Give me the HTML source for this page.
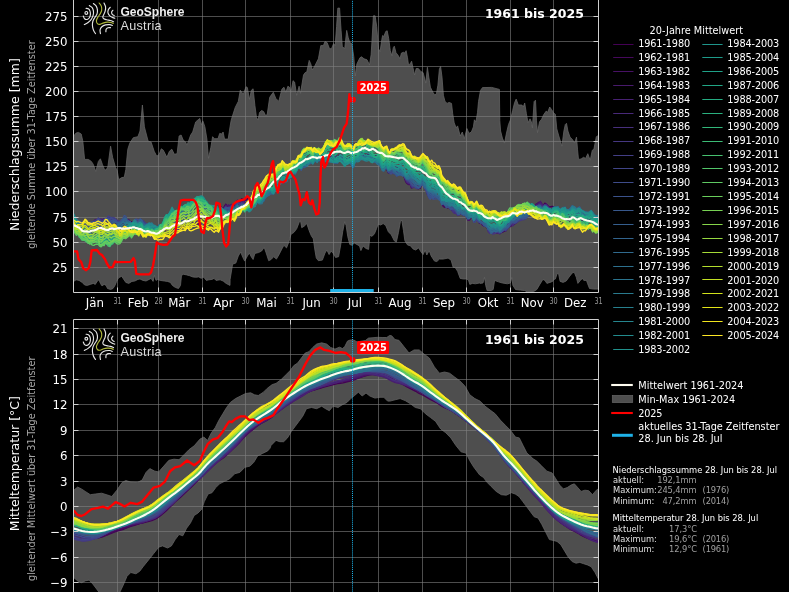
<!DOCTYPE html><html><head><meta charset="utf-8"><title>Klimamonitoring</title><style>html,body{margin:0;padding:0;background:#000;overflow:hidden}svg{display:block}</style></head><body><svg width="789" height="592" viewBox="0 0 789 592" font-family="'DejaVu Sans','Liberation Sans',sans-serif">
<rect width="789" height="592" fill="#000"/>
<defs><clipPath id="ct"><rect x="73.5" y="-5" width="525.0" height="297.5"/></clipPath><clipPath id="cb"><rect x="73.5" y="319.5" width="525.0" height="277.5"/></clipPath></defs>
<g clip-path="url(#ct)">
<path d="M73.5 136.0L73.7 136.0L76.1 133.0L78.5 132.4L81.2 134.0L82.8 141.1L84.6 159.4L88.3 159.4L91.3 161.4L93.3 164.4L95.8 171.5L98.4 161.4L100.4 158.8L102.4 164.4L104.5 169.5L106.1 170.1L107.9 166.5L110.6 146.2L112.6 157.3L115.6 167.5L117.2 170.5L118.7 179.6L121.7 177.6L124.3 177.2L125.8 169.5L127.8 149.2L129.8 143.1L133.3 137.7L137.9 136.7L140.0 131.0L142.4 105.0L144.4 126.9L148.1 141.1L151.1 142.1L154.2 151.3L156.8 156.3L159.2 154.3L161.3 148.8L163.3 150.2L166.9 157.3L169.4 151.3L171.8 149.2L174.4 154.3L177.1 153.7L179.1 136.0L181.1 135.0L183.2 140.1L185.6 142.1L187.0 145.2L190.7 135.0L192.7 132.0L195.7 121.9L199.8 118.4L201.4 124.9L202.8 120.8L204.9 126.9L206.9 139.1L208.5 158.4L210.9 147.2L212.6 136.7L214.4 138.7L218.0 138.7L219.7 133.4L221.7 134.0L223.1 132.0L224.5 139.1L228.2 139.1L230.0 126.9L231.2 120.1L235.2 107.5L238.3 101.4L240.3 90.2L243.3 94.3L246.0 86.8L247.4 87.6L249.4 99.4L251.4 90.2L253.1 88.8L254.9 105.4L256.5 117.6L258.1 120.1L259.5 112.5L261.6 110.5L263.6 111.5L265.6 115.6L267.2 114.6L269.7 97.3L273.3 92.3L275.8 98.4L278.8 101.4L281.9 89.2L283.9 87.2L285.9 92.3L287.9 86.2L289.4 87.2L291.0 92.3L293.0 80.7L294.6 82.1L296.7 95.3L299.1 86.2L300.5 93.3L303.5 75.0L305.2 72.6L306.8 72.0L309.2 60.4L310.8 63.9L312.3 70.0L314.3 66.9L318.4 58.8L320.8 45.6L323.4 45.6L325.0 41.6L327.1 42.6L329.5 48.7L331.5 48.7L333.6 43.6L335.2 45.6L336.6 26.4L337.8 8.1L339.6 8.1L341.1 30.4L342.3 46.6L344.7 48.7L346.7 30.4L348.2 37.5L349.8 42.6L351.8 43.6L353.8 56.8L355.3 76.0L356.9 63.9L359.9 57.8L361.5 56.8L364.0 58.8L367.0 59.8L369.5 64.9L371.1 54.8L372.0 40.6L373.4 15.8L375.1 15.8L376.7 26.4L378.5 48.7L380.1 51.7L381.8 39.5L382.6 35.5L383.8 36.5L385.8 31.4L387.2 30.8L388.7 38.5L390.3 50.7L391.9 55.8L393.3 47.7L394.3 46.2L396.0 52.7L398.4 55.8L400.0 58.8L401.4 53.1L403.5 52.3L404.9 53.1L406.1 50.7L407.5 57.8L408.5 64.9L410.2 63.9L411.6 61.2L413.0 67.9L414.6 75.0L416.2 68.5L418.3 68.5L420.7 71.4L423.1 72.6L424.8 79.1L425.8 83.1L427.4 67.3L428.8 77.1L430.4 87.2L432.9 92.3L434.9 95.3L436.5 93.3L437.9 85.2L439.4 68.9L440.6 66.5L442.0 77.1L443.4 95.3L445.0 101.4L447.1 103.4L449.1 102.4L451.5 103.4L452.7 113.7L454.2 122.9L456.2 127.9L457.6 125.9L460.2 136.0L462.3 132.0L464.3 138.7L466.9 128.5L469.0 133.4L471.4 132.0L473.4 126.9L474.4 119.8L475.9 121.9L477.5 112.7L478.5 101.6L480.5 90.4L482.5 87.6L491.7 87.4L499.4 89.4L499.8 120.8L500.6 131.0L502.4 138.1L504.5 143.1L506.5 133.0L508.5 124.5L510.5 119.8L512.6 110.7L514.6 102.6L516.2 99.1L518.3 105.0L521.9 105.0L523.3 107.0L524.7 103.0L526.4 113.7L528.0 122.9L530.0 118.8L531.4 121.9L532.4 127.9L534.1 101.6L535.5 100.2L536.5 120.8L537.5 132.6L539.5 121.9L541.6 119.2L543.6 114.8L546.2 111.1L547.7 112.3L549.7 107.0L551.7 109.7L553.7 113.1L555.4 114.3L556.8 128.9L558.8 136.0L560.4 141.1L561.9 146.2L563.9 131.0L565.3 124.5L566.5 123.3L567.9 131.0L570.0 137.1L572.6 139.7L574.6 143.1L576.5 137.1L577.5 149.2L578.5 159.4L581.1 159.0L583.5 157.3L585.6 158.4L587.8 153.7L590.2 160.4L592.3 150.2L593.9 149.2L596.3 136.7L598.6 135.4L598.5 135.4L598.5 289.1L598.6 289.1L593.6 289.1L589.5 288.5L587.5 283.4L586.5 280.4L583.8 280.4L582.4 278.4L580.4 280.4L577.9 283.4L576.3 277.3L574.3 272.3L572.3 272.9L569.2 276.9L566.2 281.0L563.1 282.4L560.1 281.4L558.5 273.3L557.1 273.7L555.4 279.0L554.0 279.4L552.6 281.4L550.0 282.4L546.9 283.4L544.9 280.4L542.9 279.4L539.8 284.4L536.8 289.5L533.7 291.5L527.7 292.1L524.6 290.5L520.6 290.1L515.5 289.5L512.9 285.4L511.8 277.3L510.4 283.0L507.4 283.8L502.3 283.0L498.3 281.8L494.6 280.4L493.2 289.5L491.2 290.5L487.1 290.5L485.7 285.4L484.5 277.3L483.0 283.0L480.0 283.4L479.5 283.0L475.4 283.8L472.4 283.4L469.8 284.4L468.4 279.8L466.3 279.0L463.3 279.0L460.2 278.4L457.6 271.3L455.2 267.6L453.1 267.2L451.1 260.1L448.1 258.1L443.0 259.1L439.4 259.1L436.9 261.5L434.5 261.1L431.2 256.0L429.2 250.6L426.8 255.0L425.2 250.0L423.1 254.6L421.1 252.0L418.7 247.9L415.6 250.0L413.0 248.9L410.6 245.9L407.5 244.9L404.9 240.8L403.5 230.7L401.8 220.2L400.4 221.6L398.4 232.7L396.4 241.9L394.3 240.8L391.3 234.8L388.3 231.7L385.8 225.6L383.2 223.6L380.5 225.0L378.1 224.2L376.5 228.7L374.5 233.7L372.0 236.4L370.1 235.2L370.0 234.8L368.6 249.4L366.0 248.5L363.0 245.9L360.9 250.6L359.5 245.9L356.9 244.5L354.2 242.9L352.2 245.3L349.8 244.5L347.8 236.8L346.1 225.6L344.7 221.6L342.7 231.7L340.7 244.9L338.6 256.7L335.6 257.5L333.2 253.4L331.1 251.0L329.1 254.6L326.9 250.0L325.0 253.0L322.4 260.1L318.4 260.7L316.3 258.1L314.9 250.0L313.3 238.8L311.3 235.8L309.2 230.7L306.8 223.6L304.2 226.2L301.7 227.7L300.5 220.6L299.1 222.6L296.7 228.7L294.0 232.3L291.0 234.3L288.9 241.9L286.5 247.9L283.9 245.3L281.9 248.9L278.8 255.0L276.4 259.1L273.7 256.7L271.1 259.5L268.7 260.7L266.2 253.0L264.2 247.3L261.6 251.0L258.5 252.6L254.9 253.4L253.1 259.5L251.4 257.1L249.4 253.0L247.4 256.0L244.7 261.1L242.7 257.1L240.7 252.0L238.3 256.0L235.8 263.1L232.6 264.2L230.1 279.4L230.0 285.4L226.1 283.4L223.1 281.0L220.1 279.8L216.0 280.4L214.0 278.4L212.0 279.4L208.9 279.8L206.3 280.4L204.2 277.7L202.8 276.9L201.4 278.4L198.8 276.9L195.7 277.3L192.7 276.9L189.6 275.7L186.6 274.9L183.6 274.3L181.5 275.3L180.5 285.4L178.5 288.5L175.4 287.5L172.4 285.4L170.4 282.4L167.3 281.4L164.3 281.0L160.2 280.4L157.6 279.4L156.0 280.4L154.4 275.3L153.1 281.4L151.1 278.4L149.1 279.4L146.0 281.0L143.0 280.4L140.0 279.0L137.9 279.4L134.9 281.0L131.9 281.4L128.8 283.4L125.8 282.4L123.1 278.4L121.7 276.3L118.7 277.7L116.6 281.4L115.0 285.4L113.0 288.5L110.6 289.5L107.5 288.5L106.1 285.4L104.1 284.4L102.0 285.9L100.4 283.4L99.0 279.8L97.4 281.0L95.3 284.4L93.3 283.4L90.3 284.4L87.2 285.4L84.6 285.0L82.2 282.4L79.1 280.4L76.1 279.8L73.7 281.4L73.5 281.4Z" fill="#4e4e4e" stroke="#636363" stroke-width="0.8" stroke-linejoin="round"/>
<path d="M73.5 267.5H598.5M73.5 242.5H598.5M73.5 217.5H598.5M73.5 191.5H598.5M73.5 166.5H598.5M73.5 141.5H598.5M73.5 116.5H598.5M73.5 91.5H598.5M73.5 66.5H598.5M73.5 41.5H598.5M73.5 16.5H598.5M117.5 -5V292.5M158.5 -5V292.5M202.5 -5V292.5M245.5 -5V292.5M290.5 -5V292.5M333.5 -5V292.5M378.5 -5V292.5M422.5 -5V292.5M466.5 -5V292.5M510.5 -5V292.5M553.5 -5V292.5" stroke="#808080" stroke-opacity="0.6" stroke-width="1" fill="none"/>
<path d="M73.5 222.7L75.0 222.9L76.4 224.7L77.9 225.1L79.3 225.7L80.8 224.2L82.2 225.2L83.7 222.9L85.1 223.4L86.6 224.5L88.0 226.0L89.5 225.6L90.9 223.3L92.4 223.4L93.8 224.0L95.3 223.0L96.7 222.2L98.2 220.5L99.6 221.8L101.1 221.4L102.5 220.2L104.0 219.4L105.4 219.5L106.9 219.1L108.3 217.7L109.8 218.4L111.2 219.8L112.7 220.5L114.1 220.5L115.6 222.0L117.0 224.5L118.5 223.7L119.9 225.1L121.4 223.2L122.8 222.0L124.3 221.6L125.7 220.1L127.2 220.1L128.6 220.7L130.1 221.8L131.5 222.1L133.0 223.3L134.4 222.4L135.9 222.6L137.3 223.8L138.8 224.1L140.2 223.1L141.7 223.9L143.1 226.2L144.6 225.6L146.0 225.4L147.5 224.1L148.9 226.6L150.4 228.8L151.8 228.8L153.3 229.3L154.7 229.5L156.2 230.0L157.6 229.8L159.1 230.7L160.5 231.6L162.0 232.0L163.4 231.5L164.9 230.8L166.3 229.2L167.8 231.0L169.2 230.7L170.7 229.3L172.1 229.7L173.6 229.8L175.0 227.5L176.5 229.2L177.9 229.9L179.4 227.6L180.8 227.1L182.3 227.3L183.7 226.8L185.2 228.6L186.6 226.9L188.1 225.6L189.5 226.5L191.0 225.4L192.4 224.5L193.9 224.5L195.3 224.9L196.8 224.3L198.2 224.0L199.7 222.2L201.1 220.5L202.6 220.0L204.0 218.8L205.5 216.3L206.9 215.9L208.4 215.4L209.8 213.7L211.3 211.5L212.7 211.9L214.2 210.5L215.6 208.0L217.1 207.2L218.5 210.0L220.0 209.8L221.4 207.3L222.9 209.2L224.3 206.6L225.8 204.2L227.2 206.3L228.7 205.9L230.1 207.3L231.6 204.9L233.0 205.1L234.5 205.7L235.9 203.5L237.4 200.3L238.8 203.3L240.3 201.2L241.7 198.6L243.2 199.3L244.6 199.6L246.1 198.2L247.5 198.7L249.0 200.8L250.4 202.7L251.9 202.9L253.3 199.9L254.8 200.0L256.2 198.3L257.7 195.5L259.1 196.6L260.6 195.9L262.0 196.6L263.5 192.9L264.9 191.3L266.4 189.7L267.8 190.5L269.3 187.9L270.7 188.0L272.2 188.7L273.6 188.3L275.1 183.8L276.5 182.3L278.0 182.3L279.4 180.7L280.9 179.3L282.3 177.2L283.8 176.3L285.2 175.6L286.7 174.1L288.1 173.9L289.6 174.6L291.0 174.3L292.5 171.9L293.9 171.2L295.4 170.7L296.8 169.4L298.3 167.1L299.7 166.2L301.2 167.9L302.6 161.7L304.1 161.1L305.5 161.7L307.0 159.3L308.4 159.0L309.9 158.6L311.3 160.5L312.8 162.4L314.2 157.4L315.7 157.1L317.1 159.8L318.6 159.8L320.0 157.8L321.5 160.0L322.9 159.2L324.4 158.2L325.8 157.5L327.3 155.9L328.7 154.6L330.2 156.3L331.6 157.2L333.1 157.1L334.5 155.6L336.0 156.8L337.4 158.7L338.9 158.1L340.3 158.7L341.8 159.6L343.2 159.4L344.7 159.0L346.1 158.9L347.6 158.3L349.0 157.3L350.5 156.4L351.9 158.3L353.4 158.6L354.8 155.4L356.3 153.5L357.7 153.4L359.2 151.3L360.6 150.3L362.1 151.5L363.5 153.9L365.0 155.9L366.4 157.7L367.9 156.1L369.3 157.1L370.8 156.0L372.2 158.0L373.7 155.6L375.1 155.9L376.6 157.2L378.0 159.3L379.5 161.9L380.9 165.8L382.4 167.4L383.8 166.8L385.3 165.5L386.7 167.7L388.2 172.2L389.6 173.1L391.1 170.2L392.5 168.7L394.0 168.2L395.4 167.0L396.9 167.5L398.3 169.7L399.8 169.6L401.2 169.4L402.7 171.6L404.1 175.1L405.6 178.5L407.0 181.3L408.5 182.7L409.9 181.7L411.4 184.3L412.8 185.3L414.3 184.2L415.7 184.6L417.2 186.6L418.6 186.8L420.1 188.2L421.5 185.2L423.0 183.9L424.4 186.0L425.9 187.1L427.3 189.4L428.8 193.7L430.2 194.2L431.7 195.4L433.1 195.5L434.6 196.5L436.0 195.9L437.5 195.9L438.9 196.2L440.4 198.8L441.8 203.2L443.3 205.5L444.7 205.1L446.2 207.3L447.6 208.0L449.1 207.1L450.5 209.3L452.0 208.9L453.4 209.6L454.9 210.6L456.3 211.1L457.8 212.9L459.2 214.0L460.7 213.0L462.1 213.5L463.6 213.1L465.0 212.5L466.5 215.7L467.9 218.5L469.4 219.5L470.8 217.1L472.3 217.0L473.7 218.5L475.2 218.0L476.6 215.7L478.1 219.8L479.5 222.0L481.0 222.3L482.4 224.8L483.9 225.9L485.3 226.1L486.8 227.2L488.2 230.0L489.7 230.6L491.1 230.4L492.6 230.9L494.0 230.9L495.5 231.1L496.9 231.3L498.4 232.4L499.8 232.5L501.3 232.7L502.7 232.2L504.2 230.8L505.6 231.1L507.1 229.1L508.5 226.8L510.0 224.2L511.4 222.9L512.9 222.3L514.3 221.9L515.8 221.1L517.2 220.8L518.7 218.8L520.1 217.8L521.6 217.6L523.0 215.8L524.5 215.4L525.9 213.5L527.4 212.3L528.8 211.5L530.3 209.4L531.7 207.7L533.2 209.0L534.6 207.1L536.1 204.4L537.5 204.6L539.0 202.9L540.4 203.3L541.9 205.5L543.3 205.8L544.8 203.1L546.2 204.3L547.7 205.6L549.1 207.1L550.6 206.6L552.0 206.3L553.5 206.7L554.9 209.3L556.4 211.8L557.8 211.1L559.3 215.0L560.7 216.3L562.2 216.5L563.6 214.9L565.1 216.4L566.5 218.9L568.0 220.3L569.4 219.1L570.9 217.3L572.3 216.9L573.8 217.8L575.2 219.4L576.7 220.6L578.1 219.4L579.6 218.4L581.0 220.8L582.5 219.9L583.9 218.5L585.4 220.0L586.8 220.7L588.3 220.1L589.7 218.1L591.2 220.3L592.6 223.7L594.1 225.3L595.5 223.9L597.0 223.4L598.4 224.5" stroke="#440154" stroke-width="1.35" fill="none" stroke-linejoin="round"/>
<path d="M73.5 221.7L75.0 222.7L76.4 226.1L77.9 225.2L79.3 225.9L80.8 224.1L82.2 225.2L83.7 223.0L85.1 222.2L86.6 223.8L88.0 224.7L89.5 227.3L90.9 224.3L92.4 224.3L93.8 224.8L95.3 222.8L96.7 222.6L98.2 219.9L99.6 220.3L101.1 220.9L102.5 219.7L104.0 219.1L105.4 219.7L106.9 220.7L108.3 219.8L109.8 219.0L111.2 220.9L112.7 219.5L114.1 219.4L115.6 220.2L117.0 222.0L118.5 222.0L119.9 224.7L121.4 223.4L122.8 223.8L124.3 222.5L125.7 221.4L127.2 221.4L128.6 220.6L130.1 221.3L131.5 221.6L133.0 223.2L134.4 222.7L135.9 222.1L137.3 222.9L138.8 223.3L140.2 223.7L141.7 224.0L143.1 226.3L144.6 224.8L146.0 225.5L147.5 224.4L148.9 226.1L150.4 227.5L151.8 227.9L153.3 229.7L154.7 229.7L156.2 229.1L157.6 230.2L159.1 230.9L160.5 230.7L162.0 231.2L163.4 231.3L164.9 230.7L166.3 229.4L167.8 230.5L169.2 230.6L170.7 229.2L172.1 229.0L173.6 229.9L175.0 226.9L176.5 226.0L177.9 227.7L179.4 226.7L180.8 226.9L182.3 226.2L183.7 225.0L185.2 227.5L186.6 225.9L188.1 224.2L189.5 226.1L191.0 225.9L192.4 224.3L193.9 224.3L195.3 224.6L196.8 224.4L198.2 222.8L199.7 221.5L201.1 220.3L202.6 219.6L204.0 219.0L205.5 216.3L206.9 215.8L208.4 215.5L209.8 214.2L211.3 212.9L212.7 212.6L214.2 211.9L215.6 209.8L217.1 208.9L218.5 209.7L220.0 209.4L221.4 207.1L222.9 209.3L224.3 208.0L225.8 205.0L227.2 205.8L228.7 205.7L230.1 207.2L231.6 205.8L233.0 206.2L234.5 206.9L235.9 204.3L237.4 200.7L238.8 202.7L240.3 201.5L241.7 200.0L243.2 200.3L244.6 200.7L246.1 199.3L247.5 200.7L249.0 201.9L250.4 202.4L251.9 202.6L253.3 200.1L254.8 198.8L256.2 196.7L257.7 194.8L259.1 196.3L260.6 196.1L262.0 195.6L263.5 191.3L264.9 190.3L266.4 189.1L267.8 190.3L269.3 188.8L270.7 188.2L272.2 189.8L273.6 189.2L275.1 184.3L276.5 181.1L278.0 180.6L279.4 180.1L280.9 180.0L282.3 178.5L283.8 179.0L285.2 179.1L286.7 177.1L288.1 176.1L289.6 174.8L291.0 174.0L292.5 171.6L293.9 170.0L295.4 170.7L296.8 168.8L298.3 166.6L299.7 166.2L301.2 168.5L302.6 164.3L304.1 162.7L305.5 163.6L307.0 162.0L308.4 161.4L309.9 160.4L311.3 159.6L312.8 160.6L314.2 156.4L315.7 157.8L317.1 158.9L318.6 158.6L320.0 157.4L321.5 160.6L322.9 159.6L324.4 156.6L325.8 157.3L327.3 156.4L328.7 155.9L330.2 157.4L331.6 158.2L333.1 158.8L334.5 157.0L336.0 158.4L337.4 159.4L338.9 157.3L340.3 156.9L341.8 158.1L343.2 157.9L344.7 158.2L346.1 158.3L347.6 158.0L349.0 157.4L350.5 156.9L351.9 159.7L353.4 160.2L354.8 156.6L356.3 154.2L357.7 155.2L359.2 152.5L360.6 151.8L362.1 153.2L363.5 154.4L365.0 156.1L366.4 157.1L367.9 155.0L369.3 156.5L370.8 157.5L372.2 158.8L373.7 156.1L375.1 155.4L376.6 156.1L378.0 157.4L379.5 159.6L380.9 164.9L382.4 167.9L383.8 169.2L385.3 167.3L386.7 169.1L388.2 172.7L389.6 172.4L391.1 169.8L392.5 167.4L394.0 169.1L395.4 168.1L396.9 168.0L398.3 169.3L399.8 168.0L401.2 169.7L402.7 171.9L404.1 176.6L405.6 181.6L407.0 183.5L408.5 184.3L409.9 183.7L411.4 185.5L412.8 185.2L414.3 183.1L415.7 184.6L417.2 188.2L418.6 188.5L420.1 187.9L421.5 183.2L423.0 184.7L424.4 186.1L425.9 186.6L427.3 188.7L428.8 193.1L430.2 192.7L431.7 193.8L433.1 194.7L434.6 195.9L436.0 195.4L437.5 195.7L438.9 196.9L440.4 199.1L441.8 203.8L443.3 206.5L444.7 207.3L446.2 206.8L447.6 205.5L449.1 205.7L450.5 208.6L452.0 208.8L453.4 208.6L454.9 209.5L456.3 209.5L457.8 211.7L459.2 212.7L460.7 212.4L462.1 212.8L463.6 212.9L465.0 212.4L466.5 216.7L467.9 219.8L469.4 220.1L470.8 216.6L472.3 218.0L473.7 220.7L475.2 219.8L476.6 217.6L478.1 221.1L479.5 223.3L481.0 222.3L482.4 224.4L483.9 225.6L485.3 224.9L486.8 225.0L488.2 227.9L489.7 229.9L491.1 230.9L492.6 231.3L494.0 232.0L495.5 231.4L496.9 232.3L498.4 232.6L499.8 231.7L501.3 232.0L502.7 231.1L504.2 229.0L505.6 229.7L507.1 227.7L508.5 227.0L510.0 226.4L511.4 225.9L512.9 225.1L514.3 224.2L515.8 222.9L517.2 221.6L518.7 218.4L520.1 217.9L521.6 215.7L523.0 215.4L524.5 214.9L525.9 213.4L527.4 211.4L528.8 210.2L530.3 209.3L531.7 207.3L533.2 207.3L534.6 207.0L536.1 204.6L537.5 203.8L539.0 202.3L540.4 202.4L541.9 204.7L543.3 205.9L544.8 204.6L546.2 204.4L547.7 206.5L549.1 209.1L550.6 209.8L552.0 208.4L553.5 207.1L554.9 209.5L556.4 210.7L557.8 210.6L559.3 214.4L560.7 216.0L562.2 215.3L563.6 214.5L565.1 216.3L566.5 219.3L568.0 220.5L569.4 220.4L570.9 218.3L572.3 215.9L573.8 215.9L575.2 217.6L576.7 218.5L578.1 217.2L579.6 217.8L581.0 219.7L582.5 219.7L583.9 217.8L585.4 218.9L586.8 221.0L588.3 219.6L589.7 219.1L591.2 220.0L592.6 222.7L594.1 224.0L595.5 223.6L597.0 221.1L598.4 222.7" stroke="#46085c" stroke-width="1.35" fill="none" stroke-linejoin="round"/>
<path d="M73.5 221.0L75.0 223.5L76.4 225.8L77.9 224.6L79.3 226.7L80.8 225.5L82.2 225.8L83.7 223.3L85.1 223.5L86.6 224.2L88.0 226.1L89.5 226.5L90.9 223.9L92.4 223.9L93.8 223.7L95.3 220.9L96.7 220.7L98.2 219.7L99.6 220.5L101.1 221.6L102.5 220.6L104.0 219.7L105.4 219.9L106.9 220.6L108.3 220.0L109.8 220.0L111.2 221.6L112.7 219.4L114.1 218.6L115.6 220.1L117.0 221.8L118.5 221.8L119.9 224.0L121.4 222.7L122.8 221.1L124.3 220.6L125.7 220.3L127.2 220.9L128.6 219.5L130.1 221.6L131.5 222.9L133.0 222.8L134.4 221.7L135.9 222.2L137.3 222.7L138.8 223.2L140.2 222.3L141.7 221.2L143.1 224.4L144.6 224.7L146.0 225.9L147.5 225.4L148.9 226.3L150.4 230.0L151.8 229.1L153.3 231.1L154.7 230.6L156.2 228.9L157.6 229.7L159.1 230.2L160.5 230.9L162.0 231.4L163.4 231.2L164.9 229.0L166.3 229.2L167.8 230.6L169.2 230.4L170.7 228.4L172.1 228.3L173.6 229.6L175.0 227.0L176.5 226.0L177.9 226.2L179.4 225.6L180.8 225.4L182.3 224.1L183.7 224.5L185.2 228.0L186.6 227.2L188.1 225.2L189.5 226.9L191.0 225.6L192.4 225.5L193.9 224.1L195.3 223.8L196.8 222.6L198.2 220.6L199.7 219.5L201.1 219.5L202.6 220.2L204.0 218.9L205.5 215.9L206.9 216.0L208.4 214.9L209.8 213.7L211.3 212.6L212.7 213.2L214.2 212.6L215.6 209.1L217.1 209.0L218.5 210.9L220.0 210.8L221.4 209.6L222.9 211.3L224.3 208.0L225.8 205.3L227.2 206.2L228.7 205.3L230.1 205.6L231.6 204.7L233.0 206.0L234.5 207.3L235.9 205.4L237.4 202.2L238.8 204.4L240.3 203.3L241.7 200.8L243.2 201.7L244.6 201.4L246.1 198.8L247.5 200.0L249.0 201.8L250.4 200.8L251.9 201.3L253.3 198.9L254.8 198.4L256.2 196.9L257.7 195.8L259.1 197.6L260.6 197.8L262.0 197.3L263.5 193.6L264.9 193.4L266.4 190.3L267.8 190.2L269.3 188.8L270.7 188.2L272.2 189.9L273.6 188.7L275.1 182.8L276.5 180.7L278.0 182.0L279.4 181.2L280.9 182.0L282.3 180.7L283.8 180.7L285.2 181.1L286.7 177.9L288.1 176.6L289.6 173.4L291.0 172.7L292.5 170.7L293.9 168.4L295.4 169.3L296.8 167.8L298.3 167.1L299.7 167.0L301.2 167.8L302.6 164.0L304.1 161.8L305.5 162.3L307.0 161.5L308.4 160.5L309.9 161.4L311.3 161.0L312.8 161.8L314.2 157.8L315.7 158.9L317.1 159.9L318.6 158.7L320.0 158.1L321.5 159.7L322.9 158.7L324.4 156.4L325.8 157.5L327.3 156.6L328.7 157.5L330.2 158.3L331.6 159.0L333.1 159.6L334.5 158.0L336.0 158.9L337.4 158.6L338.9 155.4L340.3 155.0L341.8 156.8L343.2 158.6L344.7 160.1L346.1 159.3L347.6 158.7L349.0 158.4L350.5 156.6L351.9 158.6L353.4 159.5L354.8 158.6L356.3 156.5L357.7 157.9L359.2 154.0L360.6 152.8L362.1 153.5L363.5 155.0L365.0 155.4L366.4 154.8L367.9 154.0L369.3 154.6L370.8 156.1L372.2 157.4L373.7 154.9L375.1 156.3L376.6 158.9L378.0 160.7L379.5 162.1L380.9 167.4L382.4 169.3L383.8 169.4L385.3 167.4L386.7 168.2L388.2 172.4L389.6 173.0L391.1 169.4L392.5 167.8L394.0 168.9L395.4 168.7L396.9 169.5L398.3 171.3L399.8 171.3L401.2 172.2L402.7 173.1L404.1 176.2L405.6 179.3L407.0 181.6L408.5 184.6L409.9 184.2L411.4 188.1L412.8 187.3L414.3 185.0L415.7 184.5L417.2 187.1L418.6 187.1L420.1 185.0L421.5 180.5L423.0 181.8L424.4 183.4L425.9 184.8L427.3 188.4L428.8 193.9L430.2 193.7L431.7 194.6L433.1 194.9L434.6 196.7L436.0 197.2L437.5 197.3L438.9 198.2L440.4 199.4L441.8 202.5L443.3 204.8L444.7 204.3L446.2 205.3L447.6 206.0L449.1 206.6L450.5 208.5L452.0 210.3L453.4 209.7L454.9 210.5L456.3 211.4L457.8 212.8L459.2 212.2L460.7 211.6L462.1 213.7L463.6 215.1L465.0 213.7L466.5 217.5L467.9 220.1L469.4 220.4L470.8 216.8L472.3 217.4L473.7 218.6L475.2 217.0L476.6 215.9L478.1 219.7L479.5 221.6L481.0 221.7L482.4 223.9L483.9 225.7L485.3 225.8L486.8 225.9L488.2 228.6L489.7 230.9L491.1 231.9L492.6 232.2L494.0 232.5L495.5 231.7L496.9 231.5L498.4 232.4L499.8 232.7L501.3 232.4L502.7 231.2L504.2 230.2L505.6 229.8L507.1 226.8L508.5 226.1L510.0 225.2L511.4 224.0L512.9 222.1L514.3 220.7L515.8 221.3L517.2 219.9L518.7 218.0L520.1 217.9L521.6 215.8L523.0 216.1L524.5 217.3L525.9 214.8L527.4 213.2L528.8 211.6L530.3 210.6L531.7 208.0L533.2 208.3L534.6 206.5L536.1 204.1L537.5 203.2L539.0 202.6L540.4 202.5L541.9 205.3L543.3 206.4L544.8 205.8L546.2 203.8L547.7 205.8L549.1 209.3L550.6 210.2L552.0 209.0L553.5 208.6L554.9 209.3L556.4 210.2L557.8 209.6L559.3 214.1L560.7 214.6L562.2 214.8L563.6 212.9L565.1 214.7L566.5 219.0L568.0 220.9L569.4 220.5L570.9 218.5L572.3 216.2L573.8 217.6L575.2 218.6L576.7 218.3L578.1 216.2L579.6 215.8L581.0 217.4L582.5 217.2L583.9 217.5L585.4 219.5L586.8 220.6L588.3 220.3L589.7 218.2L591.2 218.5L592.6 220.5L594.1 221.6L595.5 222.6L597.0 222.5L598.4 221.9" stroke="#471164" stroke-width="1.35" fill="none" stroke-linejoin="round"/>
<path d="M73.5 221.2L75.0 222.4L76.4 225.7L77.9 224.8L79.3 225.2L80.8 226.0L82.2 226.2L83.7 225.0L85.1 224.7L86.6 224.7L88.0 225.0L89.5 226.7L90.9 224.0L92.4 223.7L93.8 221.6L95.3 219.5L96.7 220.1L98.2 218.4L99.6 219.4L101.1 219.5L102.5 220.1L104.0 219.1L105.4 218.5L106.9 219.4L108.3 218.9L109.8 219.7L111.2 221.2L112.7 220.3L114.1 219.7L115.6 221.0L117.0 221.7L118.5 222.6L119.9 226.1L121.4 224.4L122.8 222.2L124.3 220.8L125.7 220.4L127.2 221.6L128.6 221.9L130.1 222.7L131.5 223.7L133.0 222.9L134.4 221.5L135.9 221.5L137.3 221.9L138.8 223.4L140.2 222.0L141.7 221.0L143.1 222.3L144.6 223.4L146.0 226.0L147.5 225.8L148.9 225.8L150.4 228.9L151.8 229.1L153.3 230.1L154.7 230.8L156.2 229.7L157.6 229.8L159.1 229.1L160.5 230.6L162.0 231.4L163.4 231.8L164.9 229.1L166.3 228.3L167.8 228.6L169.2 230.0L170.7 229.1L172.1 228.6L173.6 229.1L175.0 225.7L176.5 225.3L177.9 225.4L179.4 225.1L180.8 224.8L182.3 223.3L183.7 223.8L185.2 226.8L186.6 226.2L188.1 224.5L189.5 226.4L191.0 225.7L192.4 225.4L193.9 225.2L195.3 224.1L196.8 222.8L198.2 220.4L199.7 219.0L201.1 218.2L202.6 219.5L204.0 218.1L205.5 214.8L206.9 214.9L208.4 215.0L209.8 214.2L211.3 215.1L212.7 213.7L214.2 213.1L215.6 211.1L217.1 209.8L218.5 210.1L220.0 210.1L221.4 209.6L222.9 210.3L224.3 207.5L225.8 205.2L227.2 205.6L228.7 205.0L230.1 206.3L231.6 204.4L233.0 205.1L234.5 207.5L235.9 204.9L237.4 201.6L238.8 203.7L240.3 203.8L241.7 202.3L243.2 203.7L244.6 204.3L246.1 202.6L247.5 203.1L249.0 202.9L250.4 200.7L251.9 198.9L253.3 197.4L254.8 197.1L256.2 196.5L257.7 196.8L259.1 197.4L260.6 198.4L262.0 198.8L263.5 195.1L264.9 193.6L266.4 190.6L267.8 190.8L269.3 188.7L270.7 187.9L272.2 188.8L273.6 188.4L275.1 184.0L276.5 181.1L278.0 182.7L279.4 182.1L280.9 181.8L282.3 179.9L283.8 179.0L285.2 179.9L286.7 178.1L288.1 176.8L289.6 174.8L291.0 175.1L292.5 172.8L293.9 170.1L295.4 170.3L296.8 168.8L298.3 167.7L299.7 167.6L301.2 168.2L302.6 164.6L304.1 162.2L305.5 162.1L307.0 160.5L308.4 160.6L309.9 161.1L311.3 160.5L312.8 160.8L314.2 156.6L315.7 159.0L317.1 160.3L318.6 158.6L320.0 158.1L321.5 161.7L322.9 161.3L324.4 158.6L325.8 159.1L327.3 158.5L328.7 158.7L330.2 157.3L331.6 156.8L333.1 157.0L334.5 156.6L336.0 158.0L337.4 158.3L338.9 156.2L340.3 156.2L341.8 158.2L343.2 159.9L344.7 160.3L346.1 158.4L347.6 157.8L349.0 158.2L350.5 156.9L351.9 159.7L353.4 160.5L354.8 158.3L356.3 156.7L357.7 158.1L359.2 155.3L360.6 153.5L362.1 155.0L363.5 156.4L365.0 157.5L366.4 155.6L367.9 152.8L369.3 154.4L370.8 156.7L372.2 158.8L373.7 155.9L375.1 157.4L376.6 159.0L378.0 159.4L379.5 160.9L380.9 165.2L382.4 167.6L383.8 168.2L385.3 166.0L386.7 167.5L388.2 171.4L389.6 173.4L391.1 171.1L392.5 169.1L394.0 172.0L395.4 171.5L396.9 172.3L398.3 173.6L399.8 171.3L401.2 172.8L402.7 173.3L404.1 176.0L405.6 179.3L407.0 181.9L408.5 183.2L409.9 183.0L411.4 185.0L412.8 185.1L414.3 184.2L415.7 184.8L417.2 188.5L418.6 188.9L420.1 187.3L421.5 182.7L423.0 182.9L424.4 184.8L425.9 185.6L427.3 188.2L428.8 192.7L430.2 192.2L431.7 194.2L433.1 193.7L434.6 195.7L436.0 197.3L437.5 198.0L438.9 198.0L440.4 199.7L441.8 203.1L443.3 205.0L444.7 204.5L446.2 205.4L447.6 205.8L449.1 206.3L450.5 208.7L452.0 209.7L453.4 209.6L454.9 211.3L456.3 212.2L457.8 214.4L459.2 212.9L460.7 211.0L462.1 212.6L463.6 212.5L465.0 212.3L466.5 215.2L467.9 218.7L469.4 219.0L470.8 216.3L472.3 217.8L473.7 221.0L475.2 219.2L476.6 217.8L478.1 220.2L479.5 221.8L481.0 222.2L482.4 224.6L483.9 225.6L485.3 224.7L486.8 223.3L488.2 227.2L489.7 229.5L491.1 230.8L492.6 231.4L494.0 232.2L495.5 232.7L496.9 233.2L498.4 233.1L499.8 233.8L501.3 231.7L502.7 231.1L504.2 229.7L505.6 230.5L507.1 227.2L508.5 226.3L510.0 226.9L511.4 223.8L512.9 223.4L514.3 221.8L515.8 222.3L517.2 220.2L518.7 217.6L520.1 217.6L521.6 215.8L523.0 216.1L524.5 215.7L525.9 213.7L527.4 212.9L528.8 211.5L530.3 210.0L531.7 208.9L533.2 209.2L534.6 209.2L536.1 204.9L537.5 204.2L539.0 203.1L540.4 201.3L541.9 203.7L543.3 205.7L544.8 205.5L546.2 204.6L547.7 206.4L549.1 209.6L550.6 210.5L552.0 209.5L553.5 207.8L554.9 207.4L556.4 210.1L557.8 209.5L559.3 212.7L560.7 213.7L562.2 215.3L563.6 214.7L565.1 215.1L566.5 218.8L568.0 219.2L569.4 218.8L570.9 217.6L572.3 216.2L573.8 216.4L575.2 218.1L576.7 218.6L578.1 215.7L579.6 215.6L581.0 215.9L582.5 217.2L583.9 217.4L585.4 217.6L586.8 218.4L588.3 218.6L589.7 217.7L591.2 217.3L592.6 220.4L594.1 221.5L595.5 222.0L597.0 222.0L598.4 221.4" stroke="#481a6c" stroke-width="1.35" fill="none" stroke-linejoin="round"/>
<path d="M73.5 221.0L75.0 224.0L76.4 225.6L77.9 224.6L79.3 224.7L80.8 225.0L82.2 225.6L83.7 224.2L85.1 223.8L86.6 223.2L88.0 224.0L89.5 225.7L90.9 224.0L92.4 223.4L93.8 221.7L95.3 220.8L96.7 221.3L98.2 219.2L99.6 219.6L101.1 218.8L102.5 220.7L104.0 219.0L105.4 218.8L106.9 220.2L108.3 219.7L109.8 220.9L111.2 221.9L112.7 220.6L114.1 219.7L115.6 220.1L117.0 220.4L118.5 221.2L119.9 224.7L121.4 223.4L122.8 221.3L124.3 220.1L125.7 219.1L127.2 220.5L128.6 220.3L130.1 222.2L131.5 223.7L133.0 223.6L134.4 222.3L135.9 223.5L137.3 223.3L138.8 222.3L140.2 222.2L141.7 221.2L143.1 222.4L144.6 223.8L146.0 225.3L147.5 225.2L148.9 225.8L150.4 228.5L151.8 228.9L153.3 231.3L154.7 231.6L156.2 231.1L157.6 232.4L159.1 230.8L160.5 230.3L162.0 230.9L163.4 229.9L164.9 228.1L166.3 228.9L167.8 229.4L169.2 229.3L170.7 227.4L172.1 226.7L173.6 227.0L175.0 225.7L176.5 226.8L177.9 225.4L179.4 225.4L180.8 223.4L182.3 222.2L183.7 222.6L185.2 225.7L186.6 225.2L188.1 224.3L189.5 224.7L191.0 225.6L192.4 224.7L193.9 224.1L195.3 224.3L196.8 221.9L198.2 220.8L199.7 218.2L201.1 216.5L202.6 218.1L204.0 217.6L205.5 215.1L206.9 215.4L208.4 215.2L209.8 214.3L211.3 214.7L212.7 213.5L214.2 213.3L215.6 209.9L217.1 208.8L218.5 209.5L220.0 209.6L221.4 210.9L222.9 210.6L224.3 208.9L225.8 207.4L227.2 207.3L228.7 206.4L230.1 206.9L231.6 205.7L233.0 206.4L234.5 207.4L235.9 205.7L237.4 201.4L238.8 202.0L240.3 202.5L241.7 200.5L243.2 200.8L244.6 203.0L246.1 203.0L247.5 203.6L249.0 204.1L250.4 203.3L251.9 202.0L253.3 199.9L254.8 197.8L256.2 196.5L257.7 194.9L259.1 196.6L260.6 199.2L262.0 200.2L263.5 196.4L264.9 194.7L266.4 191.3L267.8 191.0L269.3 190.0L270.7 189.3L272.2 190.7L273.6 189.2L275.1 184.3L276.5 182.4L278.0 184.8L279.4 182.7L280.9 182.7L282.3 180.6L283.8 179.4L285.2 179.7L286.7 177.9L288.1 177.0L289.6 175.5L291.0 175.4L292.5 173.2L293.9 170.4L295.4 170.4L296.8 167.9L298.3 167.1L299.7 167.6L301.2 167.6L302.6 164.9L304.1 163.2L305.5 162.2L307.0 161.4L308.4 159.6L309.9 161.3L311.3 161.5L312.8 162.0L314.2 158.3L315.7 159.5L317.1 160.3L318.6 157.5L320.0 156.9L321.5 159.3L322.9 161.2L324.4 159.4L325.8 158.6L327.3 158.6L328.7 159.3L330.2 157.1L331.6 156.9L333.1 156.6L334.5 156.6L336.0 156.2L337.4 156.9L338.9 156.4L340.3 155.6L341.8 157.2L343.2 159.5L344.7 160.6L346.1 159.1L347.6 159.0L349.0 160.1L350.5 159.0L351.9 161.2L353.4 161.9L354.8 160.4L356.3 158.1L357.7 158.1L359.2 155.5L360.6 154.8L362.1 154.9L363.5 155.2L365.0 156.8L366.4 156.7L367.9 155.5L369.3 155.1L370.8 156.5L372.2 157.3L373.7 155.3L375.1 157.1L376.6 158.1L378.0 158.8L379.5 160.8L380.9 165.7L382.4 168.0L383.8 169.7L385.3 167.1L386.7 167.8L388.2 171.2L389.6 172.4L391.1 169.7L392.5 169.9L394.0 173.3L395.4 171.0L396.9 172.0L398.3 173.1L399.8 171.9L401.2 173.8L402.7 174.0L404.1 175.6L405.6 180.3L407.0 182.7L408.5 183.1L409.9 183.1L411.4 185.5L412.8 186.0L414.3 185.0L415.7 185.4L417.2 187.9L418.6 187.1L420.1 185.8L421.5 183.3L423.0 181.8L424.4 185.2L425.9 187.7L427.3 191.7L428.8 194.9L430.2 194.5L431.7 194.5L433.1 194.0L434.6 195.1L436.0 196.3L437.5 197.6L438.9 198.1L440.4 198.9L441.8 202.1L443.3 203.3L444.7 202.0L446.2 204.1L447.6 204.9L449.1 205.3L450.5 207.4L452.0 208.0L453.4 208.7L454.9 212.1L456.3 213.3L457.8 214.6L459.2 214.7L460.7 213.1L462.1 213.5L463.6 214.2L465.0 213.1L466.5 215.0L467.9 218.6L469.4 217.8L470.8 216.1L472.3 216.6L473.7 220.0L475.2 218.2L476.6 216.4L478.1 219.9L479.5 222.5L481.0 221.8L482.4 223.1L483.9 226.0L485.3 225.3L486.8 225.8L488.2 230.2L489.7 232.1L491.1 232.0L492.6 232.0L494.0 230.8L495.5 231.6L496.9 232.8L498.4 232.3L499.8 232.6L501.3 231.3L502.7 229.3L504.2 229.2L505.6 228.7L507.1 226.2L508.5 225.8L510.0 225.3L511.4 224.4L512.9 224.2L514.3 222.0L515.8 222.5L517.2 220.4L518.7 218.2L520.1 218.5L521.6 217.5L523.0 216.7L524.5 216.0L525.9 214.7L527.4 213.0L528.8 211.1L530.3 209.9L531.7 209.1L533.2 209.4L534.6 209.9L536.1 205.5L537.5 205.4L539.0 204.0L540.4 203.0L541.9 204.6L543.3 205.3L544.8 205.3L546.2 204.3L547.7 205.9L549.1 208.6L550.6 210.3L552.0 209.5L553.5 207.8L554.9 206.6L556.4 209.2L557.8 209.1L559.3 213.6L560.7 214.8L562.2 215.7L563.6 214.1L565.1 215.7L566.5 217.7L568.0 218.1L569.4 218.4L570.9 217.4L572.3 215.1L573.8 216.0L575.2 217.9L576.7 218.4L578.1 214.7L579.6 214.1L581.0 215.3L582.5 215.9L583.9 215.2L585.4 217.0L586.8 217.4L588.3 219.3L589.7 218.5L591.2 217.5L592.6 219.9L594.1 219.9L595.5 220.9L597.0 220.5L598.4 220.3" stroke="#482173" stroke-width="1.35" fill="none" stroke-linejoin="round"/>
<path d="M73.5 220.6L75.0 223.9L76.4 225.6L77.9 225.6L79.3 224.4L80.8 224.1L82.2 225.0L83.7 224.4L85.1 223.2L86.6 223.1L88.0 224.8L89.5 226.4L90.9 223.1L92.4 222.0L93.8 221.1L95.3 220.3L96.7 220.0L98.2 219.1L99.6 220.1L101.1 219.8L102.5 221.6L104.0 220.3L105.4 218.5L106.9 220.9L108.3 219.3L109.8 220.6L111.2 221.7L112.7 219.9L114.1 218.5L115.6 219.8L117.0 220.3L118.5 221.8L119.9 223.8L121.4 223.4L122.8 221.2L124.3 220.7L125.7 220.3L127.2 222.7L128.6 223.4L130.1 223.4L131.5 223.2L133.0 222.8L134.4 221.6L135.9 222.0L137.3 221.7L138.8 220.6L140.2 218.8L141.7 220.5L143.1 221.1L144.6 223.7L146.0 225.2L147.5 226.6L148.9 227.8L150.4 229.1L151.8 229.9L153.3 231.8L154.7 230.8L156.2 230.3L157.6 231.0L159.1 229.9L160.5 230.8L162.0 230.8L163.4 230.7L164.9 227.4L166.3 227.2L167.8 228.1L169.2 230.8L170.7 228.5L172.1 227.3L173.6 227.1L175.0 225.1L176.5 226.9L177.9 225.3L179.4 224.6L180.8 223.9L182.3 224.1L183.7 224.1L185.2 224.9L186.6 224.7L188.1 224.0L189.5 224.2L191.0 223.7L192.4 222.5L193.9 222.4L195.3 223.2L196.8 219.6L198.2 219.1L199.7 216.8L201.1 215.2L202.6 216.9L204.0 217.0L205.5 214.5L206.9 213.9L208.4 214.6L209.8 213.5L211.3 215.2L212.7 214.1L214.2 213.4L215.6 211.4L217.1 209.6L218.5 209.8L220.0 210.0L221.4 211.8L222.9 209.9L224.3 207.8L225.8 206.9L227.2 207.9L228.7 207.0L230.1 207.3L231.6 206.1L233.0 206.9L234.5 208.1L235.9 204.8L237.4 201.7L238.8 202.9L240.3 204.9L241.7 202.7L243.2 202.0L244.6 204.2L246.1 204.0L247.5 203.2L249.0 204.3L250.4 203.5L251.9 202.6L253.3 200.6L254.8 197.9L256.2 197.5L257.7 196.2L259.1 198.2L260.6 198.7L262.0 199.9L263.5 197.7L264.9 195.5L266.4 191.9L267.8 191.0L269.3 190.6L270.7 189.0L272.2 191.0L273.6 189.3L275.1 184.2L276.5 183.2L278.0 183.8L279.4 182.5L280.9 182.2L282.3 180.5L283.8 179.2L285.2 179.7L286.7 178.1L288.1 177.0L289.6 176.8L291.0 177.6L292.5 175.1L293.9 173.1L295.4 172.9L296.8 168.3L298.3 167.0L299.7 166.9L301.2 168.0L302.6 165.7L304.1 162.7L305.5 162.5L307.0 161.6L308.4 159.4L309.9 160.1L311.3 160.5L312.8 161.5L314.2 159.0L315.7 160.5L317.1 161.7L318.6 158.9L320.0 157.7L321.5 159.3L322.9 161.6L324.4 159.9L325.8 157.7L327.3 158.3L328.7 159.1L330.2 157.5L331.6 156.2L333.1 156.7L334.5 156.1L336.0 156.3L337.4 156.8L338.9 156.1L340.3 154.6L341.8 156.1L343.2 159.0L344.7 161.8L346.1 160.8L347.6 161.4L349.0 161.5L350.5 159.6L351.9 160.6L353.4 162.0L354.8 159.0L356.3 157.8L357.7 158.5L359.2 155.4L360.6 154.8L362.1 154.9L363.5 155.7L365.0 157.9L366.4 156.2L367.9 156.9L369.3 157.6L370.8 157.6L372.2 159.2L373.7 156.9L375.1 157.9L376.6 158.1L378.0 159.1L379.5 159.0L380.9 162.8L382.4 166.8L383.8 168.5L385.3 167.1L386.7 168.8L388.2 170.7L389.6 171.8L391.1 170.1L392.5 169.9L394.0 173.6L395.4 171.7L396.9 173.8L398.3 174.5L399.8 174.6L401.2 173.9L402.7 173.3L404.1 175.0L405.6 178.9L407.0 181.5L408.5 183.0L409.9 183.0L411.4 186.1L412.8 187.0L414.3 186.0L415.7 186.0L417.2 186.5L418.6 186.1L420.1 185.6L421.5 183.5L423.0 182.3L424.4 186.5L425.9 189.3L427.3 193.9L428.8 196.2L430.2 195.6L431.7 195.4L433.1 194.8L434.6 194.5L436.0 196.2L437.5 197.2L438.9 195.9L440.4 196.2L441.8 200.7L443.3 202.6L444.7 200.9L446.2 203.9L447.6 205.3L449.1 205.3L450.5 208.8L452.0 209.5L453.4 210.3L454.9 213.1L456.3 212.4L457.8 215.4L459.2 214.7L460.7 213.0L462.1 214.1L463.6 215.3L465.0 213.4L466.5 213.8L467.9 216.6L469.4 216.6L470.8 214.2L472.3 215.1L473.7 218.8L475.2 217.2L476.6 217.2L478.1 220.1L479.5 221.9L481.0 223.3L482.4 223.4L483.9 224.9L485.3 225.9L486.8 225.3L488.2 229.6L489.7 232.6L491.1 231.4L492.6 231.9L494.0 231.2L495.5 230.9L496.9 231.9L498.4 232.7L499.8 232.4L501.3 231.5L502.7 230.7L504.2 229.9L505.6 229.1L507.1 226.6L508.5 225.0L510.0 225.1L511.4 224.4L512.9 225.7L514.3 222.8L515.8 222.9L517.2 221.3L518.7 218.9L520.1 217.9L521.6 216.3L523.0 217.1L524.5 216.3L525.9 215.2L527.4 212.1L528.8 210.4L530.3 209.3L531.7 208.7L533.2 209.4L534.6 210.0L536.1 206.8L537.5 207.3L539.0 206.0L540.4 204.3L541.9 207.0L543.3 206.8L544.8 205.9L546.2 205.2L547.7 206.4L549.1 207.8L550.6 209.1L552.0 209.0L553.5 207.8L554.9 207.1L556.4 210.1L557.8 210.1L559.3 213.9L560.7 214.6L562.2 215.2L563.6 212.8L565.1 214.2L566.5 216.8L568.0 215.5L569.4 215.8L570.9 213.9L572.3 213.5L573.8 214.2L575.2 217.0L576.7 217.2L578.1 215.5L579.6 214.5L581.0 215.1L582.5 215.8L583.9 215.9L585.4 216.4L586.8 216.9L588.3 218.5L589.7 217.8L591.2 216.8L592.6 219.9L594.1 219.7L595.5 220.5L597.0 219.5L598.4 218.9" stroke="#482979" stroke-width="1.35" fill="none" stroke-linejoin="round"/>
<path d="M73.5 220.1L75.0 221.9L76.4 224.0L77.9 225.0L79.3 224.4L80.8 223.3L82.2 224.5L83.7 224.7L85.1 223.5L86.6 222.8L88.0 225.3L89.5 225.6L90.9 224.1L92.4 223.3L93.8 221.7L95.3 221.3L96.7 220.8L98.2 218.9L99.6 219.9L101.1 220.5L102.5 221.1L104.0 220.3L105.4 218.6L106.9 219.8L108.3 218.7L109.8 219.8L111.2 219.8L112.7 218.2L114.1 218.7L115.6 220.3L117.0 220.6L118.5 221.4L119.9 222.1L121.4 223.0L122.8 221.6L124.3 221.2L125.7 220.0L127.2 223.0L128.6 225.1L130.1 224.0L131.5 224.1L133.0 224.1L134.4 223.1L135.9 221.4L137.3 223.0L138.8 221.8L140.2 220.6L141.7 221.9L143.1 221.4L144.6 222.8L146.0 223.6L147.5 223.7L148.9 225.3L150.4 227.4L151.8 227.7L153.3 229.7L154.7 230.1L156.2 230.7L157.6 232.8L159.1 230.9L160.5 230.2L162.0 231.5L163.4 230.0L164.9 227.5L166.3 227.9L167.8 229.4L169.2 230.4L170.7 227.5L172.1 226.0L173.6 226.5L175.0 224.6L176.5 227.4L177.9 225.3L179.4 225.3L180.8 223.8L182.3 223.7L183.7 224.6L185.2 225.2L186.6 224.6L188.1 223.6L189.5 223.6L191.0 222.2L192.4 220.1L193.9 219.8L195.3 220.8L196.8 218.0L198.2 218.7L199.7 217.2L201.1 216.0L202.6 216.4L204.0 217.2L205.5 216.5L206.9 215.3L208.4 215.4L209.8 213.6L211.3 214.1L212.7 213.0L214.2 213.9L215.6 211.4L217.1 210.0L218.5 209.1L220.0 208.4L221.4 210.3L222.9 209.9L224.3 209.0L225.8 208.4L227.2 209.2L228.7 208.9L230.1 208.0L231.6 205.9L233.0 205.7L234.5 207.3L235.9 204.4L237.4 200.5L238.8 202.3L240.3 203.9L241.7 202.4L243.2 203.4L244.6 204.2L246.1 205.4L247.5 204.4L249.0 205.7L250.4 204.3L251.9 203.6L253.3 202.2L254.8 199.5L256.2 200.4L257.7 198.6L259.1 199.4L260.6 199.5L262.0 199.0L263.5 197.4L264.9 194.1L266.4 191.6L267.8 191.7L269.3 191.4L270.7 189.1L272.2 189.7L273.6 188.8L275.1 186.3L276.5 185.6L278.0 185.4L279.4 184.2L280.9 182.0L282.3 180.6L283.8 178.9L285.2 179.7L286.7 177.6L288.1 176.8L289.6 176.6L291.0 177.1L292.5 174.4L293.9 173.4L295.4 173.0L296.8 169.2L298.3 166.8L299.7 167.9L301.2 167.4L302.6 165.2L304.1 163.3L305.5 163.7L307.0 162.7L308.4 160.9L309.9 160.8L311.3 160.1L312.8 161.4L314.2 158.2L315.7 158.2L317.1 160.7L318.6 158.3L320.0 158.6L321.5 159.6L322.9 161.5L324.4 160.3L325.8 157.9L327.3 159.3L328.7 158.8L330.2 157.4L331.6 156.4L333.1 156.6L334.5 155.8L336.0 156.3L337.4 157.7L338.9 157.1L340.3 155.7L341.8 156.7L343.2 160.3L344.7 162.1L346.1 162.3L347.6 161.9L349.0 163.1L350.5 160.6L351.9 161.6L353.4 162.0L354.8 158.8L356.3 157.9L357.7 158.0L359.2 155.3L360.6 154.3L362.1 154.6L363.5 155.2L365.0 157.0L366.4 156.3L367.9 156.8L369.3 158.1L370.8 157.7L372.2 159.9L373.7 158.7L375.1 159.7L376.6 159.7L378.0 159.8L379.5 160.0L380.9 163.0L382.4 166.5L383.8 168.2L385.3 165.8L386.7 166.7L388.2 169.2L389.6 171.2L391.1 171.4L392.5 171.5L394.0 173.4L395.4 172.1L396.9 173.4L398.3 173.3L399.8 173.8L401.2 172.3L402.7 172.9L404.1 175.4L405.6 179.0L407.0 181.7L408.5 182.7L409.9 182.5L411.4 186.6L412.8 187.6L414.3 186.4L415.7 187.3L417.2 188.2L418.6 186.9L420.1 186.0L421.5 183.5L423.0 183.1L424.4 186.4L425.9 189.9L427.3 194.1L428.8 196.4L430.2 196.3L431.7 195.0L433.1 194.0L434.6 194.3L436.0 195.5L437.5 195.8L438.9 195.3L440.4 194.9L441.8 199.4L443.3 201.6L444.7 201.7L446.2 204.8L447.6 206.2L449.1 206.6L450.5 209.4L452.0 210.5L453.4 212.7L454.9 213.5L456.3 213.2L457.8 215.3L459.2 214.1L460.7 211.6L462.1 212.0L463.6 214.0L465.0 214.0L466.5 214.1L467.9 216.6L469.4 217.2L470.8 215.3L472.3 215.4L473.7 219.5L475.2 218.0L476.6 217.1L478.1 218.4L479.5 220.5L481.0 222.0L482.4 222.2L483.9 223.7L485.3 225.3L486.8 225.1L488.2 231.5L489.7 233.4L491.1 232.7L492.6 233.2L494.0 232.5L495.5 232.9L496.9 232.0L498.4 233.0L499.8 233.3L501.3 231.2L502.7 229.7L504.2 228.9L505.6 228.8L507.1 226.4L508.5 224.1L510.0 221.9L511.4 222.0L512.9 224.4L514.3 223.6L515.8 223.2L517.2 221.7L518.7 220.5L520.1 219.6L521.6 218.2L523.0 217.4L524.5 217.0L525.9 216.1L527.4 213.8L528.8 212.6L530.3 211.8L531.7 210.8L533.2 210.9L534.6 209.7L536.1 206.1L537.5 206.4L539.0 206.1L540.4 204.5L541.9 205.6L543.3 206.1L544.8 205.1L546.2 205.6L547.7 207.0L549.1 207.7L550.6 209.8L552.0 210.6L553.5 207.9L554.9 207.0L556.4 209.5L557.8 210.2L559.3 213.8L560.7 213.3L562.2 211.8L563.6 211.0L565.1 210.9L566.5 213.0L568.0 213.7L569.4 214.8L570.9 214.2L572.3 215.2L573.8 214.8L575.2 217.1L576.7 216.8L578.1 213.7L579.6 212.9L581.0 213.3L582.5 214.1L583.9 212.6L585.4 214.9L586.8 215.9L588.3 217.5L589.7 218.4L591.2 217.1L592.6 219.8L594.1 222.1L595.5 221.1L597.0 219.7L598.4 218.9" stroke="#472f7d" stroke-width="1.35" fill="none" stroke-linejoin="round"/>
<path d="M73.5 219.8L75.0 222.4L76.4 223.7L77.9 225.2L79.3 224.4L80.8 223.9L82.2 224.6L83.7 223.6L85.1 222.3L86.6 222.7L88.0 225.2L89.5 226.4L90.9 224.2L92.4 223.5L93.8 222.3L95.3 222.5L96.7 220.6L98.2 219.1L99.6 218.7L101.1 220.5L102.5 220.8L104.0 220.1L105.4 220.1L106.9 220.7L108.3 217.3L109.8 218.3L111.2 218.7L112.7 218.7L114.1 218.3L115.6 220.5L117.0 220.5L118.5 220.7L119.9 222.0L121.4 222.3L122.8 221.5L124.3 221.5L125.7 220.2L127.2 222.5L128.6 224.6L130.1 223.7L131.5 224.2L133.0 223.6L134.4 223.1L135.9 221.5L137.3 222.6L138.8 221.4L140.2 219.6L141.7 221.3L143.1 222.1L144.6 223.3L146.0 223.8L147.5 224.1L148.9 225.2L150.4 227.0L151.8 227.4L153.3 230.1L154.7 230.7L156.2 230.0L157.6 231.8L159.1 232.3L160.5 231.4L162.0 232.8L163.4 231.5L164.9 227.8L166.3 228.1L167.8 228.9L169.2 230.1L170.7 225.5L172.1 224.4L173.6 225.3L175.0 224.1L176.5 226.9L177.9 225.3L179.4 225.3L180.8 224.9L182.3 224.9L183.7 224.9L185.2 225.3L186.6 223.8L188.1 221.9L189.5 221.2L191.0 220.8L192.4 219.2L193.9 218.3L195.3 219.0L196.8 216.9L198.2 218.3L199.7 216.3L201.1 215.8L202.6 215.0L204.0 216.0L205.5 215.3L206.9 216.0L208.4 217.4L209.8 215.6L211.3 214.9L212.7 213.8L214.2 213.1L215.6 210.5L217.1 208.4L218.5 208.3L220.0 208.5L221.4 211.1L222.9 211.6L224.3 209.9L225.8 208.5L227.2 209.1L228.7 208.6L230.1 208.0L231.6 206.1L233.0 206.1L234.5 207.5L235.9 204.7L237.4 201.6L238.8 202.5L240.3 205.0L241.7 203.3L243.2 203.3L244.6 204.0L246.1 205.1L247.5 204.6L249.0 205.7L250.4 206.1L251.9 205.3L253.3 203.2L254.8 200.4L256.2 201.2L257.7 199.1L259.1 199.7L260.6 200.0L262.0 200.2L263.5 199.3L264.9 195.4L266.4 191.4L267.8 190.4L269.3 190.4L270.7 189.0L272.2 190.1L273.6 189.5L275.1 186.9L276.5 185.5L278.0 184.9L279.4 183.9L280.9 181.4L282.3 180.4L283.8 180.3L285.2 181.5L286.7 178.6L288.1 177.1L289.6 178.6L291.0 177.5L292.5 174.4L293.9 173.3L295.4 173.3L296.8 169.8L298.3 167.5L299.7 166.4L301.2 166.2L302.6 163.7L304.1 162.4L305.5 163.5L307.0 162.1L308.4 161.3L309.9 161.7L311.3 160.7L312.8 161.6L314.2 159.5L315.7 157.2L317.1 159.1L318.6 158.5L320.0 158.5L321.5 159.1L322.9 162.1L324.4 160.9L325.8 158.8L327.3 160.9L328.7 158.8L330.2 158.1L331.6 157.7L333.1 158.4L334.5 157.8L336.0 158.4L337.4 159.9L338.9 157.8L340.3 156.4L341.8 157.4L343.2 159.7L344.7 160.1L346.1 160.8L347.6 161.4L349.0 162.1L350.5 160.2L351.9 163.1L353.4 164.7L354.8 160.1L356.3 159.1L357.7 159.3L359.2 155.3L360.6 154.3L362.1 154.8L363.5 156.3L365.0 156.9L366.4 157.2L367.9 156.3L369.3 157.2L370.8 157.6L372.2 159.3L373.7 158.7L375.1 158.9L376.6 158.1L378.0 159.1L379.5 160.2L380.9 163.5L382.4 166.6L383.8 169.1L385.3 168.4L386.7 168.2L388.2 169.9L389.6 172.0L391.1 172.7L392.5 173.2L394.0 173.4L395.4 172.4L396.9 175.3L398.3 171.6L399.8 173.2L401.2 172.8L402.7 172.0L404.1 172.9L405.6 177.3L407.0 180.5L408.5 181.0L409.9 182.4L411.4 185.8L412.8 187.0L414.3 186.2L415.7 188.2L417.2 188.5L418.6 187.2L420.1 186.3L421.5 185.0L423.0 184.2L424.4 187.7L425.9 189.9L427.3 193.6L428.8 196.8L430.2 197.5L431.7 195.6L433.1 195.4L434.6 194.4L436.0 195.9L437.5 196.5L438.9 195.1L440.4 195.8L441.8 200.8L443.3 201.3L444.7 201.8L446.2 204.6L447.6 204.9L449.1 205.6L450.5 208.0L452.0 209.3L453.4 211.7L454.9 211.6L456.3 213.0L457.8 215.5L459.2 214.7L460.7 211.7L462.1 212.9L463.6 214.7L465.0 213.5L466.5 213.6L467.9 215.2L469.4 216.2L470.8 214.9L472.3 215.8L473.7 219.5L475.2 220.2L476.6 218.0L478.1 220.1L479.5 221.0L481.0 223.0L482.4 223.0L483.9 223.9L485.3 225.1L486.8 224.4L488.2 230.3L489.7 233.0L491.1 231.8L492.6 234.2L494.0 233.8L495.5 232.9L496.9 232.0L498.4 231.7L499.8 231.8L501.3 230.6L502.7 229.5L504.2 229.1L505.6 228.6L507.1 225.8L508.5 223.6L510.0 223.7L511.4 221.9L512.9 222.7L514.3 222.2L515.8 221.8L517.2 222.1L518.7 221.0L520.1 220.6L521.6 219.8L523.0 219.6L524.5 219.6L525.9 217.1L527.4 214.3L528.8 211.8L530.3 210.8L531.7 210.0L533.2 209.9L534.6 209.7L536.1 207.3L537.5 206.7L539.0 205.4L540.4 206.0L541.9 207.7L543.3 206.5L544.8 205.9L546.2 206.4L547.7 208.5L549.1 208.9L550.6 210.1L552.0 210.1L553.5 207.3L554.9 206.8L556.4 207.9L557.8 209.5L559.3 212.6L560.7 213.8L562.2 213.2L563.6 211.6L565.1 211.1L566.5 212.8L568.0 211.6L569.4 213.1L570.9 211.9L572.3 212.0L573.8 212.4L575.2 216.3L576.7 215.3L578.1 213.4L579.6 213.5L581.0 214.2L582.5 215.2L583.9 213.3L585.4 214.7L586.8 214.4L588.3 215.7L589.7 216.6L591.2 216.0L592.6 218.6L594.1 220.4L595.5 219.4L597.0 219.0L598.4 218.4" stroke="#453781" stroke-width="1.35" fill="none" stroke-linejoin="round"/>
<path d="M73.5 219.6L75.0 221.0L76.4 222.5L77.9 223.7L79.3 223.6L80.8 224.0L82.2 224.4L83.7 223.2L85.1 221.9L86.6 222.5L88.0 225.6L89.5 226.3L90.9 224.8L92.4 223.8L93.8 223.0L95.3 222.8L96.7 222.0L98.2 220.2L99.6 220.6L101.1 222.0L102.5 221.0L104.0 220.5L105.4 218.8L106.9 218.3L108.3 216.1L109.8 216.8L111.2 217.7L112.7 217.5L114.1 217.8L115.6 219.1L117.0 221.5L118.5 222.7L119.9 223.4L121.4 222.9L122.8 221.0L124.3 221.4L125.7 220.9L127.2 221.5L128.6 223.4L130.1 223.7L131.5 222.8L133.0 224.1L134.4 223.3L135.9 222.5L137.3 223.0L138.8 221.5L140.2 219.4L141.7 220.2L143.1 220.8L144.6 222.2L146.0 223.6L147.5 224.2L148.9 225.2L150.4 227.1L151.8 228.2L153.3 230.1L154.7 229.7L156.2 229.8L157.6 231.0L159.1 231.2L160.5 230.8L162.0 233.9L163.4 232.2L164.9 227.6L166.3 228.0L167.8 228.9L169.2 230.4L170.7 226.5L172.1 227.0L173.6 227.5L175.0 225.4L176.5 228.1L177.9 226.9L179.4 224.9L180.8 222.5L182.3 223.0L183.7 223.0L185.2 223.2L186.6 221.3L188.1 220.0L189.5 221.0L191.0 220.6L192.4 217.8L193.9 218.3L195.3 218.7L196.8 216.1L198.2 217.3L199.7 216.1L201.1 215.6L202.6 215.2L204.0 215.7L205.5 215.7L206.9 214.4L208.4 214.2L209.8 213.5L211.3 214.3L212.7 214.0L214.2 212.8L215.6 210.8L217.1 209.8L218.5 209.5L220.0 209.5L221.4 211.3L222.9 212.7L224.3 210.2L225.8 209.6L227.2 209.0L228.7 208.0L230.1 207.2L231.6 205.5L233.0 205.4L234.5 207.1L235.9 206.0L237.4 203.3L238.8 203.5L240.3 204.6L241.7 203.0L243.2 204.3L244.6 205.4L246.1 205.2L247.5 205.6L249.0 206.0L250.4 205.8L251.9 206.1L253.3 204.9L254.8 203.3L256.2 202.7L257.7 200.3L259.1 200.7L260.6 200.6L262.0 200.2L263.5 199.7L264.9 196.2L266.4 193.5L267.8 192.9L269.3 191.7L270.7 189.2L272.2 189.4L273.6 189.1L275.1 186.3L276.5 185.1L278.0 183.7L279.4 183.0L280.9 180.7L282.3 180.9L283.8 180.9L285.2 181.5L286.7 178.8L288.1 177.5L289.6 178.3L291.0 176.7L292.5 173.1L293.9 172.4L295.4 173.2L296.8 171.3L298.3 167.6L299.7 166.7L301.2 165.5L302.6 163.3L304.1 162.6L305.5 163.2L307.0 162.1L308.4 161.6L309.9 161.5L311.3 161.3L312.8 161.3L314.2 159.9L315.7 158.5L317.1 161.3L318.6 160.1L320.0 159.9L321.5 160.1L322.9 161.4L324.4 161.9L325.8 159.9L327.3 160.6L328.7 159.9L330.2 160.2L331.6 159.0L333.1 159.5L334.5 159.7L336.0 158.3L337.4 158.9L338.9 157.9L340.3 155.1L341.8 156.4L343.2 158.4L344.7 159.9L346.1 160.6L347.6 162.0L349.0 162.6L350.5 161.4L351.9 163.8L353.4 165.2L354.8 159.7L356.3 159.4L357.7 160.4L359.2 157.3L360.6 156.2L362.1 156.2L363.5 157.5L365.0 158.8L366.4 157.9L367.9 155.9L369.3 155.8L370.8 156.4L372.2 157.8L373.7 157.0L375.1 156.7L376.6 158.3L378.0 159.0L379.5 160.2L380.9 163.7L382.4 168.5L383.8 171.0L385.3 168.8L386.7 167.7L388.2 170.2L389.6 170.8L391.1 172.6L392.5 172.7L394.0 173.7L395.4 172.9L396.9 175.0L398.3 172.8L399.8 174.6L401.2 172.0L402.7 171.6L404.1 173.8L405.6 178.1L407.0 180.7L408.5 181.3L409.9 182.0L411.4 184.6L412.8 186.4L414.3 186.4L415.7 187.9L417.2 188.1L418.6 186.9L420.1 185.9L421.5 183.4L423.0 183.3L424.4 186.9L425.9 190.0L427.3 192.2L428.8 197.7L430.2 198.8L431.7 197.4L433.1 197.1L434.6 196.2L436.0 196.6L437.5 197.0L438.9 195.4L440.4 196.5L441.8 201.7L443.3 202.1L444.7 202.4L446.2 205.5L447.6 206.1L449.1 205.6L450.5 208.4L452.0 209.5L453.4 209.5L454.9 210.5L456.3 212.2L457.8 214.4L459.2 213.5L460.7 211.4L462.1 213.3L463.6 215.7L465.0 214.8L466.5 215.6L467.9 215.6L469.4 216.5L470.8 216.0L472.3 216.8L473.7 219.5L475.2 220.2L476.6 218.1L478.1 220.8L479.5 221.5L481.0 222.9L482.4 224.1L483.9 223.9L485.3 224.9L486.8 224.8L488.2 228.0L489.7 230.5L491.1 229.9L492.6 231.7L494.0 231.5L495.5 231.2L496.9 230.0L498.4 230.8L499.8 231.5L501.3 231.3L502.7 230.0L504.2 229.6L505.6 230.9L507.1 229.2L508.5 226.1L510.0 224.3L511.4 221.9L512.9 222.4L514.3 221.4L515.8 220.5L517.2 220.4L518.7 220.0L520.1 219.7L521.6 219.7L523.0 219.5L524.5 218.2L525.9 217.3L527.4 215.9L528.8 213.6L530.3 213.4L531.7 212.2L533.2 212.1L534.6 209.9L536.1 207.9L537.5 206.5L539.0 204.6L540.4 205.8L541.9 207.3L543.3 206.5L544.8 204.8L546.2 205.3L547.7 207.6L549.1 209.6L550.6 211.3L552.0 212.0L553.5 209.5L554.9 209.4L556.4 211.4L557.8 211.0L559.3 212.3L560.7 211.7L562.2 209.9L563.6 207.8L565.1 207.2L566.5 209.5L568.0 210.3L569.4 211.8L570.9 211.7L572.3 211.3L573.8 211.1L575.2 215.9L576.7 215.4L578.1 213.7L579.6 213.9L581.0 215.2L582.5 214.7L583.9 212.7L585.4 213.7L586.8 212.5L588.3 213.7L589.7 214.9L591.2 214.1L592.6 217.1L594.1 219.3L595.5 219.2L597.0 219.7L598.4 218.0" stroke="#433e85" stroke-width="1.35" fill="none" stroke-linejoin="round"/>
<path d="M73.5 219.2L75.0 220.6L76.4 222.2L77.9 222.3L79.3 222.7L80.8 224.3L82.2 224.3L83.7 223.4L85.1 222.4L86.6 222.7L88.0 225.7L89.5 225.4L90.9 223.6L92.4 223.1L93.8 221.5L95.3 221.5L96.7 220.4L98.2 218.0L99.6 219.8L101.1 221.9L102.5 221.5L104.0 221.0L105.4 220.3L106.9 218.8L108.3 218.0L109.8 218.5L111.2 218.1L112.7 219.2L114.1 219.5L115.6 219.7L117.0 222.5L118.5 222.7L119.9 223.9L121.4 221.8L122.8 220.9L124.3 220.4L125.7 219.8L127.2 222.1L128.6 221.8L130.1 223.0L131.5 222.8L133.0 222.6L134.4 221.5L135.9 219.6L137.3 221.3L138.8 221.6L140.2 219.7L141.7 220.6L143.1 223.1L144.6 224.6L146.0 225.9L147.5 226.1L148.9 225.5L150.4 227.5L151.8 227.0L153.3 229.3L154.7 228.8L156.2 227.7L157.6 228.5L159.1 228.5L160.5 229.4L162.0 232.0L163.4 232.1L164.9 228.3L166.3 227.9L167.8 228.5L169.2 230.2L170.7 228.3L172.1 228.8L173.6 228.0L175.0 226.8L176.5 227.9L177.9 226.8L179.4 224.6L180.8 222.5L182.3 223.1L183.7 222.5L185.2 222.9L186.6 220.7L188.1 219.3L189.5 220.3L191.0 220.3L192.4 218.7L193.9 218.2L195.3 218.4L196.8 215.1L198.2 214.8L199.7 215.2L201.1 214.2L202.6 216.2L204.0 217.7L205.5 218.0L206.9 216.2L208.4 215.3L209.8 213.6L211.3 213.3L212.7 212.7L214.2 211.9L215.6 208.9L217.1 210.4L218.5 210.4L220.0 209.4L221.4 211.7L222.9 214.5L224.3 210.6L225.8 207.7L227.2 208.0L228.7 208.3L230.1 208.6L231.6 206.5L233.0 205.4L234.5 207.6L235.9 205.4L237.4 202.7L238.8 203.9L240.3 205.2L241.7 203.1L243.2 205.5L244.6 206.8L246.1 207.0L247.5 207.0L249.0 206.2L250.4 206.3L251.9 207.0L253.3 204.6L254.8 202.8L256.2 200.9L257.7 199.0L259.1 199.9L260.6 200.5L262.0 199.9L263.5 199.6L264.9 196.0L266.4 193.9L267.8 194.5L269.3 192.9L270.7 189.8L272.2 191.1L273.6 190.1L275.1 187.3L276.5 183.8L278.0 183.5L279.4 183.7L280.9 182.7L282.3 181.7L283.8 181.4L285.2 181.9L286.7 179.2L288.1 178.0L289.6 178.9L291.0 175.6L292.5 171.5L293.9 171.5L295.4 172.1L296.8 170.4L298.3 165.3L299.7 165.5L301.2 164.7L302.6 162.6L304.1 162.5L305.5 163.4L307.0 162.8L308.4 161.8L309.9 163.2L311.3 162.4L312.8 163.5L314.2 161.6L315.7 158.9L317.1 161.1L318.6 160.6L320.0 160.4L321.5 161.2L322.9 162.5L324.4 161.5L325.8 159.1L327.3 160.8L328.7 160.2L330.2 160.4L331.6 160.8L333.1 161.1L334.5 161.4L336.0 160.7L337.4 160.4L338.9 157.8L340.3 154.5L341.8 155.5L343.2 156.5L344.7 159.0L346.1 160.8L347.6 161.8L349.0 161.6L350.5 161.4L351.9 163.8L353.4 166.3L354.8 161.5L356.3 161.2L357.7 161.3L359.2 158.5L360.6 156.9L362.1 156.8L363.5 158.0L365.0 158.5L366.4 158.4L367.9 155.8L369.3 155.7L370.8 155.8L372.2 157.6L373.7 158.0L375.1 157.5L376.6 160.3L378.0 161.1L379.5 161.0L380.9 165.1L382.4 169.0L383.8 170.3L385.3 167.6L386.7 166.6L388.2 169.9L389.6 170.9L391.1 172.4L392.5 172.6L394.0 173.5L395.4 173.7L396.9 176.1L398.3 173.6L399.8 174.8L401.2 174.5L402.7 172.6L404.1 173.4L405.6 178.6L407.0 179.6L408.5 180.4L409.9 180.6L411.4 183.3L412.8 185.2L414.3 185.2L415.7 186.8L417.2 187.9L418.6 188.1L420.1 186.8L421.5 184.6L423.0 183.7L424.4 187.0L425.9 189.9L427.3 192.6L428.8 197.6L430.2 198.3L431.7 197.1L433.1 197.0L434.6 197.6L436.0 197.6L437.5 197.9L438.9 197.1L440.4 197.5L441.8 202.8L443.3 203.4L444.7 202.9L446.2 205.7L447.6 206.2L449.1 204.1L450.5 207.3L452.0 208.3L453.4 209.3L454.9 210.4L456.3 212.2L457.8 214.4L459.2 213.4L460.7 210.5L462.1 212.9L463.6 214.8L465.0 213.5L466.5 215.1L467.9 217.1L469.4 217.5L470.8 216.6L472.3 217.6L473.7 222.2L475.2 222.1L476.6 219.1L478.1 221.8L479.5 222.7L481.0 223.1L482.4 222.6L483.9 222.8L485.3 222.9L486.8 222.6L488.2 226.3L489.7 230.5L491.1 230.9L492.6 231.9L494.0 230.3L495.5 229.9L496.9 230.4L498.4 231.7L499.8 231.4L501.3 230.8L502.7 230.5L504.2 229.7L505.6 229.7L507.1 228.7L508.5 226.2L510.0 224.6L511.4 222.3L512.9 222.3L514.3 222.0L515.8 220.3L517.2 220.1L518.7 219.9L520.1 219.5L521.6 218.3L523.0 219.2L524.5 218.6L525.9 217.8L527.4 216.5L528.8 214.0L530.3 213.7L531.7 212.5L533.2 211.7L534.6 210.0L536.1 206.5L537.5 206.7L539.0 206.4L540.4 206.9L541.9 207.2L543.3 207.3L544.8 205.6L546.2 206.7L547.7 208.6L549.1 209.7L550.6 211.5L552.0 212.0L553.5 209.0L554.9 209.6L556.4 210.5L557.8 209.9L559.3 210.9L560.7 210.3L562.2 210.4L563.6 208.7L565.1 209.0L566.5 210.9L568.0 209.7L569.4 210.7L570.9 210.7L572.3 208.5L573.8 209.3L575.2 214.2L576.7 213.4L578.1 211.7L579.6 212.4L581.0 214.1L582.5 214.8L583.9 212.6L585.4 213.1L586.8 212.0L588.3 213.9L589.7 213.7L591.2 213.3L592.6 215.6L594.1 217.0L595.5 218.8L597.0 218.7L598.4 217.8" stroke="#404588" stroke-width="1.35" fill="none" stroke-linejoin="round"/>
<path d="M73.5 218.5L75.0 218.4L76.4 220.8L77.9 222.2L79.3 221.0L80.8 221.6L82.2 222.0L83.7 222.8L85.1 221.6L86.6 222.9L88.0 225.0L89.5 227.5L90.9 225.2L92.4 223.5L93.8 221.4L95.3 221.9L96.7 221.3L98.2 219.3L99.6 220.2L101.1 222.7L102.5 223.2L104.0 222.4L105.4 218.7L106.9 218.8L108.3 218.3L109.8 220.3L111.2 217.5L112.7 219.0L114.1 219.4L115.6 221.2L117.0 223.3L118.5 223.1L119.9 223.3L121.4 221.8L122.8 220.2L124.3 217.9L125.7 218.9L127.2 222.0L128.6 222.3L130.1 222.7L131.5 223.9L133.0 223.4L134.4 220.9L135.9 219.0L137.3 219.5L138.8 219.8L140.2 219.2L141.7 219.8L143.1 222.1L144.6 224.1L146.0 226.5L147.5 226.1L148.9 226.9L150.4 227.6L151.8 226.9L153.3 228.5L154.7 228.3L156.2 228.0L157.6 228.6L159.1 228.6L160.5 230.1L162.0 233.7L163.4 232.5L164.9 228.7L166.3 227.0L167.8 227.6L169.2 229.6L170.7 227.0L172.1 228.2L173.6 227.9L175.0 226.9L176.5 228.9L177.9 228.0L179.4 226.1L180.8 223.4L182.3 223.8L183.7 222.3L185.2 222.4L186.6 221.3L188.1 218.9L189.5 221.1L191.0 219.4L192.4 216.5L193.9 216.2L195.3 215.6L196.8 215.2L198.2 214.8L199.7 215.2L201.1 215.0L202.6 215.9L204.0 215.9L205.5 214.1L206.9 212.6L208.4 213.2L209.8 212.3L211.3 212.8L212.7 213.2L214.2 213.5L215.6 211.2L217.1 211.4L218.5 213.1L220.0 210.8L221.4 212.0L222.9 211.8L224.3 208.7L225.8 207.3L227.2 207.6L228.7 207.9L230.1 207.9L231.6 207.2L233.0 206.0L234.5 209.0L235.9 207.5L237.4 205.4L238.8 205.8L240.3 205.3L241.7 204.7L243.2 204.8L244.6 205.4L246.1 205.0L247.5 207.3L249.0 206.7L250.4 206.1L251.9 206.7L253.3 204.7L254.8 204.4L256.2 203.2L257.7 202.0L259.1 202.6L260.6 201.9L262.0 200.9L263.5 200.8L264.9 196.8L266.4 194.8L267.8 194.6L269.3 192.6L270.7 190.1L272.2 190.6L273.6 189.9L275.1 187.9L276.5 185.5L278.0 185.4L279.4 183.6L280.9 183.1L282.3 183.0L283.8 181.2L285.2 180.7L286.7 178.9L288.1 177.0L289.6 177.4L291.0 174.9L292.5 170.6L293.9 170.9L295.4 170.7L296.8 169.6L298.3 165.9L299.7 166.7L301.2 166.5L302.6 165.8L304.1 164.6L305.5 167.1L307.0 164.8L308.4 163.1L309.9 162.6L311.3 160.8L312.8 161.1L314.2 160.3L315.7 158.4L317.1 160.2L318.6 159.7L320.0 160.9L321.5 161.7L322.9 161.9L324.4 161.7L325.8 159.8L327.3 161.7L328.7 161.4L330.2 161.9L331.6 162.1L333.1 161.6L334.5 162.8L336.0 161.1L337.4 159.6L338.9 158.0L340.3 155.1L341.8 157.0L343.2 157.8L344.7 158.5L346.1 159.4L347.6 160.2L349.0 160.4L350.5 161.3L351.9 163.4L353.4 166.5L354.8 160.8L356.3 160.1L357.7 160.6L359.2 158.9L360.6 157.9L362.1 157.8L363.5 158.9L365.0 159.4L366.4 159.2L367.9 156.2L369.3 156.3L370.8 157.4L372.2 158.2L373.7 159.3L375.1 158.0L376.6 160.5L378.0 160.8L379.5 160.7L380.9 163.9L382.4 167.4L383.8 168.2L385.3 167.5L386.7 167.9L388.2 172.3L389.6 173.0L391.1 174.1L392.5 172.0L394.0 172.6L395.4 172.8L396.9 174.9L398.3 173.5L399.8 174.3L401.2 174.6L402.7 174.1L404.1 175.1L405.6 178.8L407.0 179.8L408.5 180.3L409.9 181.5L411.4 184.1L412.8 185.5L414.3 185.4L415.7 187.3L417.2 187.8L418.6 187.6L420.1 185.7L421.5 183.3L423.0 182.4L424.4 185.5L425.9 188.5L427.3 191.4L428.8 196.4L430.2 198.7L431.7 197.3L433.1 199.3L434.6 199.2L436.0 198.8L437.5 198.8L438.9 199.0L440.4 198.8L441.8 203.0L443.3 202.0L444.7 202.5L446.2 206.0L447.6 207.1L449.1 206.7L450.5 209.5L452.0 209.1L453.4 209.1L454.9 209.2L456.3 211.6L457.8 212.5L459.2 211.7L460.7 209.7L462.1 212.4L463.6 214.5L465.0 214.0L466.5 217.0L467.9 218.7L469.4 218.3L470.8 216.7L472.3 217.3L473.7 219.4L475.2 219.2L476.6 217.0L478.1 219.2L479.5 219.8L481.0 222.4L482.4 222.6L483.9 223.3L485.3 224.9L486.8 224.9L488.2 228.4L489.7 230.6L491.1 230.8L492.6 231.9L494.0 230.2L495.5 230.3L496.9 231.0L498.4 231.4L499.8 232.4L501.3 232.5L502.7 231.0L504.2 228.9L505.6 229.8L507.1 228.3L508.5 227.7L510.0 225.6L511.4 222.7L512.9 222.1L514.3 222.0L515.8 221.1L517.2 219.7L518.7 219.2L520.1 219.1L521.6 217.8L523.0 218.5L524.5 216.9L525.9 216.5L527.4 216.1L528.8 214.1L530.3 214.7L531.7 213.3L533.2 213.4L534.6 212.0L536.1 209.9L537.5 207.2L539.0 205.6L540.4 206.9L541.9 208.1L543.3 207.2L544.8 205.9L546.2 207.7L547.7 208.7L549.1 210.5L550.6 211.3L552.0 210.9L553.5 207.8L554.9 209.7L556.4 209.5L557.8 208.6L559.3 210.4L560.7 210.3L562.2 210.4L563.6 208.8L565.1 209.3L566.5 211.4L568.0 209.7L569.4 209.4L570.9 210.2L572.3 208.7L573.8 209.1L575.2 212.8L576.7 211.9L578.1 209.6L579.6 210.2L581.0 212.1L582.5 213.7L583.9 213.1L585.4 211.8L586.8 213.0L588.3 213.1L589.7 213.0L591.2 213.6L592.6 215.8L594.1 217.9L595.5 217.4L597.0 217.5L598.4 215.9" stroke="#3e4c8a" stroke-width="1.35" fill="none" stroke-linejoin="round"/>
<path d="M73.5 218.1L75.0 217.0L76.4 220.4L77.9 221.3L79.3 221.1L80.8 223.4L82.2 224.1L83.7 222.3L85.1 221.4L86.6 222.1L88.0 224.1L89.5 224.2L90.9 222.4L92.4 221.8L93.8 222.0L95.3 221.8L96.7 221.8L98.2 220.7L99.6 221.7L101.1 222.1L102.5 222.3L104.0 220.0L105.4 218.7L106.9 219.6L108.3 219.1L109.8 222.0L111.2 220.5L112.7 220.4L114.1 220.5L115.6 219.8L117.0 221.9L118.5 222.2L119.9 222.0L121.4 219.8L122.8 218.7L124.3 215.5L125.7 216.1L127.2 219.9L128.6 220.5L130.1 222.9L131.5 224.2L133.0 224.2L134.4 221.6L135.9 220.8L137.3 222.1L138.8 222.3L140.2 220.9L141.7 221.3L143.1 223.4L144.6 224.6L146.0 225.4L147.5 224.8L148.9 225.0L150.4 225.3L151.8 225.7L153.3 227.6L154.7 228.5L156.2 228.0L157.6 228.7L159.1 228.4L160.5 229.8L162.0 233.0L163.4 231.3L164.9 228.1L166.3 226.9L167.8 228.1L169.2 231.0L170.7 228.2L172.1 228.6L173.6 227.9L175.0 229.2L176.5 229.6L177.9 229.1L179.4 227.0L180.8 223.6L182.3 223.6L183.7 220.6L185.2 220.5L186.6 218.9L188.1 217.8L189.5 219.6L191.0 218.0L192.4 216.4L193.9 215.6L195.3 216.1L196.8 215.5L198.2 216.0L199.7 215.6L201.1 213.7L202.6 214.9L204.0 214.5L205.5 214.4L206.9 213.0L208.4 213.7L209.8 211.2L211.3 212.2L212.7 213.8L214.2 213.3L215.6 210.8L217.1 211.8L218.5 213.4L220.0 210.3L221.4 211.0L222.9 211.2L224.3 209.5L225.8 207.2L227.2 208.0L228.7 207.6L230.1 208.3L231.6 207.7L233.0 206.8L234.5 208.8L235.9 206.0L237.4 205.4L238.8 205.9L240.3 206.0L241.7 205.4L243.2 206.0L244.6 207.1L246.1 207.2L247.5 208.3L249.0 209.5L250.4 207.5L251.9 208.2L253.3 205.1L254.8 204.3L256.2 201.8L257.7 201.8L259.1 202.8L260.6 202.3L262.0 201.0L263.5 201.1L264.9 198.2L266.4 195.7L267.8 195.2L269.3 193.9L270.7 191.3L272.2 193.0L273.6 190.5L275.1 188.3L276.5 185.2L278.0 184.0L279.4 183.3L280.9 182.7L282.3 181.3L283.8 181.7L285.2 181.2L286.7 180.0L288.1 177.8L289.6 177.0L291.0 173.8L292.5 170.4L293.9 168.5L295.4 169.6L296.8 169.2L298.3 165.9L299.7 167.9L301.2 168.0L302.6 166.1L304.1 166.3L305.5 166.4L307.0 164.0L308.4 164.0L309.9 163.9L311.3 163.1L312.8 162.2L314.2 161.3L315.7 160.1L317.1 161.1L318.6 160.8L320.0 160.5L321.5 160.6L322.9 160.2L324.4 159.9L325.8 157.5L327.3 159.9L328.7 160.8L330.2 161.2L331.6 161.4L333.1 161.1L334.5 162.8L336.0 162.0L337.4 161.3L338.9 159.7L340.3 156.4L341.8 157.5L343.2 158.3L344.7 159.3L346.1 160.5L347.6 161.2L349.0 161.4L350.5 162.8L351.9 164.2L353.4 166.1L354.8 161.1L356.3 159.7L357.7 159.4L359.2 158.7L360.6 157.8L362.1 158.4L363.5 159.4L365.0 160.8L366.4 159.5L367.9 157.2L369.3 156.7L370.8 158.1L372.2 159.2L373.7 159.5L375.1 158.3L376.6 161.5L378.0 161.6L379.5 161.0L380.9 164.9L382.4 168.2L383.8 168.7L385.3 168.5L386.7 167.7L388.2 171.4L389.6 171.6L391.1 171.5L392.5 172.1L394.0 172.9L395.4 174.2L396.9 176.0L398.3 173.8L399.8 173.6L401.2 174.9L402.7 175.0L404.1 175.3L405.6 178.2L407.0 178.5L408.5 180.3L409.9 181.6L411.4 183.4L412.8 185.7L414.3 185.8L415.7 186.6L417.2 186.7L418.6 188.1L420.1 186.5L421.5 184.7L423.0 184.3L424.4 188.1L425.9 189.2L427.3 192.5L428.8 196.8L430.2 199.4L431.7 196.6L433.1 198.5L434.6 197.1L436.0 197.1L437.5 197.8L438.9 198.7L440.4 199.6L441.8 203.9L443.3 202.9L444.7 203.4L446.2 207.9L447.6 207.1L449.1 207.6L450.5 208.5L452.0 208.8L453.4 207.6L454.9 209.3L456.3 211.0L457.8 213.5L459.2 214.6L460.7 213.0L462.1 214.3L463.6 214.9L465.0 213.2L466.5 214.8L467.9 215.9L469.4 215.1L470.8 214.3L472.3 215.7L473.7 218.0L475.2 217.6L476.6 216.2L478.1 219.8L479.5 222.1L481.0 222.8L482.4 223.1L483.9 225.0L485.3 225.5L486.8 225.8L488.2 228.9L489.7 230.3L491.1 230.9L492.6 231.5L494.0 230.5L495.5 231.0L496.9 232.0L498.4 231.2L499.8 232.4L501.3 231.5L502.7 230.9L504.2 229.0L505.6 229.0L507.1 227.8L508.5 226.2L510.0 224.3L511.4 222.7L512.9 222.6L514.3 223.2L515.8 222.6L517.2 221.2L518.7 219.3L520.1 218.4L521.6 218.1L523.0 218.8L524.5 218.2L525.9 218.5L527.4 216.9L528.8 213.1L530.3 213.4L531.7 212.4L533.2 210.8L534.6 210.5L536.1 208.4L537.5 206.9L539.0 207.4L540.4 208.2L541.9 208.6L543.3 209.1L544.8 207.5L546.2 208.2L547.7 209.5L549.1 210.2L550.6 211.0L552.0 210.9L553.5 208.0L554.9 209.7L556.4 210.1L557.8 208.0L559.3 209.7L560.7 208.7L562.2 210.4L563.6 209.0L565.1 209.4L566.5 210.9L568.0 210.3L569.4 209.3L570.9 207.8L572.3 205.7L573.8 208.0L575.2 210.8L576.7 210.8L578.1 209.0L579.6 209.0L581.0 210.5L582.5 212.9L583.9 212.9L585.4 213.1L586.8 212.5L588.3 213.1L589.7 212.2L591.2 212.8L592.6 213.2L594.1 215.3L595.5 215.8L597.0 216.6L598.4 216.6" stroke="#3b528b" stroke-width="1.35" fill="none" stroke-linejoin="round"/>
<path d="M73.5 216.5L75.0 216.5L76.4 219.8L77.9 222.0L79.3 222.3L80.8 224.0L82.2 225.8L83.7 224.5L85.1 222.4L86.6 224.2L88.0 225.6L89.5 226.3L90.9 223.9L92.4 223.7L93.8 223.8L95.3 223.7L96.7 223.4L98.2 222.2L99.6 223.6L101.1 224.1L102.5 224.7L104.0 221.8L105.4 221.0L106.9 220.3L108.3 219.3L109.8 222.7L111.2 220.7L112.7 221.0L114.1 221.6L115.6 221.3L117.0 223.1L118.5 222.5L119.9 222.7L121.4 220.9L122.8 219.6L124.3 218.0L125.7 218.0L127.2 220.8L128.6 221.1L130.1 223.1L131.5 225.2L133.0 225.2L134.4 222.7L135.9 222.8L137.3 224.2L138.8 222.8L140.2 220.3L141.7 220.8L143.1 223.2L144.6 225.0L146.0 226.1L147.5 225.4L148.9 225.3L150.4 228.0L151.8 226.9L153.3 228.8L154.7 229.3L156.2 228.9L157.6 227.6L159.1 225.8L160.5 226.9L162.0 228.9L163.4 228.4L164.9 226.8L166.3 225.7L167.8 226.9L169.2 230.0L170.7 227.4L172.1 229.7L173.6 228.2L175.0 227.0L176.5 227.1L177.9 228.2L179.4 226.0L180.8 222.0L182.3 220.7L183.7 218.0L185.2 218.5L186.6 216.9L188.1 215.4L189.5 218.0L191.0 216.2L192.4 216.2L193.9 215.8L195.3 215.0L196.8 214.6L198.2 214.9L199.7 213.6L201.1 211.9L202.6 212.2L204.0 211.3L205.5 210.8L206.9 210.5L208.4 212.1L209.8 212.3L211.3 213.6L212.7 214.4L214.2 213.0L215.6 210.3L217.1 211.4L218.5 210.8L220.0 208.8L221.4 210.6L222.9 211.3L224.3 209.7L225.8 208.3L227.2 208.8L228.7 208.8L230.1 208.8L231.6 207.0L233.0 205.9L234.5 208.9L235.9 207.2L237.4 206.4L238.8 208.4L240.3 207.0L241.7 206.3L243.2 206.8L244.6 208.1L246.1 206.6L247.5 207.0L249.0 209.0L250.4 207.9L251.9 208.1L253.3 205.2L254.8 203.1L256.2 200.3L257.7 199.7L259.1 201.5L260.6 201.5L262.0 201.5L263.5 201.1L264.9 198.5L266.4 195.4L267.8 195.3L269.3 195.2L270.7 191.9L272.2 192.9L273.6 191.2L275.1 188.5L276.5 185.7L278.0 185.9L279.4 184.5L280.9 183.8L282.3 182.1L283.8 181.9L285.2 181.5L286.7 180.6L288.1 178.1L289.6 177.0L291.0 174.4L292.5 170.0L293.9 168.8L295.4 169.0L296.8 167.8L298.3 165.7L299.7 168.2L301.2 170.4L302.6 167.9L304.1 166.7L305.5 166.7L307.0 164.1L308.4 164.4L309.9 163.4L311.3 162.8L312.8 161.4L314.2 160.5L315.7 159.8L317.1 159.8L318.6 159.8L320.0 159.4L321.5 160.3L322.9 160.4L324.4 160.4L325.8 157.4L327.3 158.6L328.7 159.1L330.2 160.5L331.6 161.0L333.1 160.7L334.5 163.3L336.0 162.4L337.4 161.7L338.9 159.0L340.3 156.5L341.8 158.2L343.2 160.2L344.7 159.8L346.1 159.2L347.6 160.7L349.0 161.5L350.5 163.7L351.9 164.8L353.4 166.7L354.8 161.1L356.3 160.7L357.7 160.0L359.2 158.9L360.6 158.4L362.1 158.3L363.5 159.1L365.0 159.4L366.4 158.5L367.9 155.8L369.3 155.7L370.8 157.5L372.2 159.0L373.7 161.5L375.1 160.1L376.6 161.3L378.0 162.0L379.5 161.2L380.9 164.2L382.4 168.9L383.8 169.9L385.3 167.9L386.7 167.2L388.2 170.0L389.6 170.8L391.1 169.3L392.5 170.7L394.0 172.0L395.4 173.8L396.9 175.4L398.3 175.4L399.8 173.5L401.2 174.4L402.7 175.6L404.1 176.0L405.6 177.9L407.0 178.7L408.5 179.1L409.9 179.5L411.4 181.3L412.8 182.4L414.3 184.0L415.7 185.7L417.2 186.6L418.6 188.0L420.1 186.7L421.5 184.8L423.0 184.9L424.4 186.8L425.9 187.6L427.3 190.6L428.8 194.8L430.2 196.6L431.7 195.1L433.1 197.9L434.6 196.4L436.0 196.3L437.5 198.0L438.9 199.9L440.4 200.8L441.8 204.2L443.3 202.3L444.7 203.9L446.2 205.5L447.6 205.1L449.1 205.6L450.5 206.8L452.0 207.1L453.4 205.6L454.9 207.8L456.3 210.6L457.8 214.0L459.2 213.3L460.7 212.8L462.1 214.1L463.6 212.7L465.0 212.2L466.5 215.2L467.9 217.5L469.4 215.9L470.8 214.3L472.3 216.0L473.7 216.7L475.2 215.9L476.6 216.1L478.1 219.4L479.5 221.6L481.0 222.2L482.4 222.5L483.9 225.8L485.3 225.7L486.8 226.6L488.2 228.0L489.7 229.8L491.1 233.3L492.6 232.3L494.0 229.7L495.5 230.5L496.9 231.2L498.4 230.7L499.8 232.6L501.3 231.3L502.7 230.9L504.2 228.5L505.6 227.5L507.1 227.4L508.5 226.0L510.0 223.1L511.4 221.2L512.9 221.6L514.3 220.7L515.8 220.9L517.2 219.5L518.7 219.6L520.1 218.1L521.6 217.3L523.0 218.2L524.5 216.8L525.9 217.1L527.4 215.5L528.8 211.9L530.3 213.0L531.7 212.5L533.2 212.7L534.6 211.0L536.1 209.3L537.5 209.0L539.0 208.8L540.4 207.7L541.9 209.6L543.3 209.5L544.8 206.5L546.2 206.1L547.7 208.5L549.1 210.0L550.6 210.6L552.0 211.6L553.5 209.4L554.9 210.1L556.4 209.6L557.8 207.2L559.3 210.1L560.7 209.1L562.2 208.7L563.6 207.3L565.1 207.9L566.5 211.8L568.0 210.7L569.4 211.0L570.9 209.4L572.3 207.1L573.8 207.8L575.2 210.0L576.7 209.5L578.1 207.8L579.6 206.9L581.0 210.0L582.5 211.0L583.9 211.5L585.4 213.6L586.8 213.0L588.3 214.5L589.7 213.4L591.2 213.2L592.6 214.4L594.1 215.7L595.5 216.6L597.0 218.0L598.4 216.1" stroke="#38588c" stroke-width="1.35" fill="none" stroke-linejoin="round"/>
<path d="M73.5 215.5L75.0 217.2L76.4 220.2L77.9 221.8L79.3 223.0L80.8 224.3L82.2 226.4L83.7 226.1L85.1 225.2L86.6 226.8L88.0 227.4L89.5 227.7L90.9 225.5L92.4 225.5L93.8 226.0L95.3 224.9L96.7 224.3L98.2 222.8L99.6 222.6L101.1 222.5L102.5 225.1L104.0 222.1L105.4 222.3L106.9 224.4L108.3 223.6L109.8 227.7L111.2 223.4L112.7 222.4L114.1 221.6L115.6 222.3L117.0 222.7L118.5 222.7L119.9 223.9L121.4 222.9L122.8 221.2L124.3 219.2L125.7 219.9L127.2 222.7L128.6 223.6L130.1 223.6L131.5 225.6L133.0 225.1L134.4 223.5L135.9 222.7L137.3 222.6L138.8 221.3L140.2 219.0L141.7 220.3L143.1 223.4L144.6 225.1L146.0 226.2L147.5 225.5L148.9 226.1L150.4 228.5L151.8 228.4L153.3 229.4L154.7 230.1L156.2 229.6L157.6 227.7L159.1 225.3L160.5 226.3L162.0 228.1L163.4 228.2L164.9 226.7L166.3 225.6L167.8 225.0L169.2 227.5L170.7 226.0L172.1 226.5L173.6 226.3L175.0 226.4L176.5 227.5L177.9 226.3L179.4 223.8L180.8 220.3L182.3 218.9L183.7 216.6L185.2 218.0L186.6 216.2L188.1 214.6L189.5 215.9L191.0 214.8L192.4 215.6L193.9 214.4L195.3 213.5L196.8 213.9L198.2 214.4L199.7 212.8L201.1 212.2L202.6 211.1L204.0 209.8L205.5 208.8L206.9 208.4L208.4 209.7L209.8 209.8L211.3 209.4L212.7 212.1L214.2 210.7L215.6 210.0L217.1 210.5L218.5 210.4L220.0 208.8L221.4 209.1L222.9 210.9L224.3 209.6L225.8 209.7L227.2 211.3L228.7 210.2L230.1 210.1L231.6 207.7L233.0 206.5L234.5 209.0L235.9 207.8L237.4 206.5L238.8 208.8L240.3 207.7L241.7 207.1L243.2 206.1L244.6 207.4L246.1 207.7L247.5 207.8L249.0 208.6L250.4 207.0L251.9 207.7L253.3 205.7L254.8 203.4L256.2 201.1L257.7 200.2L259.1 202.0L260.6 201.2L262.0 201.2L263.5 200.9L264.9 198.5L266.4 196.0L267.8 195.5L269.3 193.8L270.7 192.3L272.2 194.0L273.6 192.1L275.1 188.5L276.5 185.5L278.0 185.4L279.4 184.1L280.9 182.2L282.3 180.5L283.8 181.4L285.2 180.9L286.7 181.5L288.1 177.8L289.6 176.9L291.0 175.3L292.5 172.0L293.9 170.8L295.4 170.8L296.8 168.9L298.3 165.2L299.7 167.0L301.2 169.7L302.6 167.2L304.1 167.5L305.5 166.1L307.0 164.6L308.4 164.5L309.9 163.2L311.3 162.2L312.8 161.3L314.2 158.7L315.7 158.2L317.1 157.8L318.6 158.3L320.0 159.7L321.5 161.5L322.9 160.1L324.4 160.0L325.8 158.3L327.3 158.7L328.7 158.3L330.2 159.4L331.6 161.6L333.1 161.2L334.5 162.0L336.0 160.8L337.4 162.1L338.9 160.3L340.3 156.8L341.8 159.2L343.2 161.9L344.7 160.9L346.1 159.9L347.6 159.8L349.0 161.1L350.5 162.5L351.9 165.4L353.4 167.2L354.8 162.1L356.3 161.5L357.7 160.8L359.2 158.9L360.6 157.8L362.1 158.9L363.5 158.1L365.0 159.0L366.4 157.2L367.9 155.8L369.3 155.1L370.8 157.0L372.2 159.3L373.7 161.6L375.1 161.5L376.6 163.2L378.0 163.2L379.5 161.9L380.9 165.1L382.4 167.9L383.8 168.0L385.3 166.0L386.7 166.1L388.2 169.6L389.6 170.0L391.1 169.6L392.5 170.0L394.0 172.7L395.4 173.2L396.9 174.0L398.3 174.7L399.8 172.9L401.2 172.8L402.7 174.5L404.1 174.9L405.6 175.6L407.0 176.8L408.5 178.1L409.9 179.2L411.4 181.0L412.8 182.4L414.3 184.2L415.7 185.4L417.2 186.7L418.6 187.8L420.1 186.8L421.5 184.5L423.0 185.2L424.4 187.0L425.9 187.6L427.3 189.6L428.8 192.6L430.2 194.6L431.7 193.4L433.1 195.8L434.6 194.7L436.0 196.2L437.5 197.5L438.9 198.3L440.4 199.8L441.8 204.7L443.3 203.5L444.7 204.7L446.2 206.4L447.6 204.3L449.1 204.8L450.5 204.2L452.0 204.9L453.4 203.7L454.9 206.8L456.3 208.8L457.8 213.9L459.2 214.0L460.7 211.8L462.1 213.2L463.6 213.0L465.0 213.2L466.5 214.9L467.9 217.9L469.4 216.6L470.8 214.4L472.3 214.2L473.7 215.4L475.2 214.4L476.6 213.6L478.1 217.6L479.5 221.1L481.0 221.5L482.4 222.3L483.9 224.2L485.3 226.0L486.8 226.6L488.2 229.2L489.7 231.1L491.1 233.4L492.6 232.4L494.0 230.1L495.5 231.1L496.9 230.3L498.4 230.0L499.8 231.3L501.3 230.0L502.7 229.3L504.2 228.1L505.6 227.9L507.1 227.6L508.5 226.7L510.0 222.2L511.4 219.9L512.9 219.7L514.3 218.2L515.8 218.4L517.2 217.8L518.7 217.7L520.1 217.1L521.6 217.4L523.0 216.9L524.5 216.1L525.9 216.7L527.4 215.7L528.8 213.3L530.3 214.7L531.7 213.3L533.2 212.3L534.6 209.9L536.1 208.7L537.5 208.0L539.0 207.5L540.4 207.3L541.9 209.4L543.3 208.7L544.8 206.5L546.2 206.5L547.7 209.6L549.1 210.6L550.6 210.3L552.0 210.8L553.5 209.7L554.9 211.0L556.4 208.9L557.8 206.9L559.3 210.3L560.7 209.8L562.2 209.2L563.6 208.3L565.1 209.0L566.5 211.4L568.0 210.8L569.4 211.1L570.9 208.5L572.3 207.5L573.8 209.1L575.2 210.0L576.7 210.2L578.1 208.8L579.6 207.8L581.0 209.6L582.5 212.3L583.9 213.3L585.4 214.2L586.8 213.8L588.3 213.9L589.7 212.2L591.2 211.9L592.6 212.7L594.1 214.6L595.5 215.9L597.0 217.6L598.4 216.2" stroke="#355e8d" stroke-width="1.35" fill="none" stroke-linejoin="round"/>
<path d="M73.5 214.8L75.0 216.8L76.4 221.0L77.9 222.7L79.3 225.5L80.8 226.0L82.2 227.1L83.7 227.2L85.1 226.2L86.6 227.7L88.0 228.1L89.5 227.6L90.9 226.3L92.4 227.5L93.8 228.7L95.3 227.8L96.7 226.7L98.2 224.6L99.6 224.9L101.1 224.4L102.5 225.9L104.0 224.6L105.4 224.0L106.9 224.2L108.3 224.7L109.8 229.0L111.2 227.0L112.7 225.7L114.1 224.0L115.6 224.9L117.0 224.7L118.5 224.2L119.9 223.2L121.4 222.1L122.8 220.7L124.3 218.8L125.7 218.4L127.2 221.6L128.6 222.6L130.1 222.8L131.5 225.9L133.0 225.0L134.4 225.5L135.9 225.4L137.3 225.4L138.8 223.6L140.2 221.6L141.7 220.7L143.1 223.7L144.6 224.6L146.0 224.2L147.5 224.0L148.9 225.1L150.4 227.8L151.8 228.1L153.3 229.8L154.7 228.7L156.2 230.2L157.6 228.7L159.1 225.4L160.5 226.8L162.0 227.3L163.4 227.8L164.9 224.8L166.3 222.9L167.8 223.1L169.2 226.2L170.7 224.1L172.1 225.1L173.6 225.0L175.0 224.3L176.5 225.8L177.9 224.8L179.4 223.2L180.8 218.2L182.3 218.1L183.7 215.8L185.2 216.8L186.6 214.6L188.1 214.0L189.5 215.1L191.0 214.4L192.4 213.2L193.9 212.9L195.3 213.4L196.8 213.0L198.2 212.0L199.7 210.3L201.1 208.2L202.6 209.0L204.0 208.4L205.5 207.9L206.9 207.2L208.4 207.8L209.8 208.8L211.3 209.7L212.7 211.5L214.2 209.8L215.6 208.4L217.1 209.0L218.5 210.0L220.0 208.7L221.4 209.2L222.9 211.0L224.3 210.4L225.8 211.0L227.2 213.0L228.7 212.5L230.1 211.3L231.6 208.4L233.0 207.8L234.5 209.7L235.9 208.3L237.4 207.3L238.8 209.8L240.3 208.5L241.7 207.8L243.2 206.4L244.6 208.3L246.1 207.6L247.5 207.3L249.0 207.9L250.4 206.3L251.9 206.3L253.3 204.9L254.8 202.1L256.2 201.3L257.7 199.8L259.1 201.3L260.6 201.8L262.0 202.0L263.5 201.4L264.9 197.9L266.4 195.2L267.8 194.9L269.3 193.9L270.7 192.7L272.2 193.2L273.6 192.7L275.1 188.4L276.5 184.8L278.0 185.4L279.4 183.6L280.9 181.9L282.3 181.2L283.8 181.4L285.2 182.0L286.7 181.6L288.1 176.9L289.6 176.5L291.0 176.0L292.5 172.5L293.9 171.8L295.4 171.0L296.8 169.5L298.3 165.7L299.7 167.4L301.2 169.0L302.6 166.1L304.1 165.0L305.5 162.8L307.0 161.1L308.4 162.3L309.9 162.2L311.3 162.7L312.8 163.1L314.2 160.0L315.7 160.2L317.1 159.7L318.6 157.5L320.0 158.7L321.5 160.6L322.9 160.4L324.4 160.2L325.8 157.9L327.3 158.1L328.7 157.9L330.2 159.1L331.6 161.1L333.1 161.8L334.5 162.5L336.0 163.0L337.4 163.4L338.9 161.0L340.3 158.6L341.8 160.1L343.2 163.4L344.7 162.8L346.1 161.4L347.6 161.0L349.0 161.3L350.5 160.7L351.9 164.0L353.4 166.4L354.8 161.8L356.3 159.7L357.7 159.4L359.2 157.1L360.6 157.2L362.1 157.4L363.5 158.0L365.0 159.1L366.4 158.0L367.9 157.3L369.3 156.3L370.8 158.0L372.2 160.1L373.7 162.2L375.1 162.3L376.6 162.3L378.0 163.3L379.5 162.9L380.9 165.2L382.4 167.2L383.8 168.7L385.3 166.1L386.7 165.2L388.2 168.1L389.6 168.4L391.1 168.3L392.5 168.7L394.0 170.7L395.4 171.5L396.9 173.8L398.3 174.9L399.8 174.5L401.2 174.9L402.7 176.0L404.1 175.1L405.6 176.6L407.0 178.0L408.5 177.8L409.9 177.1L411.4 179.4L412.8 180.6L414.3 182.9L415.7 183.7L417.2 184.7L418.6 184.9L420.1 185.2L421.5 183.8L423.0 183.5L424.4 186.9L425.9 187.7L427.3 190.3L428.8 191.4L430.2 192.9L431.7 192.1L433.1 194.2L434.6 193.1L436.0 193.9L437.5 195.6L438.9 196.3L440.4 199.8L441.8 204.0L443.3 203.0L444.7 204.8L446.2 205.3L447.6 204.1L449.1 205.4L450.5 204.7L452.0 204.0L453.4 202.1L454.9 205.6L456.3 208.1L457.8 211.6L459.2 212.2L460.7 210.6L462.1 214.0L463.6 214.9L465.0 214.8L466.5 217.0L467.9 218.6L469.4 217.8L470.8 215.3L472.3 215.4L473.7 216.6L475.2 214.8L476.6 213.6L478.1 217.4L479.5 218.6L481.0 217.3L482.4 218.4L483.9 221.7L485.3 223.9L486.8 226.9L488.2 229.4L489.7 229.9L491.1 231.8L492.6 232.0L494.0 229.9L495.5 231.4L496.9 231.4L498.4 229.5L499.8 231.6L501.3 229.7L502.7 228.3L504.2 225.6L505.6 227.5L507.1 226.0L508.5 224.6L510.0 222.0L511.4 220.7L512.9 219.9L514.3 218.7L515.8 218.6L517.2 217.5L518.7 216.9L520.1 217.1L521.6 216.8L523.0 216.3L524.5 214.6L525.9 215.3L527.4 214.3L528.8 212.6L530.3 213.5L531.7 211.4L533.2 210.6L534.6 209.4L536.1 208.7L537.5 207.4L539.0 208.1L540.4 207.6L541.9 210.5L543.3 210.1L544.8 208.7L546.2 207.7L547.7 210.2L549.1 210.6L550.6 210.3L552.0 210.0L553.5 207.5L554.9 209.5L556.4 208.8L557.8 206.6L559.3 211.0L560.7 212.3L562.2 211.6L563.6 209.4L565.1 209.0L566.5 211.5L568.0 210.4L569.4 210.1L570.9 207.5L572.3 207.0L573.8 208.0L575.2 209.4L576.7 209.3L578.1 208.8L579.6 207.3L581.0 210.5L582.5 211.6L583.9 213.1L585.4 214.8L586.8 214.1L588.3 214.2L589.7 213.5L591.2 212.1L592.6 213.4L594.1 215.4L595.5 215.3L597.0 217.2L598.4 215.7" stroke="#32648e" stroke-width="1.35" fill="none" stroke-linejoin="round"/>
<path d="M73.5 215.1L75.0 217.7L76.4 219.3L77.9 220.6L79.3 224.4L80.8 226.8L82.2 227.9L83.7 227.8L85.1 226.9L86.6 228.2L88.0 228.9L89.5 229.9L90.9 228.8L92.4 229.0L93.8 230.1L95.3 228.8L96.7 229.5L98.2 226.9L99.6 227.8L101.1 227.2L102.5 227.4L104.0 226.1L105.4 226.3L106.9 227.6L108.3 228.1L109.8 231.1L111.2 229.4L112.7 227.1L114.1 224.4L115.6 225.9L117.0 225.6L118.5 224.5L119.9 224.4L121.4 223.0L122.8 221.9L124.3 220.8L125.7 220.8L127.2 222.1L128.6 222.4L130.1 221.7L131.5 224.1L133.0 224.5L134.4 223.2L135.9 223.9L137.3 224.0L138.8 223.5L140.2 222.0L141.7 222.2L143.1 225.0L144.6 226.3L146.0 227.8L147.5 225.5L148.9 224.6L150.4 227.1L151.8 227.9L153.3 228.7L154.7 228.2L156.2 228.6L157.6 227.5L159.1 225.0L160.5 225.4L162.0 225.5L163.4 226.3L164.9 222.9L166.3 221.8L167.8 221.8L169.2 225.0L170.7 224.2L172.1 223.9L173.6 223.2L175.0 224.1L176.5 224.9L177.9 224.1L179.4 222.1L180.8 216.8L182.3 216.6L183.7 213.8L185.2 215.9L186.6 213.8L188.1 212.6L189.5 214.5L191.0 213.0L192.4 211.7L193.9 212.3L195.3 212.0L196.8 210.6L198.2 208.8L199.7 206.7L201.1 206.3L202.6 207.3L204.0 206.6L205.5 205.0L206.9 205.5L208.4 207.8L209.8 209.8L211.3 210.1L212.7 211.3L214.2 211.2L215.6 209.4L217.1 209.4L218.5 209.4L220.0 209.7L221.4 210.1L222.9 211.6L224.3 210.9L225.8 211.3L227.2 213.1L228.7 212.6L230.1 210.9L231.6 207.6L233.0 206.6L234.5 209.4L235.9 208.2L237.4 206.2L238.8 208.5L240.3 207.8L241.7 208.0L243.2 206.4L244.6 207.5L246.1 207.8L247.5 207.4L249.0 209.5L250.4 207.5L251.9 207.0L253.3 204.7L254.8 202.7L256.2 201.3L257.7 200.8L259.1 201.0L260.6 201.1L262.0 201.5L263.5 199.6L264.9 197.9L266.4 196.5L267.8 195.9L269.3 195.0L270.7 193.8L272.2 193.7L273.6 194.2L275.1 189.6L276.5 185.4L278.0 185.5L279.4 183.6L280.9 181.5L282.3 178.8L283.8 178.4L285.2 180.6L286.7 181.1L288.1 177.2L289.6 175.7L291.0 176.6L292.5 173.7L293.9 173.2L295.4 172.2L296.8 169.8L298.3 166.3L299.7 167.8L301.2 168.0L302.6 165.5L304.1 164.4L305.5 162.4L307.0 162.5L308.4 161.7L309.9 161.5L311.3 162.4L312.8 162.3L314.2 160.3L315.7 161.2L317.1 161.3L318.6 159.0L320.0 159.4L321.5 159.7L322.9 159.9L324.4 160.2L325.8 157.3L327.3 156.6L328.7 158.0L330.2 159.8L331.6 161.9L333.1 161.6L334.5 162.3L336.0 161.0L337.4 161.1L338.9 159.6L340.3 157.4L341.8 159.2L343.2 163.9L344.7 162.8L346.1 162.6L347.6 163.1L349.0 163.1L350.5 162.6L351.9 166.2L353.4 167.3L354.8 162.4L356.3 158.7L357.7 157.7L359.2 155.1L360.6 154.7L362.1 156.5L363.5 156.7L365.0 159.1L366.4 157.6L367.9 157.1L369.3 157.2L370.8 158.5L372.2 159.8L373.7 161.7L375.1 160.6L376.6 161.7L378.0 164.2L379.5 163.7L380.9 166.9L382.4 167.9L383.8 168.6L385.3 166.2L386.7 165.0L388.2 168.8L389.6 169.9L391.1 169.2L392.5 168.5L394.0 171.2L395.4 171.5L396.9 173.7L398.3 172.8L399.8 172.7L401.2 172.8L402.7 174.6L404.1 174.3L405.6 175.2L407.0 177.4L408.5 179.0L409.9 178.0L411.4 177.8L412.8 178.8L414.3 181.1L415.7 182.6L417.2 183.8L418.6 184.6L420.1 184.7L421.5 182.7L423.0 181.8L424.4 184.9L425.9 185.1L427.3 187.9L428.8 189.9L430.2 192.1L431.7 192.3L433.1 193.9L434.6 193.6L436.0 194.5L437.5 195.9L438.9 196.0L440.4 199.1L441.8 203.2L443.3 202.2L444.7 203.8L446.2 203.3L447.6 202.6L449.1 203.9L450.5 204.1L452.0 203.1L453.4 201.8L454.9 206.1L456.3 208.3L457.8 211.1L459.2 212.3L460.7 209.6L462.1 212.8L463.6 213.7L465.0 213.4L466.5 215.3L467.9 218.8L469.4 218.6L470.8 215.9L472.3 216.4L473.7 218.1L475.2 216.2L476.6 214.5L478.1 218.1L479.5 219.6L481.0 216.8L482.4 217.5L483.9 219.8L485.3 221.9L486.8 224.7L488.2 227.1L489.7 229.1L491.1 231.6L492.6 231.4L494.0 230.5L495.5 231.9L496.9 230.9L498.4 230.2L499.8 231.5L501.3 229.5L502.7 228.2L504.2 224.3L505.6 224.9L507.1 222.3L508.5 221.6L510.0 219.2L511.4 218.6L512.9 220.3L514.3 219.9L515.8 218.5L517.2 218.2L518.7 217.8L520.1 217.7L521.6 215.6L523.0 214.7L524.5 213.8L525.9 214.8L527.4 213.8L528.8 213.1L530.3 214.4L531.7 213.7L533.2 210.7L534.6 210.1L536.1 207.1L537.5 206.1L539.0 206.1L540.4 205.9L541.9 208.5L543.3 209.4L544.8 208.0L546.2 208.2L547.7 210.9L549.1 211.4L550.6 212.0L552.0 210.6L553.5 209.6L554.9 210.4L556.4 208.4L557.8 206.6L559.3 209.7L560.7 210.1L562.2 208.7L563.6 208.9L565.1 209.8L566.5 211.5L568.0 211.1L569.4 210.1L570.9 208.3L572.3 206.9L573.8 207.0L575.2 207.5L576.7 208.5L578.1 209.4L579.6 209.9L581.0 212.1L582.5 213.3L583.9 215.2L585.4 215.5L586.8 215.0L588.3 215.3L589.7 213.7L591.2 211.6L592.6 212.4L594.1 215.3L595.5 215.7L597.0 215.9L598.4 215.1" stroke="#306a8e" stroke-width="1.35" fill="none" stroke-linejoin="round"/>
<path d="M73.5 215.4L75.0 217.3L76.4 219.8L77.9 220.8L79.3 226.4L80.8 227.9L82.2 228.1L83.7 226.6L85.1 227.1L86.6 228.0L88.0 229.1L89.5 230.4L90.9 232.0L92.4 231.5L93.8 231.7L95.3 230.4L96.7 231.2L98.2 229.7L99.6 229.1L101.1 228.3L102.5 229.3L104.0 229.0L105.4 228.5L106.9 229.7L108.3 229.9L109.8 231.8L111.2 230.2L112.7 228.3L114.1 225.9L115.6 225.7L117.0 226.7L118.5 224.3L119.9 225.3L121.4 223.8L122.8 222.2L124.3 222.4L125.7 222.2L127.2 222.2L128.6 222.5L130.1 221.9L131.5 225.4L133.0 224.3L134.4 223.2L135.9 223.5L137.3 223.9L138.8 224.0L140.2 223.8L141.7 223.4L143.1 225.3L144.6 227.3L146.0 228.7L147.5 227.3L148.9 225.3L150.4 226.5L151.8 227.2L153.3 228.4L154.7 227.1L156.2 227.8L157.6 227.7L159.1 225.2L160.5 225.8L162.0 225.9L163.4 223.9L164.9 223.1L166.3 221.1L167.8 221.1L169.2 223.5L170.7 223.3L172.1 221.6L173.6 221.9L175.0 222.0L176.5 222.2L177.9 220.7L179.4 219.2L180.8 214.7L182.3 214.6L183.7 212.2L185.2 214.3L186.6 211.9L188.1 211.1L189.5 212.6L191.0 211.9L192.4 210.8L193.9 210.6L195.3 210.4L196.8 208.3L198.2 207.0L199.7 204.0L201.1 204.0L202.6 204.7L204.0 206.1L205.5 204.6L206.9 205.7L208.4 207.0L209.8 207.9L211.3 209.1L212.7 211.2L214.2 211.1L215.6 209.6L217.1 211.3L218.5 212.2L220.0 211.1L221.4 210.6L222.9 212.3L224.3 211.3L225.8 211.4L227.2 212.4L228.7 212.1L230.1 212.5L231.6 208.9L233.0 207.7L234.5 209.7L235.9 207.4L237.4 205.2L238.8 208.0L240.3 208.3L241.7 208.0L243.2 206.3L244.6 208.4L246.1 207.1L247.5 207.1L249.0 208.4L250.4 205.8L251.9 206.3L253.3 205.4L254.8 204.7L256.2 202.3L257.7 201.1L259.1 202.1L260.6 203.1L262.0 202.5L263.5 200.0L264.9 197.7L266.4 196.6L267.8 194.5L269.3 192.8L270.7 191.6L272.2 191.3L273.6 192.7L275.1 188.7L276.5 185.8L278.0 185.6L279.4 183.3L280.9 180.5L282.3 179.2L283.8 178.9L285.2 181.1L286.7 181.1L288.1 178.2L289.6 176.9L291.0 176.9L292.5 173.3L293.9 173.8L295.4 172.7L296.8 169.7L298.3 166.3L299.7 166.8L301.2 167.8L302.6 164.7L304.1 163.3L305.5 162.4L307.0 163.4L308.4 163.8L309.9 161.4L311.3 162.5L312.8 162.6L314.2 159.5L315.7 160.1L317.1 161.5L318.6 158.3L320.0 159.8L321.5 158.8L322.9 159.6L324.4 161.0L325.8 159.3L327.3 158.1L328.7 158.4L330.2 160.8L331.6 161.6L333.1 161.2L334.5 161.1L336.0 160.3L337.4 160.7L338.9 159.9L340.3 158.4L341.8 159.5L343.2 162.3L344.7 162.2L346.1 160.6L347.6 160.7L349.0 161.6L350.5 162.0L351.9 165.4L353.4 167.6L354.8 162.8L356.3 160.2L357.7 160.8L359.2 157.6L360.6 155.9L362.1 156.1L363.5 156.4L365.0 157.7L366.4 155.8L367.9 155.5L369.3 155.6L370.8 157.0L372.2 158.3L373.7 161.2L375.1 161.0L376.6 163.5L378.0 164.7L379.5 165.1L380.9 167.7L382.4 170.6L383.8 171.0L385.3 167.5L386.7 165.5L388.2 169.1L389.6 169.5L391.1 168.7L392.5 168.0L394.0 170.7L395.4 170.2L396.9 170.8L398.3 171.2L399.8 171.6L401.2 170.9L402.7 173.7L404.1 175.3L405.6 176.8L407.0 179.2L408.5 178.7L409.9 177.5L411.4 176.5L412.8 177.9L414.3 178.7L415.7 180.3L417.2 181.9L418.6 183.7L420.1 184.1L421.5 182.2L423.0 182.1L424.4 185.0L425.9 186.1L427.3 188.9L428.8 190.6L430.2 191.2L431.7 191.0L433.1 192.1L434.6 192.2L436.0 193.5L437.5 191.8L438.9 191.7L440.4 196.0L441.8 201.2L443.3 200.8L444.7 202.2L446.2 203.2L447.6 204.4L449.1 206.1L450.5 205.0L452.0 205.1L453.4 204.6L454.9 207.7L456.3 208.9L457.8 210.2L459.2 210.9L460.7 208.0L462.1 211.1L463.6 212.1L465.0 211.7L466.5 212.8L467.9 215.7L469.4 217.3L470.8 215.9L472.3 216.8L473.7 220.0L475.2 218.0L476.6 214.9L478.1 219.0L479.5 220.1L481.0 216.4L482.4 217.6L483.9 219.6L485.3 221.1L486.8 224.1L488.2 226.6L489.7 228.1L491.1 229.7L492.6 229.7L494.0 228.2L495.5 229.2L496.9 228.9L498.4 229.1L499.8 230.8L501.3 227.8L502.7 227.3L504.2 224.7L505.6 225.5L507.1 222.9L508.5 221.5L510.0 220.1L511.4 219.5L512.9 220.3L514.3 219.3L515.8 217.5L517.2 216.8L518.7 216.2L520.1 216.0L521.6 214.3L523.0 213.9L524.5 212.5L525.9 214.3L527.4 212.3L528.8 211.0L530.3 213.2L531.7 210.5L533.2 208.7L534.6 208.6L536.1 207.6L537.5 206.3L539.0 207.0L540.4 208.6L541.9 210.5L543.3 208.6L544.8 207.2L546.2 206.6L547.7 209.8L549.1 211.3L550.6 211.3L552.0 210.2L553.5 210.4L554.9 211.5L556.4 211.6L557.8 209.7L559.3 210.8L560.7 210.9L562.2 209.1L563.6 209.0L565.1 210.8L566.5 212.0L568.0 210.2L569.4 210.3L570.9 207.8L572.3 205.9L573.8 206.6L575.2 207.9L576.7 210.0L578.1 209.7L579.6 210.1L581.0 211.3L582.5 211.6L583.9 212.9L585.4 214.8L586.8 215.0L588.3 215.2L589.7 214.3L591.2 211.6L592.6 212.6L594.1 215.2L595.5 215.6L597.0 216.1L598.4 215.7" stroke="#2d708e" stroke-width="1.35" fill="none" stroke-linejoin="round"/>
<path d="M73.5 215.4L75.0 217.1L76.4 219.4L77.9 221.1L79.3 226.2L80.8 229.3L82.2 230.4L83.7 228.9L85.1 228.7L86.6 228.3L88.0 229.8L89.5 230.7L90.9 231.4L92.4 231.4L93.8 232.9L95.3 231.9L96.7 232.8L98.2 231.4L99.6 232.2L101.1 231.9L102.5 230.5L104.0 231.0L105.4 230.7L106.9 230.8L108.3 231.2L109.8 232.2L111.2 230.7L112.7 230.5L114.1 226.7L115.6 226.6L117.0 228.1L118.5 226.0L119.9 226.8L121.4 225.9L122.8 224.5L124.3 223.7L125.7 223.0L127.2 222.7L128.6 223.5L130.1 223.0L131.5 224.8L133.0 222.2L134.4 220.4L135.9 222.5L137.3 224.0L138.8 222.8L140.2 223.9L141.7 225.2L143.1 227.4L144.6 227.3L146.0 227.8L147.5 226.6L148.9 224.9L150.4 226.0L151.8 225.5L153.3 227.4L154.7 226.6L156.2 227.3L157.6 227.3L159.1 225.5L160.5 225.6L162.0 227.4L163.4 226.3L164.9 224.4L166.3 222.3L167.8 223.0L169.2 223.8L170.7 221.5L172.1 220.3L173.6 219.7L175.0 219.1L176.5 219.0L177.9 218.5L179.4 216.1L180.8 213.3L182.3 211.8L183.7 209.5L185.2 210.9L186.6 210.4L188.1 210.6L189.5 211.0L191.0 210.8L192.4 208.7L193.9 207.3L195.3 207.1L196.8 204.7L198.2 204.8L199.7 204.3L201.1 202.3L202.6 204.5L204.0 205.7L205.5 204.9L206.9 206.6L208.4 208.5L209.8 209.3L211.3 209.7L212.7 211.2L214.2 211.4L215.6 209.1L217.1 210.3L218.5 213.0L220.0 210.3L221.4 210.1L222.9 211.0L224.3 210.4L225.8 211.0L227.2 212.6L228.7 212.1L230.1 213.7L231.6 210.6L233.0 209.3L234.5 211.1L235.9 208.2L237.4 206.5L238.8 207.4L240.3 208.1L241.7 207.2L243.2 204.6L244.6 206.4L246.1 206.1L247.5 206.1L249.0 208.5L250.4 208.0L251.9 207.7L253.3 205.9L254.8 204.2L256.2 202.2L257.7 202.1L259.1 203.9L260.6 203.9L262.0 203.7L263.5 198.8L264.9 196.8L266.4 195.6L267.8 193.4L269.3 191.2L270.7 190.2L272.2 190.8L273.6 192.7L275.1 188.5L276.5 186.2L278.0 186.3L279.4 184.0L280.9 180.8L282.3 180.2L283.8 178.7L285.2 180.7L286.7 180.4L288.1 177.2L289.6 176.1L291.0 175.6L292.5 172.4L293.9 173.5L295.4 173.9L296.8 170.8L298.3 167.1L299.7 166.4L301.2 166.5L302.6 164.8L304.1 162.2L305.5 161.3L307.0 163.1L308.4 162.1L309.9 161.6L311.3 162.8L312.8 164.1L314.2 161.7L315.7 160.2L317.1 162.6L318.6 158.6L320.0 159.8L321.5 159.2L322.9 159.9L324.4 161.2L325.8 159.8L327.3 158.9L328.7 159.8L330.2 160.9L331.6 159.9L333.1 160.7L334.5 161.1L336.0 160.0L337.4 160.5L338.9 160.8L340.3 159.9L341.8 161.0L343.2 163.2L344.7 160.5L346.1 159.8L347.6 160.0L349.0 161.2L350.5 161.5L351.9 165.7L353.4 166.7L354.8 162.3L356.3 159.6L357.7 160.9L359.2 159.1L360.6 155.8L362.1 156.2L363.5 157.0L365.0 157.4L366.4 157.0L367.9 156.9L369.3 156.7L370.8 158.0L372.2 158.0L373.7 160.4L375.1 160.4L376.6 161.5L378.0 162.2L379.5 162.9L380.9 165.4L382.4 169.7L383.8 170.5L385.3 167.9L386.7 167.4L388.2 170.6L389.6 170.1L391.1 168.9L392.5 167.3L394.0 168.7L395.4 168.4L396.9 170.2L398.3 171.3L399.8 170.9L401.2 169.5L402.7 171.9L404.1 173.4L405.6 176.8L407.0 178.6L408.5 177.9L409.9 177.7L411.4 177.3L412.8 178.7L414.3 178.6L415.7 179.1L417.2 181.4L418.6 182.1L420.1 183.4L421.5 180.6L423.0 180.1L424.4 183.8L425.9 184.3L427.3 187.7L428.8 191.0L430.2 191.4L431.7 190.8L433.1 192.2L434.6 192.3L436.0 193.1L437.5 192.1L438.9 191.2L440.4 193.4L441.8 199.5L443.3 200.5L444.7 200.5L446.2 201.7L447.6 201.4L449.1 203.8L450.5 206.1L452.0 205.3L453.4 205.7L454.9 208.1L456.3 208.8L457.8 210.3L459.2 210.4L460.7 206.7L462.1 208.6L463.6 209.9L465.0 209.9L466.5 212.3L467.9 214.2L469.4 216.9L470.8 216.6L472.3 216.6L473.7 220.9L475.2 219.1L476.6 217.0L478.1 219.5L479.5 219.2L481.0 215.9L482.4 218.6L483.9 219.2L485.3 219.9L486.8 221.7L488.2 226.4L489.7 227.8L491.1 228.6L492.6 227.9L494.0 226.8L495.5 229.6L496.9 229.3L498.4 227.7L499.8 230.9L501.3 229.3L502.7 227.6L504.2 226.3L505.6 224.7L507.1 222.8L508.5 221.3L510.0 219.0L511.4 217.5L512.9 217.5L514.3 216.6L515.8 215.3L517.2 216.0L518.7 215.6L520.1 216.8L521.6 214.9L523.0 214.0L524.5 212.0L525.9 213.2L527.4 210.6L528.8 207.8L530.3 211.1L531.7 210.0L533.2 208.5L534.6 210.0L536.1 208.9L537.5 208.2L539.0 208.1L540.4 209.7L541.9 210.7L543.3 209.0L544.8 207.4L546.2 207.3L547.7 210.5L549.1 211.5L550.6 211.3L552.0 209.6L553.5 208.6L554.9 209.3L556.4 210.9L557.8 209.9L559.3 211.7L560.7 210.8L562.2 208.8L563.6 208.4L565.1 210.9L566.5 211.9L568.0 210.1L569.4 210.5L570.9 208.9L572.3 206.4L573.8 206.5L575.2 207.5L576.7 210.0L578.1 209.7L579.6 210.2L581.0 211.6L582.5 211.8L583.9 211.6L585.4 213.3L586.8 213.0L588.3 212.9L589.7 213.1L591.2 210.7L592.6 213.4L594.1 215.6L595.5 216.6L597.0 217.6L598.4 217.6" stroke="#2b748e" stroke-width="1.35" fill="none" stroke-linejoin="round"/>
<path d="M73.5 215.4L75.0 218.4L76.4 220.8L77.9 221.4L79.3 225.7L80.8 227.6L82.2 227.5L83.7 227.2L85.1 229.2L86.6 229.5L88.0 232.7L89.5 232.8L90.9 235.0L92.4 234.3L93.8 235.2L95.3 234.5L96.7 234.4L98.2 232.9L99.6 234.6L101.1 235.1L102.5 233.8L104.0 233.3L105.4 231.7L106.9 231.3L108.3 230.4L109.8 231.2L111.2 230.0L112.7 230.5L114.1 226.5L115.6 227.7L117.0 229.2L118.5 228.8L119.9 229.1L121.4 227.9L122.8 227.1L124.3 227.4L125.7 226.5L127.2 225.2L128.6 225.1L130.1 223.8L131.5 224.9L133.0 222.5L134.4 219.9L135.9 221.1L137.3 223.5L138.8 223.8L140.2 224.5L141.7 226.1L143.1 228.9L144.6 228.9L146.0 227.4L147.5 226.2L148.9 223.0L150.4 223.6L151.8 222.9L153.3 225.0L154.7 225.4L156.2 226.3L157.6 227.7L159.1 226.7L160.5 227.1L162.0 228.7L163.4 226.2L164.9 224.7L166.3 222.9L167.8 222.5L169.2 222.5L170.7 218.4L172.1 216.9L173.6 217.3L175.0 216.4L176.5 217.3L177.9 216.8L179.4 214.4L180.8 211.7L182.3 210.5L183.7 207.8L185.2 209.6L186.6 208.8L188.1 209.2L189.5 209.9L191.0 209.1L192.4 207.8L193.9 205.8L195.3 204.1L196.8 202.0L198.2 202.2L199.7 202.4L201.1 201.1L202.6 202.7L204.0 205.3L205.5 204.3L206.9 207.7L208.4 209.7L209.8 209.4L211.3 208.7L212.7 209.5L214.2 210.0L215.6 208.2L217.1 208.4L218.5 211.8L220.0 209.9L221.4 211.0L222.9 212.1L224.3 212.1L225.8 211.5L227.2 213.8L228.7 212.4L230.1 213.9L231.6 211.6L233.0 209.8L234.5 211.6L235.9 208.5L237.4 205.1L238.8 207.6L240.3 208.5L241.7 208.4L243.2 208.2L244.6 209.2L246.1 207.8L247.5 208.1L249.0 209.9L250.4 208.3L251.9 206.7L253.3 206.4L254.8 203.9L256.2 201.0L257.7 199.9L259.1 202.0L260.6 202.7L262.0 202.2L263.5 199.0L264.9 196.9L266.4 195.3L267.8 192.2L269.3 190.9L270.7 191.0L272.2 191.2L273.6 193.6L275.1 189.4L276.5 185.5L278.0 186.0L279.4 184.0L280.9 181.6L282.3 179.5L283.8 178.8L285.2 180.0L286.7 179.5L288.1 177.5L289.6 176.3L291.0 175.9L292.5 171.6L293.9 172.1L295.4 171.3L296.8 168.3L298.3 165.2L299.7 165.8L301.2 165.3L302.6 165.2L304.1 163.4L305.5 165.5L307.0 166.4L308.4 164.4L309.9 162.5L311.3 162.3L312.8 163.6L314.2 160.2L315.7 158.5L317.1 161.2L318.6 157.8L320.0 158.4L321.5 157.8L322.9 159.9L324.4 161.3L325.8 160.0L327.3 158.7L328.7 159.8L330.2 162.0L331.6 161.0L333.1 161.7L334.5 161.7L336.0 160.8L337.4 161.2L338.9 159.8L340.3 159.7L341.8 161.1L343.2 163.2L344.7 161.9L346.1 161.0L347.6 161.0L349.0 160.0L350.5 159.7L351.9 163.8L353.4 165.1L354.8 161.5L356.3 160.5L357.7 161.0L359.2 160.1L360.6 157.0L362.1 156.2L363.5 156.5L365.0 157.3L366.4 157.2L367.9 157.4L369.3 157.2L370.8 158.3L372.2 158.8L373.7 160.6L375.1 159.2L376.6 161.6L378.0 162.6L379.5 162.0L380.9 163.4L382.4 169.0L383.8 169.4L385.3 167.3L386.7 166.6L388.2 169.5L389.6 170.0L391.1 168.7L392.5 166.6L394.0 168.3L395.4 169.0L396.9 169.8L398.3 170.4L399.8 171.5L401.2 170.5L402.7 172.5L404.1 174.5L405.6 176.3L407.0 177.3L408.5 176.5L409.9 175.8L411.4 176.3L412.8 177.6L414.3 178.1L415.7 179.7L417.2 180.0L418.6 182.2L420.1 182.8L421.5 179.6L423.0 178.8L424.4 181.2L425.9 182.8L427.3 188.8L428.8 190.6L430.2 190.8L431.7 190.7L433.1 189.6L434.6 190.9L436.0 191.5L437.5 191.2L438.9 191.9L440.4 192.9L441.8 198.1L443.3 199.2L444.7 199.6L446.2 201.3L447.6 200.5L449.1 204.4L450.5 205.6L452.0 204.6L453.4 204.7L454.9 206.7L456.3 208.2L457.8 209.9L459.2 210.1L460.7 208.8L462.1 209.2L463.6 210.3L465.0 209.5L466.5 211.7L467.9 213.4L469.4 216.8L470.8 216.6L472.3 216.8L473.7 219.9L475.2 216.8L476.6 215.5L478.1 217.4L479.5 218.3L481.0 215.8L482.4 218.8L483.9 219.1L485.3 220.7L486.8 222.5L488.2 226.6L489.7 228.0L491.1 228.5L492.6 227.8L494.0 227.3L495.5 228.7L496.9 227.9L498.4 226.6L499.8 228.9L501.3 227.6L502.7 226.5L504.2 225.6L505.6 225.0L507.1 222.6L508.5 220.4L510.0 218.4L511.4 216.9L512.9 217.5L514.3 215.9L515.8 214.7L517.2 215.3L518.7 215.4L520.1 215.2L521.6 213.5L523.0 213.1L524.5 211.0L525.9 211.5L527.4 209.9L528.8 206.9L530.3 210.6L531.7 209.7L533.2 207.4L534.6 209.5L536.1 209.1L537.5 208.3L539.0 207.8L540.4 208.4L541.9 210.3L543.3 208.3L544.8 206.0L546.2 206.9L547.7 209.3L549.1 211.4L550.6 210.6L552.0 209.4L553.5 208.8L554.9 208.7L556.4 209.5L557.8 209.6L559.3 212.1L560.7 212.4L562.2 210.9L563.6 210.6L565.1 212.2L566.5 212.7L568.0 210.4L569.4 210.9L570.9 209.1L572.3 206.5L573.8 207.5L575.2 208.2L576.7 209.6L578.1 209.7L579.6 211.5L581.0 212.9L582.5 212.7L583.9 212.1L585.4 212.3L586.8 214.1L588.3 212.8L589.7 212.3L591.2 210.4L592.6 212.6L594.1 214.5L595.5 216.5L597.0 216.3L598.4 217.6" stroke="#297a8e" stroke-width="1.35" fill="none" stroke-linejoin="round"/>
<path d="M73.5 214.7L75.0 217.6L76.4 220.8L77.9 222.6L79.3 227.1L80.8 230.2L82.2 231.3L83.7 229.2L85.1 231.4L86.6 231.1L88.0 232.5L89.5 233.6L90.9 234.1L92.4 234.6L93.8 236.3L95.3 235.8L96.7 235.3L98.2 233.5L99.6 236.1L101.1 237.5L102.5 236.5L104.0 237.1L105.4 234.2L106.9 232.8L108.3 231.0L109.8 231.7L111.2 231.4L112.7 232.5L114.1 228.4L115.6 229.3L117.0 230.7L118.5 230.4L119.9 231.9L121.4 230.5L122.8 227.9L124.3 227.3L125.7 224.0L127.2 222.7L128.6 223.8L130.1 223.5L131.5 223.8L133.0 224.1L134.4 221.7L135.9 223.4L137.3 224.9L138.8 224.8L140.2 223.7L141.7 225.8L143.1 228.6L144.6 227.8L146.0 226.3L147.5 225.9L148.9 223.5L150.4 223.5L151.8 224.1L153.3 225.9L154.7 226.6L156.2 226.5L157.6 227.2L159.1 226.6L160.5 225.7L162.0 227.7L163.4 225.0L164.9 223.5L166.3 222.5L167.8 222.5L169.2 222.5L170.7 218.7L172.1 216.4L173.6 216.2L175.0 214.7L176.5 214.9L177.9 214.5L179.4 211.5L180.8 207.9L182.3 207.8L183.7 205.6L185.2 207.7L186.6 207.1L188.1 207.4L189.5 207.4L191.0 207.0L192.4 206.6L193.9 204.7L195.3 202.2L196.8 201.5L198.2 201.9L199.7 202.8L201.1 201.7L202.6 201.9L204.0 203.9L205.5 203.9L206.9 206.9L208.4 208.5L209.8 209.3L211.3 208.3L212.7 208.2L214.2 208.9L215.6 208.5L217.1 209.5L218.5 211.8L220.0 210.9L221.4 211.1L222.9 212.5L224.3 211.8L225.8 211.3L227.2 213.7L228.7 211.4L230.1 212.6L231.6 208.9L233.0 209.2L234.5 210.7L235.9 208.5L237.4 206.4L238.8 208.7L240.3 211.4L241.7 209.5L243.2 208.9L244.6 210.6L246.1 208.8L247.5 208.5L249.0 209.9L250.4 208.6L251.9 207.2L253.3 206.6L254.8 206.2L256.2 203.3L257.7 201.7L259.1 202.7L260.6 202.3L262.0 199.1L263.5 196.0L264.9 195.0L266.4 193.1L267.8 191.5L269.3 190.5L270.7 189.4L272.2 190.3L273.6 192.7L275.1 187.8L276.5 185.4L278.0 186.2L279.4 184.8L280.9 183.0L282.3 180.8L283.8 179.8L285.2 180.9L286.7 179.0L288.1 177.4L289.6 175.3L291.0 174.9L292.5 171.3L293.9 171.3L295.4 172.4L296.8 169.4L298.3 165.8L299.7 166.4L301.2 165.8L302.6 164.4L304.1 162.7L305.5 162.9L307.0 162.4L308.4 161.6L309.9 160.4L311.3 160.8L312.8 163.7L314.2 161.4L315.7 159.6L317.1 162.3L318.6 159.8L320.0 160.4L321.5 158.6L322.9 159.8L324.4 162.2L325.8 161.2L327.3 161.9L328.7 161.4L330.2 161.5L331.6 160.7L333.1 161.6L334.5 160.6L336.0 159.3L337.4 160.0L338.9 158.4L340.3 159.2L341.8 162.3L343.2 163.4L344.7 163.0L346.1 160.5L347.6 159.5L349.0 158.7L350.5 159.4L351.9 163.9L353.4 165.9L354.8 162.2L356.3 161.4L357.7 161.8L359.2 161.4L360.6 159.4L362.1 158.4L363.5 157.5L365.0 158.6L366.4 158.0L367.9 158.3L369.3 158.1L370.8 159.4L372.2 160.4L373.7 160.6L375.1 160.0L376.6 161.7L378.0 160.9L379.5 160.2L380.9 161.6L382.4 166.5L383.8 166.8L385.3 165.0L386.7 164.6L388.2 168.3L389.6 169.6L391.1 169.0L392.5 168.4L394.0 169.1L395.4 168.8L396.9 169.6L398.3 168.9L399.8 167.8L401.2 167.4L402.7 170.5L404.1 172.2L405.6 174.7L407.0 176.4L408.5 175.2L409.9 173.9L411.4 176.1L412.8 177.7L414.3 178.6L415.7 179.9L417.2 181.3L418.6 182.7L420.1 183.0L421.5 178.9L423.0 178.6L424.4 179.9L425.9 181.8L427.3 186.5L428.8 189.8L430.2 189.4L431.7 189.1L433.1 189.5L434.6 191.4L436.0 192.1L437.5 190.9L438.9 192.1L440.4 192.5L441.8 198.3L443.3 199.4L444.7 198.3L446.2 201.0L447.6 199.0L449.1 201.3L450.5 204.2L452.0 204.2L453.4 206.1L454.9 207.4L456.3 207.2L457.8 208.6L459.2 208.4L460.7 206.4L462.1 207.2L463.6 207.7L465.0 208.2L466.5 210.2L467.9 212.9L469.4 215.0L470.8 216.5L472.3 216.7L473.7 220.1L475.2 217.2L476.6 216.0L478.1 218.1L479.5 220.2L481.0 218.5L482.4 219.8L483.9 219.7L485.3 219.8L486.8 220.2L488.2 224.4L489.7 225.1L491.1 227.3L492.6 227.3L494.0 225.5L495.5 227.5L496.9 226.2L498.4 226.7L499.8 230.1L501.3 228.5L502.7 227.7L504.2 226.9L505.6 225.7L507.1 222.6L508.5 219.5L510.0 217.9L511.4 216.6L512.9 215.9L514.3 215.3L515.8 214.3L517.2 215.6L518.7 215.4L520.1 214.3L521.6 213.7L523.0 212.2L524.5 210.9L525.9 210.4L527.4 209.4L528.8 206.4L530.3 208.6L531.7 208.3L533.2 208.7L534.6 209.1L536.1 208.1L537.5 207.8L539.0 207.9L540.4 208.4L541.9 209.6L543.3 207.2L544.8 206.4L546.2 207.3L547.7 210.1L549.1 211.5L550.6 211.1L552.0 211.1L553.5 209.0L554.9 208.8L556.4 208.8L557.8 208.8L559.3 210.4L560.7 210.6L562.2 208.5L563.6 210.0L565.1 211.4L566.5 212.7L568.0 211.4L569.4 212.3L570.9 210.8L572.3 207.7L573.8 208.1L575.2 209.3L576.7 211.3L578.1 209.1L579.6 209.6L581.0 210.2L582.5 210.5L583.9 211.3L585.4 212.5L586.8 212.1L588.3 212.6L589.7 211.4L591.2 211.3L592.6 213.7L594.1 215.7L595.5 216.8L597.0 216.7L598.4 218.7" stroke="#27808e" stroke-width="1.35" fill="none" stroke-linejoin="round"/>
<path d="M73.5 214.2L75.0 217.1L76.4 221.9L77.9 224.7L79.3 228.0L80.8 231.4L82.2 233.1L83.7 232.2L85.1 233.9L86.6 233.1L88.0 234.5L89.5 234.6L90.9 235.7L92.4 236.1L93.8 237.8L95.3 238.0L96.7 236.3L98.2 234.4L99.6 235.8L101.1 237.0L102.5 235.1L104.0 236.7L105.4 235.6L106.9 234.9L108.3 233.3L109.8 233.5L111.2 232.5L112.7 233.3L114.1 230.5L115.6 230.8L117.0 231.1L118.5 231.5L119.9 232.8L121.4 231.6L122.8 229.3L124.3 228.1L125.7 226.6L127.2 226.2L128.6 225.6L130.1 224.9L131.5 224.4L133.0 223.8L134.4 222.0L135.9 222.5L137.3 224.5L138.8 226.2L140.2 224.8L141.7 225.8L143.1 228.3L144.6 227.4L146.0 225.4L147.5 224.3L148.9 223.5L150.4 224.1L151.8 224.5L153.3 225.3L154.7 225.8L156.2 227.3L157.6 227.5L159.1 227.6L160.5 227.7L162.0 229.5L163.4 226.0L164.9 223.3L166.3 220.3L167.8 219.1L169.2 218.1L170.7 214.9L172.1 213.1L173.6 214.5L175.0 213.8L176.5 214.7L177.9 213.2L179.4 211.2L180.8 207.3L182.3 207.9L183.7 207.3L185.2 206.6L186.6 206.2L188.1 206.3L189.5 206.0L191.0 206.4L192.4 205.2L193.9 203.0L195.3 200.0L196.8 199.5L198.2 198.6L199.7 198.7L201.1 198.6L202.6 199.1L204.0 202.0L205.5 203.4L206.9 205.3L208.4 206.7L209.8 207.8L211.3 206.9L212.7 208.9L214.2 209.7L215.6 207.6L217.1 208.5L218.5 211.0L220.0 209.8L221.4 210.7L222.9 211.5L224.3 212.8L225.8 213.0L227.2 214.3L228.7 212.0L230.1 213.3L231.6 212.1L233.0 212.4L234.5 213.7L235.9 209.4L237.4 207.5L238.8 207.9L240.3 210.8L241.7 209.5L243.2 208.8L244.6 209.7L246.1 208.0L247.5 208.4L249.0 210.0L250.4 209.6L251.9 208.5L253.3 206.6L254.8 206.8L256.2 203.9L257.7 200.6L259.1 201.3L260.6 200.5L262.0 199.7L263.5 196.6L264.9 194.1L266.4 191.7L267.8 189.4L269.3 189.6L270.7 189.4L272.2 190.0L273.6 192.4L275.1 189.3L276.5 186.5L278.0 186.7L279.4 184.7L280.9 181.7L282.3 180.8L283.8 179.8L285.2 180.0L286.7 178.7L288.1 177.3L289.6 176.2L291.0 175.8L292.5 171.7L293.9 171.2L295.4 172.1L296.8 168.1L298.3 166.3L299.7 165.6L301.2 165.4L302.6 163.9L304.1 162.7L305.5 163.9L307.0 163.1L308.4 161.9L309.9 160.7L311.3 160.5L312.8 163.2L314.2 160.7L315.7 158.4L317.1 160.4L318.6 158.3L320.0 159.5L321.5 157.9L322.9 159.1L324.4 160.4L325.8 160.9L327.3 160.5L328.7 160.2L330.2 161.2L331.6 160.4L333.1 162.4L334.5 162.0L336.0 162.0L337.4 162.4L338.9 161.3L340.3 161.1L341.8 162.0L343.2 163.9L344.7 163.9L346.1 161.5L347.6 160.8L349.0 159.8L350.5 158.8L351.9 162.4L353.4 163.6L354.8 159.8L356.3 159.5L357.7 160.5L359.2 159.1L360.6 159.6L362.1 159.5L363.5 159.9L365.0 160.5L366.4 161.0L367.9 160.8L369.3 158.6L370.8 160.8L372.2 161.0L373.7 160.1L375.1 159.2L376.6 160.8L378.0 161.0L379.5 161.1L380.9 163.3L382.4 167.8L383.8 166.9L385.3 163.8L386.7 164.1L388.2 168.4L389.6 168.6L391.1 167.0L392.5 166.7L394.0 167.7L395.4 168.0L396.9 168.3L398.3 169.6L399.8 169.2L401.2 167.9L402.7 170.0L404.1 171.2L405.6 175.3L407.0 175.1L408.5 173.1L409.9 173.7L411.4 175.3L412.8 175.8L414.3 176.4L415.7 178.2L417.2 179.3L418.6 180.9L420.1 181.5L421.5 177.4L423.0 176.7L424.4 177.5L425.9 180.6L427.3 185.6L428.8 188.6L430.2 188.6L431.7 189.1L433.1 189.5L434.6 190.2L436.0 190.4L437.5 191.8L438.9 194.8L440.4 195.0L441.8 200.4L443.3 200.7L444.7 199.4L446.2 200.5L447.6 198.4L449.1 199.4L450.5 202.1L452.0 202.3L453.4 202.9L454.9 205.4L456.3 206.0L457.8 207.3L459.2 207.0L460.7 206.1L462.1 208.1L463.6 208.8L465.0 208.8L466.5 210.4L467.9 213.1L469.4 213.8L470.8 214.6L472.3 214.4L473.7 215.9L475.2 213.9L476.6 214.3L478.1 215.7L479.5 218.2L481.0 218.6L482.4 220.0L483.9 220.8L485.3 221.7L486.8 221.8L488.2 224.7L489.7 224.2L491.1 225.2L492.6 225.5L494.0 224.8L495.5 227.4L496.9 226.1L498.4 227.9L499.8 229.7L501.3 228.8L502.7 227.1L504.2 224.8L505.6 223.7L507.1 221.0L508.5 221.1L510.0 220.1L511.4 218.4L512.9 217.3L514.3 215.3L515.8 213.8L517.2 214.8L518.7 213.7L520.1 211.3L521.6 211.4L523.0 208.7L524.5 209.3L525.9 209.6L527.4 208.5L528.8 206.2L530.3 207.4L531.7 207.4L533.2 207.8L534.6 209.2L536.1 209.2L537.5 208.4L539.0 209.0L540.4 208.0L541.9 209.9L543.3 209.2L544.8 207.8L546.2 208.2L547.7 210.8L549.1 211.7L550.6 209.6L552.0 210.3L553.5 207.7L554.9 207.2L556.4 207.5L557.8 208.6L559.3 210.9L560.7 211.0L562.2 208.8L563.6 209.2L565.1 209.7L566.5 212.0L568.0 211.3L569.4 212.7L570.9 210.8L572.3 207.7L573.8 209.0L575.2 210.2L576.7 210.5L578.1 209.0L579.6 209.0L581.0 209.5L582.5 211.5L583.9 211.3L585.4 213.9L586.8 213.5L588.3 214.9L589.7 213.9L591.2 212.8L592.6 215.2L594.1 215.2L595.5 216.8L597.0 216.4L598.4 217.1" stroke="#25858e" stroke-width="1.35" fill="none" stroke-linejoin="round"/>
<path d="M73.5 213.4L75.0 217.1L76.4 222.5L77.9 226.0L79.3 228.8L80.8 233.4L82.2 234.1L83.7 232.6L85.1 234.4L86.6 234.1L88.0 234.7L89.5 235.8L90.9 235.7L92.4 237.2L93.8 239.9L95.3 239.6L96.7 237.8L98.2 236.5L99.6 237.8L101.1 239.2L102.5 236.8L104.0 239.1L105.4 237.9L106.9 236.1L108.3 234.0L109.8 235.4L111.2 234.0L112.7 234.1L114.1 231.2L115.6 232.3L117.0 232.7L118.5 232.7L119.9 233.7L121.4 231.9L122.8 230.4L124.3 228.2L125.7 227.3L127.2 227.9L128.6 226.3L130.1 226.0L131.5 224.9L133.0 224.0L134.4 223.1L135.9 223.7L137.3 225.4L138.8 226.0L140.2 225.0L141.7 225.8L143.1 228.0L144.6 226.8L146.0 225.7L147.5 224.9L148.9 224.3L150.4 224.9L151.8 225.1L153.3 226.3L154.7 226.0L156.2 226.9L157.6 228.3L159.1 227.7L160.5 227.1L162.0 227.0L163.4 224.2L164.9 222.3L166.3 219.3L167.8 216.8L169.2 215.7L170.7 212.3L172.1 210.6L173.6 212.1L175.0 211.5L176.5 212.1L177.9 212.3L179.4 210.4L180.8 206.6L182.3 207.2L183.7 206.7L185.2 206.5L186.6 206.2L188.1 205.1L189.5 205.5L191.0 204.9L192.4 202.3L193.9 201.0L195.3 199.5L196.8 197.9L198.2 197.6L199.7 197.3L201.1 197.6L202.6 199.3L204.0 201.9L205.5 202.7L206.9 203.8L208.4 205.9L209.8 206.3L211.3 205.3L212.7 205.7L214.2 206.2L215.6 207.1L217.1 208.4L218.5 210.1L220.0 210.5L221.4 210.5L222.9 211.5L224.3 211.7L225.8 211.2L227.2 214.7L228.7 212.5L230.1 213.8L231.6 212.5L233.0 213.4L234.5 214.2L235.9 210.1L237.4 208.4L238.8 209.8L240.3 211.0L241.7 209.3L243.2 208.4L244.6 210.5L246.1 209.2L247.5 210.0L249.0 211.8L250.4 211.0L251.9 209.1L253.3 205.9L254.8 206.4L256.2 203.4L257.7 200.3L259.1 202.0L260.6 199.9L262.0 199.7L263.5 195.9L264.9 192.7L266.4 190.0L267.8 189.4L269.3 190.7L270.7 189.7L272.2 191.9L273.6 193.1L275.1 188.6L276.5 185.3L278.0 187.1L279.4 184.9L280.9 181.9L282.3 179.7L283.8 180.3L285.2 179.9L286.7 178.3L288.1 177.6L289.6 175.9L291.0 175.6L292.5 171.7L293.9 171.2L295.4 171.6L296.8 168.8L298.3 166.9L299.7 167.3L301.2 166.6L302.6 164.8L304.1 163.8L305.5 163.7L307.0 163.3L308.4 162.4L309.9 160.3L311.3 159.9L312.8 161.1L314.2 159.7L315.7 159.8L317.1 159.6L318.6 157.8L320.0 158.0L321.5 157.7L322.9 158.4L324.4 159.9L325.8 159.8L327.3 160.6L328.7 160.9L330.2 161.6L331.6 161.8L333.1 162.7L334.5 161.5L336.0 162.2L337.4 161.3L338.9 160.6L340.3 160.6L341.8 162.6L343.2 163.5L344.7 165.2L346.1 162.8L347.6 163.8L349.0 162.7L350.5 161.0L351.9 162.1L353.4 163.3L354.8 159.6L356.3 158.4L357.7 159.5L359.2 158.3L360.6 158.6L362.1 159.0L363.5 158.8L365.0 160.1L366.4 159.2L367.9 158.4L369.3 157.5L370.8 160.1L372.2 161.7L373.7 160.5L375.1 159.6L376.6 160.2L378.0 162.0L379.5 161.6L380.9 164.5L382.4 167.5L383.8 166.9L385.3 164.9L386.7 165.5L388.2 169.0L389.6 168.1L391.1 166.2L392.5 164.7L394.0 167.1L395.4 168.1L396.9 168.4L398.3 168.1L399.8 167.3L401.2 167.4L402.7 170.3L404.1 170.9L405.6 174.9L407.0 174.0L408.5 173.4L409.9 172.5L411.4 173.9L412.8 174.8L414.3 175.4L415.7 177.7L417.2 177.0L418.6 178.5L420.1 180.0L421.5 175.4L423.0 176.7L424.4 179.0L425.9 181.4L427.3 185.0L428.8 186.7L430.2 187.6L431.7 186.5L433.1 187.7L434.6 188.2L436.0 188.8L437.5 191.2L438.9 192.6L440.4 194.4L441.8 200.6L443.3 200.4L444.7 199.8L446.2 201.0L447.6 200.0L449.1 200.1L450.5 201.4L452.0 202.1L453.4 201.3L454.9 203.6L456.3 204.1L457.8 205.8L459.2 206.4L460.7 204.8L462.1 207.4L463.6 208.4L465.0 207.8L466.5 209.1L467.9 212.8L469.4 212.5L470.8 213.1L472.3 214.3L473.7 216.6L475.2 215.2L476.6 212.9L478.1 214.0L479.5 217.1L481.0 218.0L482.4 219.5L483.9 221.0L485.3 222.1L486.8 221.2L488.2 223.9L489.7 225.0L491.1 226.3L492.6 226.4L494.0 226.7L495.5 227.8L496.9 226.0L498.4 226.4L499.8 227.3L501.3 227.1L502.7 226.4L504.2 224.6L505.6 223.7L507.1 220.7L508.5 222.1L510.0 219.9L511.4 217.7L512.9 217.1L514.3 215.3L515.8 213.8L517.2 213.6L518.7 213.9L520.1 211.7L521.6 211.3L523.0 208.3L524.5 208.4L525.9 209.3L527.4 208.4L528.8 204.6L530.3 206.9L531.7 206.6L533.2 207.5L534.6 209.0L536.1 210.3L537.5 209.9L539.0 209.2L540.4 207.7L541.9 209.7L543.3 209.1L544.8 208.7L546.2 207.8L547.7 208.9L549.1 210.1L550.6 208.8L552.0 210.3L553.5 207.5L554.9 207.7L556.4 207.1L557.8 207.7L559.3 208.6L560.7 209.9L562.2 208.2L563.6 208.4L565.1 207.3L566.5 210.4L568.0 209.8L569.4 211.6L570.9 211.5L572.3 208.4L573.8 209.6L575.2 211.8L576.7 212.3L578.1 210.4L579.6 209.6L581.0 211.1L582.5 211.4L583.9 211.7L585.4 212.9L586.8 212.9L588.3 213.5L589.7 212.7L591.2 211.8L592.6 214.8L594.1 216.9L595.5 218.5L597.0 217.8L598.4 217.7" stroke="#228b8d" stroke-width="1.35" fill="none" stroke-linejoin="round"/>
<path d="M73.5 214.4L75.0 218.3L76.4 223.1L77.9 225.6L79.3 228.3L80.8 233.0L82.2 234.7L83.7 236.1L85.1 236.4L86.6 236.2L88.0 237.7L89.5 236.7L90.9 236.9L92.4 237.2L93.8 238.0L95.3 238.6L96.7 237.1L98.2 236.1L99.6 240.5L101.1 241.7L102.5 240.3L104.0 240.6L105.4 238.8L106.9 237.7L108.3 235.6L109.8 236.4L111.2 236.5L112.7 235.2L114.1 233.8L115.6 234.5L117.0 235.4L118.5 235.8L119.9 236.8L121.4 233.6L122.8 231.8L124.3 229.7L125.7 226.9L127.2 226.7L128.6 225.0L130.1 223.9L131.5 223.2L133.0 223.3L134.4 223.5L135.9 223.1L137.3 225.4L138.8 224.8L140.2 224.6L141.7 225.1L143.1 227.4L144.6 226.5L146.0 226.5L147.5 225.4L148.9 225.5L150.4 226.3L151.8 226.7L153.3 227.2L154.7 226.1L156.2 227.2L157.6 228.5L159.1 226.3L160.5 227.1L162.0 227.7L163.4 224.1L164.9 220.0L166.3 216.8L167.8 215.3L169.2 213.0L170.7 210.4L172.1 207.3L173.6 210.0L175.0 210.8L176.5 211.2L177.9 210.8L179.4 208.8L180.8 206.1L182.3 207.2L183.7 206.4L185.2 206.3L186.6 204.3L188.1 204.1L189.5 204.0L191.0 203.7L192.4 201.9L193.9 201.2L195.3 200.1L196.8 198.7L198.2 197.4L199.7 196.4L201.1 195.9L202.6 196.5L204.0 198.0L205.5 200.7L206.9 201.7L208.4 204.6L209.8 206.7L211.3 205.6L212.7 205.6L214.2 206.0L215.6 205.1L217.1 206.7L218.5 209.2L220.0 208.2L221.4 209.1L222.9 211.5L224.3 212.8L225.8 212.5L227.2 214.9L228.7 213.2L230.1 213.6L231.6 212.7L233.0 213.9L234.5 215.7L235.9 212.5L237.4 209.6L238.8 210.4L240.3 211.1L241.7 210.0L243.2 208.9L244.6 210.7L246.1 210.8L247.5 209.7L249.0 210.4L250.4 209.7L251.9 207.6L253.3 203.5L254.8 204.6L256.2 202.7L257.7 201.4L259.1 202.7L260.6 200.9L262.0 198.8L263.5 195.5L264.9 191.6L266.4 189.4L267.8 187.2L269.3 189.1L270.7 189.9L272.2 192.9L273.6 193.5L275.1 189.2L276.5 185.9L278.0 186.2L279.4 184.8L280.9 181.7L282.3 179.1L283.8 178.2L285.2 179.6L286.7 178.4L288.1 178.2L289.6 178.0L291.0 177.3L292.5 174.5L293.9 172.3L295.4 171.2L296.8 168.3L298.3 166.3L299.7 167.1L301.2 168.2L302.6 165.9L304.1 165.1L305.5 163.7L307.0 162.2L308.4 162.5L309.9 161.7L311.3 160.8L312.8 162.7L314.2 159.5L315.7 158.6L317.1 159.0L318.6 156.6L320.0 157.3L321.5 158.1L322.9 158.9L324.4 159.3L325.8 158.6L327.3 160.0L328.7 159.6L330.2 160.7L331.6 160.4L333.1 161.7L334.5 161.8L336.0 161.5L337.4 161.8L338.9 161.3L340.3 161.1L341.8 162.4L343.2 163.9L344.7 166.5L346.1 164.6L347.6 164.1L349.0 163.2L350.5 160.3L351.9 162.6L353.4 164.4L354.8 159.4L356.3 158.0L357.7 159.6L359.2 157.3L360.6 157.5L362.1 158.4L363.5 158.1L365.0 158.8L366.4 159.3L367.9 159.7L369.3 160.0L370.8 162.0L372.2 162.7L373.7 161.3L375.1 159.2L376.6 159.0L378.0 160.4L379.5 160.5L380.9 164.6L382.4 167.5L383.8 166.8L385.3 164.6L386.7 163.9L388.2 168.2L389.6 166.7L391.1 165.8L392.5 166.1L394.0 166.9L395.4 168.2L396.9 168.4L398.3 168.3L399.8 166.9L401.2 166.2L402.7 168.7L404.1 168.4L405.6 173.5L407.0 173.3L408.5 172.5L409.9 170.7L411.4 173.0L412.8 173.2L414.3 173.7L415.7 175.3L417.2 176.5L418.6 178.0L420.1 179.5L421.5 177.4L423.0 177.3L424.4 180.4L425.9 181.7L427.3 182.6L428.8 185.9L430.2 187.6L431.7 186.0L433.1 186.7L434.6 187.5L436.0 187.9L437.5 190.2L438.9 189.9L440.4 192.7L441.8 199.2L443.3 199.5L444.7 199.9L446.2 201.7L447.6 201.1L449.1 200.5L450.5 201.2L452.0 200.0L453.4 199.8L454.9 201.7L456.3 202.4L457.8 204.8L459.2 204.8L460.7 206.1L462.1 209.1L463.6 208.4L465.0 207.6L466.5 208.7L467.9 211.0L469.4 212.6L470.8 212.4L472.3 212.9L473.7 214.7L475.2 213.9L476.6 212.3L478.1 215.4L479.5 218.2L481.0 218.9L482.4 219.5L483.9 221.3L485.3 221.7L486.8 221.3L488.2 223.1L489.7 224.3L491.1 225.4L492.6 225.3L494.0 224.4L495.5 226.0L496.9 224.8L498.4 225.1L499.8 226.0L501.3 226.2L502.7 226.3L504.2 224.1L505.6 223.6L507.1 221.3L508.5 222.4L510.0 219.8L511.4 216.8L512.9 216.8L514.3 214.9L515.8 214.1L517.2 214.1L518.7 212.4L520.1 211.0L521.6 209.8L523.0 207.7L524.5 207.8L525.9 207.7L527.4 207.4L528.8 204.3L530.3 205.9L531.7 205.5L533.2 206.0L534.6 207.4L536.1 208.9L537.5 210.8L539.0 209.9L540.4 209.3L541.9 210.0L543.3 209.4L544.8 207.1L546.2 206.8L547.7 207.9L549.1 208.9L550.6 209.0L552.0 210.4L553.5 208.5L554.9 209.2L556.4 207.8L557.8 209.2L559.3 210.2L560.7 210.7L562.2 208.0L563.6 208.6L565.1 209.3L566.5 211.7L568.0 211.3L569.4 212.2L570.9 211.4L572.3 209.4L573.8 210.7L575.2 211.4L576.7 211.1L578.1 208.1L579.6 208.6L581.0 210.1L582.5 211.3L583.9 212.2L585.4 213.6L586.8 213.4L588.3 213.5L589.7 213.5L591.2 211.8L592.6 214.7L594.1 217.8L595.5 218.7L597.0 217.9L598.4 216.6" stroke="#21918c" stroke-width="1.35" fill="none" stroke-linejoin="round"/>
<path d="M73.5 215.9L75.0 218.5L76.4 224.1L77.9 227.6L79.3 228.8L80.8 234.3L82.2 237.1L83.7 237.1L85.1 236.5L86.6 236.9L88.0 237.8L89.5 237.6L90.9 235.8L92.4 236.7L93.8 237.6L95.3 237.7L96.7 237.5L98.2 235.8L99.6 240.4L101.1 241.3L102.5 239.8L104.0 239.6L105.4 238.2L106.9 238.3L108.3 237.4L109.8 239.5L111.2 238.4L112.7 238.4L114.1 235.9L115.6 235.8L117.0 236.9L118.5 236.5L119.9 235.1L121.4 232.3L122.8 230.8L124.3 230.1L125.7 227.5L127.2 227.9L128.6 228.2L130.1 227.4L131.5 226.4L133.0 224.9L134.4 224.5L135.9 223.8L137.3 224.3L138.8 223.6L140.2 222.3L141.7 223.8L143.1 226.3L144.6 226.5L146.0 227.6L147.5 226.4L148.9 226.7L150.4 229.2L151.8 228.6L153.3 230.0L154.7 228.7L156.2 228.7L157.6 230.5L159.1 228.3L160.5 227.1L162.0 225.8L163.4 222.3L164.9 218.4L166.3 215.2L167.8 215.0L169.2 213.9L170.7 211.7L172.1 209.0L173.6 211.1L175.0 212.1L176.5 211.5L177.9 211.8L179.4 209.9L180.8 206.7L182.3 206.9L183.7 206.6L185.2 205.6L186.6 204.9L188.1 204.4L189.5 203.6L191.0 203.7L192.4 201.4L193.9 200.7L195.3 199.7L196.8 197.7L198.2 197.2L199.7 197.7L201.1 196.7L202.6 197.8L204.0 200.7L205.5 201.6L206.9 202.6L208.4 205.4L209.8 206.8L211.3 206.2L212.7 206.3L214.2 206.6L215.6 206.3L217.1 207.4L218.5 211.4L220.0 210.2L221.4 208.6L222.9 210.8L224.3 211.7L225.8 211.9L227.2 213.5L228.7 212.2L230.1 214.3L231.6 213.6L233.0 214.1L234.5 215.5L235.9 212.7L237.4 209.9L238.8 211.7L240.3 212.1L241.7 210.5L243.2 209.1L244.6 209.9L246.1 210.0L247.5 210.3L249.0 210.0L250.4 208.1L251.9 206.5L253.3 203.1L254.8 202.5L256.2 200.4L257.7 198.5L259.1 201.5L260.6 200.2L262.0 199.5L263.5 197.4L264.9 193.7L266.4 190.7L267.8 188.6L269.3 188.9L270.7 189.2L272.2 191.4L273.6 191.4L275.1 187.0L276.5 184.1L278.0 182.7L279.4 180.7L280.9 179.0L282.3 177.0L283.8 176.5L285.2 178.8L286.7 178.0L288.1 177.9L289.6 176.5L291.0 176.4L292.5 173.4L293.9 172.2L295.4 171.0L296.8 170.1L298.3 167.0L299.7 167.6L301.2 168.2L302.6 165.5L304.1 164.5L305.5 163.4L307.0 161.5L308.4 161.0L309.9 160.9L311.3 159.3L312.8 160.8L314.2 157.3L315.7 158.0L317.1 158.8L318.6 156.3L320.0 157.0L321.5 158.2L322.9 157.9L324.4 157.7L325.8 156.1L327.3 157.1L328.7 158.2L330.2 159.5L331.6 159.4L333.1 161.0L334.5 161.1L336.0 160.6L337.4 160.4L338.9 159.5L340.3 157.7L341.8 159.3L343.2 159.6L344.7 162.6L346.1 162.2L347.6 163.1L349.0 161.8L350.5 159.9L351.9 161.7L353.4 163.5L354.8 158.2L356.3 156.3L357.7 157.2L359.2 155.0L360.6 156.1L362.1 157.1L363.5 158.3L365.0 159.0L366.4 158.0L367.9 157.4L369.3 158.7L370.8 159.1L372.2 159.6L373.7 157.6L375.1 156.6L376.6 156.5L378.0 159.4L379.5 160.4L380.9 164.1L382.4 167.3L383.8 166.8L385.3 165.0L386.7 164.1L388.2 167.1L389.6 166.3L391.1 165.0L392.5 164.4L394.0 165.8L395.4 165.6L396.9 166.0L398.3 166.5L399.8 166.0L401.2 165.6L402.7 167.7L404.1 167.6L405.6 171.3L407.0 170.7L408.5 171.3L409.9 169.8L411.4 170.3L412.8 171.1L414.3 172.8L415.7 174.5L417.2 175.8L418.6 177.7L420.1 179.5L421.5 176.7L423.0 177.4L424.4 179.0L425.9 180.6L427.3 181.4L428.8 184.0L430.2 185.1L431.7 185.0L433.1 186.2L434.6 185.2L436.0 186.5L437.5 188.3L438.9 187.9L440.4 191.6L441.8 196.8L443.3 197.4L444.7 198.6L446.2 200.1L447.6 199.4L449.1 198.8L450.5 199.9L452.0 200.5L453.4 199.8L454.9 200.7L456.3 202.4L457.8 204.7L459.2 205.4L460.7 205.3L462.1 208.1L463.6 208.7L465.0 208.4L466.5 209.3L467.9 211.1L469.4 211.9L470.8 211.8L472.3 212.4L473.7 212.9L475.2 211.8L476.6 210.8L478.1 214.2L479.5 216.3L481.0 217.2L482.4 217.0L483.9 218.9L485.3 221.1L486.8 220.0L488.2 222.4L489.7 223.8L491.1 224.4L492.6 224.2L494.0 223.4L495.5 225.2L496.9 224.8L498.4 224.8L499.8 225.5L501.3 225.8L502.7 225.2L504.2 221.1L505.6 221.8L507.1 220.6L508.5 220.6L510.0 219.5L511.4 218.6L512.9 217.5L514.3 215.2L515.8 214.6L517.2 213.4L518.7 212.1L520.1 209.6L521.6 208.1L523.0 205.5L524.5 206.7L525.9 208.0L527.4 207.9L528.8 205.4L530.3 205.5L531.7 203.9L533.2 204.9L534.6 206.8L536.1 207.7L537.5 210.8L539.0 211.4L540.4 210.2L541.9 209.8L543.3 210.3L544.8 209.3L546.2 208.1L547.7 208.6L549.1 210.6L550.6 210.3L552.0 210.9L553.5 208.3L554.9 208.6L556.4 208.8L557.8 210.0L559.3 210.7L560.7 210.5L562.2 209.0L563.6 210.0L565.1 210.4L566.5 212.5L568.0 213.1L569.4 212.6L570.9 213.2L572.3 210.0L573.8 209.6L575.2 210.2L576.7 211.6L578.1 209.9L579.6 210.4L581.0 213.9L582.5 214.4L583.9 216.2L585.4 217.0L586.8 216.7L588.3 215.4L589.7 214.2L591.2 211.3L592.6 214.5L594.1 215.9L595.5 218.3L597.0 218.0L598.4 218.5" stroke="#1f958b" stroke-width="1.35" fill="none" stroke-linejoin="round"/>
<path d="M73.5 216.9L75.0 221.4L76.4 226.5L77.9 229.4L79.3 230.9L80.8 235.0L82.2 236.7L83.7 235.8L85.1 236.2L86.6 236.9L88.0 237.9L89.5 239.7L90.9 237.3L92.4 238.0L93.8 239.0L95.3 239.8L96.7 237.8L98.2 235.6L99.6 239.0L101.1 239.7L102.5 240.5L104.0 240.5L105.4 238.5L106.9 239.4L108.3 237.7L109.8 240.0L111.2 239.2L112.7 237.9L114.1 237.9L115.6 237.7L117.0 239.3L118.5 238.3L119.9 236.9L121.4 234.8L122.8 232.9L124.3 231.7L125.7 227.0L127.2 227.3L128.6 226.8L130.1 225.8L131.5 226.0L133.0 222.5L134.4 223.7L135.9 224.3L137.3 224.6L138.8 225.1L140.2 224.6L141.7 225.5L143.1 228.3L144.6 228.1L146.0 228.0L147.5 227.0L148.9 226.5L150.4 228.0L151.8 228.1L153.3 229.9L154.7 229.7L156.2 229.7L157.6 230.9L159.1 228.8L160.5 226.8L162.0 225.7L163.4 221.8L164.9 218.6L166.3 214.7L167.8 215.0L169.2 215.8L170.7 213.6L172.1 211.6L173.6 212.9L175.0 213.1L176.5 212.6L177.9 212.9L179.4 209.9L180.8 207.5L182.3 207.4L183.7 206.1L185.2 205.6L186.6 205.0L188.1 203.9L189.5 204.0L191.0 203.5L192.4 201.3L193.9 201.2L195.3 198.9L196.8 196.7L198.2 196.6L199.7 197.0L201.1 197.2L202.6 197.8L204.0 200.6L205.5 202.5L206.9 203.5L208.4 207.4L209.8 208.9L211.3 209.8L212.7 210.0L214.2 209.6L215.6 208.2L217.1 209.0L218.5 210.2L220.0 208.3L221.4 207.6L222.9 209.2L224.3 210.8L225.8 211.7L227.2 214.3L228.7 213.0L230.1 213.9L231.6 213.2L233.0 213.9L234.5 215.6L235.9 213.9L237.4 212.2L238.8 213.9L240.3 212.9L241.7 211.9L243.2 209.2L244.6 208.7L246.1 208.5L247.5 208.7L249.0 208.1L250.4 206.5L251.9 205.7L253.3 203.7L254.8 202.5L256.2 199.6L257.7 199.0L259.1 200.7L260.6 199.0L262.0 197.7L263.5 194.7L264.9 193.2L266.4 190.7L267.8 188.9L269.3 189.3L270.7 188.9L272.2 190.7L273.6 189.6L275.1 185.7L276.5 182.8L278.0 181.4L279.4 180.4L280.9 179.7L282.3 177.6L283.8 176.3L285.2 177.5L286.7 176.5L288.1 175.6L289.6 174.6L291.0 173.4L292.5 170.9L293.9 171.2L295.4 172.0L296.8 170.1L298.3 167.5L299.7 168.0L301.2 165.8L302.6 162.8L304.1 160.4L305.5 160.8L307.0 160.3L308.4 161.1L309.9 160.4L311.3 159.8L312.8 160.6L314.2 156.4L315.7 156.6L317.1 157.5L318.6 154.9L320.0 155.5L321.5 157.0L322.9 156.8L324.4 156.2L325.8 154.2L327.3 156.0L328.7 156.5L330.2 158.9L331.6 157.1L333.1 158.9L334.5 159.5L336.0 159.5L337.4 158.2L338.9 158.1L340.3 157.1L341.8 159.6L343.2 158.8L344.7 161.8L346.1 161.3L347.6 161.7L349.0 160.8L350.5 158.8L351.9 161.4L353.4 162.2L354.8 157.4L356.3 157.0L357.7 157.6L359.2 154.6L360.6 154.3L362.1 154.8L363.5 153.7L365.0 155.5L366.4 154.8L367.9 155.8L369.3 155.4L370.8 155.5L372.2 156.6L373.7 156.5L375.1 156.3L376.6 158.2L378.0 158.6L379.5 157.9L380.9 162.3L382.4 164.8L383.8 164.8L385.3 163.1L386.7 163.1L388.2 166.1L389.6 166.2L391.1 163.6L392.5 163.6L394.0 165.3L395.4 165.0L396.9 165.2L398.3 165.9L399.8 165.2L401.2 163.8L402.7 164.4L404.1 164.6L405.6 167.7L407.0 167.6L408.5 169.2L409.9 168.9L411.4 170.7L412.8 172.9L414.3 174.5L415.7 174.7L417.2 176.1L418.6 176.7L420.1 177.0L421.5 175.5L423.0 175.4L424.4 177.2L425.9 179.2L427.3 178.8L428.8 182.0L430.2 183.4L431.7 182.2L433.1 185.5L434.6 185.1L436.0 186.4L437.5 187.4L438.9 186.5L440.4 189.7L441.8 194.5L443.3 195.4L444.7 196.1L446.2 198.3L447.6 196.9L449.1 196.3L450.5 198.5L452.0 198.4L453.4 197.8L454.9 199.6L456.3 203.3L457.8 206.1L459.2 205.3L460.7 205.7L462.1 208.6L463.6 208.3L465.0 207.1L466.5 209.5L467.9 210.8L469.4 211.9L470.8 211.1L472.3 211.2L473.7 212.8L475.2 211.0L476.6 210.8L478.1 215.4L479.5 217.8L481.0 217.4L482.4 217.1L483.9 219.1L485.3 220.1L486.8 218.0L488.2 220.5L489.7 221.7L491.1 222.1L492.6 221.6L494.0 220.7L495.5 222.3L496.9 223.7L498.4 224.2L499.8 225.5L501.3 225.5L502.7 224.3L504.2 221.4L505.6 223.1L507.1 220.9L508.5 219.1L510.0 218.2L511.4 215.0L512.9 215.2L514.3 213.9L515.8 214.1L517.2 213.3L518.7 212.5L520.1 210.8L521.6 209.8L523.0 208.1L524.5 207.2L525.9 205.4L527.4 205.4L528.8 204.1L530.3 205.5L531.7 203.8L533.2 204.4L534.6 206.9L536.1 208.2L537.5 211.6L539.0 211.1L540.4 210.0L541.9 211.6L543.3 211.2L544.8 208.8L546.2 207.9L547.7 208.7L549.1 210.9L550.6 210.3L552.0 210.8L553.5 208.5L554.9 209.3L556.4 209.0L557.8 210.1L559.3 213.0L560.7 213.9L562.2 211.5L563.6 211.8L565.1 212.6L566.5 213.6L568.0 212.7L569.4 212.0L570.9 211.9L572.3 210.9L573.8 211.6L575.2 212.4L576.7 212.9L578.1 211.7L579.6 212.1L581.0 215.5L582.5 216.2L583.9 216.4L585.4 216.3L586.8 215.8L588.3 216.6L589.7 215.1L591.2 213.1L592.6 216.1L594.1 218.6L595.5 220.0L597.0 219.2L598.4 220.1" stroke="#1e9b8a" stroke-width="1.35" fill="none" stroke-linejoin="round"/>
<path d="M73.5 218.9L75.0 222.5L76.4 226.7L77.9 228.9L79.3 230.0L80.8 234.5L82.2 237.0L83.7 236.5L85.1 237.7L86.6 238.5L88.0 239.7L89.5 241.1L90.9 237.7L92.4 239.0L93.8 238.7L95.3 237.9L96.7 236.6L98.2 235.7L99.6 238.4L101.1 240.6L102.5 241.0L104.0 243.1L105.4 240.8L106.9 242.2L108.3 240.5L109.8 241.0L111.2 238.8L112.7 237.0L114.1 236.8L115.6 237.0L117.0 237.7L118.5 237.2L119.9 236.0L121.4 234.5L122.8 233.7L124.3 232.4L125.7 228.4L127.2 229.5L128.6 228.1L130.1 225.7L131.5 226.9L133.0 225.3L134.4 225.9L135.9 225.8L137.3 226.0L138.8 226.3L140.2 225.5L141.7 225.1L143.1 229.0L144.6 229.3L146.0 229.5L147.5 229.4L148.9 227.1L150.4 229.5L151.8 229.2L153.3 230.8L154.7 230.2L156.2 228.7L157.6 229.7L159.1 227.8L160.5 225.9L162.0 224.8L163.4 221.7L164.9 217.6L166.3 215.1L167.8 216.0L169.2 215.9L170.7 213.3L172.1 213.3L173.6 214.2L175.0 213.0L176.5 213.3L177.9 214.7L179.4 212.3L180.8 209.1L182.3 207.7L183.7 206.7L185.2 206.5L186.6 205.0L188.1 202.7L189.5 203.6L191.0 202.1L192.4 200.6L193.9 200.1L195.3 199.3L196.8 198.1L198.2 198.4L199.7 199.0L201.1 198.2L202.6 198.2L204.0 202.5L205.5 203.4L206.9 203.6L208.4 208.7L209.8 210.2L211.3 208.8L212.7 208.2L214.2 208.4L215.6 207.1L217.1 209.1L218.5 211.4L220.0 210.1L221.4 209.7L222.9 210.2L224.3 211.1L225.8 211.9L227.2 215.7L228.7 214.9L230.1 214.0L231.6 212.0L233.0 212.7L234.5 214.8L235.9 213.1L237.4 212.3L238.8 214.8L240.3 213.0L241.7 211.1L243.2 209.2L244.6 208.3L246.1 207.3L247.5 208.4L249.0 207.8L250.4 207.3L251.9 206.8L253.3 205.4L254.8 203.6L256.2 200.1L257.7 199.2L259.1 199.9L260.6 198.3L262.0 195.3L263.5 194.1L264.9 191.9L266.4 189.8L267.8 188.4L269.3 189.3L270.7 188.3L272.2 190.1L273.6 189.0L275.1 184.3L276.5 182.7L278.0 180.3L279.4 177.8L280.9 176.1L282.3 174.0L283.8 174.0L285.2 175.1L286.7 174.9L288.1 175.0L289.6 175.1L291.0 173.9L292.5 171.1L293.9 170.3L295.4 171.3L296.8 168.7L298.3 166.2L299.7 166.1L301.2 164.3L302.6 161.1L304.1 160.4L305.5 161.1L307.0 159.8L308.4 159.6L309.9 158.1L311.3 157.7L312.8 159.9L314.2 155.6L315.7 155.3L317.1 156.7L318.6 154.5L320.0 156.2L321.5 157.5L322.9 156.4L324.4 154.9L325.8 153.4L327.3 153.6L328.7 152.7L330.2 154.5L331.6 153.5L333.1 156.5L334.5 158.2L336.0 158.1L337.4 156.6L338.9 156.6L340.3 154.6L341.8 155.9L343.2 156.7L344.7 159.8L346.1 160.2L347.6 160.7L349.0 160.5L350.5 159.4L351.9 161.3L353.4 161.6L354.8 156.7L356.3 156.3L357.7 156.8L359.2 153.9L360.6 152.8L362.1 153.3L363.5 152.4L365.0 152.2L366.4 152.4L367.9 153.2L369.3 153.4L370.8 154.6L372.2 156.1L373.7 156.3L375.1 157.1L376.6 157.8L378.0 157.6L379.5 157.9L380.9 160.6L382.4 164.7L383.8 164.6L385.3 162.1L386.7 161.4L388.2 164.0L389.6 165.3L391.1 163.1L392.5 162.5L394.0 164.0L395.4 163.5L396.9 163.2L398.3 163.4L399.8 163.1L401.2 161.5L402.7 162.3L404.1 164.3L405.6 166.4L407.0 168.1L408.5 169.6L409.9 167.2L411.4 168.0L412.8 169.9L414.3 171.2L415.7 172.4L417.2 174.0L418.6 175.2L420.1 176.2L421.5 174.2L423.0 175.0L424.4 177.0L425.9 177.1L427.3 178.1L428.8 180.5L430.2 182.5L431.7 180.7L433.1 183.8L434.6 183.2L436.0 184.4L437.5 185.3L438.9 185.0L440.4 188.9L441.8 193.8L443.3 195.8L444.7 195.5L446.2 198.4L447.6 196.5L449.1 195.6L450.5 199.0L452.0 198.0L453.4 196.7L454.9 198.1L456.3 201.5L457.8 204.2L459.2 204.3L460.7 204.7L462.1 207.4L463.6 208.4L465.0 206.6L466.5 208.4L467.9 210.2L469.4 211.6L470.8 210.4L472.3 209.8L473.7 211.6L475.2 211.3L476.6 212.7L478.1 215.3L479.5 218.0L481.0 215.6L482.4 216.0L483.9 217.7L485.3 218.0L486.8 217.1L488.2 220.0L489.7 220.6L491.1 220.5L492.6 220.0L494.0 218.2L495.5 221.2L496.9 222.9L498.4 223.8L499.8 225.9L501.3 224.8L502.7 224.0L504.2 220.6L505.6 220.6L507.1 219.6L508.5 218.3L510.0 217.4L511.4 215.1L512.9 215.4L514.3 213.8L515.8 213.3L517.2 211.8L518.7 211.2L520.1 209.5L521.6 208.6L523.0 208.8L524.5 207.5L525.9 204.5L527.4 203.6L528.8 203.3L530.3 204.6L531.7 204.3L533.2 205.5L534.6 207.8L536.1 208.3L537.5 211.5L539.0 210.9L540.4 210.1L541.9 211.2L543.3 212.0L544.8 209.8L546.2 209.9L547.7 211.2L549.1 212.7L550.6 211.8L552.0 212.4L553.5 209.5L554.9 210.6L556.4 211.6L557.8 212.2L559.3 212.8L560.7 212.4L562.2 211.1L563.6 211.1L565.1 213.1L566.5 214.1L568.0 213.0L569.4 211.9L570.9 212.2L572.3 210.2L573.8 211.8L575.2 214.0L576.7 214.6L578.1 214.0L579.6 214.6L581.0 217.4L582.5 216.1L583.9 216.5L585.4 217.6L586.8 217.5L588.3 217.7L589.7 217.2L591.2 215.4L592.6 217.2L594.1 219.9L595.5 222.0L597.0 220.3L598.4 221.5" stroke="#1fa188" stroke-width="1.35" fill="none" stroke-linejoin="round"/>
<path d="M73.5 221.2L75.0 224.6L76.4 228.6L77.9 230.9L79.3 232.7L80.8 235.7L82.2 236.5L83.7 236.1L85.1 237.0L86.6 237.9L88.0 237.8L89.5 240.0L90.9 238.2L92.4 239.9L93.8 239.8L95.3 239.1L96.7 238.3L98.2 237.6L99.6 239.0L101.1 239.8L102.5 241.7L104.0 242.4L105.4 239.8L106.9 241.7L108.3 240.6L109.8 240.3L111.2 239.7L112.7 238.7L114.1 239.7L115.6 238.6L117.0 239.6L118.5 239.1L119.9 238.5L121.4 235.2L122.8 233.4L124.3 231.2L125.7 228.1L127.2 229.7L128.6 229.0L130.1 226.6L131.5 228.5L133.0 227.6L134.4 226.6L135.9 227.7L137.3 227.5L138.8 227.3L140.2 224.7L141.7 223.8L143.1 228.3L144.6 229.6L146.0 229.4L147.5 228.6L148.9 229.3L150.4 230.6L151.8 230.8L153.3 231.6L154.7 230.4L156.2 228.7L157.6 229.7L159.1 228.8L160.5 226.1L162.0 224.4L163.4 221.2L164.9 217.0L166.3 215.5L167.8 216.8L169.2 217.8L170.7 215.8L172.1 215.3L173.6 215.0L175.0 213.2L176.5 214.6L177.9 214.1L179.4 212.6L180.8 209.6L182.3 208.5L183.7 205.9L185.2 206.4L186.6 205.2L188.1 203.1L189.5 204.1L191.0 201.9L192.4 200.8L193.9 199.3L195.3 198.2L196.8 198.2L198.2 197.7L199.7 198.1L201.1 197.7L202.6 198.1L204.0 201.4L205.5 203.2L206.9 205.2L208.4 208.9L209.8 210.5L211.3 209.2L212.7 209.3L214.2 210.8L215.6 210.2L217.1 211.4L218.5 213.1L220.0 212.1L221.4 211.2L222.9 212.1L224.3 212.5L225.8 212.3L227.2 214.3L228.7 214.7L230.1 214.6L231.6 212.9L233.0 213.1L234.5 215.1L235.9 212.6L237.4 212.6L238.8 213.7L240.3 212.0L241.7 210.5L243.2 209.2L244.6 209.1L246.1 208.4L247.5 208.8L249.0 206.8L250.4 206.3L251.9 205.8L253.3 203.4L254.8 202.1L256.2 199.7L257.7 198.1L259.1 198.2L260.6 197.7L262.0 196.6L263.5 194.6L264.9 192.2L266.4 190.4L267.8 187.5L269.3 187.2L270.7 187.7L272.2 188.5L273.6 187.2L275.1 182.8L276.5 181.7L278.0 179.7L279.4 177.4L280.9 175.1L282.3 173.6L283.8 172.5L285.2 173.1L286.7 172.7L288.1 173.0L289.6 173.6L291.0 172.3L292.5 169.9L293.9 169.4L295.4 170.0L296.8 168.8L298.3 165.8L299.7 165.6L301.2 163.4L302.6 160.6L304.1 159.2L305.5 160.3L307.0 159.3L308.4 158.1L309.9 156.4L311.3 155.0L312.8 157.4L314.2 154.4L315.7 153.6L317.1 154.4L318.6 153.5L320.0 155.7L321.5 157.5L322.9 156.5L324.4 154.4L325.8 154.6L327.3 153.3L328.7 153.1L330.2 154.7L331.6 153.2L333.1 156.0L334.5 155.9L336.0 154.4L337.4 153.0L338.9 152.0L340.3 150.6L341.8 152.2L343.2 154.0L344.7 157.2L346.1 159.8L347.6 160.4L349.0 158.9L350.5 159.1L351.9 160.5L353.4 160.5L354.8 154.7L356.3 154.0L357.7 155.8L359.2 153.4L360.6 151.7L362.1 151.6L363.5 150.9L365.0 150.9L366.4 151.3L367.9 150.9L369.3 152.1L370.8 152.3L372.2 153.6L373.7 155.3L375.1 156.8L376.6 157.2L378.0 156.3L379.5 156.9L380.9 159.8L382.4 163.3L383.8 163.3L385.3 161.7L386.7 160.6L388.2 163.3L389.6 164.3L391.1 160.6L392.5 160.5L394.0 161.6L395.4 161.8L396.9 162.0L398.3 163.1L399.8 163.3L401.2 162.1L402.7 161.7L404.1 162.1L405.6 163.8L407.0 166.1L408.5 168.5L409.9 167.3L411.4 169.0L412.8 170.5L414.3 172.6L415.7 172.5L417.2 172.8L418.6 172.5L420.1 173.3L421.5 171.6L423.0 171.6L424.4 172.5L425.9 173.4L427.3 175.0L428.8 179.1L430.2 179.7L431.7 179.8L433.1 183.0L434.6 183.1L436.0 184.0L437.5 184.6L438.9 184.3L440.4 186.5L441.8 192.6L443.3 193.0L444.7 193.0L446.2 196.2L447.6 196.9L449.1 195.5L450.5 197.7L452.0 198.7L453.4 197.5L454.9 198.8L456.3 203.1L457.8 203.9L459.2 202.3L460.7 201.4L462.1 203.3L463.6 205.0L465.0 204.2L466.5 206.7L467.9 210.7L469.4 212.8L470.8 211.2L472.3 211.0L473.7 212.6L475.2 211.4L476.6 211.7L478.1 214.4L479.5 216.3L481.0 215.0L482.4 214.9L483.9 216.2L485.3 217.3L486.8 216.8L488.2 219.3L489.7 218.4L491.1 219.3L492.6 218.7L494.0 217.8L495.5 220.9L496.9 221.9L498.4 222.2L499.8 224.5L501.3 222.0L502.7 220.1L504.2 219.8L505.6 220.3L507.1 220.7L508.5 217.2L510.0 217.5L511.4 215.1L512.9 216.1L514.3 214.7L515.8 213.0L517.2 212.1L518.7 210.8L520.1 209.3L521.6 209.4L523.0 208.5L524.5 207.2L525.9 205.4L527.4 204.3L528.8 203.9L530.3 205.5L531.7 205.0L533.2 206.0L534.6 206.0L536.1 208.0L537.5 210.7L539.0 208.8L540.4 209.1L541.9 211.2L543.3 210.9L544.8 210.1L546.2 209.8L547.7 211.9L549.1 215.4L550.6 215.3L552.0 214.2L553.5 211.6L554.9 210.6L556.4 210.1L557.8 211.6L559.3 214.0L560.7 213.8L562.2 212.8L563.6 213.4L565.1 214.4L566.5 215.5L568.0 213.2L569.4 213.3L570.9 212.6L572.3 211.8L573.8 213.0L575.2 215.8L576.7 216.5L578.1 215.9L579.6 216.7L581.0 218.3L582.5 217.8L583.9 217.2L585.4 216.9L586.8 216.5L588.3 217.7L589.7 217.2L591.2 217.2L592.6 219.5L594.1 221.1L595.5 222.5L597.0 220.5L598.4 222.8" stroke="#21a685" stroke-width="1.35" fill="none" stroke-linejoin="round"/>
<path d="M73.5 222.6L75.0 225.4L76.4 228.8L77.9 231.4L79.3 234.5L80.8 235.8L82.2 237.2L83.7 237.7L85.1 238.3L86.6 239.3L88.0 238.7L89.5 241.4L90.9 239.2L92.4 238.9L93.8 238.2L95.3 237.9L96.7 238.3L98.2 237.1L99.6 237.6L101.1 238.9L102.5 241.4L104.0 244.0L105.4 243.3L106.9 244.4L108.3 242.3L109.8 242.1L111.2 240.5L112.7 239.9L114.1 239.2L115.6 238.2L117.0 238.4L118.5 238.2L119.9 238.4L121.4 235.9L122.8 235.0L124.3 233.2L125.7 229.7L127.2 230.4L128.6 229.1L130.1 227.7L131.5 229.4L133.0 229.0L134.4 228.1L135.9 229.2L137.3 228.7L138.8 227.2L140.2 226.2L141.7 225.3L143.1 229.7L144.6 230.7L146.0 229.8L147.5 228.8L148.9 229.7L150.4 230.6L151.8 231.0L153.3 231.7L154.7 231.4L156.2 229.1L157.6 229.5L159.1 226.9L160.5 225.4L162.0 224.4L163.4 222.7L164.9 219.5L166.3 217.9L167.8 217.2L169.2 217.5L170.7 215.7L172.1 215.3L173.6 214.3L175.0 212.6L176.5 213.6L177.9 214.0L179.4 211.5L180.8 208.4L182.3 207.8L183.7 205.8L185.2 206.0L186.6 206.7L188.1 205.1L189.5 206.0L191.0 204.1L192.4 203.0L193.9 201.1L195.3 199.4L196.8 198.4L198.2 198.5L199.7 198.9L201.1 198.0L202.6 199.2L204.0 200.6L205.5 202.5L206.9 205.1L208.4 207.6L209.8 207.2L211.3 208.1L212.7 210.0L214.2 212.2L215.6 211.1L217.1 213.4L218.5 215.1L220.0 213.3L221.4 210.8L222.9 211.4L224.3 213.2L225.8 213.5L227.2 215.6L228.7 216.2L230.1 216.1L231.6 214.7L233.0 214.9L234.5 216.3L235.9 214.3L237.4 212.0L238.8 213.4L240.3 211.6L241.7 208.2L243.2 207.2L244.6 207.6L246.1 206.4L247.5 207.6L249.0 205.5L250.4 204.6L251.9 204.7L253.3 203.1L254.8 203.4L256.2 200.9L257.7 198.1L259.1 198.2L260.6 198.7L262.0 196.1L263.5 193.8L264.9 191.2L266.4 189.2L267.8 188.7L269.3 187.6L270.7 187.3L272.2 188.3L273.6 186.8L275.1 181.7L276.5 180.2L278.0 179.0L279.4 175.2L280.9 174.2L282.3 171.4L283.8 171.4L285.2 173.0L286.7 172.1L288.1 172.7L289.6 172.8L291.0 171.1L292.5 170.1L293.9 169.4L295.4 168.5L296.8 167.5L298.3 163.0L299.7 164.3L301.2 161.2L302.6 159.7L304.1 156.8L305.5 158.0L307.0 158.1L308.4 158.2L309.9 155.8L311.3 155.2L312.8 155.2L314.2 153.7L315.7 153.2L317.1 153.0L318.6 152.8L320.0 154.6L321.5 156.8L322.9 156.6L324.4 153.9L325.8 153.0L327.3 150.3L328.7 149.8L330.2 150.6L331.6 149.8L333.1 152.2L334.5 153.8L336.0 153.7L337.4 151.9L338.9 151.9L340.3 149.3L341.8 150.9L343.2 153.4L344.7 155.5L346.1 157.1L347.6 158.1L349.0 156.3L350.5 157.2L351.9 158.6L353.4 158.7L354.8 154.5L356.3 154.0L357.7 154.9L359.2 151.0L360.6 148.8L362.1 150.7L363.5 151.8L365.0 150.8L366.4 149.3L367.9 149.7L369.3 151.0L370.8 152.2L372.2 154.6L373.7 156.7L375.1 157.3L376.6 157.0L378.0 155.0L379.5 156.0L380.9 158.4L382.4 162.0L383.8 160.8L385.3 159.5L386.7 159.1L388.2 161.0L389.6 162.2L391.1 158.4L392.5 159.3L394.0 160.6L395.4 161.7L396.9 161.5L398.3 162.0L399.8 161.6L401.2 161.2L402.7 160.4L404.1 161.0L405.6 163.0L407.0 165.1L408.5 166.3L409.9 167.3L411.4 169.6L412.8 169.7L414.3 170.1L415.7 170.4L417.2 169.8L418.6 170.4L420.1 170.6L421.5 168.6L423.0 169.9L424.4 171.0L425.9 172.1L427.3 175.0L428.8 177.7L430.2 178.9L431.7 178.9L433.1 181.5L434.6 182.3L436.0 183.0L437.5 182.3L438.9 181.7L440.4 185.4L441.8 190.7L443.3 192.5L444.7 192.3L446.2 193.6L447.6 195.0L449.1 195.0L450.5 196.6L452.0 197.3L453.4 196.7L454.9 197.0L456.3 200.5L457.8 201.6L459.2 201.3L460.7 202.0L462.1 203.7L463.6 204.6L465.0 203.7L466.5 207.2L467.9 210.6L469.4 212.1L470.8 211.2L472.3 210.9L473.7 211.8L475.2 209.9L476.6 210.7L478.1 213.6L479.5 215.1L481.0 212.9L482.4 214.1L483.9 215.9L485.3 215.9L486.8 215.7L488.2 219.8L489.7 218.9L491.1 219.1L492.6 218.4L494.0 218.7L495.5 220.4L496.9 220.3L498.4 221.1L499.8 222.6L501.3 220.9L502.7 220.4L504.2 220.1L505.6 220.3L507.1 219.4L508.5 215.4L510.0 215.0L511.4 213.1L512.9 214.2L514.3 212.8L515.8 211.0L517.2 210.5L518.7 210.8L520.1 209.2L521.6 208.7L523.0 208.0L524.5 208.0L525.9 206.6L527.4 204.8L528.8 204.0L530.3 206.3L531.7 207.1L533.2 208.0L534.6 208.6L536.1 208.9L537.5 209.7L539.0 209.7L540.4 210.7L541.9 211.4L543.3 211.1L544.8 211.3L546.2 210.0L547.7 211.2L549.1 214.2L550.6 214.7L552.0 214.0L553.5 212.5L554.9 210.8L556.4 210.8L557.8 211.7L559.3 213.8L560.7 214.4L562.2 213.3L563.6 213.2L565.1 216.6L566.5 217.7L568.0 216.5L569.4 215.2L570.9 214.1L572.3 213.3L573.8 215.5L575.2 217.7L576.7 216.8L578.1 216.0L579.6 216.1L581.0 216.9L582.5 215.6L583.9 216.7L585.4 218.1L586.8 219.2L588.3 219.0L589.7 218.7L591.2 219.3L592.6 221.8L594.1 223.0L595.5 224.4L597.0 222.4L598.4 224.1" stroke="#25ac82" stroke-width="1.35" fill="none" stroke-linejoin="round"/>
<path d="M73.5 224.1L75.0 225.7L76.4 228.7L77.9 231.8L79.3 234.8L80.8 235.8L82.2 236.5L83.7 237.7L85.1 239.4L86.6 241.5L88.0 240.5L89.5 243.8L90.9 241.7L92.4 240.5L93.8 238.7L95.3 238.1L96.7 237.6L98.2 237.3L99.6 237.9L101.1 239.2L102.5 241.0L104.0 241.8L105.4 242.3L106.9 243.3L108.3 243.1L109.8 244.2L111.2 242.5L112.7 242.6L114.1 240.9L115.6 238.5L117.0 238.0L118.5 239.3L119.9 240.5L121.4 237.1L122.8 236.0L124.3 234.9L125.7 232.3L127.2 232.4L128.6 229.7L130.1 227.7L131.5 228.1L133.0 230.1L134.4 229.3L135.9 231.0L137.3 230.1L138.8 229.2L140.2 228.6L141.7 227.2L143.1 230.7L144.6 230.4L146.0 229.7L147.5 228.5L148.9 229.7L150.4 230.5L151.8 231.2L153.3 231.7L154.7 231.4L156.2 229.0L157.6 228.7L159.1 227.8L160.5 225.3L162.0 225.0L163.4 222.5L164.9 218.7L166.3 217.9L167.8 218.7L169.2 218.8L170.7 217.0L172.1 216.8L173.6 215.6L175.0 215.0L176.5 214.3L177.9 213.4L179.4 210.9L180.8 207.3L182.3 207.6L183.7 206.2L185.2 204.4L186.6 206.1L188.1 205.2L189.5 206.0L191.0 203.9L192.4 204.2L193.9 201.7L195.3 201.1L196.8 200.3L198.2 198.3L199.7 200.1L201.1 200.1L202.6 200.8L204.0 203.0L205.5 204.1L206.9 205.5L208.4 206.8L209.8 206.3L211.3 206.9L212.7 208.0L214.2 210.3L215.6 209.3L217.1 212.4L218.5 214.8L220.0 213.8L221.4 212.0L222.9 213.8L224.3 214.2L225.8 213.5L227.2 214.6L228.7 216.5L230.1 217.2L231.6 214.5L233.0 213.7L234.5 215.0L235.9 213.9L237.4 212.4L238.8 213.5L240.3 211.8L241.7 208.5L243.2 208.4L244.6 209.5L246.1 206.8L247.5 207.4L249.0 204.8L250.4 204.7L251.9 204.8L253.3 202.4L254.8 201.6L256.2 200.2L257.7 198.0L259.1 198.0L260.6 198.9L262.0 196.6L263.5 195.2L264.9 192.5L266.4 190.1L267.8 188.9L269.3 186.6L270.7 185.6L272.2 184.9L273.6 184.5L275.1 180.2L276.5 179.1L278.0 177.1L279.4 174.4L280.9 172.8L282.3 170.0L283.8 169.6L285.2 172.9L286.7 172.4L288.1 171.9L289.6 172.9L291.0 171.8L292.5 170.6L293.9 169.7L295.4 167.7L296.8 165.6L298.3 163.3L299.7 163.5L301.2 161.7L302.6 158.1L304.1 156.1L305.5 156.4L307.0 154.7L308.4 153.8L309.9 151.5L311.3 152.7L312.8 154.7L314.2 151.9L315.7 153.2L317.1 153.6L318.6 153.1L320.0 153.9L321.5 154.1L322.9 154.3L324.4 152.3L325.8 150.1L327.3 148.0L328.7 148.8L330.2 149.4L331.6 149.4L333.1 151.1L334.5 151.2L336.0 151.6L337.4 150.3L338.9 149.9L340.3 147.7L341.8 150.1L343.2 152.3L344.7 153.7L346.1 155.3L347.6 155.1L349.0 153.8L350.5 154.3L351.9 157.4L353.4 158.4L354.8 153.8L356.3 153.0L357.7 153.7L359.2 149.5L360.6 147.5L362.1 148.3L363.5 150.1L365.0 149.3L366.4 148.1L367.9 147.8L369.3 150.0L370.8 150.2L372.2 153.1L373.7 154.4L375.1 154.4L376.6 154.6L378.0 154.0L379.5 155.6L380.9 157.1L382.4 160.4L383.8 159.5L385.3 157.8L386.7 157.5L388.2 161.1L389.6 162.6L391.1 159.9L392.5 160.1L394.0 160.2L395.4 160.4L396.9 160.3L398.3 160.0L399.8 159.2L401.2 157.4L402.7 157.8L404.1 160.2L405.6 162.5L407.0 164.1L408.5 166.1L409.9 166.2L411.4 168.4L412.8 169.7L414.3 169.2L415.7 169.6L417.2 169.6L418.6 169.4L420.1 169.8L421.5 167.3L423.0 167.0L424.4 170.2L425.9 170.8L427.3 174.0L428.8 177.0L430.2 176.7L431.7 177.7L433.1 180.1L434.6 181.3L436.0 182.4L437.5 182.1L438.9 181.5L440.4 183.6L441.8 190.1L443.3 191.3L444.7 191.3L446.2 192.6L447.6 192.3L449.1 193.7L450.5 195.1L452.0 195.5L453.4 195.6L454.9 196.4L456.3 200.0L457.8 202.0L459.2 202.2L460.7 201.8L462.1 202.5L463.6 203.0L465.0 203.3L466.5 205.5L467.9 209.5L469.4 210.2L470.8 209.2L472.3 208.4L473.7 210.5L475.2 208.8L476.6 208.5L478.1 212.2L479.5 215.1L481.0 213.5L482.4 213.0L483.9 215.9L485.3 215.0L486.8 215.1L488.2 218.8L489.7 217.9L491.1 219.4L492.6 217.9L494.0 219.4L495.5 220.4L496.9 220.5L498.4 221.4L499.8 221.7L501.3 220.4L502.7 218.7L504.2 220.0L505.6 220.0L507.1 218.1L508.5 215.3L510.0 213.9L511.4 212.5L512.9 212.7L514.3 211.6L515.8 210.5L517.2 209.7L518.7 209.8L520.1 208.0L521.6 207.9L523.0 207.6L524.5 205.0L525.9 204.8L527.4 204.7L528.8 203.7L530.3 205.5L531.7 206.5L533.2 208.7L534.6 209.5L536.1 208.7L537.5 210.3L539.0 210.3L540.4 211.8L541.9 212.9L543.3 212.3L544.8 211.6L546.2 210.4L547.7 210.9L549.1 213.6L550.6 214.7L552.0 214.4L553.5 212.2L554.9 211.8L556.4 212.0L557.8 211.3L559.3 214.9L560.7 214.9L562.2 214.7L563.6 213.5L565.1 216.1L566.5 216.8L568.0 215.6L569.4 215.2L570.9 216.4L572.3 215.4L573.8 218.5L575.2 219.5L576.7 218.7L578.1 218.4L579.6 216.6L581.0 218.1L582.5 216.7L583.9 218.1L585.4 220.9L586.8 222.4L588.3 221.3L589.7 220.7L591.2 221.2L592.6 223.1L594.1 224.3L595.5 225.3L597.0 222.7L598.4 224.9" stroke="#2ab07f" stroke-width="1.35" fill="none" stroke-linejoin="round"/>
<path d="M73.5 225.4L75.0 228.6L76.4 230.0L77.9 232.7L79.3 237.0L80.8 237.9L82.2 238.5L83.7 238.5L85.1 239.5L86.6 241.0L88.0 241.1L89.5 242.8L90.9 241.9L92.4 240.1L93.8 239.5L95.3 239.0L96.7 239.1L98.2 239.0L99.6 240.8L101.1 240.3L102.5 241.4L104.0 242.7L105.4 241.1L106.9 242.5L108.3 243.6L109.8 246.6L111.2 244.6L112.7 243.9L114.1 241.9L115.6 240.0L117.0 238.4L118.5 238.5L119.9 239.2L121.4 236.1L122.8 235.0L124.3 234.9L125.7 233.3L127.2 233.0L128.6 232.3L130.1 231.1L131.5 230.9L133.0 232.0L134.4 230.7L135.9 231.7L137.3 230.7L138.8 231.2L140.2 229.7L141.7 228.3L143.1 230.6L144.6 229.6L146.0 228.6L147.5 228.1L148.9 229.5L150.4 230.7L151.8 231.3L153.3 231.8L154.7 231.9L156.2 229.4L157.6 228.7L159.1 228.1L160.5 224.9L162.0 225.9L163.4 223.4L164.9 219.2L166.3 218.3L167.8 219.5L169.2 219.2L170.7 217.1L172.1 215.3L173.6 213.9L175.0 212.7L176.5 211.6L177.9 212.1L179.4 210.9L180.8 207.2L182.3 207.8L183.7 207.5L185.2 208.0L186.6 208.6L188.1 207.1L189.5 207.7L191.0 205.9L192.4 205.4L193.9 203.7L195.3 203.1L196.8 201.7L198.2 198.9L199.7 199.8L201.1 199.4L202.6 199.9L204.0 200.9L205.5 201.0L206.9 203.9L208.4 206.0L209.8 205.0L211.3 207.3L212.7 210.4L214.2 211.9L215.6 210.8L217.1 212.5L218.5 215.5L220.0 214.0L221.4 213.1L222.9 215.4L224.3 215.4L225.8 215.0L227.2 216.2L228.7 216.7L230.1 217.6L231.6 214.7L233.0 214.3L234.5 215.3L235.9 213.0L237.4 209.7L238.8 210.4L240.3 210.3L241.7 207.6L243.2 208.2L244.6 210.6L246.1 207.2L247.5 207.1L249.0 205.6L250.4 205.7L251.9 205.9L253.3 203.5L254.8 202.5L256.2 200.6L257.7 197.2L259.1 197.0L260.6 198.4L262.0 196.4L263.5 194.7L264.9 190.6L266.4 188.3L267.8 186.9L269.3 186.1L270.7 184.9L272.2 183.9L273.6 184.4L275.1 180.3L276.5 178.2L278.0 176.2L279.4 173.4L280.9 171.8L282.3 170.2L283.8 170.4L285.2 173.3L286.7 171.7L288.1 170.4L289.6 171.0L291.0 168.6L292.5 167.4L293.9 167.7L295.4 166.4L296.8 165.8L298.3 162.3L299.7 162.2L301.2 160.4L302.6 157.5L304.1 154.6L305.5 154.2L307.0 153.4L308.4 154.0L309.9 152.3L311.3 152.3L312.8 153.9L314.2 151.5L315.7 153.7L317.1 153.8L318.6 152.3L320.0 152.8L321.5 153.0L322.9 151.4L324.4 150.2L325.8 149.3L327.3 146.3L328.7 148.1L330.2 146.7L331.6 147.4L333.1 147.5L334.5 147.3L336.0 148.8L337.4 149.6L338.9 147.8L340.3 147.3L341.8 149.5L343.2 152.7L344.7 153.4L346.1 154.3L347.6 152.8L349.0 150.7L350.5 151.2L351.9 154.5L353.4 156.3L354.8 151.5L356.3 151.2L357.7 151.6L359.2 149.0L360.6 147.5L362.1 147.9L363.5 151.1L365.0 148.5L366.4 148.5L367.9 147.3L369.3 148.5L370.8 149.2L372.2 151.8L373.7 152.1L375.1 151.6L376.6 151.5L378.0 151.5L379.5 153.0L380.9 156.3L382.4 159.8L383.8 161.1L385.3 158.8L386.7 156.9L388.2 159.5L389.6 159.5L391.1 157.3L392.5 158.5L394.0 159.2L395.4 159.3L396.9 158.7L398.3 157.5L399.8 157.7L401.2 157.0L402.7 156.9L404.1 158.7L405.6 161.4L407.0 163.6L408.5 164.3L409.9 164.2L411.4 166.1L412.8 167.5L414.3 167.6L415.7 168.0L417.2 167.1L418.6 167.7L420.1 168.2L421.5 166.0L423.0 166.8L424.4 169.0L425.9 170.9L427.3 174.4L428.8 177.5L430.2 177.0L431.7 177.3L433.1 179.4L434.6 179.9L436.0 180.1L437.5 179.8L438.9 180.1L440.4 183.9L441.8 188.9L443.3 189.3L444.7 189.4L446.2 190.8L447.6 191.6L449.1 192.7L450.5 192.6L452.0 193.2L453.4 192.8L454.9 194.4L456.3 197.6L457.8 198.5L459.2 198.9L460.7 199.9L462.1 202.5L463.6 202.6L465.0 203.2L466.5 206.7L467.9 210.2L469.4 211.6L470.8 210.1L472.3 208.8L473.7 211.3L475.2 209.1L476.6 208.3L478.1 210.9L479.5 212.8L481.0 212.3L482.4 211.7L483.9 214.6L485.3 214.8L486.8 214.2L488.2 217.4L489.7 216.5L491.1 217.4L492.6 216.9L494.0 218.4L495.5 219.4L496.9 219.5L498.4 222.5L499.8 223.0L501.3 221.3L502.7 218.8L504.2 220.5L505.6 220.0L507.1 217.4L508.5 212.9L510.0 213.7L511.4 211.2L512.9 211.2L514.3 208.7L515.8 208.0L517.2 208.4L518.7 208.4L520.1 207.1L521.6 208.8L523.0 208.1L524.5 206.2L525.9 205.9L527.4 205.4L528.8 205.1L530.3 207.1L531.7 206.9L533.2 208.8L534.6 208.0L536.1 207.4L537.5 208.9L539.0 208.3L540.4 211.3L541.9 210.6L543.3 211.6L544.8 211.2L546.2 212.1L547.7 214.3L549.1 215.9L550.6 216.6L552.0 215.3L553.5 212.7L554.9 212.2L556.4 211.7L557.8 211.5L559.3 215.8L560.7 216.4L562.2 214.5L563.6 214.5L565.1 217.8L566.5 219.0L568.0 218.4L569.4 218.2L570.9 219.1L572.3 215.7L573.8 217.8L575.2 218.9L576.7 218.3L578.1 217.9L579.6 217.2L581.0 219.4L582.5 219.4L583.9 220.9L585.4 222.8L586.8 223.0L588.3 221.2L589.7 220.8L591.2 222.3L592.6 224.4L594.1 225.7L595.5 227.3L597.0 226.7L598.4 226.2" stroke="#32b67a" stroke-width="1.35" fill="none" stroke-linejoin="round"/>
<path d="M73.5 226.2L75.0 229.0L76.4 232.3L77.9 233.8L79.3 237.0L80.8 238.3L82.2 240.0L83.7 239.7L85.1 240.6L86.6 241.8L88.0 242.1L89.5 243.1L90.9 242.3L92.4 239.8L93.8 240.0L95.3 238.7L96.7 239.6L98.2 239.9L99.6 243.1L101.1 242.7L102.5 244.0L104.0 244.8L105.4 242.3L106.9 243.8L108.3 243.4L109.8 245.0L111.2 242.5L112.7 241.6L114.1 239.9L115.6 239.8L117.0 238.4L118.5 239.7L119.9 241.6L121.4 237.5L122.8 235.2L124.3 235.2L125.7 234.2L127.2 235.2L128.6 234.0L130.1 232.3L131.5 233.4L133.0 233.3L134.4 231.7L135.9 232.1L137.3 229.7L138.8 230.6L140.2 229.2L141.7 228.7L143.1 231.9L144.6 231.4L146.0 230.7L147.5 229.7L148.9 230.4L150.4 231.2L151.8 230.0L153.3 231.6L154.7 232.8L156.2 230.9L157.6 230.4L159.1 228.2L160.5 224.7L162.0 225.9L163.4 224.6L164.9 220.7L166.3 219.1L167.8 220.3L169.2 218.9L170.7 216.9L172.1 214.4L173.6 213.4L175.0 211.8L176.5 211.5L177.9 211.3L179.4 209.7L180.8 206.9L182.3 208.4L183.7 208.6L185.2 209.4L186.6 209.8L188.1 208.4L189.5 208.3L191.0 207.9L192.4 206.2L193.9 203.7L195.3 202.6L196.8 201.7L198.2 199.4L199.7 201.1L201.1 201.5L202.6 202.6L204.0 203.3L205.5 202.7L206.9 204.3L208.4 206.5L209.8 206.2L211.3 206.5L212.7 209.7L214.2 211.5L215.6 209.9L217.1 212.5L218.5 216.0L220.0 215.9L221.4 214.2L222.9 216.2L224.3 216.4L225.8 215.6L227.2 216.9L228.7 216.5L230.1 217.6L231.6 214.9L233.0 213.4L234.5 214.5L235.9 211.9L237.4 208.5L238.8 209.5L240.3 209.6L241.7 207.6L243.2 209.4L244.6 211.9L246.1 209.3L247.5 208.3L249.0 206.5L250.4 206.3L251.9 206.1L253.3 202.7L254.8 200.5L256.2 198.9L257.7 195.1L259.1 195.1L260.6 197.1L262.0 196.1L263.5 194.1L264.9 190.0L266.4 187.9L267.8 185.8L269.3 184.5L270.7 183.4L272.2 182.7L273.6 182.9L275.1 179.8L276.5 177.0L278.0 175.6L279.4 172.2L280.9 171.8L282.3 168.9L283.8 168.9L285.2 171.3L286.7 170.9L288.1 168.6L289.6 169.4L291.0 168.5L292.5 166.7L293.9 165.9L295.4 165.6L296.8 165.2L298.3 162.6L299.7 162.4L301.2 159.2L302.6 155.0L304.1 151.7L305.5 152.3L307.0 150.8L308.4 153.1L309.9 152.2L311.3 152.8L312.8 154.2L314.2 151.4L315.7 152.4L317.1 153.7L318.6 151.7L320.0 152.2L321.5 152.5L322.9 150.5L324.4 147.6L325.8 145.8L327.3 145.4L328.7 147.4L330.2 145.7L331.6 147.0L333.1 146.7L334.5 146.6L336.0 147.5L337.4 147.6L338.9 145.4L340.3 144.4L341.8 146.8L343.2 151.0L344.7 151.5L346.1 152.0L347.6 149.2L349.0 148.9L350.5 149.5L351.9 152.8L353.4 154.6L354.8 150.5L356.3 149.3L357.7 150.1L359.2 147.4L360.6 147.2L362.1 147.8L363.5 151.1L365.0 147.7L366.4 146.5L367.9 145.3L369.3 146.9L370.8 147.0L372.2 149.8L373.7 149.7L375.1 149.0L376.6 150.2L378.0 150.3L379.5 151.1L380.9 155.9L382.4 159.4L383.8 160.8L385.3 157.6L386.7 155.5L388.2 158.3L389.6 158.2L391.1 157.7L392.5 157.3L394.0 157.1L395.4 157.2L396.9 155.7L398.3 156.3L399.8 155.6L401.2 156.2L402.7 156.2L404.1 156.9L405.6 159.8L407.0 162.1L408.5 163.7L409.9 163.1L411.4 165.0L412.8 167.3L414.3 167.1L415.7 168.4L417.2 167.7L418.6 168.0L420.1 166.9L421.5 163.3L423.0 163.3L424.4 166.1L425.9 168.7L427.3 172.1L428.8 175.7L430.2 175.8L431.7 177.1L433.1 179.1L434.6 179.0L436.0 177.7L437.5 177.9L438.9 178.3L440.4 182.5L441.8 187.0L443.3 187.7L444.7 189.1L446.2 190.9L447.6 191.1L449.1 193.4L450.5 193.0L452.0 192.6L453.4 192.0L454.9 194.0L456.3 196.3L457.8 198.0L459.2 198.7L460.7 198.9L462.1 200.9L463.6 201.3L465.0 202.1L466.5 205.6L467.9 207.9L469.4 209.9L470.8 208.9L472.3 208.7L473.7 210.4L475.2 208.8L476.6 207.5L478.1 209.1L479.5 212.7L481.0 213.0L482.4 212.4L483.9 215.1L485.3 213.8L486.8 213.1L488.2 215.6L489.7 216.6L491.1 217.6L492.6 216.0L494.0 217.1L495.5 217.0L496.9 218.0L498.4 220.2L499.8 221.5L501.3 220.7L502.7 219.7L504.2 220.4L505.6 220.2L507.1 215.5L508.5 211.3L510.0 211.5L511.4 211.1L512.9 210.0L514.3 209.2L515.8 208.1L517.2 208.3L518.7 207.2L520.1 207.3L521.6 209.1L523.0 208.6L524.5 207.0L525.9 207.6L527.4 206.5L528.8 204.4L530.3 206.1L531.7 206.3L533.2 208.1L534.6 207.7L536.1 206.5L537.5 208.7L539.0 209.1L540.4 211.0L541.9 210.4L543.3 210.3L544.8 211.1L546.2 212.9L547.7 213.8L549.1 215.2L550.6 215.2L552.0 216.2L553.5 215.0L554.9 214.3L556.4 214.0L557.8 212.8L559.3 216.5L560.7 216.1L562.2 213.8L563.6 214.6L565.1 217.0L566.5 218.9L568.0 217.8L569.4 219.0L570.9 220.4L572.3 217.6L573.8 219.0L575.2 221.1L576.7 220.3L578.1 220.5L579.6 219.3L581.0 221.2L582.5 221.8L583.9 223.1L585.4 224.9L586.8 223.8L588.3 222.8L589.7 221.8L591.2 222.2L592.6 225.4L594.1 226.9L595.5 228.9L597.0 229.6L598.4 227.1" stroke="#3bbb75" stroke-width="1.35" fill="none" stroke-linejoin="round"/>
<path d="M73.5 228.0L75.0 231.2L76.4 233.1L77.9 232.9L79.3 235.4L80.8 237.7L82.2 239.9L83.7 239.5L85.1 239.9L86.6 240.7L88.0 241.9L89.5 243.2L90.9 241.7L92.4 241.3L93.8 240.8L95.3 241.0L96.7 241.7L98.2 242.3L99.6 244.7L101.1 245.0L102.5 245.0L104.0 244.6L105.4 242.6L106.9 244.0L108.3 246.0L109.8 246.3L111.2 243.4L112.7 242.6L114.1 241.7L115.6 241.0L117.0 240.0L118.5 239.9L119.9 240.8L121.4 239.1L122.8 236.5L124.3 237.3L125.7 234.9L127.2 234.6L128.6 234.4L130.1 233.2L131.5 234.0L133.0 233.8L134.4 232.0L135.9 233.2L137.3 231.1L138.8 231.6L140.2 231.1L141.7 229.5L143.1 232.1L144.6 231.2L146.0 231.9L147.5 230.9L148.9 230.7L150.4 230.7L151.8 229.5L153.3 230.5L154.7 231.9L156.2 230.8L157.6 231.3L159.1 229.8L160.5 227.1L162.0 227.7L163.4 226.4L164.9 222.7L166.3 219.7L167.8 220.9L169.2 218.4L170.7 216.4L172.1 213.6L173.6 212.3L175.0 211.3L176.5 210.6L177.9 210.3L179.4 209.1L180.8 206.8L182.3 209.3L183.7 209.3L185.2 210.0L186.6 208.7L188.1 207.4L189.5 208.4L191.0 208.5L192.4 207.3L193.9 205.3L195.3 204.0L196.8 202.6L198.2 200.3L199.7 201.6L201.1 202.5L202.6 202.9L204.0 204.2L205.5 202.6L206.9 203.5L208.4 204.9L209.8 206.4L211.3 206.8L212.7 211.6L214.2 212.8L215.6 211.3L217.1 213.7L218.5 216.3L220.0 217.2L221.4 216.1L222.9 216.7L224.3 216.9L225.8 216.6L227.2 217.2L228.7 215.7L230.1 216.3L231.6 213.5L233.0 211.8L234.5 214.5L235.9 212.5L237.4 210.0L238.8 210.1L240.3 211.1L241.7 209.0L243.2 208.6L244.6 211.0L246.1 208.5L247.5 207.6L249.0 205.8L250.4 205.4L251.9 204.7L253.3 202.7L254.8 200.3L256.2 199.3L257.7 195.6L259.1 196.9L260.6 198.1L262.0 196.5L263.5 193.2L264.9 188.3L266.4 185.9L267.8 184.5L269.3 182.4L270.7 182.1L272.2 181.8L273.6 181.5L275.1 178.6L276.5 176.8L278.0 175.0L279.4 172.1L280.9 169.2L282.3 167.6L283.8 167.6L285.2 170.6L286.7 169.2L288.1 168.0L289.6 168.6L291.0 167.6L292.5 166.0L293.9 164.8L295.4 164.7L296.8 163.4L298.3 160.0L299.7 159.8L301.2 157.2L302.6 152.6L304.1 150.1L305.5 150.8L307.0 151.2L308.4 153.0L309.9 153.3L311.3 154.5L312.8 155.9L314.2 151.4L315.7 150.5L317.1 152.1L318.6 150.3L320.0 150.5L321.5 150.2L322.9 148.8L324.4 146.4L325.8 144.1L327.3 144.3L328.7 145.4L330.2 145.0L331.6 145.5L333.1 143.6L334.5 143.6L336.0 144.4L337.4 145.7L338.9 144.0L340.3 144.2L341.8 145.3L343.2 150.4L344.7 150.5L346.1 150.4L347.6 148.7L349.0 147.6L350.5 147.6L351.9 151.0L353.4 152.7L354.8 149.6L356.3 148.7L357.7 149.5L359.2 146.6L360.6 146.2L362.1 147.0L363.5 149.9L365.0 147.2L366.4 146.2L367.9 144.0L369.3 144.8L370.8 146.5L372.2 149.3L373.7 146.9L375.1 146.2L376.6 147.5L378.0 148.3L379.5 150.0L380.9 154.9L382.4 158.7L383.8 160.4L385.3 157.9L386.7 155.4L388.2 158.0L389.6 156.5L391.1 155.5L392.5 154.4L394.0 154.4L395.4 153.6L396.9 153.3L398.3 154.6L399.8 154.4L401.2 154.8L402.7 155.3L404.1 156.9L405.6 158.5L407.0 160.7L408.5 162.1L409.9 161.3L411.4 163.7L412.8 165.1L414.3 165.7L415.7 166.4L417.2 166.1L418.6 166.5L420.1 164.5L421.5 161.4L423.0 162.3L424.4 165.5L425.9 168.0L427.3 171.6L428.8 177.1L430.2 177.2L431.7 176.5L433.1 178.1L434.6 177.2L436.0 175.9L437.5 177.2L438.9 177.7L440.4 180.7L441.8 185.9L443.3 187.0L444.7 188.5L446.2 189.7L447.6 189.5L449.1 190.9L450.5 192.1L452.0 192.1L453.4 191.5L454.9 193.0L456.3 194.4L457.8 195.3L459.2 196.0L460.7 195.7L462.1 198.1L463.6 200.3L465.0 201.5L466.5 205.6L467.9 208.3L469.4 209.1L470.8 208.2L472.3 208.5L473.7 210.3L475.2 209.1L476.6 207.0L478.1 207.5L479.5 211.6L481.0 213.0L482.4 212.2L483.9 214.9L485.3 213.8L486.8 214.3L488.2 216.9L489.7 217.4L491.1 218.4L492.6 215.7L494.0 215.5L495.5 215.9L496.9 217.3L498.4 218.3L499.8 220.0L501.3 218.8L502.7 218.5L504.2 217.9L505.6 218.1L507.1 215.1L508.5 211.3L510.0 210.8L511.4 209.9L512.9 210.0L514.3 208.5L515.8 209.2L517.2 207.7L518.7 205.0L520.1 204.6L521.6 205.0L523.0 204.2L524.5 203.6L525.9 204.3L527.4 204.5L528.8 205.8L530.3 208.6L531.7 207.9L533.2 209.4L534.6 208.3L536.1 207.5L537.5 208.7L539.0 209.0L540.4 210.7L541.9 210.7L543.3 211.1L544.8 212.0L546.2 215.0L547.7 216.3L549.1 217.5L550.6 217.7L552.0 217.8L553.5 216.4L554.9 215.7L556.4 214.5L557.8 213.6L559.3 216.1L560.7 216.4L562.2 213.6L563.6 215.3L565.1 217.7L566.5 219.1L568.0 218.9L569.4 219.8L570.9 220.6L572.3 218.4L573.8 220.7L575.2 223.5L576.7 220.9L578.1 221.5L579.6 220.3L581.0 222.5L582.5 223.3L583.9 223.7L585.4 224.6L586.8 224.4L588.3 224.6L589.7 224.7L591.2 224.6L592.6 227.4L594.1 227.9L595.5 229.6L597.0 230.9L598.4 229.0" stroke="#46c06f" stroke-width="1.35" fill="none" stroke-linejoin="round"/>
<path d="M73.5 229.8L75.0 230.8L76.4 232.5L77.9 232.7L79.3 235.5L80.8 238.6L82.2 239.9L83.7 240.0L85.1 240.5L86.6 241.5L88.0 243.2L89.5 243.5L90.9 243.6L92.4 242.8L93.8 242.5L95.3 241.5L96.7 242.5L98.2 242.7L99.6 245.0L101.1 246.1L102.5 245.3L104.0 245.1L105.4 241.7L106.9 243.2L108.3 243.7L109.8 245.2L111.2 243.8L112.7 242.5L114.1 241.2L115.6 241.1L117.0 242.1L118.5 241.5L119.9 242.0L121.4 240.0L122.8 237.0L124.3 238.0L125.7 237.5L127.2 237.0L128.6 236.1L130.1 234.9L131.5 236.5L133.0 234.6L134.4 232.6L135.9 232.8L137.3 230.9L138.8 232.6L140.2 230.9L141.7 231.3L143.1 233.0L144.6 232.0L146.0 231.6L147.5 230.8L148.9 231.8L150.4 230.9L151.8 230.4L153.3 232.1L154.7 231.9L156.2 232.3L157.6 232.0L159.1 230.1L160.5 227.1L162.0 228.9L163.4 227.3L164.9 223.2L166.3 221.2L167.8 220.8L169.2 218.2L170.7 215.9L172.1 213.8L173.6 213.2L175.0 211.4L176.5 210.4L177.9 211.1L179.4 209.7L180.8 207.5L182.3 208.2L183.7 208.4L185.2 209.5L186.6 208.2L188.1 207.1L189.5 207.1L191.0 208.4L192.4 206.6L193.9 203.9L195.3 202.9L196.8 202.6L198.2 201.2L199.7 203.2L201.1 204.0L202.6 205.6L204.0 207.4L205.5 206.7L206.9 205.1L208.4 207.5L209.8 207.7L211.3 207.9L212.7 213.4L214.2 214.2L215.6 212.1L217.1 215.0L218.5 217.0L220.0 216.5L221.4 216.7L222.9 217.4L224.3 216.3L225.8 217.1L227.2 218.4L228.7 216.6L230.1 216.3L231.6 212.3L233.0 210.5L234.5 213.5L235.9 211.8L237.4 210.2L238.8 210.0L240.3 210.6L241.7 207.8L243.2 208.0L244.6 209.9L246.1 207.8L247.5 206.5L249.0 207.2L250.4 207.5L251.9 206.8L253.3 204.0L254.8 202.3L256.2 199.7L257.7 194.3L259.1 194.6L260.6 194.6L262.0 193.2L263.5 190.0L264.9 186.4L266.4 184.6L267.8 183.4L269.3 181.1L270.7 179.7L272.2 180.8L273.6 181.1L275.1 176.2L276.5 175.3L278.0 172.9L279.4 169.8L280.9 168.3L282.3 166.5L283.8 166.2L285.2 168.3L286.7 169.5L288.1 168.0L289.6 168.6L291.0 168.6L292.5 165.4L293.9 163.3L295.4 163.9L296.8 162.1L298.3 158.7L299.7 159.6L301.2 157.4L302.6 152.9L304.1 151.0L305.5 150.8L307.0 151.2L308.4 150.4L309.9 150.1L311.3 153.1L312.8 155.1L314.2 150.5L315.7 149.9L317.1 152.5L318.6 150.7L320.0 151.2L321.5 150.4L322.9 148.0L324.4 145.4L325.8 142.1L327.3 142.3L328.7 143.3L330.2 142.4L331.6 142.5L333.1 142.5L334.5 142.0L336.0 143.2L337.4 143.0L338.9 140.8L340.3 141.6L341.8 144.1L343.2 149.0L344.7 149.3L346.1 148.7L347.6 147.9L349.0 147.9L350.5 147.2L351.9 150.0L353.4 152.2L354.8 150.2L356.3 148.6L357.7 148.2L359.2 144.5L360.6 143.5L362.1 143.6L363.5 145.9L365.0 144.3L366.4 144.1L367.9 143.0L369.3 144.4L370.8 144.4L372.2 146.5L373.7 144.7L375.1 144.6L376.6 146.8L378.0 147.8L379.5 149.9L380.9 153.6L382.4 156.6L383.8 157.9L385.3 154.5L386.7 153.7L388.2 156.6L389.6 155.6L391.1 154.2L392.5 155.0L394.0 155.2L395.4 154.6L396.9 152.9L398.3 153.6L399.8 153.1L401.2 153.6L402.7 153.8L404.1 155.6L405.6 158.3L407.0 159.5L408.5 161.6L409.9 159.8L411.4 162.5L412.8 163.1L414.3 163.9L415.7 164.6L417.2 164.1L418.6 165.1L420.1 164.2L421.5 162.0L423.0 160.9L424.4 164.4L425.9 166.0L427.3 168.9L428.8 173.1L430.2 174.6L431.7 174.1L433.1 177.0L434.6 176.8L436.0 175.8L437.5 176.6L438.9 177.4L440.4 179.3L441.8 183.0L443.3 184.1L444.7 186.3L446.2 188.3L447.6 188.1L449.1 189.6L450.5 190.2L452.0 192.0L453.4 191.3L454.9 192.8L456.3 194.7L457.8 195.4L459.2 193.7L460.7 193.2L462.1 196.1L463.6 199.5L465.0 199.9L466.5 204.2L467.9 207.9L469.4 208.4L470.8 207.3L472.3 208.5L473.7 210.4L475.2 208.2L476.6 206.3L478.1 206.9L479.5 211.5L481.0 212.6L482.4 211.5L483.9 213.8L485.3 213.9L486.8 214.1L488.2 217.0L489.7 218.0L491.1 217.7L492.6 215.7L494.0 215.9L495.5 216.0L496.9 217.9L498.4 218.1L499.8 218.3L501.3 218.0L502.7 216.9L504.2 215.3L505.6 215.4L507.1 214.1L508.5 211.6L510.0 210.4L511.4 209.8L512.9 209.3L514.3 208.1L515.8 207.7L517.2 205.8L518.7 204.5L520.1 204.6L521.6 205.2L523.0 204.6L524.5 203.6L525.9 204.5L527.4 202.9L528.8 204.3L530.3 206.5L531.7 208.3L533.2 209.0L534.6 208.6L536.1 208.2L537.5 210.5L539.0 209.4L540.4 210.2L541.9 209.8L543.3 211.6L544.8 211.4L546.2 213.5L547.7 215.4L549.1 218.5L550.6 217.9L552.0 218.5L553.5 216.1L554.9 216.2L556.4 215.7L557.8 214.8L559.3 218.4L560.7 219.3L562.2 216.5L563.6 216.2L565.1 218.5L566.5 218.6L568.0 217.9L569.4 219.8L570.9 220.3L572.3 219.5L573.8 221.2L575.2 223.9L576.7 222.7L578.1 221.2L579.6 220.1L581.0 223.5L582.5 225.0L583.9 225.5L585.4 227.4L586.8 227.0L588.3 228.5L589.7 227.6L591.2 227.2L592.6 229.7L594.1 229.6L595.5 232.1L597.0 232.0L598.4 229.6" stroke="#52c569" stroke-width="1.35" fill="none" stroke-linejoin="round"/>
<path d="M73.5 231.7L75.0 233.1L76.4 235.3L77.9 234.1L79.3 235.8L80.8 237.0L82.2 239.1L83.7 239.7L85.1 238.8L86.6 239.7L88.0 242.6L89.5 243.8L90.9 243.7L92.4 245.2L93.8 245.4L95.3 244.4L96.7 244.1L98.2 244.4L99.6 246.1L101.1 246.9L102.5 245.0L104.0 245.7L105.4 242.3L106.9 243.7L108.3 243.7L109.8 243.6L111.2 242.0L112.7 242.1L114.1 240.8L115.6 242.4L117.0 243.8L118.5 244.0L119.9 243.7L121.4 241.7L122.8 238.4L124.3 237.9L125.7 236.7L127.2 236.3L128.6 235.3L130.1 234.8L131.5 237.9L133.0 235.7L134.4 233.7L135.9 234.5L137.3 233.3L138.8 234.3L140.2 231.8L141.7 231.9L143.1 234.1L144.6 234.2L146.0 233.8L147.5 232.4L148.9 231.6L150.4 230.6L151.8 230.6L153.3 230.8L154.7 231.9L156.2 230.7L157.6 230.8L159.1 229.7L160.5 228.4L162.0 229.5L163.4 229.4L164.9 224.5L166.3 222.6L167.8 221.5L169.2 219.9L170.7 216.4L172.1 213.8L173.6 214.7L175.0 212.2L176.5 211.1L177.9 212.5L179.4 210.7L180.8 208.1L182.3 208.7L183.7 208.8L185.2 208.9L186.6 206.4L188.1 206.4L189.5 207.6L191.0 207.5L192.4 205.1L193.9 203.7L195.3 202.6L196.8 202.4L198.2 201.4L199.7 202.4L201.1 203.1L202.6 205.2L204.0 207.1L205.5 207.7L206.9 207.1L208.4 209.0L209.8 209.1L211.3 209.2L212.7 215.5L214.2 215.7L215.6 212.8L217.1 216.1L218.5 218.2L220.0 218.8L221.4 216.7L222.9 216.9L224.3 216.1L225.8 216.8L227.2 218.1L228.7 216.5L230.1 217.9L231.6 214.3L233.0 211.0L234.5 214.3L235.9 212.7L237.4 210.6L238.8 211.3L240.3 210.6L241.7 207.6L243.2 206.6L244.6 207.5L246.1 206.7L247.5 204.8L249.0 205.8L250.4 206.6L251.9 204.8L253.3 203.0L254.8 201.3L256.2 199.2L257.7 194.4L259.1 194.7L260.6 194.3L262.0 192.7L263.5 188.9L264.9 184.7L266.4 183.0L267.8 181.8L269.3 181.0L270.7 180.5L272.2 180.7L273.6 179.5L275.1 175.5L276.5 173.9L278.0 172.1L279.4 170.4L280.9 168.9L282.3 167.6L283.8 166.2L285.2 167.9L286.7 168.4L288.1 167.2L289.6 167.5L291.0 166.6L292.5 163.5L293.9 163.3L295.4 162.7L296.8 161.2L298.3 157.3L299.7 156.8L301.2 153.8L302.6 149.9L304.1 149.0L305.5 149.7L307.0 149.9L308.4 149.3L309.9 150.0L311.3 153.2L312.8 154.7L314.2 150.2L315.7 149.5L317.1 151.2L318.6 148.9L320.0 150.3L321.5 149.8L322.9 149.6L324.4 145.2L325.8 142.5L327.3 142.0L328.7 142.5L330.2 141.4L331.6 140.6L333.1 141.4L334.5 139.5L336.0 140.5L337.4 141.7L338.9 138.2L340.3 137.7L341.8 140.4L343.2 146.3L344.7 147.9L346.1 148.5L347.6 149.0L349.0 148.4L350.5 147.5L351.9 149.1L353.4 149.3L354.8 146.9L356.3 145.5L357.7 144.8L359.2 142.5L360.6 140.7L362.1 141.5L363.5 144.1L365.0 142.8L366.4 142.5L367.9 142.7L369.3 142.9L370.8 143.8L372.2 145.4L373.7 143.2L375.1 143.1L376.6 144.8L378.0 146.3L379.5 148.5L380.9 151.9L382.4 155.1L383.8 157.9L385.3 153.9L386.7 153.8L388.2 156.9L389.6 155.1L391.1 154.1L392.5 153.7L394.0 154.4L395.4 152.9L396.9 151.3L398.3 152.3L399.8 151.2L401.2 151.6L402.7 151.4L404.1 153.1L405.6 155.4L407.0 157.1L408.5 159.4L409.9 157.5L411.4 160.5L412.8 162.2L414.3 162.8L415.7 164.5L417.2 163.5L418.6 165.5L420.1 164.5L421.5 162.4L423.0 161.0L424.4 163.2L425.9 164.6L427.3 168.0L428.8 171.7L430.2 174.1L431.7 173.4L433.1 175.7L434.6 175.9L436.0 174.6L437.5 176.0L438.9 175.2L440.4 177.0L441.8 181.3L443.3 181.1L444.7 183.7L446.2 186.2L447.6 187.4L449.1 188.5L450.5 190.2L452.0 192.0L453.4 191.7L454.9 192.2L456.3 193.3L457.8 194.5L459.2 193.9L460.7 193.9L462.1 196.0L463.6 199.5L465.0 199.3L466.5 202.0L467.9 204.8L469.4 204.9L470.8 204.6L472.3 207.2L473.7 209.4L475.2 207.6L476.6 205.7L478.1 208.1L479.5 211.1L481.0 211.8L482.4 210.3L483.9 213.0L485.3 213.6L486.8 213.7L488.2 215.3L489.7 217.1L491.1 217.5L492.6 216.4L494.0 216.4L495.5 215.2L496.9 216.0L498.4 216.4L499.8 217.7L501.3 217.0L502.7 214.8L504.2 214.3L505.6 215.4L507.1 213.4L508.5 209.9L510.0 207.8L511.4 208.2L512.9 208.0L514.3 208.0L515.8 207.5L517.2 206.4L518.7 205.8L520.1 205.9L521.6 205.0L523.0 204.1L524.5 203.1L525.9 203.3L527.4 202.1L528.8 204.3L530.3 205.8L531.7 205.9L533.2 207.6L534.6 208.5L536.1 206.9L537.5 208.4L539.0 209.3L540.4 210.2L541.9 210.3L543.3 212.1L544.8 212.7L546.2 216.1L547.7 219.2L549.1 221.4L550.6 220.4L552.0 219.0L553.5 215.8L554.9 216.1L556.4 216.7L557.8 216.0L559.3 217.7L560.7 218.0L562.2 216.2L563.6 216.7L565.1 219.1L566.5 221.4L568.0 221.2L569.4 223.5L570.9 222.8L572.3 221.7L573.8 222.9L575.2 225.3L576.7 224.2L578.1 223.5L579.6 223.0L581.0 224.8L582.5 225.9L583.9 226.3L585.4 227.3L586.8 226.9L588.3 227.8L589.7 226.9L591.2 227.8L592.6 230.5L594.1 230.1L595.5 233.0L597.0 232.9L598.4 231.4" stroke="#5ec962" stroke-width="1.35" fill="none" stroke-linejoin="round"/>
<path d="M73.5 230.0L75.0 231.3L76.4 233.3L77.9 233.4L79.3 235.4L80.8 235.0L82.2 237.7L83.7 238.5L85.1 239.2L86.6 239.6L88.0 241.4L89.5 242.5L90.9 241.7L92.4 241.8L93.8 242.4L95.3 241.7L96.7 240.9L98.2 240.9L99.6 244.0L101.1 245.1L102.5 244.1L104.0 242.6L105.4 241.4L106.9 240.8L108.3 242.3L109.8 242.8L111.2 242.0L112.7 241.2L114.1 239.8L115.6 240.3L117.0 241.4L118.5 242.4L119.9 242.7L121.4 239.9L122.8 238.0L124.3 238.4L125.7 238.7L127.2 237.5L128.6 236.3L130.1 234.7L131.5 235.9L133.0 232.8L134.4 230.2L135.9 231.0L137.3 231.4L138.8 233.6L140.2 231.4L141.7 232.9L143.1 235.2L144.6 234.9L146.0 235.0L147.5 233.0L148.9 233.3L150.4 232.5L151.8 232.0L153.3 231.4L154.7 231.8L156.2 230.6L157.6 231.1L159.1 230.7L160.5 229.8L162.0 229.6L163.4 229.7L164.9 225.6L166.3 224.0L167.8 221.5L169.2 220.5L170.7 218.3L172.1 217.4L173.6 216.9L175.0 214.7L176.5 213.5L177.9 214.8L179.4 212.6L180.8 209.9L182.3 209.8L183.7 209.6L185.2 210.8L186.6 209.6L188.1 208.2L189.5 210.8L191.0 208.7L192.4 207.2L193.9 204.9L195.3 203.7L196.8 202.4L198.2 203.8L199.7 205.0L201.1 205.6L202.6 207.6L204.0 209.9L205.5 210.3L206.9 209.7L208.4 211.1L209.8 211.9L211.3 212.8L212.7 217.6L214.2 216.9L215.6 214.0L217.1 217.6L218.5 219.4L220.0 220.0L221.4 218.4L222.9 219.4L224.3 217.6L225.8 217.8L227.2 217.7L228.7 216.2L230.1 215.9L231.6 213.5L233.0 210.0L234.5 214.3L235.9 212.8L237.4 211.2L238.8 210.7L240.3 210.7L241.7 208.4L243.2 208.2L244.6 209.7L246.1 207.8L247.5 205.7L249.0 204.8L250.4 204.5L251.9 203.8L253.3 201.5L254.8 199.8L256.2 196.2L257.7 192.1L259.1 193.3L260.6 193.0L262.0 191.1L263.5 187.7L264.9 185.4L266.4 183.6L267.8 183.1L269.3 181.9L270.7 180.3L272.2 180.4L273.6 178.8L275.1 174.0L276.5 172.2L278.0 169.3L279.4 168.1L280.9 166.4L282.3 166.6L283.8 165.8L285.2 168.0L286.7 170.2L288.1 169.1L289.6 169.4L291.0 168.3L292.5 164.7L293.9 162.5L295.4 162.9L296.8 160.7L298.3 156.1L299.7 156.4L301.2 154.2L302.6 150.2L304.1 148.3L305.5 149.4L307.0 150.7L308.4 150.2L309.9 150.5L311.3 153.0L312.8 154.1L314.2 150.8L315.7 149.5L317.1 150.2L318.6 148.0L320.0 149.5L321.5 149.2L322.9 148.9L324.4 145.7L325.8 143.5L327.3 142.1L328.7 141.7L330.2 141.4L331.6 141.3L333.1 141.8L334.5 140.4L336.0 140.3L337.4 141.5L338.9 140.7L340.3 139.7L341.8 143.1L343.2 147.0L344.7 149.3L346.1 148.8L347.6 148.0L349.0 147.6L350.5 146.8L351.9 148.3L353.4 149.0L354.8 146.5L356.3 145.7L357.7 145.9L359.2 141.7L360.6 139.7L362.1 141.0L363.5 142.8L365.0 142.8L366.4 143.2L367.9 143.6L369.3 143.0L370.8 143.3L372.2 143.8L373.7 142.5L375.1 142.7L376.6 145.7L378.0 147.8L379.5 148.2L380.9 151.6L382.4 155.1L383.8 155.7L385.3 152.0L386.7 152.2L388.2 156.0L389.6 155.1L391.1 153.0L392.5 152.9L394.0 154.2L395.4 152.2L396.9 151.1L398.3 151.4L399.8 151.5L401.2 151.3L402.7 150.7L404.1 152.1L405.6 154.7L407.0 155.9L408.5 159.8L409.9 158.7L411.4 160.5L412.8 161.2L414.3 161.6L415.7 162.4L417.2 162.5L418.6 164.9L420.1 164.9L421.5 162.5L423.0 161.0L424.4 163.7L425.9 164.8L427.3 166.8L428.8 170.6L430.2 173.3L431.7 170.6L433.1 171.4L434.6 172.4L436.0 173.2L437.5 174.7L438.9 175.2L440.4 176.5L441.8 181.6L443.3 182.8L444.7 183.9L446.2 185.9L447.6 185.3L449.1 186.7L450.5 189.4L452.0 191.2L453.4 191.4L454.9 191.7L456.3 192.5L457.8 193.4L459.2 193.3L460.7 193.1L462.1 195.7L463.6 199.3L465.0 198.6L466.5 201.2L467.9 204.9L469.4 205.3L470.8 204.3L472.3 206.5L473.7 208.8L475.2 206.7L476.6 205.9L478.1 208.4L479.5 210.0L481.0 211.0L482.4 211.0L483.9 213.5L485.3 215.1L486.8 214.0L488.2 214.9L489.7 217.9L491.1 217.3L492.6 216.4L494.0 215.6L495.5 215.6L496.9 214.9L498.4 214.5L499.8 214.3L501.3 214.4L502.7 214.9L504.2 215.9L505.6 216.3L507.1 214.0L508.5 211.6L510.0 210.4L511.4 208.9L512.9 208.8L514.3 207.5L515.8 208.1L517.2 206.3L518.7 206.3L520.1 205.6L521.6 205.2L523.0 204.0L524.5 203.4L525.9 204.2L527.4 203.7L528.8 204.7L530.3 206.4L531.7 206.2L533.2 207.7L534.6 209.6L536.1 208.3L537.5 209.3L539.0 209.9L540.4 211.8L541.9 212.8L543.3 213.7L544.8 213.9L546.2 215.4L547.7 218.5L549.1 220.1L550.6 219.6L552.0 218.9L553.5 217.1L554.9 216.8L556.4 218.1L557.8 216.9L559.3 218.1L560.7 218.9L562.2 218.0L563.6 219.0L565.1 221.1L566.5 222.2L568.0 222.3L569.4 223.8L570.9 222.2L572.3 220.7L573.8 222.5L575.2 224.7L576.7 224.3L578.1 223.5L579.6 222.7L581.0 226.0L582.5 225.8L583.9 225.0L585.4 227.5L586.8 227.8L588.3 229.0L589.7 227.3L591.2 228.1L592.6 232.1L594.1 230.3L595.5 231.7L597.0 232.2L598.4 230.8" stroke="#69cd5b" stroke-width="1.35" fill="none" stroke-linejoin="round"/>
<path d="M73.5 229.2L75.0 229.5L76.4 232.6L77.9 233.3L79.3 233.9L80.8 234.6L82.2 235.8L83.7 235.7L85.1 237.2L86.6 237.8L88.0 239.9L89.5 241.6L90.9 239.7L92.4 240.9L93.8 240.5L95.3 239.4L96.7 238.5L98.2 239.2L99.6 241.9L101.1 241.9L102.5 240.5L104.0 239.4L105.4 238.2L106.9 237.4L108.3 238.6L109.8 240.5L111.2 241.1L112.7 241.0L114.1 239.0L115.6 239.0L117.0 239.6L118.5 240.5L119.9 240.9L121.4 237.8L122.8 236.7L124.3 236.9L125.7 236.9L127.2 235.3L128.6 234.6L130.1 233.8L131.5 234.9L133.0 234.6L134.4 232.7L135.9 232.4L137.3 232.5L138.8 233.6L140.2 231.9L141.7 234.0L143.1 235.2L144.6 234.8L146.0 234.1L147.5 233.5L148.9 233.0L150.4 233.8L151.8 233.5L153.3 232.3L154.7 232.3L156.2 232.3L157.6 232.3L159.1 231.9L160.5 230.7L162.0 230.5L163.4 229.7L164.9 224.7L166.3 224.7L167.8 224.0L169.2 222.7L170.7 219.2L172.1 218.3L173.6 218.5L175.0 216.5L176.5 215.6L177.9 217.1L179.4 216.5L180.8 213.7L182.3 213.0L183.7 212.4L185.2 212.4L186.6 210.9L188.1 210.4L189.5 212.6L191.0 212.1L192.4 210.9L193.9 208.1L195.3 206.6L196.8 204.9L198.2 205.1L199.7 205.9L201.1 206.9L202.6 208.8L204.0 210.9L205.5 211.8L206.9 211.9L208.4 213.3L209.8 213.2L211.3 213.8L212.7 218.0L214.2 217.2L215.6 214.4L217.1 219.0L218.5 220.9L220.0 220.8L221.4 218.6L222.9 219.0L224.3 217.7L225.8 218.4L227.2 219.2L228.7 219.2L230.1 218.6L231.6 215.8L233.0 212.1L234.5 214.9L235.9 213.2L237.4 211.0L238.8 211.4L240.3 210.3L241.7 208.4L243.2 208.2L244.6 208.6L246.1 206.4L247.5 205.9L249.0 205.2L250.4 204.0L251.9 201.6L253.3 199.0L254.8 197.4L256.2 193.9L257.7 190.7L259.1 190.9L260.6 190.8L262.0 190.5L263.5 189.5L264.9 185.8L266.4 183.0L267.8 182.3L269.3 182.2L270.7 180.8L272.2 179.3L273.6 178.2L275.1 172.7L276.5 171.8L278.0 170.5L279.4 168.8L280.9 166.5L282.3 166.8L283.8 166.5L285.2 168.6L286.7 169.0L288.1 167.7L289.6 167.7L291.0 167.6L292.5 164.2L293.9 162.6L295.4 163.3L296.8 161.4L298.3 156.4L299.7 155.9L301.2 154.8L302.6 151.0L304.1 149.7L305.5 150.4L307.0 150.3L308.4 149.4L309.9 149.6L311.3 151.0L312.8 151.0L314.2 147.7L315.7 148.4L317.1 149.1L318.6 149.0L320.0 150.5L321.5 150.7L322.9 150.5L324.4 147.3L325.8 143.8L327.3 142.2L328.7 141.3L330.2 141.0L331.6 140.9L333.1 142.3L334.5 142.2L336.0 140.6L337.4 141.7L338.9 141.1L340.3 141.0L341.8 144.1L343.2 147.3L344.7 149.1L346.1 147.7L347.6 148.2L349.0 147.5L350.5 147.2L351.9 148.2L353.4 150.7L354.8 146.9L356.3 145.1L357.7 145.0L359.2 141.4L360.6 139.8L362.1 141.4L363.5 142.5L365.0 143.5L366.4 143.2L367.9 142.6L369.3 142.5L370.8 142.7L372.2 143.2L373.7 143.4L375.1 144.2L376.6 144.7L378.0 146.5L379.5 146.6L380.9 150.2L382.4 153.2L383.8 154.1L385.3 151.1L386.7 151.1L388.2 155.0L389.6 153.5L391.1 152.0L392.5 151.9L394.0 153.5L395.4 152.0L396.9 151.6L398.3 150.9L399.8 151.1L401.2 150.7L402.7 150.9L404.1 153.1L405.6 156.0L407.0 156.5L408.5 158.0L409.9 157.0L411.4 158.9L412.8 158.9L414.3 160.4L415.7 161.6L417.2 162.6L418.6 164.3L420.1 164.3L421.5 161.7L423.0 159.9L424.4 162.5L425.9 165.4L427.3 166.6L428.8 169.6L430.2 173.5L431.7 171.9L433.1 172.5L434.6 173.5L436.0 173.0L437.5 175.2L438.9 174.1L440.4 175.2L441.8 179.1L443.3 180.1L444.7 181.2L446.2 185.2L447.6 185.3L449.1 186.8L450.5 189.1L452.0 190.4L453.4 190.1L454.9 190.7L456.3 191.6L457.8 193.0L459.2 193.4L460.7 192.4L462.1 194.7L463.6 198.0L465.0 198.0L466.5 201.2L467.9 204.1L469.4 204.7L470.8 204.8L472.3 206.1L473.7 208.0L475.2 206.4L476.6 204.9L478.1 207.7L479.5 209.7L481.0 210.7L482.4 211.5L483.9 213.5L485.3 215.0L486.8 213.6L488.2 214.2L489.7 216.1L491.1 216.2L492.6 215.3L494.0 215.7L495.5 215.1L496.9 214.8L498.4 214.9L499.8 215.5L501.3 214.3L502.7 214.5L504.2 215.0L505.6 215.9L507.1 215.4L508.5 212.7L510.0 210.8L511.4 209.9L512.9 209.9L514.3 207.8L515.8 206.8L517.2 205.4L518.7 206.3L520.1 205.8L521.6 204.7L523.0 203.8L524.5 203.8L525.9 205.9L527.4 205.7L528.8 207.1L530.3 208.4L531.7 207.8L533.2 207.2L534.6 208.4L536.1 208.5L537.5 210.3L539.0 210.7L540.4 213.5L541.9 214.4L543.3 215.5L544.8 215.0L546.2 215.3L547.7 217.9L549.1 218.9L550.6 220.3L552.0 219.5L553.5 217.7L554.9 218.4L556.4 218.9L557.8 218.8L559.3 218.9L560.7 220.3L562.2 219.9L563.6 220.6L565.1 222.2L566.5 223.9L568.0 224.0L569.4 224.4L570.9 222.3L572.3 221.8L573.8 223.4L575.2 225.0L576.7 224.6L578.1 223.0L579.6 221.7L581.0 225.2L582.5 225.9L583.9 224.6L585.4 226.4L586.8 227.4L588.3 228.5L589.7 228.1L591.2 228.1L592.6 230.8L594.1 230.0L595.5 232.2L597.0 232.4L598.4 230.5" stroke="#77d153" stroke-width="1.35" fill="none" stroke-linejoin="round"/>
<path d="M73.5 228.2L75.0 229.7L76.4 233.0L77.9 233.5L79.3 234.8L80.8 234.3L82.2 234.8L83.7 234.4L85.1 235.8L86.6 234.9L88.0 237.0L89.5 238.6L90.9 238.0L92.4 238.9L93.8 238.4L95.3 237.5L96.7 236.4L98.2 235.5L99.6 239.1L101.1 239.8L102.5 239.2L104.0 236.1L105.4 236.2L106.9 236.7L108.3 237.3L109.8 236.9L111.2 238.0L112.7 236.8L114.1 236.1L115.6 236.6L117.0 237.7L118.5 238.1L119.9 238.9L121.4 237.4L122.8 236.4L124.3 236.0L125.7 237.5L127.2 236.4L128.6 234.5L130.1 234.5L131.5 234.1L133.0 234.8L134.4 233.5L135.9 232.1L137.3 232.7L138.8 233.8L140.2 232.0L141.7 232.5L143.1 234.0L144.6 234.3L146.0 233.5L147.5 232.4L148.9 233.0L150.4 233.4L151.8 233.7L153.3 232.8L154.7 233.5L156.2 233.5L157.6 233.9L159.1 233.5L160.5 232.3L162.0 230.8L163.4 229.3L164.9 225.6L166.3 226.1L167.8 226.2L169.2 226.1L170.7 222.1L172.1 220.5L173.6 220.9L175.0 218.2L176.5 217.2L177.9 217.9L179.4 217.2L180.8 215.2L182.3 213.6L183.7 212.7L185.2 213.7L186.6 213.2L188.1 212.3L189.5 215.5L191.0 215.0L192.4 213.6L193.9 211.0L195.3 210.8L196.8 208.5L198.2 207.8L199.7 208.5L201.1 208.3L202.6 208.9L204.0 212.4L205.5 212.8L206.9 214.0L208.4 215.4L209.8 214.9L211.3 214.5L212.7 219.3L214.2 219.6L215.6 217.7L217.1 221.9L218.5 223.1L220.0 221.4L221.4 219.1L222.9 219.4L224.3 217.8L225.8 218.7L227.2 218.8L228.7 217.4L230.1 218.0L231.6 216.4L233.0 212.8L234.5 216.7L235.9 214.7L237.4 211.9L238.8 211.2L240.3 210.0L241.7 208.1L243.2 207.9L244.6 209.1L246.1 206.9L247.5 205.5L249.0 204.4L250.4 203.2L251.9 201.4L253.3 198.7L254.8 196.4L256.2 194.0L257.7 192.0L259.1 191.2L260.6 191.7L262.0 189.0L263.5 186.7L264.9 183.8L266.4 181.9L267.8 181.2L269.3 181.0L270.7 179.8L272.2 179.5L273.6 178.2L275.1 172.6L276.5 171.1L278.0 169.3L279.4 168.7L280.9 166.6L282.3 167.1L283.8 166.0L285.2 168.9L286.7 169.7L288.1 169.2L289.6 167.4L291.0 166.3L292.5 162.3L293.9 160.6L295.4 162.9L296.8 160.7L298.3 157.2L299.7 155.9L301.2 155.5L302.6 151.7L304.1 149.4L305.5 149.8L307.0 148.6L308.4 148.7L309.9 149.3L311.3 149.4L312.8 151.2L314.2 148.5L315.7 148.8L317.1 149.5L318.6 149.4L320.0 150.4L321.5 151.2L322.9 151.3L324.4 147.9L325.8 143.6L327.3 142.6L328.7 142.0L330.2 141.8L331.6 141.5L333.1 143.6L334.5 142.0L336.0 140.8L337.4 141.6L338.9 140.3L340.3 140.8L341.8 144.1L343.2 147.2L344.7 149.2L346.1 148.2L347.6 148.0L349.0 148.0L350.5 147.6L351.9 149.6L353.4 150.1L354.8 146.0L356.3 144.5L357.7 143.1L359.2 140.8L360.6 139.0L362.1 140.0L363.5 143.4L365.0 143.0L366.4 143.1L367.9 144.2L369.3 143.9L370.8 143.6L372.2 145.4L373.7 143.6L375.1 144.8L376.6 145.5L378.0 146.6L379.5 144.8L380.9 147.7L382.4 151.2L383.8 152.2L385.3 150.1L386.7 150.1L388.2 154.7L389.6 153.9L391.1 152.5L392.5 152.6L394.0 152.9L395.4 151.4L396.9 150.6L398.3 150.2L399.8 150.5L401.2 150.2L402.7 149.1L404.1 152.4L405.6 155.1L407.0 155.8L408.5 157.9L409.9 155.8L411.4 158.9L412.8 159.5L414.3 160.1L415.7 161.9L417.2 161.9L418.6 162.5L420.1 162.5L421.5 160.8L423.0 158.7L424.4 161.9L425.9 163.9L427.3 165.7L428.8 168.7L430.2 171.3L431.7 172.2L433.1 171.1L434.6 171.9L436.0 171.8L437.5 174.1L438.9 173.3L440.4 176.5L441.8 180.1L443.3 181.7L444.7 182.8L446.2 184.7L447.6 184.3L449.1 184.9L450.5 187.3L452.0 188.8L453.4 187.8L454.9 188.8L456.3 191.2L457.8 191.8L459.2 192.8L460.7 192.3L462.1 194.6L463.6 197.5L465.0 199.3L466.5 201.8L467.9 204.4L469.4 204.9L470.8 204.6L472.3 205.3L473.7 207.8L475.2 206.8L476.6 205.1L478.1 206.5L479.5 208.9L481.0 209.2L482.4 209.6L483.9 212.7L485.3 215.0L486.8 214.3L488.2 213.8L489.7 216.1L491.1 217.0L492.6 216.1L494.0 215.6L495.5 214.3L496.9 214.7L498.4 213.6L499.8 214.5L501.3 213.5L502.7 214.0L504.2 213.7L505.6 215.2L507.1 214.7L508.5 212.9L510.0 212.7L511.4 210.9L512.9 209.7L514.3 207.7L515.8 207.3L517.2 205.1L518.7 205.3L520.1 205.4L521.6 206.0L523.0 205.3L524.5 205.4L525.9 206.0L527.4 206.6L528.8 206.8L530.3 208.3L531.7 208.7L533.2 208.4L534.6 211.5L536.1 210.7L537.5 211.8L539.0 213.5L540.4 214.7L541.9 215.7L543.3 217.3L544.8 217.3L546.2 217.1L547.7 218.6L549.1 221.4L550.6 221.1L552.0 219.9L553.5 217.6L554.9 217.6L556.4 219.4L557.8 218.6L559.3 219.2L560.7 219.7L562.2 218.9L563.6 220.0L565.1 221.4L566.5 223.6L568.0 223.5L569.4 224.5L570.9 223.5L572.3 223.2L573.8 224.4L575.2 225.8L576.7 224.2L578.1 223.3L579.6 222.3L581.0 224.1L582.5 225.9L583.9 224.8L585.4 226.6L586.8 226.7L588.3 228.5L589.7 228.0L591.2 228.6L592.6 231.5L594.1 230.5L595.5 232.5L597.0 232.5L598.4 230.4" stroke="#86d549" stroke-width="1.35" fill="none" stroke-linejoin="round"/>
<path d="M73.5 228.1L75.0 229.6L76.4 232.2L77.9 231.0L79.3 232.7L80.8 233.6L82.2 234.6L83.7 233.2L85.1 232.8L86.6 233.4L88.0 235.7L89.5 238.1L90.9 236.9L92.4 237.3L93.8 235.9L95.3 235.0L96.7 234.3L98.2 231.9L99.6 236.6L101.1 237.6L102.5 236.9L104.0 235.1L105.4 234.7L106.9 234.9L108.3 235.8L109.8 234.2L111.2 234.8L112.7 233.6L114.1 232.9L115.6 235.3L117.0 236.5L118.5 237.5L119.9 238.7L121.4 237.8L122.8 235.0L124.3 234.2L125.7 233.8L127.2 233.2L128.6 231.6L130.1 232.3L131.5 232.6L133.0 233.7L134.4 232.7L135.9 232.5L137.3 233.9L138.8 235.5L140.2 232.2L141.7 231.4L143.1 233.3L144.6 235.3L146.0 233.8L147.5 232.8L148.9 234.0L150.4 233.7L151.8 234.5L153.3 234.7L154.7 234.2L156.2 235.1L157.6 235.9L159.1 233.9L160.5 233.9L162.0 231.7L163.4 229.2L164.9 225.9L166.3 226.0L167.8 226.7L169.2 227.5L170.7 224.2L172.1 222.0L173.6 221.7L175.0 220.4L176.5 220.7L177.9 220.7L179.4 219.8L180.8 217.2L182.3 216.4L183.7 215.1L185.2 216.6L186.6 216.1L188.1 215.4L189.5 217.5L191.0 217.5L192.4 216.3L193.9 214.5L195.3 213.1L196.8 210.3L198.2 209.2L199.7 209.1L201.1 209.5L202.6 210.5L204.0 213.9L205.5 214.0L206.9 216.2L208.4 216.6L209.8 216.8L211.3 217.8L212.7 221.2L214.2 221.0L215.6 219.4L217.1 224.1L218.5 224.8L220.0 223.0L221.4 220.6L222.9 222.0L224.3 220.7L225.8 220.5L227.2 220.6L228.7 218.5L230.1 218.5L231.6 217.1L233.0 213.2L234.5 216.1L235.9 213.9L237.4 211.0L238.8 211.4L240.3 210.4L241.7 209.5L243.2 209.5L244.6 209.2L246.1 207.6L247.5 206.4L249.0 203.6L250.4 202.3L251.9 199.7L253.3 195.9L254.8 192.7L256.2 190.9L257.7 189.4L259.1 190.3L260.6 191.0L262.0 189.0L263.5 187.8L264.9 183.9L266.4 181.4L267.8 180.5L269.3 180.1L270.7 177.9L272.2 176.9L273.6 175.6L275.1 172.2L276.5 170.7L278.0 169.4L279.4 168.3L280.9 166.8L282.3 165.8L283.8 166.9L285.2 170.0L286.7 169.8L288.1 168.5L289.6 167.6L291.0 167.3L292.5 163.7L293.9 160.7L295.4 162.9L296.8 159.6L298.3 157.3L299.7 156.2L301.2 155.4L302.6 151.8L304.1 150.8L305.5 151.0L307.0 149.1L308.4 149.4L309.9 149.6L311.3 149.0L312.8 150.8L314.2 148.0L315.7 149.2L317.1 148.9L318.6 148.5L320.0 150.5L321.5 151.2L322.9 150.3L324.4 147.0L325.8 143.4L327.3 141.3L328.7 141.4L330.2 142.2L331.6 142.5L333.1 143.4L334.5 142.8L336.0 141.0L337.4 142.2L338.9 141.5L340.3 142.1L341.8 145.3L343.2 147.6L344.7 149.3L346.1 148.5L347.6 145.7L349.0 146.7L350.5 145.9L351.9 148.5L353.4 150.7L354.8 146.9L356.3 145.8L357.7 144.4L359.2 140.8L360.6 139.3L362.1 138.4L363.5 140.5L365.0 140.7L366.4 141.9L367.9 142.1L369.3 144.1L370.8 144.6L372.2 146.3L373.7 145.3L375.1 145.5L376.6 146.4L378.0 147.4L379.5 145.5L380.9 147.6L382.4 149.9L383.8 150.2L385.3 149.1L386.7 149.6L388.2 154.0L389.6 152.1L391.1 151.0L392.5 149.9L394.0 150.2L395.4 149.2L396.9 149.8L398.3 150.7L399.8 151.2L401.2 150.1L402.7 151.0L404.1 153.7L405.6 155.9L407.0 155.7L408.5 157.5L409.9 155.6L411.4 158.8L412.8 159.1L414.3 159.6L415.7 160.8L417.2 161.7L418.6 162.1L420.1 161.6L421.5 159.8L423.0 159.0L424.4 160.1L425.9 162.2L427.3 163.4L428.8 168.0L430.2 170.3L431.7 170.9L433.1 170.6L434.6 171.5L436.0 170.9L437.5 173.1L438.9 172.1L440.4 175.2L441.8 178.8L443.3 179.6L444.7 180.3L446.2 183.3L447.6 183.7L449.1 185.2L450.5 186.3L452.0 187.4L453.4 186.8L454.9 188.8L456.3 191.0L457.8 193.1L459.2 192.9L460.7 192.5L462.1 194.9L463.6 197.4L465.0 198.2L466.5 201.6L467.9 203.3L469.4 202.7L470.8 203.5L472.3 203.7L473.7 207.1L475.2 205.9L476.6 205.2L478.1 206.8L479.5 208.3L481.0 209.3L482.4 210.2L483.9 213.0L485.3 214.5L486.8 213.2L488.2 214.9L489.7 214.6L491.1 215.8L492.6 212.7L494.0 214.1L495.5 213.9L496.9 215.3L498.4 215.2L499.8 215.0L501.3 212.9L502.7 213.9L504.2 213.4L505.6 214.2L507.1 214.0L508.5 212.4L510.0 212.8L511.4 211.5L512.9 211.0L514.3 207.8L515.8 207.3L517.2 207.2L518.7 207.8L520.1 207.4L521.6 208.0L523.0 205.7L524.5 206.4L525.9 207.4L527.4 206.7L528.8 207.1L530.3 210.3L531.7 209.0L533.2 208.6L534.6 210.6L536.1 211.4L537.5 213.2L539.0 213.3L540.4 215.5L541.9 217.8L543.3 218.3L544.8 217.9L546.2 217.6L547.7 219.9L549.1 220.8L550.6 220.7L552.0 221.7L553.5 219.2L554.9 219.8L556.4 220.6L557.8 219.5L559.3 220.3L560.7 220.4L562.2 219.7L563.6 220.0L565.1 222.2L566.5 224.5L568.0 224.3L569.4 224.8L570.9 224.3L572.3 225.1L573.8 224.2L575.2 226.2L576.7 224.6L578.1 224.0L579.6 224.4L581.0 226.0L582.5 226.6L583.9 226.5L585.4 227.5L586.8 227.4L588.3 227.4L589.7 227.7L591.2 227.3L592.6 229.7L594.1 228.8L595.5 230.4L597.0 231.1L598.4 229.6" stroke="#95d840" stroke-width="1.35" fill="none" stroke-linejoin="round"/>
<path d="M73.5 228.3L75.0 228.2L76.4 229.3L77.9 229.0L79.3 230.9L80.8 231.8L82.2 231.9L83.7 230.8L85.1 231.3L86.6 232.3L88.0 233.7L89.5 235.1L90.9 234.3L92.4 235.0L93.8 233.6L95.3 232.3L96.7 232.4L98.2 230.8L99.6 234.5L101.1 234.4L102.5 234.3L104.0 232.8L105.4 233.1L106.9 234.8L108.3 235.0L109.8 233.2L111.2 234.4L112.7 231.8L114.1 231.3L115.6 234.1L117.0 234.9L118.5 235.8L119.9 236.7L121.4 236.9L122.8 234.3L124.3 233.7L125.7 235.2L127.2 235.3L128.6 232.7L130.1 233.3L131.5 231.6L133.0 233.4L134.4 230.6L135.9 230.2L137.3 231.9L138.8 234.1L140.2 230.8L141.7 231.6L143.1 234.5L144.6 236.4L146.0 234.4L147.5 233.8L148.9 234.2L150.4 234.5L151.8 234.1L153.3 234.1L154.7 234.2L156.2 234.1L157.6 233.7L159.1 233.2L160.5 233.8L162.0 233.0L163.4 231.1L164.9 228.8L166.3 228.7L167.8 229.0L169.2 229.0L170.7 225.5L172.1 224.1L173.6 223.6L175.0 223.9L176.5 223.5L177.9 222.5L179.4 222.2L180.8 219.2L182.3 219.0L183.7 217.4L185.2 219.3L186.6 220.2L188.1 217.5L189.5 219.0L191.0 218.6L192.4 218.4L193.9 216.8L195.3 214.8L196.8 213.0L198.2 212.2L199.7 213.0L201.1 210.7L202.6 211.6L204.0 214.3L205.5 214.4L206.9 217.7L208.4 218.5L209.8 218.0L211.3 219.6L212.7 222.4L214.2 223.0L215.6 219.8L217.1 224.0L218.5 225.9L220.0 223.4L221.4 221.5L222.9 223.4L224.3 223.0L225.8 222.4L227.2 220.7L228.7 217.7L230.1 217.2L231.6 216.6L233.0 214.0L234.5 217.2L235.9 215.1L237.4 210.1L238.8 211.0L240.3 210.1L241.7 209.0L243.2 208.4L244.6 208.4L246.1 206.5L247.5 204.8L249.0 201.7L250.4 200.2L251.9 198.8L253.3 195.8L254.8 194.1L256.2 191.3L257.7 190.3L259.1 191.2L260.6 191.4L262.0 187.5L263.5 186.7L264.9 184.0L266.4 181.2L267.8 181.1L269.3 180.3L270.7 178.1L272.2 177.4L273.6 176.3L275.1 171.3L276.5 168.6L278.0 168.5L279.4 167.9L280.9 167.5L282.3 166.3L283.8 166.0L285.2 170.3L286.7 170.0L288.1 169.5L289.6 166.9L291.0 166.5L292.5 164.3L293.9 161.1L295.4 162.1L296.8 159.2L298.3 157.2L299.7 155.5L301.2 154.3L302.6 151.1L304.1 150.3L305.5 150.1L307.0 148.6L308.4 150.2L309.9 149.8L311.3 148.5L312.8 151.0L314.2 148.7L315.7 149.9L317.1 149.6L318.6 149.1L320.0 149.7L321.5 149.5L322.9 147.9L324.4 145.6L325.8 141.8L327.3 140.4L328.7 142.2L330.2 143.9L331.6 145.5L333.1 146.0L334.5 145.9L336.0 144.0L337.4 142.9L338.9 142.2L340.3 142.1L341.8 144.2L343.2 147.5L344.7 149.3L346.1 147.8L347.6 144.8L349.0 145.3L350.5 145.0L351.9 148.1L353.4 148.4L354.8 145.0L356.3 144.2L357.7 143.2L359.2 140.7L360.6 140.7L362.1 140.8L363.5 143.0L365.0 142.4L366.4 141.8L367.9 141.2L369.3 142.7L370.8 143.5L372.2 145.0L373.7 145.3L375.1 146.3L376.6 146.8L378.0 147.0L379.5 145.3L380.9 146.9L382.4 148.7L383.8 150.3L385.3 148.1L386.7 148.1L388.2 152.3L389.6 152.9L391.1 151.1L392.5 148.7L394.0 149.3L395.4 149.9L396.9 149.9L398.3 150.5L399.8 150.3L401.2 150.3L402.7 149.5L404.1 151.8L405.6 154.0L407.0 155.4L408.5 157.1L409.9 156.0L411.4 159.2L412.8 159.1L414.3 157.9L415.7 158.0L417.2 159.2L418.6 161.7L420.1 161.1L421.5 159.6L423.0 158.7L424.4 158.8L425.9 160.8L427.3 162.4L428.8 165.5L430.2 167.9L431.7 170.1L433.1 170.3L434.6 171.2L436.0 170.7L437.5 173.2L438.9 172.8L440.4 176.2L441.8 178.9L443.3 180.5L444.7 180.6L446.2 181.4L447.6 183.1L449.1 183.8L450.5 185.8L452.0 187.4L453.4 186.2L454.9 187.5L456.3 190.8L457.8 191.7L459.2 192.6L460.7 191.5L462.1 194.9L463.6 196.7L465.0 196.7L466.5 199.4L467.9 202.2L469.4 202.9L470.8 203.9L472.3 202.7L473.7 207.2L475.2 206.5L476.6 205.5L478.1 207.5L479.5 208.2L481.0 208.2L482.4 208.9L483.9 212.0L485.3 213.8L486.8 212.7L488.2 214.5L489.7 215.9L491.1 216.6L492.6 214.7L494.0 213.3L495.5 213.3L496.9 214.1L498.4 212.6L499.8 213.7L501.3 212.0L502.7 212.5L504.2 212.3L505.6 213.7L507.1 213.0L508.5 211.9L510.0 212.5L511.4 211.4L512.9 211.6L514.3 209.0L515.8 210.3L517.2 209.5L518.7 208.9L520.1 208.7L521.6 209.9L523.0 207.6L524.5 207.4L525.9 208.4L527.4 208.7L528.8 209.5L530.3 213.0L531.7 211.3L533.2 210.3L534.6 212.5L536.1 212.3L537.5 213.0L539.0 212.3L540.4 215.6L541.9 217.4L543.3 217.2L544.8 216.0L546.2 216.9L547.7 219.6L549.1 222.1L550.6 221.1L552.0 220.9L553.5 220.2L554.9 218.8L556.4 219.9L557.8 220.3L559.3 221.9L560.7 223.1L562.2 221.1L563.6 221.2L565.1 224.2L566.5 226.0L568.0 225.0L569.4 225.7L570.9 225.1L572.3 225.7L573.8 224.8L575.2 225.5L576.7 224.5L578.1 224.5L579.6 225.1L581.0 228.1L582.5 226.8L583.9 226.4L585.4 226.8L586.8 225.5L588.3 226.1L589.7 227.5L591.2 227.2L592.6 230.4L594.1 230.6L595.5 231.9L597.0 230.6L598.4 228.5" stroke="#a5db36" stroke-width="1.35" fill="none" stroke-linejoin="round"/>
<path d="M73.5 225.5L75.0 226.5L76.4 229.8L77.9 228.6L79.3 231.0L80.8 232.5L82.2 231.7L83.7 230.7L85.1 229.6L86.6 230.3L88.0 231.5L89.5 231.4L90.9 231.2L92.4 232.0L93.8 231.4L95.3 230.8L96.7 231.4L98.2 230.6L99.6 233.4L101.1 232.3L102.5 232.7L104.0 232.7L105.4 230.9L106.9 232.0L108.3 232.5L109.8 231.6L111.2 231.4L112.7 230.9L114.1 229.4L115.6 230.9L117.0 233.6L118.5 233.9L119.9 235.8L121.4 235.4L122.8 232.7L124.3 233.1L125.7 233.8L127.2 234.2L128.6 231.1L130.1 231.8L131.5 230.3L133.0 232.5L134.4 230.5L135.9 231.4L137.3 234.1L138.8 235.9L140.2 231.1L141.7 231.4L143.1 234.2L144.6 235.0L146.0 234.4L147.5 233.6L148.9 235.0L150.4 234.8L151.8 235.4L153.3 235.8L154.7 235.6L156.2 236.0L157.6 235.0L159.1 234.4L160.5 234.6L162.0 233.5L163.4 230.6L164.9 229.4L166.3 229.9L167.8 229.6L169.2 229.8L170.7 226.1L172.1 224.2L173.6 223.6L175.0 223.9L176.5 224.5L177.9 224.9L179.4 224.4L180.8 222.2L182.3 222.8L183.7 221.2L185.2 221.9L186.6 222.1L188.1 221.1L189.5 220.6L191.0 219.8L192.4 219.0L193.9 219.3L195.3 217.7L196.8 216.6L198.2 215.0L199.7 215.7L201.1 213.5L202.6 215.4L204.0 217.8L205.5 216.5L206.9 220.4L208.4 220.4L209.8 220.0L211.3 222.3L212.7 222.4L214.2 222.4L215.6 220.3L217.1 223.5L218.5 225.8L220.0 223.9L221.4 222.6L222.9 225.0L224.3 223.4L225.8 222.0L227.2 221.1L228.7 218.7L230.1 218.4L231.6 217.3L233.0 215.9L234.5 218.4L235.9 216.2L237.4 209.9L238.8 211.1L240.3 210.4L241.7 208.2L243.2 208.0L244.6 208.8L246.1 206.5L247.5 205.4L249.0 201.1L250.4 199.6L251.9 198.4L253.3 194.3L254.8 192.1L256.2 189.9L257.7 188.6L259.1 188.1L260.6 190.2L262.0 187.1L263.5 186.2L264.9 183.3L266.4 179.9L267.8 179.1L269.3 177.0L270.7 176.1L272.2 176.5L273.6 178.2L275.1 174.4L276.5 171.4L278.0 170.5L279.4 169.8L280.9 169.2L282.3 166.0L283.8 164.9L285.2 168.1L286.7 167.1L288.1 167.7L289.6 167.3L291.0 166.0L292.5 164.1L293.9 161.5L295.4 162.6L296.8 158.7L298.3 157.0L299.7 155.9L301.2 155.5L302.6 151.4L304.1 151.1L305.5 150.6L307.0 147.9L308.4 148.4L309.9 148.6L311.3 147.6L312.8 151.2L314.2 148.5L315.7 150.8L317.1 149.8L318.6 150.0L320.0 150.2L321.5 151.4L322.9 149.2L324.4 145.3L325.8 142.4L327.3 140.2L328.7 141.3L330.2 142.4L331.6 142.6L333.1 143.7L334.5 145.3L336.0 143.9L337.4 144.2L338.9 144.1L340.3 143.5L341.8 143.8L343.2 146.1L344.7 147.5L346.1 146.5L347.6 143.5L349.0 145.2L350.5 144.7L351.9 147.8L353.4 149.9L354.8 146.6L356.3 145.2L357.7 145.4L359.2 141.6L360.6 140.9L362.1 141.1L363.5 141.7L365.0 142.0L366.4 142.1L367.9 141.5L369.3 142.6L370.8 143.4L372.2 144.2L373.7 145.5L375.1 146.4L376.6 146.1L378.0 145.4L379.5 145.0L380.9 147.7L382.4 149.3L383.8 151.3L385.3 147.5L386.7 148.6L388.2 152.0L389.6 152.4L391.1 150.2L392.5 148.6L394.0 148.9L395.4 149.2L396.9 149.9L398.3 150.0L399.8 148.7L401.2 147.7L402.7 148.2L404.1 150.2L405.6 152.0L407.0 153.8L408.5 154.5L409.9 154.3L411.4 157.6L412.8 158.0L414.3 157.9L415.7 158.4L417.2 161.0L418.6 162.2L420.1 160.3L421.5 158.2L423.0 157.9L424.4 160.1L425.9 161.1L427.3 161.0L428.8 164.3L430.2 167.9L431.7 167.6L433.1 169.3L434.6 170.2L436.0 170.7L437.5 172.9L438.9 171.9L440.4 175.7L441.8 178.4L443.3 178.4L444.7 179.1L446.2 181.6L447.6 182.7L449.1 183.6L450.5 184.4L452.0 185.5L453.4 185.9L454.9 188.4L456.3 189.8L457.8 191.4L459.2 192.0L460.7 191.2L462.1 194.8L463.6 196.6L465.0 196.7L466.5 198.8L467.9 201.7L469.4 202.6L470.8 203.2L472.3 203.7L473.7 207.4L475.2 205.7L476.6 204.8L478.1 207.4L479.5 208.3L481.0 207.0L482.4 209.2L483.9 212.3L485.3 213.8L486.8 212.2L488.2 213.8L489.7 215.7L491.1 215.6L492.6 213.7L494.0 212.8L495.5 212.8L496.9 214.2L498.4 213.5L499.8 213.8L501.3 212.2L502.7 212.6L504.2 212.0L505.6 212.5L507.1 213.0L508.5 211.5L510.0 211.9L511.4 211.8L512.9 211.9L514.3 208.6L515.8 209.0L517.2 210.0L518.7 209.8L520.1 210.8L521.6 211.0L523.0 209.1L524.5 209.7L525.9 211.4L527.4 209.7L528.8 209.1L530.3 212.2L531.7 210.2L533.2 210.5L534.6 212.4L536.1 213.4L537.5 214.4L539.0 214.8L540.4 217.5L541.9 218.9L543.3 218.0L544.8 216.0L546.2 218.6L547.7 220.9L549.1 222.2L550.6 220.5L552.0 220.9L553.5 219.7L554.9 218.7L556.4 220.5L557.8 220.2L559.3 223.8L560.7 225.4L562.2 224.8L563.6 223.8L565.1 225.5L566.5 228.1L568.0 225.8L569.4 224.2L570.9 224.4L572.3 224.0L573.8 223.8L575.2 224.8L576.7 223.9L578.1 223.3L579.6 225.4L581.0 227.8L582.5 228.9L583.9 228.9L585.4 228.7L586.8 226.3L588.3 226.4L589.7 227.7L591.2 227.4L592.6 229.1L594.1 228.9L595.5 229.5L597.0 229.4L598.4 228.4" stroke="#b2dd2d" stroke-width="1.35" fill="none" stroke-linejoin="round"/>
<path d="M73.5 225.3L75.0 227.1L76.4 228.9L77.9 226.9L79.3 228.8L80.8 230.3L82.2 229.3L83.7 226.7L85.1 227.1L86.6 228.6L88.0 229.6L89.5 229.5L90.9 228.6L92.4 228.6L93.8 228.9L95.3 228.9L96.7 230.5L98.2 230.1L99.6 232.3L101.1 232.7L102.5 233.2L104.0 231.5L105.4 228.7L106.9 229.4L108.3 228.7L109.8 229.5L111.2 229.9L112.7 228.7L114.1 227.2L115.6 229.3L117.0 232.1L118.5 232.5L119.9 234.8L121.4 233.5L122.8 231.2L124.3 231.2L125.7 231.7L127.2 232.8L128.6 230.0L130.1 232.5L131.5 231.1L133.0 232.8L134.4 231.0L135.9 230.7L137.3 233.4L138.8 234.0L140.2 231.4L141.7 232.5L143.1 234.6L144.6 235.6L146.0 236.2L147.5 234.1L148.9 235.3L150.4 234.5L151.8 234.9L153.3 234.3L154.7 235.6L156.2 235.1L157.6 234.7L159.1 234.4L160.5 235.5L162.0 235.5L163.4 233.3L164.9 232.9L166.3 232.2L167.8 231.6L169.2 231.5L170.7 228.7L172.1 227.3L173.6 225.9L175.0 226.0L176.5 227.0L177.9 225.6L179.4 225.0L180.8 222.3L182.3 222.6L183.7 222.5L185.2 224.2L186.6 224.3L188.1 222.7L189.5 223.5L191.0 222.0L192.4 220.6L193.9 221.2L195.3 219.4L196.8 218.6L198.2 217.6L199.7 217.2L201.1 216.4L202.6 218.2L204.0 219.7L205.5 220.0L206.9 222.1L208.4 222.0L209.8 221.7L211.3 222.9L212.7 222.9L214.2 224.4L215.6 223.8L217.1 226.6L218.5 228.5L220.0 224.6L221.4 222.9L222.9 224.4L224.3 222.4L225.8 221.0L227.2 220.2L228.7 219.4L230.1 220.2L231.6 218.3L233.0 217.9L234.5 220.3L235.9 218.5L237.4 213.0L238.8 213.8L240.3 211.3L241.7 208.4L243.2 207.6L244.6 208.3L246.1 205.9L247.5 204.4L249.0 200.9L250.4 198.0L251.9 196.6L253.3 194.2L254.8 191.9L256.2 189.8L257.7 188.2L259.1 188.1L260.6 189.6L262.0 185.7L263.5 185.6L264.9 183.2L266.4 180.3L267.8 178.4L269.3 176.8L270.7 175.4L272.2 175.6L273.6 176.0L275.1 171.5L276.5 168.0L278.0 168.2L279.4 168.0L280.9 167.9L282.3 165.5L283.8 165.5L285.2 168.8L286.7 168.0L288.1 167.5L289.6 166.4L291.0 165.4L292.5 162.4L293.9 160.7L295.4 161.6L296.8 158.9L298.3 156.3L299.7 155.1L301.2 154.4L302.6 152.3L304.1 152.1L305.5 151.4L307.0 149.0L308.4 149.3L309.9 148.8L311.3 148.8L312.8 152.2L314.2 149.9L315.7 151.3L317.1 150.8L318.6 148.9L320.0 149.5L321.5 150.0L322.9 148.3L324.4 146.1L325.8 142.6L327.3 140.9L328.7 141.4L330.2 142.8L331.6 143.9L333.1 146.2L334.5 147.1L336.0 145.5L337.4 142.9L338.9 143.9L340.3 141.8L341.8 143.8L343.2 146.4L344.7 146.9L346.1 145.2L347.6 144.4L349.0 143.6L350.5 144.6L351.9 148.4L353.4 148.3L354.8 145.6L356.3 144.5L357.7 144.9L359.2 141.2L360.6 140.2L362.1 141.4L363.5 142.6L365.0 142.4L366.4 142.2L367.9 141.3L369.3 144.0L370.8 144.8L372.2 144.9L373.7 145.8L375.1 144.8L376.6 145.0L378.0 144.3L379.5 142.7L380.9 146.0L382.4 148.0L383.8 149.9L385.3 147.1L386.7 148.7L388.2 151.6L389.6 152.7L391.1 150.5L392.5 148.6L394.0 148.7L395.4 148.4L396.9 149.0L398.3 149.8L399.8 148.3L401.2 148.6L402.7 148.5L404.1 150.4L405.6 152.2L407.0 154.8L408.5 155.2L409.9 154.3L411.4 157.2L412.8 156.9L414.3 156.2L415.7 156.9L417.2 158.9L418.6 161.4L420.1 159.3L421.5 158.6L423.0 157.5L424.4 158.4L425.9 158.5L427.3 157.5L428.8 161.0L430.2 165.1L431.7 165.8L433.1 168.6L434.6 169.6L436.0 170.4L437.5 172.3L438.9 172.0L440.4 176.0L441.8 180.7L443.3 181.1L444.7 180.9L446.2 181.6L447.6 181.8L449.1 183.2L450.5 184.0L452.0 184.9L453.4 185.5L454.9 186.9L456.3 188.0L457.8 189.2L459.2 189.7L460.7 190.9L462.1 194.6L463.6 196.1L465.0 195.7L466.5 198.4L467.9 201.1L469.4 202.9L470.8 202.0L472.3 202.8L473.7 206.8L475.2 205.5L476.6 203.6L478.1 206.4L479.5 208.0L481.0 207.8L482.4 210.1L483.9 212.5L485.3 213.4L486.8 212.0L488.2 213.3L489.7 215.2L491.1 214.9L492.6 212.5L494.0 211.9L495.5 211.7L496.9 213.7L498.4 213.3L499.8 213.9L501.3 212.7L502.7 213.3L504.2 212.1L505.6 212.4L507.1 212.9L508.5 211.6L510.0 211.6L511.4 210.4L512.9 211.1L514.3 209.6L515.8 210.5L517.2 210.9L518.7 210.4L520.1 211.8L521.6 212.2L523.0 209.9L524.5 211.1L525.9 212.0L527.4 211.5L528.8 211.9L530.3 213.6L531.7 212.2L533.2 211.9L534.6 214.2L536.1 214.6L537.5 215.9L539.0 214.2L540.4 216.3L541.9 218.8L543.3 217.8L544.8 215.5L546.2 217.3L547.7 219.9L549.1 222.2L550.6 221.4L552.0 221.5L553.5 219.5L554.9 218.5L556.4 220.1L557.8 220.4L559.3 225.4L560.7 227.6L562.2 226.6L563.6 225.5L565.1 225.1L566.5 226.9L568.0 225.7L569.4 225.6L570.9 226.0L572.3 225.9L573.8 226.7L575.2 228.1L576.7 226.8L578.1 225.1L579.6 224.0L581.0 226.6L582.5 226.6L583.9 227.2L585.4 228.4L586.8 228.0L588.3 226.9L589.7 227.4L591.2 226.7L592.6 228.5L594.1 228.8L595.5 228.9L597.0 227.8L598.4 228.1" stroke="#c2df23" stroke-width="1.35" fill="none" stroke-linejoin="round"/>
<path d="M73.5 223.5L75.0 225.2L76.4 227.3L77.9 225.3L79.3 227.7L80.8 228.8L82.2 228.3L83.7 225.6L85.1 225.3L86.6 226.5L88.0 228.7L89.5 228.0L90.9 225.9L92.4 226.9L93.8 227.7L95.3 227.7L96.7 228.8L98.2 229.0L99.6 231.2L101.1 229.7L102.5 231.5L104.0 230.5L105.4 227.2L106.9 226.9L108.3 227.0L109.8 227.3L111.2 226.4L112.7 225.5L114.1 225.2L115.6 226.4L117.0 230.8L118.5 232.0L119.9 235.7L121.4 234.7L122.8 232.0L124.3 230.3L125.7 230.3L127.2 232.3L128.6 229.8L130.1 231.2L131.5 229.9L133.0 231.7L134.4 230.9L135.9 232.1L137.3 234.4L138.8 234.5L140.2 231.6L141.7 233.0L143.1 236.0L144.6 235.6L146.0 237.0L147.5 234.9L148.9 234.6L150.4 233.9L151.8 233.1L153.3 232.8L154.7 236.1L156.2 236.5L157.6 236.6L159.1 237.1L160.5 236.4L162.0 236.4L163.4 233.7L164.9 232.5L166.3 233.2L167.8 233.4L169.2 233.4L170.7 231.1L172.1 230.0L173.6 227.4L175.0 226.9L176.5 226.9L177.9 226.0L179.4 225.6L180.8 224.7L182.3 225.5L183.7 224.7L185.2 226.7L186.6 225.7L188.1 224.3L189.5 225.4L191.0 224.4L192.4 223.6L193.9 223.4L195.3 220.5L196.8 219.7L198.2 219.3L199.7 220.3L201.1 219.6L202.6 221.8L204.0 223.3L205.5 222.5L206.9 224.3L208.4 224.5L209.8 223.0L211.3 223.8L212.7 224.3L214.2 226.6L215.6 224.6L217.1 226.0L218.5 228.6L220.0 226.9L221.4 224.3L222.9 225.5L224.3 221.9L225.8 221.7L227.2 221.3L228.7 220.0L230.1 221.5L231.6 219.2L233.0 219.3L234.5 221.3L235.9 217.7L237.4 213.2L238.8 215.5L240.3 211.4L241.7 207.1L243.2 206.8L244.6 206.4L246.1 203.6L247.5 202.6L249.0 200.4L250.4 199.3L251.9 196.9L253.3 194.5L254.8 192.3L256.2 189.9L257.7 188.0L259.1 186.6L260.6 188.2L262.0 185.5L263.5 183.9L264.9 180.8L266.4 178.2L267.8 178.5L269.3 177.8L270.7 176.9L272.2 176.3L273.6 176.3L275.1 172.1L276.5 167.5L278.0 166.8L279.4 166.2L280.9 166.4L282.3 163.3L283.8 164.4L285.2 167.2L286.7 166.4L288.1 166.6L289.6 165.9L291.0 164.7L292.5 162.6L293.9 162.0L295.4 162.2L296.8 160.5L298.3 157.3L299.7 157.1L301.2 157.0L302.6 153.0L304.1 151.1L305.5 149.9L307.0 148.0L308.4 148.2L309.9 148.1L311.3 147.4L312.8 150.2L314.2 148.6L315.7 149.9L317.1 151.5L318.6 150.5L320.0 151.8L321.5 152.2L322.9 150.4L324.4 146.4L325.8 142.7L327.3 140.3L328.7 141.5L330.2 141.5L331.6 142.1L333.1 144.0L334.5 145.0L336.0 144.3L337.4 144.5L338.9 144.3L340.3 143.0L341.8 144.1L343.2 146.1L344.7 146.3L346.1 145.7L347.6 145.6L349.0 144.3L350.5 144.8L351.9 146.9L353.4 148.5L354.8 145.0L356.3 144.8L357.7 145.1L359.2 141.8L360.6 141.5L362.1 143.3L363.5 142.8L365.0 142.2L366.4 141.6L367.9 141.5L369.3 143.7L370.8 144.6L372.2 144.6L373.7 145.0L375.1 144.7L376.6 144.6L378.0 142.6L379.5 142.0L380.9 144.8L382.4 147.5L383.8 149.2L385.3 146.6L386.7 147.9L388.2 150.5L389.6 153.0L391.1 150.5L392.5 150.3L394.0 149.2L395.4 148.6L396.9 148.0L398.3 147.8L399.8 146.2L401.2 146.8L402.7 147.2L404.1 147.9L405.6 152.1L407.0 153.7L408.5 153.3L409.9 153.6L411.4 157.2L412.8 156.8L414.3 157.3L415.7 156.9L417.2 159.1L418.6 160.1L420.1 158.8L421.5 158.1L423.0 156.6L424.4 157.4L425.9 157.4L427.3 157.0L428.8 159.9L430.2 164.1L431.7 165.7L433.1 167.6L434.6 168.7L436.0 169.4L437.5 170.4L438.9 171.2L440.4 174.3L441.8 179.2L443.3 180.6L444.7 180.9L446.2 182.9L447.6 182.3L449.1 184.0L450.5 184.9L452.0 186.0L453.4 186.1L454.9 187.7L456.3 188.0L457.8 188.5L459.2 188.3L460.7 189.5L462.1 191.8L463.6 194.4L465.0 193.4L466.5 197.9L467.9 201.6L469.4 204.1L470.8 202.6L472.3 203.3L473.7 205.1L475.2 204.6L476.6 203.5L478.1 205.6L479.5 207.2L481.0 206.4L482.4 209.0L483.9 210.9L485.3 212.2L486.8 211.8L488.2 212.2L489.7 212.9L491.1 213.8L492.6 213.2L494.0 211.8L495.5 211.4L496.9 212.7L498.4 213.0L499.8 214.1L501.3 215.0L502.7 215.3L504.2 215.1L505.6 214.4L507.1 215.5L508.5 215.0L510.0 212.9L511.4 212.0L512.9 210.7L514.3 208.1L515.8 208.7L517.2 210.8L518.7 210.1L520.1 211.9L521.6 211.6L523.0 210.5L524.5 211.7L525.9 212.2L527.4 212.5L528.8 213.3L530.3 213.9L531.7 213.4L533.2 213.3L534.6 214.6L536.1 215.6L537.5 216.0L539.0 214.2L540.4 216.2L541.9 219.0L543.3 217.7L544.8 215.7L546.2 216.7L547.7 219.7L549.1 223.0L550.6 222.0L552.0 222.9L553.5 220.4L554.9 221.0L556.4 222.0L557.8 221.3L559.3 225.4L560.7 226.9L562.2 226.2L563.6 224.5L565.1 225.5L566.5 227.4L568.0 227.3L569.4 227.0L570.9 226.7L572.3 226.3L573.8 227.0L575.2 227.6L576.7 226.0L578.1 224.4L579.6 224.2L581.0 227.3L582.5 228.5L583.9 228.1L585.4 228.0L586.8 227.6L588.3 226.6L589.7 226.1L591.2 225.6L592.6 227.0L594.1 228.7L595.5 229.4L597.0 228.8L598.4 228.8" stroke="#d2e21b" stroke-width="1.35" fill="none" stroke-linejoin="round"/>
<path d="M73.5 223.1L75.0 225.2L76.4 226.9L77.9 225.0L79.3 226.3L80.8 226.2L82.2 226.0L83.7 223.4L85.1 221.9L86.6 223.6L88.0 224.9L89.5 225.0L90.9 223.9L92.4 225.3L93.8 225.6L95.3 225.7L96.7 226.5L98.2 226.7L99.6 228.3L101.1 228.8L102.5 229.5L104.0 227.6L105.4 224.3L106.9 224.0L108.3 224.5L109.8 226.7L111.2 225.8L112.7 225.7L114.1 226.3L115.6 226.3L117.0 230.5L118.5 231.6L119.9 233.7L121.4 232.7L122.8 230.6L124.3 229.6L125.7 229.4L127.2 229.5L128.6 228.9L130.1 231.7L131.5 230.2L133.0 230.5L134.4 230.2L135.9 232.4L137.3 234.1L138.8 233.7L140.2 232.6L141.7 234.6L143.1 236.7L144.6 236.4L146.0 236.9L147.5 233.3L148.9 233.2L150.4 233.0L151.8 233.6L153.3 234.4L154.7 237.9L156.2 236.5L157.6 237.1L159.1 236.0L160.5 235.9L162.0 236.4L163.4 235.0L164.9 234.1L166.3 236.3L167.8 236.1L169.2 235.3L170.7 233.4L172.1 232.6L173.6 230.9L175.0 229.8L176.5 228.1L177.9 228.3L179.4 228.6L180.8 226.9L182.3 226.8L183.7 227.4L185.2 229.3L186.6 226.3L188.1 226.3L189.5 226.8L191.0 226.4L192.4 224.3L193.9 224.7L195.3 224.4L196.8 222.9L198.2 222.2L199.7 222.1L201.1 221.1L202.6 222.2L204.0 222.8L205.5 223.8L206.9 225.9L208.4 226.8L209.8 227.1L211.3 227.4L212.7 228.1L214.2 229.1L215.6 228.0L217.1 227.5L218.5 229.1L220.0 226.3L221.4 224.6L222.9 226.1L224.3 221.7L225.8 222.2L227.2 222.5L228.7 221.6L230.1 221.9L231.6 218.7L233.0 218.6L234.5 219.8L235.9 216.6L237.4 213.4L238.8 214.5L240.3 212.9L241.7 208.7L243.2 207.8L244.6 205.9L246.1 204.2L247.5 202.4L249.0 200.5L250.4 199.7L251.9 197.7L253.3 192.7L254.8 190.0L256.2 188.0L257.7 186.6L259.1 186.1L260.6 187.1L262.0 184.9L263.5 183.6L264.9 182.3L266.4 179.9L267.8 177.7L269.3 176.0L270.7 174.8L272.2 174.7L273.6 175.8L275.1 172.1L276.5 166.8L278.0 166.2L279.4 165.5L280.9 165.6L282.3 163.7L283.8 164.9L285.2 165.6L286.7 164.9L288.1 164.9L289.6 163.9L291.0 163.7L292.5 160.9L293.9 161.8L295.4 163.0L296.8 162.2L298.3 157.4L299.7 157.1L301.2 156.3L302.6 152.2L304.1 150.3L305.5 148.7L307.0 147.3L308.4 147.7L309.9 148.4L311.3 148.1L312.8 151.3L314.2 149.3L315.7 150.5L317.1 152.0L318.6 152.1L320.0 153.8L321.5 152.9L322.9 151.0L324.4 146.9L325.8 142.8L327.3 139.7L328.7 140.7L330.2 141.4L331.6 143.6L333.1 145.5L334.5 145.7L336.0 144.7L337.4 145.0L338.9 144.3L340.3 141.5L341.8 142.7L343.2 144.9L344.7 146.6L346.1 145.4L347.6 144.6L349.0 144.2L350.5 144.6L351.9 146.9L353.4 148.9L354.8 145.2L356.3 144.0L357.7 144.9L359.2 141.3L360.6 140.9L362.1 142.3L363.5 143.6L365.0 143.8L366.4 143.4L367.9 142.6L369.3 144.6L370.8 144.6L372.2 143.7L373.7 144.2L375.1 143.5L376.6 143.2L378.0 142.6L379.5 141.8L380.9 145.5L382.4 146.9L383.8 148.0L385.3 147.2L386.7 147.0L388.2 150.6L389.6 153.3L391.1 149.7L392.5 149.7L394.0 149.1L395.4 148.0L396.9 148.6L398.3 147.6L399.8 145.6L401.2 145.6L402.7 145.3L404.1 146.5L405.6 150.7L407.0 152.9L408.5 153.2L409.9 153.5L411.4 156.1L412.8 157.0L414.3 157.5L415.7 157.6L417.2 159.2L418.6 159.3L420.1 157.7L421.5 156.4L423.0 154.2L424.4 156.0L425.9 156.5L427.3 156.9L428.8 160.2L430.2 164.8L431.7 165.2L433.1 167.4L434.6 166.5L436.0 167.1L437.5 168.4L438.9 168.4L440.4 170.3L441.8 177.5L443.3 179.3L444.7 179.9L446.2 182.6L447.6 182.4L449.1 184.3L450.5 185.5L452.0 186.4L453.4 186.9L454.9 187.3L456.3 187.1L457.8 188.7L459.2 187.5L460.7 189.0L462.1 192.7L463.6 194.8L465.0 194.0L466.5 197.5L467.9 199.8L469.4 203.4L470.8 201.4L472.3 202.1L473.7 203.9L475.2 203.3L476.6 201.9L478.1 205.6L479.5 206.9L481.0 207.9L482.4 209.9L483.9 210.7L485.3 211.6L486.8 211.1L488.2 212.0L489.7 211.8L491.1 212.2L492.6 211.5L494.0 211.4L495.5 211.5L496.9 212.8L498.4 215.1L499.8 216.1L501.3 216.6L502.7 215.5L504.2 214.2L505.6 213.9L507.1 214.5L508.5 214.7L510.0 213.1L511.4 211.6L512.9 211.2L514.3 209.0L515.8 210.1L517.2 212.3L518.7 212.1L520.1 213.2L521.6 213.2L523.0 211.0L524.5 211.6L525.9 211.9L527.4 212.2L528.8 214.3L530.3 214.0L531.7 214.6L533.2 215.6L534.6 216.9L536.1 216.5L537.5 216.6L539.0 215.3L540.4 216.1L541.9 218.2L543.3 217.6L544.8 215.7L546.2 216.4L547.7 219.0L549.1 222.3L550.6 221.8L552.0 222.8L553.5 222.3L554.9 222.7L556.4 223.5L557.8 222.8L559.3 226.4L560.7 226.5L562.2 225.9L563.6 224.8L565.1 225.1L566.5 226.8L568.0 228.8L569.4 228.4L570.9 227.8L572.3 225.7L573.8 227.9L575.2 227.1L576.7 226.1L578.1 225.6L579.6 224.3L581.0 226.7L582.5 226.4L583.9 227.4L585.4 228.8L586.8 228.9L588.3 226.2L589.7 225.5L591.2 224.8L592.6 226.2L594.1 228.9L595.5 230.0L597.0 229.8L598.4 229.5" stroke="#e2e418" stroke-width="1.35" fill="none" stroke-linejoin="round"/>
<path d="M73.5 221.3L75.0 224.1L76.4 225.9L77.9 224.6L79.3 224.6L80.8 224.6L82.2 224.4L83.7 221.9L85.1 220.3L86.6 221.6L88.0 223.6L89.5 224.1L90.9 223.4L92.4 224.4L93.8 223.9L95.3 224.3L96.7 223.9L98.2 223.5L99.6 224.5L101.1 224.3L102.5 226.2L104.0 224.7L105.4 222.2L106.9 223.5L108.3 223.6L109.8 226.5L111.2 226.4L112.7 226.0L114.1 224.3L115.6 225.1L117.0 228.3L118.5 229.0L119.9 231.3L121.4 231.6L122.8 228.9L124.3 228.5L125.7 227.6L127.2 228.6L128.6 230.0L130.1 231.7L131.5 231.0L133.0 232.0L134.4 230.0L135.9 231.6L137.3 232.8L138.8 231.1L140.2 230.9L141.7 233.2L143.1 236.9L144.6 236.0L146.0 236.5L147.5 234.2L148.9 233.6L150.4 235.4L151.8 235.0L153.3 236.6L154.7 239.4L156.2 238.1L157.6 237.8L159.1 237.2L160.5 236.3L162.0 236.8L163.4 236.5L164.9 234.4L166.3 234.9L167.8 235.3L169.2 236.6L170.7 236.3L172.1 235.8L173.6 233.7L175.0 232.3L176.5 230.6L177.9 231.0L179.4 230.4L180.8 229.6L182.3 227.6L183.7 227.5L185.2 229.5L186.6 227.4L188.1 226.9L189.5 228.3L191.0 228.0L192.4 226.3L193.9 226.4L195.3 226.2L196.8 225.4L198.2 226.4L199.7 226.4L201.1 225.4L202.6 226.4L204.0 226.4L205.5 227.2L206.9 228.2L208.4 228.9L209.8 227.6L211.3 227.5L212.7 227.9L214.2 228.2L215.6 226.9L217.1 228.5L218.5 232.2L220.0 228.9L221.4 227.7L222.9 227.3L224.3 223.3L225.8 221.7L227.2 221.9L228.7 221.4L230.1 221.8L231.6 219.0L233.0 218.6L234.5 219.0L235.9 216.5L237.4 213.2L238.8 214.7L240.3 213.9L241.7 209.9L243.2 208.9L244.6 207.8L246.1 205.2L247.5 202.4L249.0 200.8L250.4 199.1L251.9 196.7L253.3 191.1L254.8 189.6L256.2 187.9L257.7 187.7L259.1 186.2L260.6 185.8L262.0 185.4L263.5 182.9L264.9 180.2L266.4 176.8L267.8 175.2L269.3 173.9L270.7 174.7L272.2 174.1L273.6 175.5L275.1 172.4L276.5 168.0L278.0 164.8L279.4 164.0L280.9 164.3L282.3 161.7L283.8 162.4L285.2 164.3L286.7 164.9L288.1 165.5L289.6 164.0L291.0 164.4L292.5 162.2L293.9 162.8L295.4 162.7L296.8 161.8L298.3 156.4L299.7 156.3L301.2 154.8L302.6 151.9L304.1 150.0L305.5 149.3L307.0 147.5L308.4 147.8L309.9 148.4L311.3 149.8L312.8 151.7L314.2 150.9L315.7 152.3L317.1 152.3L318.6 151.3L320.0 152.7L321.5 152.4L322.9 149.8L324.4 146.0L325.8 143.2L327.3 142.8L328.7 143.6L330.2 144.2L331.6 144.1L333.1 146.2L334.5 144.6L336.0 142.8L337.4 142.9L338.9 140.6L340.3 138.3L341.8 141.8L343.2 144.4L344.7 146.0L346.1 146.1L347.6 146.0L349.0 146.3L350.5 146.5L351.9 147.7L353.4 149.6L354.8 144.8L356.3 143.7L357.7 144.6L359.2 143.9L360.6 143.2L362.1 143.8L363.5 144.0L365.0 143.1L366.4 141.9L367.9 140.1L369.3 141.5L370.8 142.4L372.2 143.8L373.7 144.0L375.1 143.4L376.6 142.3L378.0 141.4L379.5 140.6L380.9 145.3L382.4 147.3L383.8 149.0L385.3 147.7L386.7 146.9L388.2 151.4L389.6 153.3L391.1 149.4L392.5 149.9L394.0 149.6L395.4 147.7L396.9 147.1L398.3 145.3L399.8 144.7L401.2 145.8L402.7 145.0L404.1 144.8L405.6 148.1L407.0 149.9L408.5 150.4L409.9 151.7L411.4 156.0L412.8 157.8L414.3 158.5L415.7 158.9L417.2 158.6L418.6 158.2L420.1 157.2L421.5 156.0L423.0 154.3L424.4 155.2L425.9 156.3L427.3 158.9L428.8 161.2L430.2 162.9L431.7 163.1L433.1 165.2L434.6 165.6L436.0 166.2L437.5 167.5L438.9 166.8L440.4 169.9L441.8 176.5L443.3 178.2L444.7 179.7L446.2 181.9L447.6 180.4L449.1 183.5L450.5 184.4L452.0 185.8L453.4 185.5L454.9 186.2L456.3 187.8L457.8 189.1L459.2 187.6L460.7 188.6L462.1 191.1L463.6 192.8L465.0 193.3L466.5 196.4L467.9 200.1L469.4 203.4L470.8 202.3L472.3 202.2L473.7 204.9L475.2 203.7L476.6 201.7L478.1 204.8L479.5 206.1L481.0 205.9L482.4 208.2L483.9 209.7L485.3 210.4L486.8 211.8L488.2 212.9L489.7 211.7L491.1 211.4L492.6 210.8L494.0 210.6L495.5 210.8L496.9 212.1L498.4 215.3L499.8 216.2L501.3 215.3L502.7 215.7L504.2 214.7L505.6 214.1L507.1 215.5L508.5 215.2L510.0 213.4L511.4 212.6L512.9 212.4L514.3 212.1L515.8 212.8L517.2 215.1L518.7 213.0L520.1 212.6L521.6 212.8L523.0 211.1L524.5 212.2L525.9 211.2L527.4 211.4L528.8 213.9L530.3 214.5L531.7 214.9L533.2 216.6L534.6 217.5L536.1 217.4L537.5 218.0L539.0 216.4L540.4 216.9L541.9 218.9L543.3 218.8L544.8 218.4L546.2 218.3L547.7 221.4L549.1 224.1L550.6 222.9L552.0 223.5L553.5 221.9L554.9 223.3L556.4 224.3L557.8 223.4L559.3 226.0L560.7 225.8L562.2 225.2L563.6 223.7L565.1 226.2L566.5 226.8L568.0 227.8L569.4 228.0L570.9 226.5L572.3 224.7L573.8 228.1L575.2 228.9L576.7 227.6L578.1 227.0L579.6 226.3L581.0 228.4L582.5 228.4L583.9 228.0L585.4 228.3L586.8 228.2L588.3 226.6L589.7 224.5L591.2 224.4L592.6 226.2L594.1 227.6L595.5 228.6L597.0 229.2L598.4 229.2" stroke="#f1e51d" stroke-width="1.35" fill="none" stroke-linejoin="round"/>
<path d="M73.5 219.9L75.0 221.0L76.4 222.1L77.9 221.4L79.3 221.8L80.8 222.7L82.2 223.0L83.7 221.6L85.1 219.2L86.6 220.4L88.0 222.5L89.5 222.9L90.9 223.6L92.4 223.5L93.8 222.6L95.3 222.8L96.7 221.8L98.2 221.0L99.6 221.8L101.1 222.5L102.5 223.4L104.0 222.0L105.4 219.4L106.9 219.6L108.3 221.6L109.8 223.3L111.2 225.0L112.7 225.5L114.1 225.0L115.6 225.8L117.0 227.3L118.5 228.9L119.9 230.4L121.4 230.5L122.8 228.2L124.3 226.5L125.7 226.7L127.2 228.1L128.6 229.0L130.1 231.3L131.5 232.5L133.0 232.1L134.4 232.1L135.9 232.0L137.3 231.8L138.8 230.4L140.2 230.7L141.7 231.3L143.1 235.1L144.6 235.3L146.0 235.0L147.5 234.2L148.9 233.4L150.4 235.8L151.8 235.0L153.3 236.9L154.7 239.4L156.2 238.9L157.6 240.0L159.1 239.8L160.5 239.3L162.0 239.6L163.4 238.8L164.9 235.9L166.3 236.0L167.8 236.7L169.2 237.8L170.7 237.4L172.1 236.5L173.6 235.4L175.0 234.1L176.5 232.7L177.9 232.8L179.4 231.5L180.8 231.0L182.3 230.5L183.7 230.1L185.2 230.6L186.6 228.3L188.1 228.1L189.5 230.3L191.0 230.8L192.4 230.4L193.9 229.6L195.3 229.0L196.8 228.3L198.2 228.0L199.7 227.7L201.1 227.3L202.6 228.5L204.0 228.9L205.5 228.0L206.9 229.4L208.4 230.2L209.8 228.6L211.3 229.5L212.7 231.0L214.2 232.3L215.6 230.5L217.1 231.1L218.5 231.7L220.0 228.4L221.4 226.8L222.9 226.3L224.3 222.6L225.8 220.7L227.2 221.8L228.7 221.6L230.1 221.4L231.6 219.0L233.0 219.3L234.5 220.2L235.9 217.4L237.4 215.0L238.8 215.1L240.3 213.6L241.7 209.9L243.2 206.5L244.6 206.2L246.1 204.1L247.5 201.6L249.0 200.4L250.4 200.1L251.9 198.2L253.3 192.5L254.8 189.9L256.2 187.7L257.7 186.8L259.1 186.4L260.6 184.5L262.0 183.2L263.5 180.7L264.9 178.7L266.4 176.0L267.8 175.1L269.3 174.1L270.7 174.9L272.2 174.3L273.6 175.1L275.1 171.5L276.5 167.8L278.0 165.0L279.4 164.9L280.9 163.8L282.3 160.6L283.8 163.0L285.2 164.2L286.7 164.4L288.1 165.3L289.6 163.8L291.0 163.3L292.5 161.1L293.9 161.6L295.4 161.7L296.8 161.4L298.3 155.5L299.7 156.8L301.2 156.0L302.6 152.9L304.1 151.5L305.5 150.2L307.0 147.9L308.4 147.9L309.9 147.9L311.3 148.9L312.8 150.2L314.2 147.7L315.7 149.3L317.1 150.4L318.6 152.0L320.0 154.6L321.5 153.1L322.9 151.5L324.4 148.2L325.8 145.6L327.3 143.7L328.7 144.5L330.2 145.8L331.6 145.7L333.1 146.5L334.5 144.1L336.0 142.0L337.4 142.4L338.9 141.0L340.3 138.3L341.8 140.8L343.2 144.1L344.7 145.7L346.1 146.0L347.6 146.7L349.0 145.0L350.5 145.6L351.9 146.9L353.4 149.3L354.8 145.0L356.3 143.6L357.7 145.0L359.2 144.8L360.6 144.6L362.1 145.3L363.5 144.6L365.0 144.3L366.4 141.4L367.9 139.1L369.3 140.0L370.8 141.1L372.2 141.6L373.7 142.5L375.1 142.4L376.6 141.6L378.0 141.5L379.5 140.8L380.9 145.6L382.4 147.4L383.8 148.5L385.3 146.6L386.7 146.0L388.2 150.8L389.6 153.0L391.1 149.2L392.5 150.4L394.0 149.5L395.4 148.6L396.9 147.4L398.3 146.4L399.8 145.6L401.2 144.7L402.7 143.7L404.1 144.2L405.6 147.8L407.0 149.0L408.5 149.8L409.9 151.5L411.4 155.2L412.8 156.8L414.3 156.8L415.7 158.4L417.2 157.6L418.6 158.0L420.1 157.1L421.5 155.2L423.0 153.5L424.4 155.1L425.9 157.2L427.3 159.3L428.8 161.1L430.2 161.8L431.7 160.2L433.1 162.7L434.6 162.8L436.0 164.9L437.5 166.5L438.9 165.7L440.4 168.8L441.8 175.4L443.3 177.3L444.7 179.4L446.2 181.3L447.6 180.9L449.1 182.3L450.5 184.3L452.0 185.5L453.4 183.9L454.9 184.8L456.3 186.8L457.8 188.0L459.2 186.9L460.7 187.2L462.1 190.0L463.6 192.1L465.0 192.4L466.5 196.4L467.9 200.7L469.4 203.4L470.8 202.3L472.3 202.1L473.7 205.0L475.2 203.2L476.6 201.1L478.1 204.6L479.5 206.2L481.0 205.1L482.4 205.6L483.9 208.2L485.3 209.7L486.8 209.8L488.2 212.0L489.7 211.2L491.1 212.5L492.6 212.2L494.0 211.7L495.5 212.6L496.9 213.5L498.4 214.9L499.8 215.2L501.3 215.7L502.7 216.7L504.2 214.4L505.6 214.6L507.1 215.4L508.5 214.2L510.0 212.1L511.4 212.4L512.9 212.5L514.3 212.9L515.8 214.5L517.2 216.4L518.7 214.5L520.1 214.0L521.6 213.8L523.0 211.3L524.5 213.2L525.9 211.5L527.4 210.6L528.8 212.9L530.3 214.1L531.7 215.8L533.2 216.9L534.6 217.9L536.1 218.4L537.5 219.2L539.0 218.8L540.4 218.6L541.9 219.3L543.3 218.6L544.8 218.1L546.2 219.2L547.7 221.9L549.1 225.1L550.6 224.4L552.0 224.8L553.5 221.3L554.9 222.6L556.4 223.7L557.8 223.4L559.3 226.2L560.7 225.7L562.2 226.6L563.6 224.1L565.1 225.4L566.5 226.4L568.0 229.5L569.4 228.9L570.9 226.8L572.3 224.2L573.8 227.7L575.2 228.2L576.7 228.2L578.1 227.9L579.6 227.2L581.0 229.7L582.5 232.2L583.9 230.6L585.4 230.9L586.8 228.9L588.3 226.3L589.7 225.5L591.2 224.5L592.6 225.5L594.1 226.8L595.5 228.9L597.0 228.4L598.4 227.9" stroke="#fde725" stroke-width="1.35" fill="none" stroke-linejoin="round"/>
<path d="M73.5 225.1L75.0 225.7L76.4 226.3L77.9 227.1L79.3 227.8L80.8 229.2L82.2 230.7L83.7 231.4L85.1 231.5L86.6 231.3L88.0 231.6L89.5 231.8L90.9 230.9L92.4 230.5L93.8 230.5L95.3 230.0L96.7 229.6L98.2 228.2L99.6 228.2L101.1 227.7L102.5 228.7L104.0 228.9L105.4 229.8L106.9 229.9L108.3 230.2L109.8 228.9L111.2 228.4L112.7 228.3L114.1 229.3L115.6 228.8L117.0 228.5L118.5 228.0L119.9 228.1L121.4 228.6L122.8 228.5L124.3 228.7L125.7 228.5L127.2 228.4L128.6 228.2L130.1 227.7L131.5 227.9L133.0 227.3L134.4 227.4L135.9 228.1L137.3 228.3L138.8 229.0L140.2 228.8L141.7 229.7L143.1 230.6L144.6 231.3L146.0 231.5L147.5 231.1L148.9 231.4L150.4 232.2L151.8 232.7L153.3 232.7L154.7 233.3L156.2 233.8L157.6 233.4L159.1 232.7L160.5 231.2L162.0 230.8L163.4 229.5L164.9 228.7L166.3 227.8L167.8 228.1L169.2 228.3L170.7 227.4L172.1 226.2L173.6 225.5L175.0 224.7L176.5 224.1L177.9 223.1L179.4 223.6L180.8 223.5L182.3 222.9L183.7 221.8L185.2 221.0L186.6 221.5L188.1 221.1L189.5 220.7L191.0 219.8L192.4 219.5L193.9 219.0L195.3 217.6L196.8 216.9L198.2 216.1L199.7 216.4L201.1 216.4L202.6 216.6L204.0 216.8L205.5 216.8L206.9 217.7L208.4 217.7L209.8 218.2L211.3 217.2L212.7 217.4L214.2 216.4L215.6 216.0L217.1 215.7L218.5 215.9L220.0 216.7L221.4 217.6L222.9 217.4L224.3 216.6L225.8 215.1L227.2 214.9L228.7 214.2L230.1 213.3L231.6 212.7L233.0 212.2L234.5 211.2L235.9 210.1L237.4 209.2L238.8 208.4L240.3 207.8L241.7 206.7L243.2 206.6L244.6 205.6L246.1 205.0L247.5 203.3L249.0 202.2L250.4 200.3L251.9 199.0L253.3 198.2L254.8 197.2L256.2 197.0L257.7 194.9L259.1 195.0L260.6 193.1L262.0 193.0L263.5 191.5L264.9 189.9L266.4 188.8L267.8 188.1L269.3 187.4L270.7 185.4L272.2 183.4L273.6 181.7L275.1 181.0L276.5 179.6L278.0 178.7L279.4 176.5L280.9 175.2L282.3 173.4L283.8 173.1L285.2 172.3L286.7 172.4L288.1 171.1L289.6 170.1L291.0 168.8L292.5 167.8L293.9 167.4L295.4 166.6L296.8 165.9L298.3 164.3L299.7 162.9L301.2 162.5L302.6 161.7L304.1 160.6L305.5 159.1L307.0 159.3L308.4 158.7L309.9 158.3L311.3 157.3L312.8 157.0L314.2 157.3L315.7 157.5L317.1 158.2L318.6 157.4L320.0 157.4L321.5 157.0L322.9 157.0L324.4 156.0L325.8 155.3L327.3 155.3L328.7 154.8L330.2 154.6L331.6 153.4L333.1 152.8L334.5 152.0L336.0 151.8L337.4 151.5L338.9 151.6L340.3 151.4L341.8 152.2L343.2 152.7L344.7 153.0L346.1 152.4L347.6 151.6L349.0 151.9L350.5 152.7L351.9 153.3L353.4 152.9L354.8 152.3L356.3 152.0L357.7 151.5L359.2 150.3L360.6 150.0L362.1 148.4L363.5 148.5L365.0 147.8L366.4 148.8L367.9 149.5L369.3 150.2L370.8 149.8L372.2 148.8L373.7 149.3L375.1 150.1L376.6 151.5L378.0 152.3L379.5 152.9L380.9 152.8L382.4 153.3L383.8 154.6L385.3 155.9L386.7 156.3L388.2 156.4L389.6 156.3L391.1 156.6L392.5 156.9L394.0 157.2L395.4 157.5L396.9 157.8L398.3 158.4L399.8 157.7L401.2 157.7L402.7 157.7L404.1 158.7L405.6 160.1L407.0 161.2L408.5 162.8L409.9 164.0L411.4 166.3L412.8 166.6L414.3 167.7L415.7 167.6L417.2 169.1L418.6 168.9L420.1 169.5L421.5 170.5L423.0 171.8L424.4 172.9L425.9 173.5L427.3 175.4L428.8 176.8L430.2 177.4L431.7 177.7L433.1 177.8L434.6 178.0L436.0 178.9L437.5 181.4L438.9 184.4L440.4 186.1L441.8 187.0L443.3 189.3L444.7 191.5L446.2 193.4L447.6 194.3L449.1 195.6L450.5 196.9L452.0 198.0L453.4 198.8L454.9 198.8L456.3 199.6L457.8 200.1L459.2 202.0L460.7 202.3L462.1 203.6L463.6 204.2L465.0 205.4L466.5 207.4L467.9 209.1L469.4 210.3L470.8 210.6L472.3 210.9L473.7 210.6L475.2 211.0L476.6 211.3L478.1 212.9L479.5 212.9L481.0 213.5L482.4 214.2L483.9 216.1L485.3 217.0L486.8 217.7L488.2 218.3L489.7 218.3L491.1 218.4L492.6 217.1L494.0 218.1L495.5 218.8L496.9 219.9L498.4 219.4L499.8 218.8L501.3 218.2L502.7 217.3L504.2 216.7L505.6 216.2L507.1 216.4L508.5 216.1L510.0 215.4L511.4 213.9L512.9 212.9L514.3 213.3L515.8 213.5L517.2 213.6L518.7 212.6L520.1 211.7L521.6 211.6L523.0 212.0L524.5 212.2L525.9 212.0L527.4 211.4L528.8 211.5L530.3 210.8L531.7 210.7L533.2 210.3L534.6 211.4L536.1 211.2L537.5 212.1L539.0 212.6L540.4 213.1L541.9 212.9L543.3 212.5L544.8 212.9L546.2 213.0L547.7 213.5L549.1 214.8L550.6 215.6L552.0 215.8L553.5 214.9L554.9 215.6L556.4 215.5L557.8 215.9L559.3 216.6L560.7 217.1L562.2 218.3L563.6 218.6L565.1 219.3L566.5 219.1L568.0 219.3L569.4 219.1L570.9 218.7L572.3 217.3L573.8 217.5L575.2 218.5L576.7 219.6L578.1 219.3L579.6 218.5L581.0 218.1L582.5 218.9L583.9 219.5L585.4 220.1L586.8 220.5L588.3 220.8L589.7 221.0L591.2 221.4L592.6 222.0L594.1 222.7L595.5 223.8L597.0 224.5L598.4 224.7" stroke="#fffdf0" stroke-width="2.1" fill="none" stroke-linejoin="round"/>
<path d="M73.7 251.4L77.1 251.4L78.5 259.1L81.2 262.1L83.2 268.2L86.2 270.2L88.7 268.2L90.3 262.1L91.7 250.4L97.0 250.0L99.4 253.4L102.0 255.0L104.9 259.1L106.9 263.5L109.5 267.6L112.6 267.2L115.0 261.5L117.0 262.1L130.8 261.9L133.5 258.1L134.9 261.1L136.3 273.9L140.0 274.3L149.1 274.3L151.1 272.3L153.1 265.2L155.2 253.0L156.8 242.5L159.2 243.9L163.3 244.9L167.3 244.5L170.4 239.8L172.4 236.8L175.0 234.8L176.5 224.6L178.5 210.4L180.5 200.7L183.6 199.9L193.7 199.9L195.7 202.3L197.4 206.4L199.2 220.6L201.4 231.7L203.8 233.1L205.5 222.6L206.9 218.1L209.9 218.1L213.0 216.1L215.0 210.4L216.4 202.7L219.7 203.9L221.1 214.5L222.5 230.7L224.1 242.9L226.1 246.5L228.2 243.9L229.4 230.7L231.2 210.4L233.2 204.3L236.2 201.9L240.3 200.3L244.3 199.3L247.4 196.2L249.4 198.3L251.4 207.4L253.5 196.2L255.5 186.1L257.5 183.0L259.5 188.1L261.6 196.2L263.6 192.2L265.6 187.1L267.7 183.0L269.7 175.3L271.7 164.2L273.1 161.1L274.3 171.3L275.8 185.4L277.8 192.5L279.8 181.4L282.9 182.4L285.9 180.4L288.5 173.3L290.6 171.7L292.6 175.3L295.4 179.4L298.1 189.5L299.5 194.2L300.7 205.3L302.7 199.3L304.8 200.3L306.8 192.2L308.8 202.3L310.8 204.3L312.3 200.3L314.3 208.4L316.3 214.5L318.4 213.5L319.8 202.3L320.4 177.3L321.4 161.1L323.0 157.1L324.4 167.6L326.5 164.2L329.5 155.0L332.5 150.0L336.6 146.9L339.6 140.8L341.7 134.8L344.1 127.7L346.7 123.6L348.2 110.4L349.4 94.2L350.2 101.3L352.8 99.3" stroke="#ff0000" stroke-width="2.35" fill="none" stroke-linejoin="round"/>
<circle cx="353.0" cy="99.7" r="2.9" fill="#ff0000"/>
<path d="M352.5 -5V292.5" stroke="#1fb2e8" stroke-width="1" stroke-dasharray="1 0.95" fill="none"/>
</g>
<g clip-path="url(#cb)">
<path d="M73.5 490.2L73.8 490.2L77.6 487.1L81.4 488.9L85.2 491.4L90.3 494.7L95.3 494.0L101.7 493.2L108.0 495.2L111.8 496.5L116.9 490.2L122.0 482.6L125.8 480.5L130.8 482.1L137.2 482.6L142.2 480.0L146.0 472.4L149.8 468.6L154.9 471.2L158.7 471.9L163.8 466.1L168.9 460.3L173.9 459.2L179.0 459.7L184.1 454.7L189.1 449.6L194.2 445.8L200.0 439.1L203.8 437.1L207.6 440.4L211.4 432.8L215.2 427.7L219.0 420.1L222.8 413.8L226.6 407.5L230.4 402.4L235.5 398.6L240.6 396.0L245.6 393.5L250.7 392.8L254.5 394.8L258.3 395.5L263.4 392.2L267.2 388.4L272.2 384.6L276.0 383.4L281.1 379.6L286.2 374.5L290.0 370.7L293.8 365.6L297.6 363.1L301.4 358.0L305.2 353.0L309.0 351.7L312.8 347.4L316.6 344.1L321.7 342.8L326.7 344.1L330.5 347.4L335.0 349.1L337.3 348.0L339.6 347.2L342.6 348.6L344.9 346.3L347.5 341.1L350.2 340.0L354.0 340.2L357.0 341.9L365.4 340.5L368.5 338.1L373.0 337.7L377.6 337.3L382.1 337.5L386.7 337.5L389.8 335.4L391.7 335.8L395.0 339.6L398.9 340.3L403.9 346.6L409.0 353.0L414.1 349.9L419.2 349.9L424.2 354.2L429.3 358.0L434.4 366.9L439.4 373.2L444.5 372.0L449.6 373.2L454.6 377.0L459.7 380.8L464.8 385.9L469.8 394.8L474.9 398.6L480.0 401.1L485.1 406.2L490.1 410.0L495.2 413.8L500.3 420.1L505.3 425.2L510.4 430.3L515.5 437.1L519.3 437.9L523.1 445.5L526.9 453.1L531.7 457.2L532.0 458.1L536.7 461.0L541.8 466.1L546.9 471.2L552.0 472.9L555.8 478.8L559.6 485.1L563.4 488.9L567.2 487.6L571.0 485.1L574.3 483.8L577.3 487.1L581.1 491.4L584.9 490.2L588.7 490.7L592.5 494.7L596.3 490.2L598.3 488.9L598.5 488.9L598.5 578.9L598.3 578.9L595.0 572.5L591.2 566.7L587.4 564.9L583.6 563.7L579.8 562.4L576.0 563.2L572.2 561.6L568.4 557.3L564.6 551.0L560.8 544.7L557.0 541.4L553.2 540.4L549.4 539.6L545.6 532.0L541.8 524.4L538.0 518.0L534.2 516.8L530.4 511.7L526.6 506.6L522.8 501.6L519.0 496.5L515.2 494.0L511.4 492.7L506.3 495.2L501.3 494.7L496.2 491.4L491.1 486.4L487.3 482.6L483.5 477.5L479.7 475.0L473.7 467.0L469.8 460.7L466.0 453.1L461.0 451.8L455.9 445.5L450.8 437.9L445.8 432.8L440.7 429.0L435.6 421.4L430.6 417.6L425.5 413.8L420.4 408.7L415.3 407.5L410.3 403.7L405.2 400.6L400.1 398.6L395.1 399.8L390.0 401.1L387.6 401.1L383.8 397.3L380.0 397.3L374.9 398.1L369.8 396.0L366.0 393.0L362.2 396.0L358.4 392.2L354.6 395.5L350.8 398.6L347.0 402.4L342.0 404.9L338.1 407.5L333.1 406.2L329.3 410.7L325.5 408.7L321.7 406.2L316.6 408.7L311.5 407.5L306.5 408.7L302.7 416.3L298.9 421.4L295.1 426.5L291.3 431.5L287.5 437.9L283.7 441.7L279.8 441.7L276.0 440.4L271.0 445.5L270.0 448.3L267.7 450.9L262.6 453.4L257.6 455.9L253.8 462.3L250.0 466.1L244.9 467.3L239.8 472.4L234.8 473.7L229.7 478.8L224.6 481.3L219.6 483.8L215.8 487.6L212.0 492.7L208.1 494.0L204.3 501.6L201.8 509.2L198.0 513.0L194.2 515.5L190.4 523.1L186.6 528.2L182.8 535.8L179.0 534.5L175.2 539.6L171.4 545.9L167.6 548.0L162.5 545.9L158.7 547.2L153.7 553.5L148.6 559.9L143.5 566.2L139.7 571.3L135.9 573.8L130.8 572.5L127.0 576.3L123.2 585.2L119.4 593.1L110.6 599.2L100.4 594.1L96.6 589.0L92.8 584.0L89.0 580.1L85.2 580.9L81.4 582.7L77.6 580.9L73.8 577.6L73.5 577.6Z" fill="#4e4e4e" stroke="#636363" stroke-width="0.8" stroke-linejoin="round"/>
<path d="M73.5 582.5H598.5M73.5 557.5H598.5M73.5 531.5H598.5M73.5 506.5H598.5M73.5 481.5H598.5M73.5 455.5H598.5M73.5 430.5H598.5M73.5 404.5H598.5M73.5 379.5H598.5M73.5 354.5H598.5M73.5 328.5H598.5M117.5 319.5V597M158.5 319.5V597M202.5 319.5V597M245.5 319.5V597M290.5 319.5V597M333.5 319.5V597M378.5 319.5V597M422.5 319.5V597M466.5 319.5V597M510.5 319.5V597M553.5 319.5V597" stroke="#808080" stroke-opacity="0.6" stroke-width="1" fill="none"/>
<path d="M73.5 534.2L76.4 534.9L79.3 535.9L82.2 537.1L85.1 537.9L88.0 538.4L90.9 538.6L93.8 538.5L96.7 538.2L99.6 537.7L102.5 536.8L105.4 535.6L108.3 534.5L111.2 533.3L114.1 532.2L117.0 531.1L119.9 530.3L122.8 529.5L125.7 528.4L128.6 527.1L131.5 526.1L134.4 525.3L137.3 524.4L140.2 523.4L143.1 522.8L146.0 522.2L148.9 521.4L151.8 520.6L154.7 519.4L157.6 517.8L160.5 515.6L163.4 513.3L166.3 510.7L169.2 507.8L172.1 504.9L175.0 502.0L177.9 499.4L180.8 496.9L183.7 494.2L186.6 491.5L189.5 488.8L192.4 486.1L195.3 483.1L198.2 480.1L201.1 477.4L204.0 474.4L206.9 471.6L209.8 468.8L212.7 466.0L215.6 463.2L218.5 461.0L221.4 459.1L224.3 457.1L227.2 454.6L230.1 451.6L233.0 448.4L235.9 445.4L238.8 442.4L241.7 439.3L244.6 436.3L247.5 433.6L250.4 431.3L253.3 429.1L256.2 426.8L259.1 424.8L262.0 422.8L264.9 421.3L267.8 419.8L270.7 417.9L273.6 415.5L276.5 412.7L279.4 410.1L282.3 407.7L285.2 405.5L288.1 403.7L291.0 401.9L293.9 399.9L296.8 397.9L299.7 396.1L302.6 394.7L305.5 393.2L308.4 391.8L311.3 390.9L314.2 390.0L317.1 389.1L320.0 388.3L322.9 387.3L325.8 386.6L328.7 385.8L331.6 385.0L334.5 384.3L337.4 383.7L340.3 383.4L343.2 382.9L346.1 382.0L349.0 381.3L351.9 380.5L354.8 379.5L357.7 378.4L360.6 377.4L363.5 376.4L366.4 375.5L369.3 374.8L372.2 374.4L375.1 374.1L378.0 373.9L380.9 374.0L383.8 374.4L386.7 375.4L389.6 376.9L392.5 378.9L395.4 380.8L398.3 382.2L401.2 383.5L404.1 385.1L407.0 386.8L409.9 388.4L412.8 389.9L415.7 391.3L418.6 393.1L421.5 394.5L424.4 396.0L427.3 397.7L430.2 399.5L433.1 400.9L436.0 402.3L438.9 404.1L441.8 406.1L444.7 407.6L447.6 408.8L450.5 410.1L453.4 411.7L456.3 413.7L459.2 416.0L462.1 418.1L465.0 420.1L467.9 422.3L470.8 424.4L473.7 426.5L476.6 428.9L479.5 431.4L482.4 433.9L485.3 436.5L488.2 439.4L491.1 442.5L494.0 445.3L496.9 449.0L499.8 453.0L502.7 457.6L505.6 461.3L508.5 464.4L511.4 467.6L514.3 471.0L517.2 474.5L520.1 478.0L523.0 481.5L525.9 484.8L528.8 488.0L531.7 491.3L534.6 494.4L537.5 497.5L540.4 500.4L543.3 503.7L546.2 507.2L549.1 510.8L552.0 514.2L554.9 517.5L557.8 520.4L560.7 522.7L563.6 524.8L566.5 526.7L569.4 528.6L572.3 530.4L575.2 531.7L578.1 533.3L581.0 535.1L583.9 536.7L586.8 537.8L589.7 538.9L592.6 539.9L595.5 540.9L598.4 541.4" stroke="#440154" stroke-width="1.35" fill="none" stroke-linejoin="round"/>
<path d="M73.5 533.6L76.4 534.6L79.3 535.9L82.2 537.1L85.1 538.0L88.0 538.3L90.9 538.1L93.8 537.8L96.7 537.4L99.6 537.1L102.5 536.3L105.4 535.3L108.3 534.0L111.2 532.6L114.1 531.5L117.0 530.5L119.9 529.5L122.8 528.5L125.7 527.5L128.6 526.6L131.5 525.6L134.4 524.9L137.3 524.1L140.2 523.4L143.1 522.5L146.0 521.4L148.9 520.6L151.8 519.6L154.7 518.1L157.6 516.4L160.5 514.0L163.4 511.3L166.3 508.8L169.2 506.2L172.1 503.5L175.0 500.9L177.9 498.4L180.8 495.7L183.7 492.9L186.6 490.4L189.5 487.9L192.4 485.4L195.3 482.8L198.2 480.2L201.1 477.3L204.0 474.1L206.9 471.1L209.8 468.0L212.7 465.0L215.6 462.3L218.5 459.8L221.4 457.5L224.3 455.5L227.2 453.5L230.1 451.3L233.0 448.7L235.9 446.0L238.8 443.1L241.7 439.9L244.6 436.8L247.5 434.0L250.4 431.5L253.3 429.0L256.2 426.5L259.1 424.5L262.0 422.5L264.9 420.7L267.8 419.1L270.7 417.1L273.6 414.8L276.5 412.6L279.4 410.4L282.3 408.1L285.2 405.9L288.1 403.8L291.0 401.9L293.9 400.1L296.8 398.1L299.7 396.1L302.6 394.6L305.5 393.1L308.4 391.8L311.3 390.6L314.2 389.5L317.1 388.7L320.0 387.8L322.9 386.8L325.8 385.9L328.7 384.9L331.6 384.0L334.5 383.1L337.4 382.3L340.3 382.1L343.2 381.7L346.1 381.1L349.0 380.7L351.9 380.1L354.8 379.0L357.7 377.8L360.6 376.6L363.5 375.9L366.4 375.0L369.3 374.3L372.2 374.3L375.1 374.3L378.0 374.3L380.9 374.8L383.8 375.4L386.7 376.4L389.6 377.8L392.5 379.3L395.4 380.6L398.3 381.7L401.2 382.8L404.1 383.9L407.0 385.3L409.9 386.8L412.8 388.2L415.7 389.6L418.6 391.1L421.5 392.8L424.4 394.4L427.3 396.1L430.2 398.0L433.1 399.7L436.0 401.4L438.9 403.3L441.8 405.2L444.7 407.1L447.6 408.5L450.5 409.7L453.4 411.8L456.3 413.7L459.2 415.3L462.1 417.1L465.0 419.2L467.9 421.4L470.8 423.8L473.7 426.3L476.6 428.6L479.5 431.1L482.4 433.7L485.3 436.1L488.2 438.9L491.1 442.0L494.0 445.0L496.9 448.8L499.8 452.7L502.7 456.7L505.6 460.4L508.5 464.3L511.4 467.9L514.3 471.1L517.2 474.2L520.1 477.6L523.0 481.0L525.9 484.3L528.8 487.8L531.7 491.3L534.6 494.6L537.5 497.7L540.4 500.7L543.3 503.7L546.2 507.1L549.1 510.7L552.0 513.8L554.9 516.7L557.8 519.5L560.7 522.0L563.6 524.1L566.5 526.2L569.4 528.0L572.3 529.3L575.2 530.8L578.1 532.5L581.0 534.1L583.9 535.8L586.8 537.1L589.7 538.1L592.6 539.1L595.5 539.9L598.4 540.1" stroke="#46085c" stroke-width="1.35" fill="none" stroke-linejoin="round"/>
<path d="M73.5 533.5L76.4 534.2L79.3 535.2L82.2 536.4L85.1 537.4L88.0 538.1L90.9 538.5L93.8 538.5L96.7 538.0L99.6 537.2L102.5 535.7L105.4 534.3L108.3 533.0L111.2 531.6L114.1 530.3L117.0 529.4L119.9 528.6L122.8 527.7L125.7 526.7L128.6 525.9L131.5 525.2L134.4 524.4L137.3 523.5L140.2 522.9L143.1 522.3L146.0 521.1L148.9 519.7L151.8 518.7L154.7 517.6L157.6 515.8L160.5 513.3L163.4 510.6L166.3 507.9L169.2 505.3L172.1 502.7L175.0 499.9L177.9 497.4L180.8 494.8L183.7 492.4L186.6 490.2L189.5 487.7L192.4 485.1L195.3 482.4L198.2 479.5L201.1 476.8L204.0 473.7L206.9 470.6L209.8 467.8L212.7 465.1L215.6 462.6L218.5 460.1L221.4 458.0L224.3 456.0L227.2 453.7L230.1 451.4L233.0 448.6L235.9 446.0L238.8 443.2L241.7 439.7L244.6 436.3L247.5 433.5L250.4 430.8L253.3 428.4L256.2 426.2L259.1 424.3L262.0 422.6L264.9 421.1L267.8 419.5L270.7 417.7L273.6 415.5L276.5 413.1L279.4 410.8L282.3 408.4L285.2 406.4L288.1 404.7L291.0 402.9L293.9 400.7L296.8 398.6L299.7 396.8L302.6 395.1L305.5 393.4L308.4 391.8L311.3 390.6L314.2 389.3L317.1 388.0L320.0 386.8L322.9 385.8L325.8 385.2L328.7 384.5L331.6 383.5L334.5 382.6L337.4 381.9L340.3 381.3L343.2 380.8L346.1 380.3L349.0 379.9L351.9 379.4L354.8 378.6L357.7 377.8L360.6 377.1L363.5 376.1L366.4 375.2L369.3 374.7L372.2 374.4L375.1 374.5L378.0 374.6L380.9 375.3L383.8 376.1L386.7 377.4L389.6 378.9L392.5 380.4L395.4 381.5L398.3 382.4L401.2 383.5L404.1 384.7L407.0 385.9L409.9 387.2L412.8 388.4L415.7 389.6L418.6 390.6L421.5 391.9L424.4 393.5L427.3 395.2L430.2 397.4L433.1 399.3L436.0 401.3L438.9 403.3L441.8 405.3L444.7 407.0L447.6 408.5L450.5 410.1L453.4 411.9L456.3 413.9L459.2 415.7L462.1 417.4L465.0 419.4L467.9 421.7L470.8 424.0L473.7 426.3L476.6 428.8L479.5 431.4L482.4 433.9L485.3 436.5L488.2 439.5L491.1 442.7L494.0 445.5L496.9 449.2L499.8 453.0L502.7 457.0L505.6 460.6L508.5 463.9L511.4 467.0L514.3 470.2L517.2 474.0L520.1 477.9L523.0 481.5L525.9 485.0L528.8 488.1L531.7 491.4L534.6 494.9L537.5 497.9L540.4 500.8L543.3 504.1L546.2 507.7L549.1 511.0L552.0 514.1L554.9 517.3L557.8 520.1L560.7 522.6L563.6 524.6L566.5 526.4L569.4 528.0L572.3 529.6L575.2 530.9L578.1 532.1L581.0 533.6L583.9 535.2L586.8 536.4L589.7 537.7L592.6 538.7L595.5 539.7L598.4 540.6" stroke="#471164" stroke-width="1.35" fill="none" stroke-linejoin="round"/>
<path d="M73.5 533.7L76.4 534.7L79.3 535.9L82.2 537.0L85.1 537.5L88.0 537.6L90.9 537.5L93.8 537.2L96.7 536.7L99.6 535.9L102.5 534.6L105.4 533.3L108.3 532.1L111.2 531.0L114.1 530.1L117.0 529.1L119.9 528.0L122.8 526.9L125.7 526.0L128.6 525.0L131.5 524.2L134.4 523.9L137.3 523.5L140.2 523.1L143.1 522.4L146.0 521.2L148.9 520.2L151.8 519.2L154.7 517.8L157.6 515.9L160.5 513.1L163.4 510.3L166.3 508.0L169.2 505.4L172.1 502.5L175.0 499.9L177.9 497.4L180.8 494.8L183.7 492.3L186.6 490.0L189.5 487.6L192.4 485.1L195.3 482.7L198.2 480.0L201.1 477.3L204.0 474.4L206.9 471.8L209.8 468.9L212.7 466.2L215.6 463.8L218.5 461.2L221.4 458.8L224.3 456.5L227.2 454.1L230.1 451.5L233.0 448.8L235.9 445.9L238.8 442.6L241.7 439.0L244.6 435.5L247.5 432.3L250.4 429.8L253.3 427.6L256.2 425.5L259.1 423.8L262.0 422.3L264.9 420.9L267.8 419.3L270.7 417.3L273.6 415.1L276.5 413.0L279.4 410.9L282.3 408.7L285.2 406.4L288.1 404.5L291.0 402.7L293.9 400.9L296.8 399.3L299.7 397.6L302.6 395.9L305.5 393.9L308.4 392.1L311.3 390.7L314.2 389.2L317.1 388.0L320.0 387.0L322.9 386.2L325.8 385.4L328.7 384.5L331.6 383.6L334.5 383.0L337.4 382.5L340.3 381.8L343.2 381.2L346.1 380.5L349.0 379.8L351.9 378.9L354.8 378.0L357.7 377.0L360.6 376.0L363.5 375.2L366.4 374.6L369.3 374.3L372.2 374.5L375.1 375.1L378.0 375.5L380.9 376.1L383.8 376.9L386.7 378.2L389.6 379.8L392.5 381.4L395.4 382.5L398.3 383.2L401.2 383.9L404.1 384.8L407.0 385.8L409.9 387.1L412.8 388.3L415.7 389.5L418.6 390.9L421.5 392.2L424.4 393.7L427.3 395.8L430.2 397.9L433.1 399.5L436.0 401.2L438.9 403.3L441.8 405.0L444.7 406.7L447.6 408.4L450.5 409.8L453.4 411.6L456.3 413.9L459.2 415.9L462.1 418.0L465.0 420.2L467.9 422.2L470.8 424.4L473.7 426.8L476.6 429.2L479.5 431.5L482.4 433.9L485.3 436.6L488.2 439.6L491.1 442.8L494.0 445.8L496.9 449.3L499.8 453.0L502.7 457.1L505.6 460.7L508.5 464.3L511.4 467.6L514.3 471.0L517.2 474.5L520.1 478.2L523.0 482.0L525.9 485.6L528.8 489.1L531.7 492.5L534.6 495.7L537.5 498.8L540.4 501.9L543.3 505.3L546.2 509.0L549.1 512.2L552.0 515.4L554.9 518.2L557.8 520.5L560.7 522.3L563.6 524.1L566.5 526.1L569.4 527.7L572.3 529.1L575.2 530.5L578.1 532.0L581.0 533.7L583.9 535.8L586.8 537.7L589.7 539.4L592.6 540.6L595.5 541.5L598.4 542.3" stroke="#481a6c" stroke-width="1.35" fill="none" stroke-linejoin="round"/>
<path d="M73.5 534.8L76.4 535.7L79.3 536.6L82.2 537.5L85.1 538.0L88.0 537.9L90.9 537.7L93.8 537.6L96.7 536.8L99.6 535.7L102.5 534.2L105.4 532.7L108.3 531.2L111.2 529.8L114.1 528.4L117.0 527.3L119.9 526.7L122.8 526.2L125.7 525.5L128.6 524.9L131.5 524.3L134.4 523.7L137.3 523.1L140.2 522.3L143.1 521.5L146.0 520.8L148.9 520.3L151.8 519.4L154.7 518.3L157.6 516.7L160.5 514.5L163.4 511.7L166.3 508.8L169.2 506.2L172.1 503.8L175.0 500.9L177.9 498.0L180.8 495.1L183.7 492.4L186.6 489.8L189.5 487.1L192.4 484.4L195.3 482.0L198.2 479.7L201.1 477.6L204.0 474.9L206.9 471.9L209.8 469.1L212.7 466.1L215.6 463.4L218.5 460.9L221.4 458.3L224.3 456.0L227.2 453.7L230.1 451.1L233.0 448.1L235.9 445.0L238.8 441.8L241.7 438.5L244.6 434.9L247.5 431.7L250.4 429.3L253.3 427.2L256.2 425.0L259.1 423.0L262.0 421.0L264.9 419.4L267.8 418.2L270.7 416.8L273.6 415.1L276.5 413.0L279.4 410.7L282.3 408.2L285.2 406.0L288.1 404.2L291.0 402.5L293.9 400.6L296.8 398.7L299.7 397.0L302.6 395.5L305.5 393.8L308.4 392.0L311.3 390.7L314.2 389.6L317.1 388.4L320.0 387.4L322.9 386.4L325.8 385.7L328.7 384.9L331.6 384.0L334.5 383.1L337.4 382.3L340.3 381.3L343.2 380.6L346.1 379.7L349.0 379.1L351.9 378.1L354.8 377.1L357.7 376.2L360.6 375.3L363.5 374.4L366.4 373.9L369.3 373.9L372.2 374.1L375.1 374.7L378.0 375.5L380.9 376.2L383.8 376.8L386.7 377.8L389.6 379.2L392.5 380.8L395.4 382.0L398.3 382.8L401.2 383.5L404.1 384.4L407.0 385.4L409.9 386.7L412.8 388.1L415.7 389.3L418.6 390.7L421.5 392.1L424.4 393.7L427.3 395.7L430.2 397.5L433.1 399.2L436.0 401.1L438.9 402.7L441.8 404.4L444.7 406.2L447.6 407.8L450.5 409.4L453.4 411.1L456.3 413.2L459.2 415.5L462.1 417.7L465.0 420.0L467.9 422.4L470.8 424.7L473.7 427.0L476.6 429.4L479.5 431.8L482.4 434.4L485.3 436.7L488.2 439.6L491.1 443.0L494.0 446.1L496.9 449.5L499.8 453.1L502.7 457.4L505.6 461.2L508.5 464.8L511.4 468.2L514.3 471.4L517.2 474.8L520.1 478.2L523.0 481.5L525.9 485.0L528.8 488.6L531.7 492.1L534.6 495.6L537.5 498.8L540.4 502.0L543.3 505.3L546.2 508.6L549.1 511.8L552.0 514.9L554.9 517.7L557.8 520.2L560.7 522.6L563.6 524.7L566.5 526.6L569.4 528.4L572.3 529.8L575.2 531.2L578.1 532.8L581.0 534.3L583.9 535.9L586.8 537.5L589.7 539.1L592.6 540.4L595.5 541.6L598.4 542.4" stroke="#482173" stroke-width="1.35" fill="none" stroke-linejoin="round"/>
<path d="M73.5 536.5L76.4 537.3L79.3 538.3L82.2 539.0L85.1 539.2L88.0 539.0L90.9 538.5L93.8 537.7L96.7 536.6L99.6 535.6L102.5 534.3L105.4 533.0L108.3 531.6L111.2 530.2L114.1 528.9L117.0 527.9L119.9 526.8L122.8 525.8L125.7 524.9L128.6 524.1L131.5 523.2L134.4 522.7L137.3 522.4L140.2 521.9L143.1 521.5L146.0 521.0L148.9 520.1L151.8 518.9L154.7 517.8L157.6 516.1L160.5 514.1L163.4 511.9L166.3 509.3L169.2 506.7L172.1 504.3L175.0 501.6L177.9 498.6L180.8 495.6L183.7 492.7L186.6 489.8L189.5 486.8L192.4 484.0L195.3 481.3L198.2 478.7L201.1 476.1L204.0 473.0L206.9 470.1L209.8 467.5L212.7 464.8L215.6 462.2L218.5 459.9L221.4 457.6L224.3 455.0L227.2 452.5L230.1 449.9L233.0 447.1L235.9 444.3L238.8 441.0L241.7 437.6L244.6 434.3L247.5 431.3L250.4 428.8L253.3 426.9L256.2 424.8L259.1 422.8L262.0 420.9L264.9 419.5L267.8 418.1L270.7 416.2L273.6 414.4L276.5 412.6L279.4 410.3L282.3 407.7L285.2 405.4L288.1 403.4L291.0 401.4L293.9 399.3L296.8 397.4L299.7 395.5L302.6 393.8L305.5 392.1L308.4 390.6L311.3 389.5L314.2 388.4L317.1 387.3L320.0 386.5L322.9 385.5L325.8 384.6L328.7 383.5L331.6 382.6L334.5 381.7L337.4 380.9L340.3 380.3L343.2 379.5L346.1 378.6L349.0 377.9L351.9 376.8L354.8 375.8L357.7 374.8L360.6 374.1L363.5 373.6L366.4 373.4L369.3 373.5L372.2 373.9L375.1 374.3L378.0 374.8L380.9 375.2L383.8 375.7L386.7 376.9L389.6 378.4L392.5 380.0L395.4 381.1L398.3 381.9L401.2 382.9L404.1 384.1L407.0 385.2L409.9 386.3L412.8 387.4L415.7 388.8L418.6 390.3L421.5 392.0L424.4 393.9L427.3 395.9L430.2 397.3L433.1 398.5L436.0 400.1L438.9 402.0L441.8 403.8L444.7 405.6L447.6 407.1L450.5 408.6L453.4 410.4L456.3 412.6L459.2 414.9L462.1 417.2L465.0 419.4L467.9 421.7L470.8 424.1L473.7 426.6L476.6 429.2L479.5 431.9L482.4 434.4L485.3 436.7L488.2 439.4L491.1 442.6L494.0 445.9L496.9 449.7L499.8 453.8L502.7 458.3L505.6 462.3L508.5 465.8L511.4 468.9L514.3 471.9L517.2 475.0L520.1 478.1L523.0 481.4L525.9 484.7L528.8 488.1L531.7 491.5L534.6 494.7L537.5 497.7L540.4 500.5L543.3 504.0L546.2 507.8L549.1 511.1L552.0 514.1L554.9 516.9L557.8 519.3L560.7 521.8L563.6 523.8L566.5 525.5L569.4 527.2L572.3 528.7L575.2 530.2L578.1 531.8L581.0 533.2L583.9 534.6L586.8 536.2L589.7 537.8L592.6 538.6L595.5 539.4L598.4 540.4" stroke="#482979" stroke-width="1.35" fill="none" stroke-linejoin="round"/>
<path d="M73.5 538.1L76.4 538.7L79.3 539.8L82.2 540.3L85.1 540.2L88.0 539.8L90.9 539.3L93.8 538.7L96.7 537.6L99.6 536.3L102.5 534.8L105.4 533.5L108.3 531.7L111.2 530.0L114.1 528.5L117.0 527.4L119.9 526.4L122.8 525.4L125.7 524.5L128.6 523.9L131.5 523.1L134.4 522.4L137.3 522.1L140.2 521.7L143.1 521.0L146.0 520.2L148.9 519.5L151.8 518.6L154.7 517.5L157.6 515.9L160.5 513.7L163.4 511.5L166.3 508.8L169.2 506.2L172.1 503.5L175.0 500.8L177.9 498.1L180.8 495.0L183.7 492.2L186.6 490.1L189.5 487.4L192.4 484.4L195.3 481.3L198.2 478.3L201.1 475.4L204.0 472.3L206.9 469.4L209.8 466.6L212.7 463.6L215.6 460.9L218.5 458.7L221.4 456.5L224.3 454.1L227.2 451.7L230.1 448.9L233.0 446.2L235.9 443.2L238.8 439.9L241.7 436.6L244.6 433.2L247.5 430.6L250.4 428.4L253.3 426.4L256.2 424.2L259.1 422.3L262.0 420.6L264.9 419.0L267.8 417.4L270.7 415.8L273.6 414.1L276.5 412.0L279.4 409.6L282.3 407.2L285.2 404.9L288.1 403.1L291.0 401.1L293.9 399.0L296.8 397.0L299.7 394.8L302.6 392.9L305.5 391.0L308.4 389.3L311.3 387.9L314.2 386.8L317.1 385.8L320.0 385.0L322.9 384.2L325.8 383.2L328.7 381.8L331.6 380.6L334.5 379.5L337.4 378.4L340.3 377.7L343.2 377.3L346.1 376.8L349.0 376.3L351.9 375.7L354.8 374.9L357.7 373.8L360.6 373.0L363.5 372.4L366.4 372.4L369.3 372.4L372.2 372.6L375.1 373.0L378.0 373.5L380.9 374.3L383.8 374.9L386.7 376.1L389.6 377.8L392.5 379.5L395.4 380.6L398.3 381.4L401.2 382.0L404.1 382.9L407.0 383.9L409.9 385.6L412.8 387.1L415.7 388.2L418.6 389.5L421.5 391.2L424.4 393.2L427.3 395.4L430.2 397.0L433.1 398.5L436.0 400.3L438.9 402.0L441.8 403.9L444.7 405.6L447.6 407.0L450.5 408.5L453.4 410.3L456.3 412.6L459.2 414.8L462.1 417.0L465.0 419.4L467.9 421.7L470.8 424.0L473.7 426.3L476.6 428.7L479.5 431.5L482.4 434.4L485.3 437.2L488.2 440.0L491.1 443.3L494.0 446.6L496.9 450.3L499.8 454.1L502.7 458.5L505.6 462.0L508.5 465.1L511.4 468.3L514.3 471.5L517.2 474.6L520.1 477.7L523.0 481.1L525.9 484.5L528.8 487.6L531.7 490.8L534.6 493.8L537.5 496.5L540.4 499.6L543.3 503.1L546.2 506.4L549.1 509.4L552.0 512.5L554.9 515.8L557.8 518.4L560.7 520.3L563.6 522.2L566.5 524.2L569.4 526.1L572.3 527.7L575.2 529.1L578.1 531.0L581.0 532.6L583.9 533.8L586.8 535.0L589.7 536.0L592.6 536.8L595.5 537.3L598.4 537.8" stroke="#472f7d" stroke-width="1.35" fill="none" stroke-linejoin="round"/>
<path d="M73.5 539.1L76.4 539.6L79.3 540.4L82.2 541.0L85.1 541.0L88.0 540.6L90.9 539.8L93.8 538.7L96.7 537.5L99.6 536.3L102.5 534.9L105.4 533.3L108.3 531.7L111.2 530.1L114.1 528.9L117.0 528.0L119.9 527.0L122.8 526.0L125.7 525.0L128.6 524.0L131.5 523.3L134.4 522.6L137.3 521.7L140.2 521.2L143.1 520.4L146.0 519.6L148.9 519.0L151.8 517.9L154.7 516.6L157.6 515.1L160.5 512.8L163.4 510.3L166.3 507.7L169.2 505.5L172.1 502.9L175.0 500.3L177.9 498.0L180.8 495.7L183.7 492.9L186.6 490.1L189.5 487.4L192.4 484.4L195.3 481.5L198.2 478.6L201.1 475.5L204.0 472.5L206.9 469.1L209.8 466.1L212.7 463.2L215.6 460.6L218.5 458.4L221.4 456.3L224.3 453.8L227.2 451.1L230.1 448.1L233.0 445.2L235.9 442.2L238.8 439.0L241.7 435.6L244.6 432.4L247.5 429.6L250.4 427.4L253.3 425.5L256.2 423.6L259.1 421.9L262.0 420.3L264.9 419.0L267.8 417.6L270.7 415.7L273.6 413.8L276.5 411.7L279.4 409.0L282.3 406.5L285.2 404.1L288.1 401.9L291.0 399.8L293.9 397.9L296.8 396.2L299.7 394.5L302.6 392.9L305.5 391.2L308.4 389.4L311.3 387.8L314.2 386.6L317.1 385.0L320.0 383.7L322.9 382.3L325.8 380.9L328.7 379.7L331.6 378.6L334.5 377.8L337.4 376.8L340.3 375.8L343.2 375.3L346.1 374.6L349.0 373.8L351.9 373.2L354.8 372.5L357.7 371.6L360.6 370.9L363.5 370.4L366.4 370.7L369.3 371.3L372.2 371.8L375.1 372.0L378.0 372.4L380.9 373.0L383.8 373.7L386.7 374.8L389.6 376.2L392.5 377.6L395.4 378.8L398.3 380.1L401.2 381.2L404.1 382.5L407.0 383.8L409.9 385.2L412.8 386.6L415.7 387.9L418.6 389.2L421.5 390.8L424.4 392.7L427.3 394.7L430.2 396.4L433.1 398.3L436.0 400.3L438.9 402.4L441.8 404.4L444.7 406.3L447.6 407.7L450.5 409.2L453.4 410.9L456.3 412.6L459.2 414.4L462.1 416.6L465.0 419.2L467.9 421.6L470.8 424.0L473.7 426.7L476.6 429.3L479.5 431.7L482.4 434.3L485.3 437.0L488.2 440.1L491.1 443.5L494.0 446.7L496.9 450.4L499.8 454.3L502.7 458.6L505.6 461.9L508.5 464.9L511.4 467.7L514.3 470.7L517.2 474.0L520.1 477.3L523.0 480.8L525.9 484.3L528.8 487.4L531.7 490.6L534.6 493.5L537.5 496.4L540.4 499.5L543.3 502.6L546.2 505.6L549.1 508.4L552.0 511.2L554.9 514.2L557.8 516.7L560.7 519.0L563.6 520.9L566.5 522.6L569.4 524.7L572.3 526.6L575.2 528.5L578.1 530.5L581.0 532.4L583.9 533.7L586.8 534.9L589.7 535.9L592.6 536.5L595.5 537.1L598.4 537.4" stroke="#453781" stroke-width="1.35" fill="none" stroke-linejoin="round"/>
<path d="M73.5 539.1L76.4 539.6L79.3 540.2L82.2 540.5L85.1 540.3L88.0 540.0L90.9 539.7L93.8 539.1L96.7 538.3L99.6 536.9L102.5 535.3L105.4 533.8L108.3 532.1L111.2 530.4L114.1 528.9L117.0 527.6L119.9 526.8L122.8 526.2L125.7 525.3L128.6 524.1L131.5 523.0L134.4 522.5L137.3 521.9L140.2 521.0L143.1 520.5L146.0 520.1L148.9 519.0L151.8 517.8L154.7 516.3L157.6 514.5L160.5 512.4L163.4 510.1L166.3 507.5L169.2 505.0L172.1 502.4L175.0 499.9L177.9 497.2L180.8 494.6L183.7 492.2L186.6 489.5L189.5 486.3L192.4 483.5L195.3 480.9L198.2 478.5L201.1 475.8L204.0 472.8L206.9 469.6L209.8 466.7L212.7 463.9L215.6 461.0L218.5 458.3L221.4 455.6L224.3 453.0L227.2 450.6L230.1 447.6L233.0 444.8L235.9 442.0L238.8 438.6L241.7 435.0L244.6 431.8L247.5 429.1L250.4 426.5L253.3 424.5L256.2 422.8L259.1 421.4L262.0 419.9L264.9 418.7L267.8 417.3L270.7 415.4L273.6 413.7L276.5 411.5L279.4 409.0L282.3 406.5L285.2 404.3L288.1 402.3L291.0 400.4L293.9 398.5L296.8 396.5L299.7 394.4L302.6 392.6L305.5 390.9L308.4 389.2L311.3 387.7L314.2 386.1L317.1 384.4L320.0 382.9L322.9 381.6L325.8 380.2L328.7 378.9L331.6 377.6L334.5 376.4L337.4 375.3L340.3 374.6L343.2 374.0L346.1 373.4L349.0 372.9L351.9 372.0L354.8 371.2L357.7 370.3L360.6 369.6L363.5 369.5L366.4 369.9L369.3 370.2L372.2 370.2L375.1 370.5L378.0 370.9L380.9 371.4L383.8 372.2L386.7 373.2L389.6 374.5L392.5 376.1L395.4 377.7L398.3 378.9L401.2 380.0L404.1 381.2L407.0 382.4L409.9 384.0L412.8 385.8L415.7 387.6L418.6 389.4L421.5 391.5L424.4 393.6L427.3 395.5L430.2 397.0L433.1 398.7L436.0 400.7L438.9 402.6L441.8 404.6L444.7 406.5L447.6 407.8L450.5 409.2L453.4 411.1L456.3 413.1L459.2 415.0L462.1 417.3L465.0 419.6L467.9 421.8L470.8 424.0L473.7 426.3L476.6 429.0L479.5 431.8L482.4 434.8L485.3 437.7L488.2 440.5L491.1 443.4L494.0 446.1L496.9 449.6L499.8 453.4L502.7 457.6L505.6 461.0L508.5 464.3L511.4 467.5L514.3 470.5L517.2 473.7L520.1 476.9L523.0 480.2L525.9 483.5L528.8 486.8L531.7 490.0L534.6 493.1L537.5 496.0L540.4 498.8L543.3 501.7L546.2 504.8L549.1 508.0L552.0 511.0L554.9 513.8L557.8 516.5L560.7 518.6L563.6 520.5L566.5 522.3L569.4 524.1L572.3 525.7L575.2 527.9L578.1 530.2L581.0 532.0L583.9 533.5L586.8 534.5L589.7 535.5L592.6 536.3L595.5 537.1L598.4 537.4" stroke="#433e85" stroke-width="1.35" fill="none" stroke-linejoin="round"/>
<path d="M73.5 537.0L76.4 537.8L79.3 538.9L82.2 539.2L85.1 539.2L88.0 539.2L90.9 538.7L93.8 538.1L96.7 537.5L99.6 536.5L102.5 535.2L105.4 533.7L108.3 532.1L111.2 530.6L114.1 529.1L117.0 527.8L119.9 527.1L122.8 526.4L125.7 525.5L128.6 524.5L131.5 523.6L134.4 522.8L137.3 521.9L140.2 521.0L143.1 520.1L146.0 519.2L148.9 518.1L151.8 517.0L154.7 515.6L157.6 513.5L160.5 511.2L163.4 509.0L166.3 506.5L169.2 504.2L172.1 501.7L175.0 499.0L177.9 496.6L180.8 494.2L183.7 491.8L186.6 489.4L189.5 486.4L192.4 483.7L195.3 481.2L198.2 478.3L201.1 475.1L204.0 471.8L206.9 468.7L209.8 465.9L212.7 463.2L215.6 460.7L218.5 458.3L221.4 455.6L224.3 452.9L227.2 450.3L230.1 447.7L233.0 445.0L235.9 442.1L238.8 439.1L241.7 435.9L244.6 432.6L247.5 430.1L250.4 427.7L253.3 425.4L256.2 423.6L259.1 421.8L262.0 420.3L264.9 418.8L267.8 417.1L270.7 415.3L273.6 413.4L276.5 411.1L279.4 408.7L282.3 406.3L285.2 403.9L288.1 401.8L291.0 400.1L293.9 398.3L296.8 396.3L299.7 394.7L302.6 393.0L305.5 391.3L308.4 389.8L311.3 388.1L314.2 386.3L317.1 384.4L320.0 382.7L322.9 381.4L325.8 380.3L328.7 379.2L331.6 378.0L334.5 376.8L337.4 375.5L340.3 374.3L343.2 373.6L346.1 373.2L349.0 372.7L351.9 371.9L354.8 371.3L357.7 370.9L360.6 370.4L363.5 369.9L366.4 369.5L369.3 369.4L372.2 369.4L375.1 369.8L378.0 370.5L380.9 371.0L383.8 371.3L386.7 372.3L389.6 373.9L392.5 375.4L395.4 376.8L398.3 378.4L401.2 379.7L404.1 381.1L407.0 382.5L409.9 384.5L412.8 386.5L415.7 388.2L418.6 389.9L421.5 391.7L424.4 393.9L427.3 395.9L430.2 397.5L433.1 399.2L436.0 400.9L438.9 402.6L441.8 404.8L444.7 407.0L447.6 408.6L450.5 410.0L453.4 411.7L456.3 413.2L459.2 414.9L462.1 416.9L465.0 419.2L467.9 421.6L470.8 423.9L473.7 426.5L476.6 429.2L479.5 431.4L482.4 434.0L485.3 436.9L488.2 439.7L491.1 442.9L494.0 446.2L496.9 450.0L499.8 453.8L502.7 457.7L505.6 461.0L508.5 464.3L511.4 467.2L514.3 470.3L517.2 473.5L520.1 477.0L523.0 480.2L525.9 483.3L528.8 486.4L531.7 489.4L534.6 492.2L537.5 495.2L540.4 498.4L543.3 501.7L546.2 505.0L549.1 507.9L552.0 510.9L554.9 513.5L557.8 515.8L560.7 517.8L563.6 519.8L566.5 521.8L569.4 523.6L572.3 525.2L575.2 527.1L578.1 528.9L581.0 530.5L583.9 532.2L586.8 533.5L589.7 534.5L592.6 535.1L595.5 535.7L598.4 535.9" stroke="#404588" stroke-width="1.35" fill="none" stroke-linejoin="round"/>
<path d="M73.5 534.5L76.4 535.3L79.3 536.2L82.2 537.0L85.1 537.6L88.0 537.8L90.9 537.7L93.8 537.3L96.7 536.5L99.6 535.5L102.5 534.5L105.4 533.3L108.3 531.8L111.2 530.6L114.1 529.4L117.0 528.3L119.9 527.4L122.8 526.4L125.7 525.3L128.6 524.1L131.5 523.1L134.4 522.2L137.3 521.2L140.2 520.3L143.1 519.2L146.0 518.1L148.9 516.8L151.8 515.2L154.7 513.6L157.6 512.1L160.5 509.9L163.4 507.6L166.3 505.4L169.2 503.4L172.1 501.3L175.0 498.9L177.9 496.7L180.8 494.2L183.7 491.4L186.6 488.7L189.5 485.8L192.4 482.9L195.3 480.5L198.2 478.0L201.1 475.1L204.0 472.0L206.9 468.6L209.8 465.7L212.7 463.1L215.6 460.2L218.5 457.5L221.4 454.7L224.3 452.1L227.2 449.8L230.1 447.2L233.0 444.7L235.9 442.1L238.8 439.1L241.7 436.0L244.6 433.1L247.5 430.5L250.4 428.3L253.3 426.4L256.2 424.6L259.1 422.8L262.0 421.2L264.9 419.3L267.8 417.4L270.7 415.7L273.6 413.7L276.5 411.0L279.4 408.3L282.3 405.9L285.2 403.8L288.1 401.4L291.0 399.2L293.9 397.3L296.8 395.3L299.7 393.6L302.6 392.2L305.5 390.6L308.4 389.2L311.3 387.9L314.2 386.8L317.1 385.7L320.0 384.3L322.9 382.8L325.8 381.3L328.7 379.8L331.6 378.5L334.5 377.1L337.4 375.9L340.3 375.0L343.2 374.3L346.1 374.0L349.0 373.6L351.9 372.8L354.8 372.1L357.7 371.4L360.6 370.8L363.5 370.4L366.4 370.1L369.3 370.2L372.2 370.2L375.1 370.6L378.0 371.1L380.9 371.4L383.8 371.6L386.7 372.4L389.6 373.7L392.5 375.5L395.4 377.4L398.3 378.9L401.2 380.3L404.1 381.9L407.0 383.4L409.9 385.2L412.8 387.0L415.7 388.6L418.6 390.0L421.5 391.7L424.4 393.3L427.3 395.1L430.2 396.8L433.1 398.7L436.0 400.5L438.9 402.2L441.8 404.1L444.7 405.9L447.6 407.7L450.5 409.8L453.4 411.8L456.3 413.6L459.2 415.6L462.1 417.8L465.0 419.9L467.9 421.7L470.8 423.6L473.7 425.6L476.6 428.0L479.5 430.6L482.4 433.4L485.3 436.0L488.2 439.0L491.1 442.5L494.0 445.8L496.9 449.7L499.8 453.5L502.7 457.4L505.6 460.9L508.5 464.2L511.4 467.1L514.3 470.6L517.2 473.8L520.1 476.9L523.0 480.0L525.9 483.0L528.8 486.1L531.7 489.3L534.6 492.3L537.5 495.4L540.4 498.2L543.3 501.1L546.2 504.2L549.1 507.3L552.0 510.2L554.9 512.8L557.8 515.6L560.7 518.1L563.6 519.9L566.5 521.3L569.4 522.9L572.3 524.8L575.2 526.5L578.1 528.1L581.0 529.6L583.9 531.0L586.8 532.0L589.7 532.5L592.6 533.0L595.5 533.6L598.4 533.7" stroke="#3e4c8a" stroke-width="1.35" fill="none" stroke-linejoin="round"/>
<path d="M73.5 532.5L76.4 533.5L79.3 534.6L82.2 535.4L85.1 536.1L88.0 536.6L90.9 536.7L93.8 536.4L96.7 535.7L99.6 534.9L102.5 534.1L105.4 532.9L108.3 531.5L111.2 530.3L114.1 529.1L117.0 527.8L119.9 526.6L122.8 525.8L125.7 524.8L128.6 523.8L131.5 522.8L134.4 521.9L137.3 520.9L140.2 519.8L143.1 518.6L146.0 517.3L148.9 515.8L151.8 514.4L154.7 513.0L157.6 511.2L160.5 508.9L163.4 506.9L166.3 505.0L169.2 502.8L172.1 500.6L175.0 498.0L177.9 495.3L180.8 493.1L183.7 490.9L186.6 488.5L189.5 486.1L192.4 483.5L195.3 480.8L198.2 478.1L201.1 475.3L204.0 472.0L206.9 468.5L209.8 465.5L212.7 463.0L215.6 460.4L218.5 457.9L221.4 455.3L224.3 452.6L227.2 450.0L230.1 447.0L233.0 444.5L235.9 441.5L238.8 438.1L241.7 435.0L244.6 432.2L247.5 429.8L250.4 427.7L253.3 425.7L256.2 423.7L259.1 421.9L262.0 420.3L264.9 418.7L267.8 416.9L270.7 414.9L273.6 412.7L276.5 410.4L279.4 407.8L282.3 405.1L285.2 402.8L288.1 400.9L291.0 399.3L293.9 397.3L296.8 395.4L299.7 393.6L302.6 392.0L305.5 390.3L308.4 388.9L311.3 387.7L314.2 387.0L317.1 386.2L320.0 385.1L322.9 383.6L325.8 382.2L328.7 380.8L331.6 379.3L334.5 377.9L337.4 376.8L340.3 376.1L343.2 375.5L346.1 374.9L349.0 374.3L351.9 373.7L354.8 373.2L357.7 372.4L360.6 371.7L363.5 371.1L366.4 370.9L369.3 371.0L372.2 371.2L375.1 371.3L378.0 371.5L380.9 371.9L383.8 372.0L386.7 372.8L389.6 374.1L392.5 375.7L395.4 377.3L398.3 378.6L401.2 380.0L404.1 381.8L407.0 383.5L409.9 385.2L412.8 386.5L415.7 388.2L418.6 390.1L421.5 391.8L424.4 393.6L427.3 395.3L430.2 396.7L433.1 398.2L436.0 400.0L438.9 401.8L441.8 403.5L444.7 405.0L447.6 406.9L450.5 409.0L453.4 410.6L456.3 412.2L459.2 414.0L462.1 416.1L465.0 418.4L467.9 421.1L470.8 423.5L473.7 425.9L476.6 428.6L479.5 431.1L482.4 433.6L485.3 436.0L488.2 438.6L491.1 441.9L494.0 445.4L496.9 448.9L499.8 452.8L502.7 457.3L505.6 461.2L508.5 464.5L511.4 467.2L514.3 470.1L517.2 473.1L520.1 476.0L523.0 478.8L525.9 482.0L528.8 485.3L531.7 488.5L534.6 491.7L537.5 494.9L540.4 497.9L543.3 501.2L546.2 504.1L549.1 507.1L552.0 510.1L554.9 512.7L557.8 515.3L560.7 517.6L563.6 519.4L566.5 521.3L569.4 522.9L572.3 524.4L575.2 525.8L578.1 527.4L581.0 528.8L583.9 530.0L586.8 530.8L589.7 531.4L592.6 531.9L595.5 532.4L598.4 532.3" stroke="#3b528b" stroke-width="1.35" fill="none" stroke-linejoin="round"/>
<path d="M73.5 531.5L76.4 532.4L79.3 533.5L82.2 534.0L85.1 534.4L88.0 534.9L90.9 535.1L93.8 535.0L96.7 534.5L99.6 533.8L102.5 533.3L105.4 532.3L108.3 531.1L111.2 530.4L114.1 529.4L117.0 528.0L119.9 526.8L122.8 525.8L125.7 524.4L128.6 523.1L131.5 521.7L134.4 520.7L137.3 519.9L140.2 519.1L143.1 518.4L146.0 517.3L148.9 515.8L151.8 514.5L154.7 513.1L157.6 511.4L160.5 509.1L163.4 506.5L166.3 504.5L169.2 502.1L172.1 499.8L175.0 497.4L177.9 495.0L180.8 492.7L183.7 490.1L186.6 487.5L189.5 485.0L192.4 482.5L195.3 480.2L198.2 478.0L201.1 475.5L204.0 472.5L206.9 469.0L209.8 465.9L212.7 463.1L215.6 460.6L218.5 457.8L221.4 454.8L224.3 452.1L227.2 449.8L230.1 447.1L233.0 444.3L235.9 441.0L238.8 437.8L241.7 434.6L244.6 431.6L247.5 428.8L250.4 426.2L253.3 423.6L256.2 421.4L259.1 420.0L262.0 418.9L264.9 417.5L267.8 416.0L270.7 414.2L273.6 412.3L276.5 410.0L279.4 407.2L282.3 404.6L285.2 402.3L288.1 400.0L291.0 398.1L293.9 396.3L296.8 394.7L299.7 393.2L302.6 391.8L305.5 390.5L308.4 389.3L311.3 388.3L314.2 387.3L317.1 385.9L320.0 384.8L322.9 383.6L325.8 382.3L328.7 380.9L331.6 379.6L334.5 378.5L337.4 377.6L340.3 376.4L343.2 375.3L346.1 374.4L349.0 374.0L351.9 373.5L354.8 372.9L357.7 372.2L360.6 371.8L363.5 371.4L366.4 371.2L369.3 371.3L372.2 371.5L375.1 371.5L378.0 371.3L380.9 371.9L383.8 372.1L386.7 372.7L389.6 373.9L392.5 375.0L395.4 375.9L398.3 377.0L401.2 378.8L404.1 380.8L407.0 383.0L409.9 385.2L412.8 386.8L415.7 388.4L418.6 389.6L421.5 391.0L424.4 392.5L427.3 394.0L430.2 395.8L433.1 397.6L436.0 399.4L438.9 400.9L441.8 402.5L444.7 404.1L447.6 405.8L450.5 407.3L453.4 409.1L456.3 411.1L459.2 413.3L462.1 415.6L465.0 418.1L467.9 420.4L470.8 423.0L473.7 425.6L476.6 428.0L479.5 430.3L482.4 432.9L485.3 435.7L488.2 438.8L491.1 442.1L494.0 445.6L496.9 449.5L499.8 453.4L502.7 457.4L505.6 460.6L508.5 463.5L511.4 466.2L514.3 469.0L517.2 471.8L520.1 475.2L523.0 478.8L525.9 482.1L528.8 485.5L531.7 488.7L534.6 491.8L537.5 494.9L540.4 497.8L543.3 500.8L546.2 503.8L549.1 507.0L552.0 510.0L554.9 512.7L557.8 514.8L560.7 516.8L563.6 518.6L566.5 520.3L569.4 522.1L572.3 523.9L575.2 525.3L578.1 526.7L581.0 528.0L583.9 529.4L586.8 530.4L589.7 531.5L592.6 532.4L595.5 533.4L598.4 533.8" stroke="#38588c" stroke-width="1.35" fill="none" stroke-linejoin="round"/>
<path d="M73.5 530.0L76.4 530.8L79.3 531.8L82.2 532.6L85.1 533.1L88.0 533.6L90.9 534.0L93.8 534.1L96.7 533.6L99.6 533.0L102.5 532.3L105.4 531.5L108.3 530.6L111.2 529.7L114.1 528.8L117.0 527.9L119.9 527.0L122.8 526.1L125.7 524.7L128.6 523.3L131.5 522.2L134.4 521.1L137.3 519.9L140.2 519.0L143.1 518.3L146.0 517.2L148.9 515.8L151.8 514.3L154.7 512.5L157.6 510.4L160.5 507.9L163.4 505.6L166.3 503.7L169.2 501.3L172.1 499.0L175.0 496.9L177.9 494.5L180.8 492.1L183.7 489.4L186.6 486.5L189.5 483.9L192.4 481.4L195.3 479.2L198.2 476.5L201.1 473.5L204.0 470.4L206.9 467.6L209.8 465.4L212.7 463.2L215.6 460.8L218.5 458.6L221.4 456.1L224.3 452.9L227.2 450.0L230.1 447.0L233.0 443.9L235.9 440.6L238.8 437.1L241.7 433.7L244.6 430.7L247.5 427.6L250.4 425.0L253.3 422.7L256.2 420.9L259.1 419.2L262.0 417.4L264.9 416.1L267.8 414.8L270.7 412.9L273.6 411.0L276.5 409.1L279.4 407.0L282.3 404.4L285.2 401.8L288.1 399.5L291.0 397.7L293.9 396.0L296.8 394.2L299.7 392.5L302.6 391.0L305.5 389.6L308.4 388.3L311.3 387.3L314.2 386.4L317.1 385.1L320.0 383.7L322.9 382.5L325.8 381.2L328.7 379.9L331.6 378.7L334.5 377.6L337.4 376.9L340.3 376.1L343.2 375.3L346.1 374.8L349.0 374.3L351.9 373.8L354.8 373.2L357.7 372.4L360.6 371.6L363.5 370.6L366.4 370.1L369.3 370.1L372.2 370.3L375.1 370.5L378.0 370.3L380.9 370.4L383.8 370.6L386.7 371.2L389.6 372.4L392.5 373.7L395.4 375.0L398.3 376.5L401.2 378.1L404.1 379.8L407.0 381.7L409.9 383.7L412.8 385.8L415.7 387.5L418.6 388.8L421.5 390.3L424.4 391.8L427.3 393.2L430.2 394.8L433.1 396.7L436.0 398.7L438.9 400.4L441.8 402.3L444.7 403.7L447.6 405.0L450.5 406.8L453.4 408.9L456.3 411.0L459.2 413.0L462.1 415.3L465.0 418.0L467.9 420.3L470.8 422.6L473.7 425.0L476.6 427.6L479.5 430.2L482.4 433.0L485.3 436.0L488.2 438.8L491.1 441.8L494.0 444.8L496.9 448.2L499.8 452.2L502.7 456.2L505.6 459.8L508.5 463.2L511.4 466.3L514.3 469.4L517.2 472.5L520.1 475.7L523.0 478.6L525.9 481.6L528.8 485.0L531.7 488.3L534.6 491.7L537.5 495.0L540.4 498.0L543.3 501.4L546.2 504.5L549.1 507.6L552.0 510.4L554.9 513.1L557.8 515.4L560.7 517.1L563.6 518.6L566.5 520.1L569.4 521.7L572.3 523.6L575.2 525.2L578.1 526.7L581.0 528.1L583.9 529.5L586.8 531.0L589.7 532.3L592.6 533.3L595.5 534.5L598.4 535.5" stroke="#355e8d" stroke-width="1.35" fill="none" stroke-linejoin="round"/>
<path d="M73.5 529.1L76.4 529.8L79.3 530.9L82.2 532.0L85.1 532.9L88.0 533.4L90.9 533.8L93.8 534.0L96.7 533.8L99.6 533.2L102.5 532.3L105.4 531.4L108.3 530.4L111.2 529.5L114.1 528.7L117.0 527.6L119.9 526.7L122.8 525.6L125.7 524.2L128.6 523.0L131.5 522.1L134.4 521.0L137.3 519.9L140.2 518.6L143.1 517.4L146.0 516.1L148.9 514.7L151.8 513.1L154.7 511.2L157.6 509.2L160.5 507.3L163.4 505.1L166.3 502.8L169.2 500.5L172.1 498.1L175.0 495.9L177.9 493.7L180.8 491.0L183.7 488.0L186.6 485.4L189.5 483.0L192.4 480.6L195.3 478.0L198.2 475.7L201.1 473.1L204.0 469.8L206.9 466.6L209.8 464.0L212.7 461.7L215.6 459.2L218.5 457.0L221.4 454.9L224.3 452.4L227.2 449.8L230.1 446.9L233.0 443.5L235.9 440.0L238.8 436.7L241.7 433.4L244.6 430.3L247.5 427.6L250.4 425.1L253.3 422.7L256.2 420.8L259.1 419.6L262.0 418.1L264.9 416.6L267.8 415.0L270.7 413.0L273.6 411.0L276.5 408.8L279.4 406.3L282.3 403.6L285.2 401.1L288.1 398.8L291.0 396.7L293.9 395.0L296.8 393.5L299.7 391.8L302.6 389.8L305.5 388.2L308.4 386.9L311.3 385.9L314.2 384.8L317.1 383.6L320.0 382.3L322.9 381.2L325.8 380.4L328.7 379.4L331.6 378.3L334.5 377.3L337.4 376.5L340.3 375.8L343.2 375.1L346.1 374.4L349.0 374.1L351.9 373.9L354.8 373.4L357.7 372.4L360.6 371.3L363.5 370.6L366.4 370.5L369.3 370.2L372.2 369.7L375.1 369.5L378.0 369.3L380.9 369.1L383.8 368.9L386.7 369.4L389.6 370.8L392.5 372.3L395.4 373.4L398.3 374.7L401.2 376.7L404.1 378.7L407.0 380.5L409.9 382.4L412.8 384.2L415.7 386.0L418.6 387.9L421.5 389.8L424.4 391.8L427.3 393.7L430.2 395.4L433.1 397.0L436.0 398.9L438.9 400.8L441.8 402.4L444.7 403.7L447.6 405.1L450.5 406.9L453.4 408.9L456.3 410.9L459.2 412.9L462.1 415.4L465.0 418.0L467.9 420.2L470.8 422.7L473.7 425.1L476.6 427.6L479.5 430.0L482.4 432.5L485.3 435.2L488.2 438.3L491.1 441.4L494.0 444.4L496.9 447.9L499.8 451.7L502.7 455.9L505.6 459.4L508.5 462.9L511.4 465.8L514.3 468.9L517.2 472.2L520.1 475.5L523.0 478.7L525.9 481.9L528.8 485.2L531.7 488.7L534.6 492.1L537.5 495.2L540.4 498.4L543.3 501.6L546.2 504.6L549.1 507.7L552.0 510.4L554.9 512.7L557.8 514.8L560.7 516.6L563.6 518.6L566.5 520.5L569.4 522.3L572.3 524.2L575.2 525.5L578.1 527.0L581.0 528.6L583.9 530.3L586.8 532.1L589.7 533.4L592.6 534.5L595.5 535.8L598.4 536.8" stroke="#32648e" stroke-width="1.35" fill="none" stroke-linejoin="round"/>
<path d="M73.5 530.1L76.4 530.8L79.3 531.6L82.2 532.5L85.1 533.0L88.0 533.3L90.9 533.7L93.8 534.0L96.7 533.9L99.6 533.1L102.5 532.4L105.4 531.7L108.3 530.6L111.2 529.4L114.1 528.3L117.0 527.2L119.9 526.1L122.8 525.2L125.7 524.1L128.6 522.8L131.5 521.5L134.4 520.3L137.3 519.3L140.2 518.2L143.1 516.8L146.0 515.4L148.9 513.7L151.8 511.9L154.7 509.9L157.6 507.9L160.5 505.9L163.4 503.7L166.3 501.5L169.2 499.6L172.1 497.9L175.0 495.9L177.9 493.6L180.8 491.3L183.7 489.0L186.6 486.7L189.5 483.9L192.4 481.1L195.3 478.4L198.2 475.5L201.1 472.3L204.0 468.7L206.9 465.2L209.8 462.3L212.7 460.1L215.6 457.9L218.5 455.7L221.4 453.4L224.3 451.2L227.2 449.0L230.1 446.3L233.0 443.1L235.9 439.9L238.8 436.9L241.7 433.9L244.6 431.0L247.5 428.2L250.4 426.1L253.3 424.1L256.2 422.0L259.1 420.0L262.0 418.3L264.9 416.8L267.8 414.6L270.7 412.4L273.6 410.2L276.5 408.0L279.4 405.9L282.3 403.6L285.2 401.4L288.1 399.2L291.0 397.0L293.9 394.7L296.8 392.7L299.7 390.9L302.6 389.0L305.5 387.5L308.4 385.8L311.3 384.2L314.2 383.1L317.1 382.2L320.0 381.3L322.9 380.7L325.8 380.0L328.7 379.0L331.6 378.0L334.5 377.1L337.4 376.3L340.3 375.6L343.2 374.9L346.1 374.5L349.0 374.1L351.9 373.7L354.8 373.3L357.7 372.7L360.6 372.0L363.5 371.4L366.4 370.7L369.3 369.9L372.2 369.4L375.1 369.0L378.0 368.8L380.9 368.6L383.8 368.5L386.7 368.9L389.6 369.9L392.5 370.9L395.4 372.0L398.3 373.4L401.2 374.9L404.1 377.1L407.0 379.3L409.9 381.6L412.8 383.8L415.7 385.7L418.6 387.5L421.5 389.4L424.4 391.2L427.3 393.1L430.2 394.9L433.1 396.7L436.0 398.5L438.9 400.6L441.8 402.8L444.7 404.9L447.6 406.6L450.5 408.4L453.4 410.1L456.3 412.0L459.2 413.9L462.1 415.7L465.0 417.9L467.9 420.2L470.8 422.7L473.7 425.2L476.6 427.7L479.5 430.0L482.4 432.4L485.3 435.0L488.2 437.9L491.1 440.9L494.0 443.8L496.9 447.2L499.8 451.2L502.7 455.7L505.6 459.5L508.5 462.9L511.4 466.1L514.3 469.2L517.2 472.2L520.1 475.5L523.0 478.7L525.9 481.9L528.8 485.2L531.7 488.2L534.6 491.2L537.5 494.1L540.4 497.3L543.3 500.9L546.2 504.1L549.1 507.0L552.0 510.1L554.9 513.0L557.8 515.1L560.7 516.8L563.6 518.6L566.5 520.5L569.4 522.4L572.3 523.8L575.2 525.2L578.1 526.8L581.0 528.5L583.9 530.3L586.8 531.9L589.7 532.9L592.6 533.8L595.5 534.8L598.4 535.8" stroke="#306a8e" stroke-width="1.35" fill="none" stroke-linejoin="round"/>
<path d="M73.5 531.2L76.4 531.7L79.3 532.4L82.2 532.8L85.1 533.2L88.0 533.5L90.9 533.6L93.8 533.6L96.7 533.5L99.6 533.0L102.5 532.3L105.4 531.7L108.3 531.1L111.2 530.2L114.1 529.1L117.0 528.2L119.9 527.2L122.8 526.2L125.7 524.9L128.6 523.6L131.5 522.4L134.4 520.9L137.3 519.5L140.2 517.9L143.1 516.2L146.0 514.8L148.9 513.2L151.8 511.5L154.7 509.6L157.6 507.6L160.5 505.5L163.4 503.4L166.3 501.5L169.2 499.5L172.1 497.6L175.0 495.6L177.9 493.2L180.8 491.0L183.7 488.3L186.6 485.7L189.5 483.2L192.4 480.7L195.3 478.5L198.2 475.7L201.1 472.2L204.0 468.7L206.9 465.6L209.8 462.5L212.7 459.6L215.6 457.1L218.5 454.7L221.4 452.1L224.3 449.5L227.2 447.2L230.1 445.0L233.0 442.7L235.9 440.1L238.8 437.4L241.7 434.8L244.6 432.1L247.5 429.3L250.4 426.6L253.3 424.4L256.2 422.4L259.1 420.5L262.0 418.6L264.9 416.7L267.8 414.7L270.7 412.6L273.6 410.1L276.5 407.9L279.4 405.7L282.3 403.4L285.2 401.3L288.1 399.2L291.0 397.3L293.9 395.1L296.8 393.0L299.7 391.3L302.6 389.6L305.5 388.0L308.4 386.4L311.3 385.1L314.2 383.8L317.1 382.5L320.0 381.3L322.9 379.9L325.8 378.8L328.7 377.7L331.6 376.7L334.5 376.0L337.4 375.3L340.3 374.8L343.2 374.3L346.1 373.8L349.0 373.4L351.9 373.0L354.8 372.8L357.7 372.7L360.6 372.1L363.5 371.6L366.4 371.1L369.3 370.7L372.2 369.7L375.1 368.8L378.0 368.3L380.9 368.0L383.8 367.7L386.7 367.9L389.6 368.6L392.5 370.0L395.4 371.4L398.3 372.8L401.2 374.5L404.1 376.4L407.0 378.5L409.9 381.0L412.8 383.1L415.7 385.0L418.6 386.8L421.5 388.8L424.4 391.1L427.3 393.4L430.2 395.5L433.1 397.4L436.0 399.3L438.9 401.4L441.8 403.4L444.7 405.1L447.6 406.3L450.5 407.6L453.4 409.5L456.3 411.3L459.2 413.2L462.1 415.6L465.0 418.3L467.9 420.9L470.8 423.4L473.7 425.7L476.6 428.1L479.5 430.3L482.4 432.8L485.3 435.5L488.2 438.1L491.1 440.6L494.0 443.6L496.9 447.3L499.8 451.2L502.7 455.4L505.6 458.9L508.5 462.3L511.4 465.2L514.3 468.2L517.2 471.5L520.1 474.8L523.0 478.0L525.9 481.3L528.8 484.2L531.7 487.2L534.6 490.4L537.5 493.6L540.4 497.0L543.3 500.2L546.2 503.1L549.1 506.1L552.0 508.9L554.9 511.7L557.8 514.4L560.7 516.4L563.6 518.1L566.5 520.1L569.4 522.1L572.3 523.9L575.2 525.2L578.1 526.3L581.0 527.6L583.9 528.7L586.8 529.8L589.7 530.9L592.6 531.6L595.5 532.2L598.4 532.6" stroke="#2d708e" stroke-width="1.35" fill="none" stroke-linejoin="round"/>
<path d="M73.5 530.6L76.4 531.0L79.3 531.7L82.2 532.3L85.1 532.9L88.0 533.3L90.9 533.7L93.8 533.7L96.7 533.2L99.6 532.8L102.5 532.4L105.4 531.6L108.3 530.8L111.2 530.2L114.1 529.3L117.0 528.1L119.9 527.0L122.8 526.1L125.7 525.3L128.6 524.1L131.5 522.8L134.4 521.3L137.3 519.9L140.2 518.5L143.1 516.8L146.0 515.5L148.9 514.1L151.8 512.4L154.7 510.4L157.6 508.4L160.5 506.3L163.4 504.2L166.3 502.2L169.2 499.9L172.1 497.5L175.0 494.9L177.9 492.2L180.8 489.5L183.7 487.1L186.6 484.9L189.5 482.7L192.4 480.2L195.3 477.7L198.2 474.9L201.1 472.0L204.0 468.5L206.9 465.1L209.8 462.1L212.7 459.3L215.6 456.7L218.5 454.1L221.4 451.5L224.3 449.1L227.2 446.6L230.1 444.1L233.0 441.4L235.9 438.8L238.8 436.5L241.7 434.0L244.6 431.3L247.5 428.7L250.4 426.4L253.3 424.5L256.2 422.7L259.1 420.7L262.0 419.0L264.9 417.3L267.8 415.5L270.7 413.3L273.6 410.8L276.5 408.2L279.4 405.6L282.3 402.9L285.2 400.5L288.1 398.2L291.0 396.3L293.9 394.6L296.8 392.9L299.7 391.3L302.6 389.7L305.5 388.3L308.4 386.9L311.3 385.6L314.2 384.2L317.1 382.7L320.0 381.4L322.9 379.9L325.8 378.3L328.7 376.9L331.6 375.7L334.5 374.7L337.4 373.9L340.3 373.6L343.2 373.4L346.1 373.0L349.0 372.9L351.9 372.3L354.8 371.6L357.7 371.1L360.6 370.5L363.5 370.1L366.4 369.5L369.3 368.8L372.2 368.2L375.1 368.0L378.0 367.4L380.9 367.1L383.8 366.9L386.7 367.3L389.6 368.3L392.5 369.6L395.4 370.8L398.3 372.4L401.2 374.0L404.1 375.9L407.0 378.1L409.9 380.4L412.8 382.4L415.7 384.5L418.6 386.3L421.5 388.3L424.4 390.6L427.3 392.8L430.2 394.8L433.1 397.0L436.0 398.9L438.9 400.7L441.8 402.7L444.7 404.6L447.6 406.2L450.5 407.7L453.4 409.1L456.3 410.8L459.2 413.1L462.1 415.6L465.0 418.0L467.9 420.6L470.8 423.2L473.7 425.6L476.6 428.2L479.5 430.5L482.4 433.0L485.3 435.6L488.2 438.1L491.1 440.8L494.0 443.8L496.9 447.5L499.8 451.4L502.7 455.3L505.6 458.7L508.5 462.0L511.4 464.7L514.3 467.5L517.2 470.7L520.1 474.1L523.0 477.4L525.9 480.7L528.8 483.7L531.7 486.9L534.6 490.5L537.5 493.8L540.4 496.8L543.3 499.9L546.2 502.9L549.1 505.8L552.0 508.5L554.9 511.1L557.8 513.4L560.7 515.5L563.6 517.7L566.5 519.8L569.4 521.5L572.3 523.2L575.2 524.5L578.1 525.5L581.0 526.5L583.9 527.4L586.8 528.4L589.7 528.9L592.6 529.1L595.5 529.5L598.4 529.8" stroke="#2b748e" stroke-width="1.35" fill="none" stroke-linejoin="round"/>
<path d="M73.5 529.5L76.4 530.1L79.3 531.0L82.2 531.6L85.1 532.1L88.0 532.7L90.9 533.1L93.8 533.1L96.7 532.9L99.6 532.3L102.5 531.5L105.4 530.9L108.3 530.4L111.2 529.7L114.1 528.8L117.0 527.9L119.9 527.0L122.8 526.2L125.7 525.3L128.6 524.2L131.5 522.7L134.4 521.1L137.3 519.5L140.2 518.2L143.1 517.2L146.0 516.0L148.9 514.7L151.8 513.3L154.7 511.4L157.6 509.4L160.5 507.1L163.4 504.5L166.3 502.1L169.2 499.6L172.1 496.8L175.0 493.9L177.9 491.6L180.8 489.5L183.7 487.0L186.6 484.5L189.5 482.1L192.4 479.7L195.3 477.4L198.2 474.9L201.1 471.9L204.0 468.3L206.9 464.7L209.8 461.4L212.7 458.5L215.6 455.9L218.5 453.3L221.4 450.4L224.3 448.0L227.2 445.7L230.1 443.2L233.0 440.4L235.9 437.8L238.8 435.3L241.7 432.6L244.6 430.0L247.5 427.7L250.4 425.6L253.3 423.5L256.2 421.5L259.1 419.4L262.0 417.3L264.9 415.6L267.8 413.7L270.7 411.6L273.6 409.6L276.5 407.2L279.4 404.8L282.3 402.5L285.2 400.5L288.1 398.5L291.0 396.4L293.9 394.2L296.8 392.2L299.7 390.5L302.6 389.1L305.5 387.9L308.4 386.4L311.3 385.0L314.2 383.6L317.1 382.1L320.0 380.8L322.9 379.4L325.8 378.2L328.7 377.3L331.6 376.3L334.5 375.3L337.4 374.3L340.3 373.5L343.2 372.9L346.1 372.2L349.0 371.7L351.9 371.2L354.8 370.5L357.7 370.0L360.6 369.3L363.5 368.7L366.4 368.3L369.3 367.8L372.2 367.2L375.1 366.7L378.0 366.5L380.9 366.3L383.8 366.2L386.7 366.8L389.6 367.9L392.5 368.8L395.4 369.8L398.3 371.4L401.2 373.2L404.1 375.5L407.0 377.9L409.9 379.9L412.8 381.7L415.7 383.5L418.6 385.2L421.5 387.1L424.4 389.4L427.3 392.0L430.2 394.3L433.1 396.3L436.0 398.2L438.9 400.2L441.8 402.3L444.7 404.0L447.6 405.2L450.5 406.7L453.4 408.5L456.3 410.6L459.2 413.0L462.1 415.6L465.0 418.3L467.9 421.0L470.8 423.3L473.7 425.7L476.6 428.2L479.5 430.6L482.4 432.9L485.3 435.5L488.2 438.3L491.1 441.0L494.0 444.1L496.9 447.7L499.8 451.4L502.7 455.0L505.6 458.0L508.5 461.0L511.4 464.1L514.3 467.3L517.2 470.7L520.1 474.3L523.0 477.6L525.9 480.6L528.8 483.9L531.7 487.1L534.6 490.3L537.5 493.6L540.4 496.9L543.3 500.0L546.2 502.9L549.1 506.0L552.0 508.8L554.9 511.4L557.8 513.8L560.7 515.5L563.6 517.1L566.5 518.9L569.4 520.5L572.3 521.9L575.2 523.3L578.1 524.6L581.0 526.1L583.9 527.1L586.8 527.8L589.7 528.4L592.6 529.0L595.5 529.4L598.4 529.6" stroke="#297a8e" stroke-width="1.35" fill="none" stroke-linejoin="round"/>
<path d="M73.5 528.4L76.4 529.2L79.3 530.1L82.2 531.0L85.1 532.0L88.0 532.8L90.9 533.0L93.8 532.9L96.7 532.5L99.6 532.2L102.5 531.3L105.4 530.6L108.3 530.1L111.2 529.4L114.1 528.5L117.0 527.7L119.9 526.8L122.8 525.7L125.7 524.5L128.6 523.4L131.5 521.9L134.4 520.7L137.3 519.5L140.2 518.3L143.1 517.2L146.0 515.8L148.9 514.7L151.8 513.5L154.7 511.8L157.6 509.9L160.5 507.8L163.4 505.4L166.3 502.7L169.2 499.9L172.1 497.2L175.0 494.6L177.9 492.1L180.8 489.5L183.7 486.9L186.6 484.4L189.5 481.9L192.4 479.5L195.3 476.9L198.2 474.4L201.1 471.7L204.0 468.1L206.9 464.6L209.8 461.6L212.7 458.8L215.6 456.2L218.5 453.7L221.4 450.9L224.3 448.2L227.2 445.5L230.1 442.8L233.0 439.9L235.9 437.2L238.8 434.5L241.7 431.5L244.6 428.7L247.5 426.3L250.4 424.1L253.3 421.9L256.2 419.8L259.1 417.9L262.0 416.2L264.9 414.5L267.8 412.7L270.7 410.8L273.6 409.1L276.5 406.9L279.4 404.5L282.3 401.9L285.2 399.6L288.1 397.5L291.0 395.4L293.9 393.5L296.8 391.5L299.7 389.6L302.6 388.2L305.5 386.9L308.4 385.5L311.3 384.2L314.2 382.9L317.1 381.6L320.0 380.3L322.9 379.0L325.8 377.8L328.7 376.8L331.6 375.6L334.5 374.6L337.4 373.7L340.3 373.1L343.2 372.6L346.1 371.8L349.0 371.2L351.9 370.4L354.8 369.5L357.7 368.8L360.6 368.2L363.5 367.7L366.4 367.4L369.3 367.4L372.2 367.1L375.1 366.9L378.0 366.8L380.9 366.9L383.8 367.0L386.7 367.1L389.6 367.4L392.5 368.4L395.4 369.7L398.3 371.1L401.2 372.5L404.1 374.5L407.0 376.5L409.9 378.6L412.8 380.4L415.7 382.3L418.6 384.3L421.5 386.3L424.4 388.5L427.3 390.9L430.2 392.9L433.1 394.8L436.0 396.9L438.9 399.5L441.8 401.9L444.7 404.0L447.6 405.6L450.5 407.0L453.4 408.4L456.3 410.1L459.2 412.2L462.1 414.7L465.0 417.5L467.9 420.0L470.8 422.6L473.7 425.2L476.6 427.9L479.5 430.4L482.4 433.1L485.3 435.7L488.2 438.4L491.1 441.0L494.0 443.8L496.9 447.3L499.8 451.0L502.7 454.8L505.6 458.3L508.5 461.3L511.4 464.3L514.3 467.4L517.2 470.7L520.1 474.2L523.0 477.8L525.9 481.3L528.8 484.6L531.7 487.7L534.6 491.2L537.5 494.2L540.4 497.2L543.3 500.0L546.2 502.8L549.1 505.6L552.0 508.5L554.9 511.2L557.8 513.2L560.7 515.0L563.6 516.9L566.5 518.7L569.4 520.3L572.3 521.7L575.2 523.2L578.1 524.8L581.0 526.2L583.9 527.4L586.8 528.1L589.7 528.3L592.6 528.8L595.5 529.2L598.4 529.5" stroke="#27808e" stroke-width="1.35" fill="none" stroke-linejoin="round"/>
<path d="M73.5 528.1L76.4 529.0L79.3 530.0L82.2 530.8L85.1 531.2L88.0 531.4L90.9 531.7L93.8 531.7L96.7 531.8L99.6 531.7L102.5 531.2L105.4 530.7L108.3 530.0L111.2 529.3L114.1 528.5L117.0 527.5L119.9 526.5L122.8 525.4L125.7 524.2L128.6 523.1L131.5 521.8L134.4 520.7L137.3 519.6L140.2 518.3L143.1 517.1L146.0 516.0L148.9 514.8L151.8 513.1L154.7 511.2L157.6 509.1L160.5 506.6L163.4 504.5L166.3 502.2L169.2 499.8L172.1 497.4L175.0 495.0L177.9 492.4L180.8 489.8L183.7 487.0L186.6 484.2L189.5 481.4L192.4 478.9L195.3 476.9L198.2 474.8L201.1 472.2L204.0 468.8L206.9 465.6L209.8 462.6L212.7 460.1L215.6 457.4L218.5 454.5L221.4 451.6L224.3 448.7L227.2 445.9L230.1 443.4L233.0 440.5L235.9 437.3L238.8 434.2L241.7 431.3L244.6 428.6L247.5 425.8L250.4 423.5L253.3 421.2L256.2 419.0L259.1 417.1L262.0 415.3L264.9 413.7L267.8 411.9L270.7 409.8L273.6 407.6L276.5 405.4L279.4 403.0L282.3 400.5L285.2 398.5L288.1 396.7L291.0 395.0L293.9 393.0L296.8 391.1L299.7 389.5L302.6 387.9L305.5 386.4L308.4 385.0L311.3 383.7L314.2 382.7L317.1 381.6L320.0 380.3L322.9 379.1L325.8 377.7L328.7 376.4L331.6 375.4L334.5 374.3L337.4 373.4L340.3 372.7L343.2 372.0L346.1 371.2L349.0 370.4L351.9 369.6L354.8 368.9L357.7 368.1L360.6 367.5L363.5 367.1L366.4 367.0L369.3 366.6L372.2 366.1L375.1 365.8L378.0 365.9L380.9 366.3L383.8 366.6L386.7 367.1L389.6 367.9L392.5 368.6L395.4 369.5L398.3 370.6L401.2 371.7L404.1 373.5L407.0 375.4L409.9 377.5L412.8 379.5L415.7 381.2L418.6 382.6L421.5 384.7L424.4 386.9L427.3 389.4L430.2 391.9L433.1 394.1L436.0 396.6L438.9 398.9L441.8 400.8L444.7 402.8L447.6 404.4L450.5 406.3L453.4 408.1L456.3 409.9L459.2 412.3L462.1 414.7L465.0 417.3L467.9 420.1L470.8 422.8L473.7 425.4L476.6 428.2L479.5 431.1L482.4 433.8L485.3 435.9L488.2 438.0L491.1 440.4L494.0 443.1L496.9 446.4L499.8 450.2L502.7 454.0L505.6 457.3L508.5 460.5L511.4 464.0L514.3 467.6L517.2 470.8L520.1 474.4L523.0 478.1L525.9 481.4L528.8 484.7L531.7 487.9L534.6 491.3L537.5 494.4L540.4 497.2L543.3 499.8L546.2 502.6L549.1 505.6L552.0 508.6L554.9 511.3L557.8 513.3L560.7 515.1L563.6 516.7L566.5 518.3L569.4 520.2L572.3 521.5L575.2 522.7L578.1 524.1L581.0 525.2L583.9 526.2L586.8 527.0L589.7 527.9L592.6 528.5L595.5 528.7L598.4 528.7" stroke="#25858e" stroke-width="1.35" fill="none" stroke-linejoin="round"/>
<path d="M73.5 527.9L76.4 528.9L79.3 530.3L82.2 531.4L85.1 532.0L88.0 532.4L90.9 533.0L93.8 533.3L96.7 532.9L99.6 532.5L102.5 531.7L105.4 530.5L108.3 529.5L111.2 528.5L114.1 527.4L117.0 526.4L119.9 525.7L122.8 525.0L125.7 524.0L128.6 522.8L131.5 521.5L134.4 520.2L137.3 518.9L140.2 517.5L143.1 516.4L146.0 515.0L148.9 513.6L151.8 511.9L154.7 510.0L157.6 507.8L160.5 505.4L163.4 503.1L166.3 500.8L169.2 498.1L172.1 495.4L175.0 492.9L177.9 490.7L180.8 488.3L183.7 485.8L186.6 483.3L189.5 481.2L192.4 479.2L195.3 476.9L198.2 474.2L201.1 471.2L204.0 467.6L206.9 464.3L209.8 461.6L212.7 459.3L215.6 457.1L218.5 454.6L221.4 451.9L224.3 449.0L227.2 446.2L230.1 443.5L233.0 440.7L235.9 437.7L238.8 434.4L241.7 431.4L244.6 428.9L247.5 426.2L250.4 423.5L253.3 420.9L256.2 418.5L259.1 416.7L262.0 414.9L264.9 413.2L267.8 411.6L270.7 409.4L273.6 407.4L276.5 405.3L279.4 403.0L282.3 400.9L285.2 399.1L288.1 397.3L291.0 395.3L293.9 393.2L296.8 391.0L299.7 388.8L302.6 386.8L305.5 385.3L308.4 384.1L311.3 382.9L314.2 381.8L317.1 380.9L320.0 379.9L322.9 379.1L325.8 378.4L328.7 377.6L331.6 376.8L334.5 375.6L337.4 374.3L340.3 373.0L343.2 371.7L346.1 370.8L349.0 369.9L351.9 368.8L354.8 368.0L357.7 367.2L360.6 366.5L363.5 366.0L366.4 365.8L369.3 365.5L372.2 365.4L375.1 365.5L378.0 365.4L380.9 365.5L383.8 365.7L386.7 366.1L389.6 366.7L392.5 367.5L395.4 368.6L398.3 369.9L401.2 371.5L404.1 373.3L407.0 375.2L409.9 377.3L412.8 379.1L415.7 380.6L418.6 382.0L421.5 384.0L424.4 386.3L427.3 388.6L430.2 390.9L433.1 393.1L436.0 395.4L438.9 397.6L441.8 399.7L444.7 402.0L447.6 403.9L450.5 405.7L453.4 407.7L456.3 409.9L459.2 412.1L462.1 414.4L465.0 417.1L467.9 419.6L470.8 422.2L473.7 424.9L476.6 427.6L479.5 430.2L482.4 432.7L485.3 435.1L488.2 438.0L491.1 441.0L494.0 443.9L496.9 447.3L499.8 450.9L502.7 454.5L505.6 457.8L508.5 460.9L511.4 463.8L514.3 466.9L517.2 470.2L520.1 473.8L523.0 477.4L525.9 481.0L528.8 484.3L531.7 487.5L534.6 490.9L537.5 494.0L540.4 496.9L543.3 499.7L546.2 502.4L549.1 505.5L552.0 508.6L554.9 511.1L557.8 513.1L560.7 515.1L563.6 516.8L566.5 518.3L569.4 519.8L572.3 521.4L575.2 522.8L578.1 523.7L581.0 524.1L583.9 524.7L586.8 525.2L589.7 525.7L592.6 526.3L595.5 527.1L598.4 527.5" stroke="#228b8d" stroke-width="1.35" fill="none" stroke-linejoin="round"/>
<path d="M73.5 529.1L76.4 529.8L79.3 530.8L82.2 531.6L85.1 532.4L88.0 532.9L90.9 533.2L93.8 533.3L96.7 533.3L99.6 532.8L102.5 531.8L105.4 530.7L108.3 530.0L111.2 529.2L114.1 528.5L117.0 527.5L119.9 526.3L122.8 525.0L125.7 523.6L128.6 522.1L131.5 520.3L134.4 518.8L137.3 517.7L140.2 516.6L143.1 515.3L146.0 513.6L148.9 511.9L151.8 510.0L154.7 507.9L157.6 505.6L160.5 502.9L163.4 500.3L166.3 498.3L169.2 495.8L172.1 493.3L175.0 491.1L177.9 489.1L180.8 486.9L183.7 484.3L186.6 481.7L189.5 479.4L192.4 477.2L195.3 475.0L198.2 472.8L201.1 470.0L204.0 466.9L206.9 464.1L209.8 461.1L212.7 458.5L215.6 456.3L218.5 453.8L221.4 451.3L224.3 448.7L227.2 446.1L230.1 443.5L233.0 440.7L235.9 437.8L238.8 434.8L241.7 431.6L244.6 428.8L247.5 426.2L250.4 423.7L253.3 421.5L256.2 419.3L259.1 417.5L262.0 415.8L264.9 414.0L267.8 412.1L270.7 410.0L273.6 407.8L276.5 405.5L279.4 402.9L282.3 400.2L285.2 398.0L288.1 396.0L291.0 393.9L293.9 392.0L296.8 390.4L299.7 388.7L302.6 386.9L305.5 385.4L308.4 383.9L311.3 382.4L314.2 381.2L317.1 380.2L320.0 379.0L322.9 378.1L325.8 377.5L328.7 376.8L331.6 375.8L334.5 374.6L337.4 373.2L340.3 372.4L343.2 371.7L346.1 370.7L349.0 369.9L351.9 369.3L354.8 368.8L357.7 368.0L360.6 367.2L363.5 366.9L366.4 367.0L369.3 366.8L372.2 366.4L375.1 366.1L378.0 365.8L380.9 365.7L383.8 366.2L386.7 366.8L389.6 367.3L392.5 367.9L395.4 368.7L398.3 369.7L401.2 371.3L404.1 373.2L407.0 374.7L409.9 376.6L412.8 378.7L415.7 380.5L418.6 382.2L421.5 384.1L424.4 386.6L427.3 389.2L430.2 391.3L433.1 393.1L436.0 395.3L438.9 397.7L441.8 399.8L444.7 401.8L447.6 403.7L450.5 405.6L453.4 407.5L456.3 409.5L459.2 411.7L462.1 414.2L465.0 417.1L467.9 420.0L470.8 422.7L473.7 425.1L476.6 427.5L479.5 429.9L482.4 432.3L485.3 434.7L488.2 437.1L491.1 439.6L494.0 442.6L496.9 446.2L499.8 450.0L502.7 454.1L505.6 457.7L508.5 460.9L511.4 464.1L514.3 467.4L517.2 470.8L520.1 474.3L523.0 477.6L525.9 480.9L528.8 484.3L531.7 487.8L534.6 491.1L537.5 494.3L540.4 497.5L543.3 500.2L546.2 503.0L549.1 505.5L552.0 508.0L554.9 510.8L557.8 513.2L560.7 515.5L563.6 517.3L566.5 518.8L569.4 520.2L572.3 521.6L575.2 522.6L578.1 523.4L581.0 524.0L583.9 524.7L586.8 525.2L589.7 525.5L592.6 525.7L595.5 525.7L598.4 525.5" stroke="#21918c" stroke-width="1.35" fill="none" stroke-linejoin="round"/>
<path d="M73.5 529.2L76.4 530.0L79.3 531.2L82.2 532.0L85.1 532.4L88.0 532.5L90.9 532.6L93.8 532.5L96.7 532.3L99.6 531.9L102.5 531.5L105.4 530.9L108.3 530.3L111.2 529.5L114.1 528.4L117.0 527.3L119.9 526.0L122.8 524.8L125.7 523.7L128.6 522.4L131.5 520.8L134.4 518.8L137.3 517.3L140.2 515.9L143.1 514.3L146.0 512.6L148.9 510.8L151.8 508.8L154.7 506.6L157.6 504.2L160.5 501.9L163.4 499.6L166.3 497.4L169.2 495.1L172.1 492.9L175.0 490.8L177.9 488.7L180.8 486.2L183.7 483.6L186.6 480.9L189.5 478.6L192.4 476.6L195.3 474.5L198.2 472.2L201.1 469.3L204.0 465.9L206.9 462.8L209.8 459.9L212.7 457.5L215.6 455.2L218.5 452.7L221.4 450.5L224.3 448.4L227.2 446.0L230.1 443.5L233.0 440.9L235.9 437.9L238.8 435.0L241.7 432.2L244.6 429.4L247.5 426.7L250.4 424.1L253.3 421.9L256.2 419.9L259.1 417.8L262.0 415.8L264.9 414.1L267.8 412.2L270.7 410.1L273.6 407.8L276.5 405.3L279.4 402.8L282.3 400.5L285.2 398.1L288.1 396.0L291.0 394.2L293.9 392.4L296.8 390.5L299.7 388.4L302.6 386.5L305.5 384.8L308.4 383.2L311.3 381.7L314.2 380.6L317.1 379.5L320.0 378.2L322.9 377.0L325.8 376.1L328.7 375.3L331.6 374.3L334.5 373.1L337.4 372.2L340.3 371.6L343.2 371.3L346.1 371.3L349.0 371.2L351.9 370.6L354.8 369.9L357.7 369.1L360.6 368.3L363.5 367.8L366.4 367.1L369.3 366.6L372.2 366.4L375.1 366.2L378.0 366.1L380.9 366.0L383.8 365.9L386.7 366.4L389.6 367.3L392.5 368.5L395.4 369.7L398.3 370.8L401.2 372.5L404.1 374.4L407.0 376.4L409.9 378.7L412.8 380.7L415.7 382.4L418.6 383.8L421.5 385.6L424.4 387.9L427.3 389.9L430.2 391.8L433.1 393.9L436.0 396.0L438.9 398.1L441.8 400.1L444.7 402.0L447.6 403.5L450.5 405.0L453.4 407.0L456.3 409.3L459.2 411.8L462.1 414.4L465.0 417.0L467.9 419.7L470.8 422.2L473.7 424.7L476.6 427.1L479.5 429.7L482.4 432.3L485.3 434.7L488.2 437.0L491.1 439.4L494.0 442.3L496.9 445.9L499.8 450.0L502.7 454.1L505.6 457.7L508.5 461.1L511.4 464.2L514.3 467.4L517.2 470.7L520.1 474.4L523.0 478.2L525.9 481.4L528.8 484.2L531.7 487.2L534.6 490.5L537.5 494.0L540.4 497.2L543.3 500.0L546.2 502.9L549.1 505.9L552.0 508.9L554.9 511.8L557.8 514.4L560.7 516.7L563.6 518.7L566.5 520.2L569.4 521.3L572.3 522.5L575.2 523.4L578.1 524.0L581.0 524.3L583.9 524.6L586.8 525.0L589.7 525.1L592.6 525.2L595.5 525.1L598.4 524.9" stroke="#1f958b" stroke-width="1.35" fill="none" stroke-linejoin="round"/>
<path d="M73.5 527.9L76.4 528.7L79.3 529.4L82.2 530.0L85.1 530.6L88.0 531.0L90.9 531.4L93.8 531.5L96.7 531.6L99.6 531.5L102.5 531.0L105.4 530.3L108.3 529.7L111.2 528.8L114.1 527.5L117.0 526.2L119.9 525.2L122.8 524.0L125.7 522.9L128.6 522.0L131.5 521.0L134.4 519.7L137.3 518.3L140.2 516.5L143.1 514.7L146.0 513.0L148.9 511.1L151.8 508.8L154.7 506.6L157.6 504.3L160.5 502.0L163.4 499.6L166.3 497.3L169.2 495.2L172.1 493.0L175.0 490.6L177.9 488.3L180.8 486.0L183.7 483.5L186.6 481.0L189.5 478.7L192.4 476.3L195.3 474.0L198.2 471.5L201.1 468.9L204.0 465.8L206.9 462.8L209.8 460.5L212.7 458.5L215.6 456.0L218.5 453.5L221.4 451.1L224.3 448.7L227.2 446.2L230.1 443.4L233.0 440.7L235.9 437.8L238.8 435.0L241.7 432.3L244.6 429.5L247.5 426.9L250.4 424.6L253.3 422.3L256.2 420.0L259.1 418.2L262.0 416.3L264.9 414.0L267.8 411.9L270.7 409.7L273.6 407.4L276.5 405.2L279.4 403.0L282.3 400.6L285.2 398.5L288.1 396.6L291.0 394.6L293.9 392.5L296.8 390.5L299.7 388.6L302.6 386.7L305.5 384.9L308.4 383.1L311.3 381.5L314.2 380.1L317.1 378.4L320.0 376.7L322.9 375.1L325.8 373.9L328.7 372.9L331.6 372.0L334.5 371.4L337.4 371.1L340.3 370.8L343.2 370.5L346.1 370.4L349.0 370.5L351.9 370.4L354.8 369.7L357.7 368.9L360.6 368.1L363.5 367.6L366.4 367.1L369.3 366.6L372.2 366.4L375.1 366.4L378.0 366.2L380.9 366.2L383.8 366.2L386.7 366.7L389.6 367.8L392.5 368.9L395.4 370.0L398.3 371.3L401.2 373.1L404.1 375.3L407.0 377.7L409.9 379.9L412.8 381.8L415.7 383.2L418.6 384.5L421.5 386.5L424.4 388.5L427.3 390.5L430.2 392.3L433.1 394.1L436.0 396.2L438.9 398.5L441.8 400.8L444.7 402.7L447.6 404.1L450.5 405.6L453.4 407.5L456.3 409.5L459.2 411.7L462.1 414.2L465.0 416.8L467.9 419.3L470.8 421.8L473.7 424.5L476.6 427.1L479.5 429.8L482.4 432.4L485.3 434.8L488.2 437.1L491.1 439.5L494.0 442.2L496.9 445.4L499.8 448.8L502.7 452.4L505.6 455.9L508.5 459.3L511.4 462.6L514.3 465.8L517.2 469.4L520.1 473.3L523.0 477.0L525.9 480.6L528.8 484.0L531.7 487.3L534.6 490.8L537.5 494.2L540.4 497.8L543.3 501.2L546.2 504.0L549.1 506.9L552.0 509.8L554.9 512.3L557.8 514.5L560.7 516.5L563.6 518.0L566.5 519.2L569.4 520.6L572.3 522.0L575.2 523.2L578.1 524.2L581.0 524.7L583.9 525.1L586.8 525.2L589.7 525.2L592.6 525.1L595.5 525.0L598.4 524.6" stroke="#1e9b8a" stroke-width="1.35" fill="none" stroke-linejoin="round"/>
<path d="M73.5 525.0L76.4 525.8L79.3 527.0L82.2 528.1L85.1 529.2L88.0 529.9L90.9 530.4L93.8 530.4L96.7 530.3L99.6 530.1L102.5 529.6L105.4 529.1L108.3 528.5L111.2 527.4L114.1 526.7L117.0 525.9L119.9 524.9L122.8 523.8L125.7 522.6L128.6 521.2L131.5 519.8L134.4 518.5L137.3 517.0L140.2 515.4L143.1 514.0L146.0 512.5L148.9 511.0L151.8 509.3L154.7 507.4L157.6 505.3L160.5 503.0L163.4 500.4L166.3 498.0L169.2 495.7L172.1 493.2L175.0 490.6L177.9 488.3L180.8 486.0L183.7 484.0L186.6 482.1L189.5 479.9L192.4 477.5L195.3 475.4L198.2 473.0L201.1 470.0L204.0 466.5L206.9 463.2L209.8 460.1L212.7 457.7L215.6 455.6L218.5 453.2L221.4 450.9L224.3 448.8L227.2 446.3L230.1 443.5L233.0 440.7L235.9 437.8L238.8 434.8L241.7 431.5L244.6 428.8L247.5 426.3L250.4 423.7L253.3 421.5L256.2 419.5L259.1 417.6L262.0 415.6L264.9 413.7L267.8 411.8L270.7 409.7L273.6 407.4L276.5 405.0L279.4 402.7L282.3 400.4L285.2 397.9L288.1 395.8L291.0 394.0L293.9 392.1L296.8 390.0L299.7 388.1L302.6 386.3L305.5 384.7L308.4 382.8L311.3 380.7L314.2 379.0L317.1 377.5L320.0 375.9L322.9 374.7L325.8 374.0L328.7 373.3L331.6 372.2L334.5 371.2L337.4 370.6L340.3 370.0L343.2 369.5L346.1 369.2L349.0 369.0L351.9 368.9L354.8 368.7L357.7 368.5L360.6 368.0L363.5 367.5L366.4 367.1L369.3 366.7L372.2 366.2L375.1 365.7L378.0 365.6L380.9 366.1L383.8 366.4L386.7 366.9L389.6 367.6L392.5 368.6L395.4 369.9L398.3 371.3L401.2 373.0L404.1 375.1L407.0 377.1L409.9 378.9L412.8 380.7L415.7 382.3L418.6 384.0L421.5 386.0L424.4 388.0L427.3 390.3L430.2 392.6L433.1 394.7L436.0 396.8L438.9 398.6L441.8 400.3L444.7 401.9L447.6 403.6L450.5 405.6L453.4 407.5L456.3 409.6L459.2 412.0L462.1 414.6L465.0 417.3L467.9 419.7L470.8 422.1L473.7 424.7L476.6 427.3L479.5 429.4L482.4 431.5L485.3 433.7L488.2 436.0L491.1 438.5L494.0 441.3L496.9 444.6L499.8 448.3L502.7 451.9L505.6 455.2L508.5 458.6L511.4 461.7L514.3 464.9L517.2 468.7L520.1 472.6L523.0 476.4L525.9 480.0L528.8 483.5L531.7 487.1L534.6 490.5L537.5 493.5L540.4 496.6L543.3 499.7L546.2 502.6L549.1 505.3L552.0 508.0L554.9 511.1L557.8 513.6L560.7 515.2L563.6 516.6L566.5 517.9L569.4 519.4L572.3 520.9L575.2 522.2L578.1 523.4L581.0 524.3L583.9 524.6L586.8 524.5L589.7 524.6L592.6 525.0L595.5 525.3L598.4 525.4" stroke="#1fa188" stroke-width="1.35" fill="none" stroke-linejoin="round"/>
<path d="M73.5 523.9L76.4 524.7L79.3 525.7L82.2 526.8L85.1 528.1L88.0 528.7L90.9 529.1L93.8 529.3L96.7 529.3L99.6 529.3L102.5 528.9L105.4 528.3L108.3 527.7L111.2 527.2L114.1 526.6L117.0 525.5L119.9 524.4L122.8 523.4L125.7 522.0L128.6 520.6L131.5 519.3L134.4 518.0L137.3 516.7L140.2 515.4L143.1 514.2L146.0 512.9L148.9 511.4L151.8 509.7L154.7 507.6L157.6 505.1L160.5 502.4L163.4 500.1L166.3 497.9L169.2 495.5L172.1 493.3L175.0 491.3L177.9 489.3L180.8 487.1L183.7 484.9L186.6 482.6L189.5 480.3L192.4 478.0L195.3 475.8L198.2 473.4L201.1 470.7L204.0 467.4L206.9 464.1L209.8 461.0L212.7 458.3L215.6 455.5L218.5 452.8L221.4 450.1L224.3 447.4L227.2 444.5L230.1 441.5L233.0 438.9L235.9 436.6L238.8 434.1L241.7 431.4L244.6 428.5L247.5 425.8L250.4 423.6L253.3 421.7L256.2 419.7L259.1 417.7L262.0 415.6L264.9 413.5L267.8 411.4L270.7 409.3L273.6 407.3L276.5 404.9L279.4 402.1L282.3 399.5L285.2 397.0L288.1 394.8L291.0 392.8L293.9 390.8L296.8 388.8L299.7 386.9L302.6 385.1L305.5 383.3L308.4 381.7L311.3 380.4L314.2 379.1L317.1 377.7L320.0 376.6L322.9 375.7L325.8 374.7L328.7 373.5L331.6 372.4L334.5 371.5L337.4 370.6L340.3 369.9L343.2 369.5L346.1 369.2L349.0 368.9L351.9 368.6L354.8 368.1L357.7 367.6L360.6 367.0L363.5 366.7L366.4 366.6L369.3 366.0L372.2 365.8L375.1 365.6L378.0 365.5L380.9 365.8L383.8 366.1L386.7 366.5L389.6 367.2L392.5 368.4L395.4 369.7L398.3 370.8L401.2 372.4L404.1 374.3L407.0 376.3L409.9 378.3L412.8 380.0L415.7 381.5L418.6 383.0L421.5 384.8L424.4 386.9L427.3 389.4L430.2 391.6L433.1 393.5L436.0 395.6L438.9 398.1L441.8 400.3L444.7 402.2L447.6 404.1L450.5 405.8L453.4 407.5L456.3 409.7L459.2 412.0L462.1 414.5L465.0 417.1L467.9 419.7L470.8 422.5L473.7 425.2L476.6 427.4L479.5 429.2L482.4 431.4L485.3 433.7L488.2 435.9L491.1 438.2L494.0 441.2L496.9 444.7L499.8 448.1L502.7 451.3L505.6 454.5L508.5 457.7L511.4 461.0L514.3 464.5L517.2 468.2L520.1 472.0L523.0 475.7L525.9 479.1L528.8 482.7L531.7 486.2L534.6 489.6L537.5 493.0L540.4 496.4L543.3 499.0L546.2 501.6L549.1 504.2L552.0 506.7L554.9 509.2L557.8 511.7L560.7 513.9L563.6 515.5L566.5 516.8L569.4 518.1L572.3 519.3L575.2 520.5L578.1 521.9L581.0 523.3L583.9 524.1L586.8 524.5L589.7 525.1L592.6 525.6L595.5 526.0L598.4 526.3" stroke="#21a685" stroke-width="1.35" fill="none" stroke-linejoin="round"/>
<path d="M73.5 524.6L76.4 525.2L79.3 526.2L82.2 527.2L85.1 527.9L88.0 528.4L90.9 529.0L93.8 529.4L96.7 529.7L99.6 530.1L102.5 530.0L105.4 529.3L108.3 528.5L111.2 527.8L114.1 527.0L117.0 526.0L119.9 525.0L122.8 524.1L125.7 522.8L128.6 521.5L131.5 520.0L134.4 518.3L137.3 517.0L140.2 515.8L143.1 514.5L146.0 513.1L148.9 511.4L151.8 509.7L154.7 507.9L157.6 505.7L160.5 503.2L163.4 500.6L166.3 498.3L169.2 495.9L172.1 493.5L175.0 491.2L177.9 489.3L180.8 487.3L183.7 485.2L186.6 483.2L189.5 480.8L192.4 478.3L195.3 475.9L198.2 473.3L201.1 470.7L204.0 467.1L206.9 463.6L209.8 460.6L212.7 458.0L215.6 455.1L218.5 452.1L221.4 449.2L224.3 446.6L227.2 443.9L230.1 441.4L233.0 438.7L235.9 436.0L238.8 433.6L241.7 431.1L244.6 428.3L247.5 425.5L250.4 423.2L253.3 421.2L256.2 418.9L259.1 416.8L262.0 415.0L264.9 413.1L267.8 411.1L270.7 409.1L273.6 407.0L276.5 404.5L279.4 401.8L282.3 399.4L285.2 396.8L288.1 394.3L291.0 391.7L293.9 389.3L296.8 387.5L299.7 385.8L302.6 384.3L305.5 382.9L308.4 381.9L311.3 381.0L314.2 379.8L317.1 378.7L320.0 377.2L322.9 375.8L325.8 374.7L328.7 373.4L331.6 372.3L334.5 371.4L337.4 370.4L340.3 369.5L343.2 368.9L346.1 368.6L349.0 368.6L351.9 368.3L354.8 367.7L357.7 367.1L360.6 366.7L363.5 366.5L366.4 366.2L369.3 365.6L372.2 365.2L375.1 364.9L378.0 364.9L380.9 365.3L383.8 365.6L386.7 365.9L389.6 366.5L392.5 367.5L395.4 369.0L398.3 370.6L401.2 372.2L404.1 373.7L407.0 375.3L409.9 377.1L412.8 378.6L415.7 380.4L418.6 381.9L421.5 383.7L424.4 386.2L427.3 388.6L430.2 390.6L433.1 392.6L436.0 394.8L438.9 397.2L441.8 399.6L444.7 401.7L447.6 403.8L450.5 405.8L453.4 407.8L456.3 409.9L459.2 412.3L462.1 414.8L465.0 417.3L467.9 419.8L470.8 422.6L473.7 425.3L476.6 427.8L479.5 429.9L482.4 432.0L485.3 434.1L488.2 436.3L491.1 438.6L494.0 441.6L496.9 445.3L499.8 448.8L502.7 452.2L505.6 455.0L508.5 457.9L511.4 461.0L514.3 464.0L517.2 467.8L520.1 471.4L523.0 475.1L525.9 479.1L528.8 482.7L531.7 486.0L534.6 489.4L537.5 492.8L540.4 496.0L543.3 498.6L546.2 501.2L549.1 503.7L552.0 506.0L554.9 508.1L557.8 510.5L560.7 512.6L563.6 514.2L566.5 515.6L569.4 517.0L572.3 518.5L575.2 520.1L578.1 521.5L581.0 522.9L583.9 524.0L586.8 524.8L589.7 525.6L592.6 526.3L595.5 526.5L598.4 526.7" stroke="#25ac82" stroke-width="1.35" fill="none" stroke-linejoin="round"/>
<path d="M73.5 525.3L76.4 525.9L79.3 526.9L82.2 527.8L85.1 528.4L88.0 528.9L90.9 529.5L93.8 529.9L96.7 530.1L99.6 530.2L102.5 530.1L105.4 530.0L108.3 529.7L111.2 529.0L114.1 528.0L117.0 527.0L119.9 525.9L122.8 524.6L125.7 523.2L128.6 522.0L131.5 520.7L134.4 519.3L137.3 518.0L140.2 516.9L143.1 515.5L146.0 513.9L148.9 512.1L151.8 510.1L154.7 507.8L157.6 505.3L160.5 502.7L163.4 500.2L166.3 498.0L169.2 495.9L172.1 493.8L175.0 491.7L177.9 490.0L180.8 488.3L183.7 486.1L186.6 483.6L189.5 481.1L192.4 478.6L195.3 476.0L198.2 473.3L201.1 470.2L204.0 466.3L206.9 462.8L209.8 459.8L212.7 457.1L215.6 454.6L218.5 452.1L221.4 449.3L224.3 446.4L227.2 443.7L230.1 441.3L233.0 438.5L235.9 435.6L238.8 432.9L241.7 430.1L244.6 427.2L247.5 424.4L250.4 421.5L253.3 419.1L256.2 417.3L259.1 415.3L262.0 413.5L264.9 411.8L267.8 410.1L270.7 408.3L273.6 406.3L276.5 404.3L279.4 401.9L282.3 399.2L285.2 396.7L288.1 394.4L291.0 391.9L293.9 389.6L296.8 387.6L299.7 385.9L302.6 384.4L305.5 383.1L308.4 382.0L311.3 381.3L314.2 380.2L317.1 378.8L320.0 377.2L322.9 375.5L325.8 373.9L328.7 372.6L331.6 371.5L334.5 370.5L337.4 369.6L340.3 368.8L343.2 368.4L346.1 368.6L349.0 368.5L351.9 367.9L354.8 367.3L357.7 366.6L360.6 365.5L363.5 364.6L366.4 364.2L369.3 363.8L372.2 363.7L375.1 363.9L378.0 364.0L380.9 364.1L383.8 364.5L386.7 365.3L389.6 366.2L392.5 367.1L395.4 368.3L398.3 369.7L401.2 371.5L404.1 373.2L407.0 375.1L409.9 377.2L412.8 378.9L415.7 380.3L418.6 381.3L421.5 382.7L424.4 384.8L427.3 387.2L430.2 389.5L433.1 392.2L436.0 394.7L438.9 397.1L441.8 399.7L444.7 402.3L447.6 404.3L450.5 406.1L453.4 408.1L456.3 410.1L459.2 412.3L462.1 414.6L465.0 417.2L467.9 419.7L470.8 422.1L473.7 424.7L476.6 427.5L479.5 429.9L482.4 431.9L485.3 433.9L488.2 436.2L491.1 438.7L494.0 441.5L496.9 445.0L499.8 448.6L502.7 452.1L505.6 455.4L508.5 458.4L511.4 461.7L514.3 464.9L517.2 468.2L520.1 471.8L523.0 475.1L525.9 478.6L528.8 482.2L531.7 485.4L534.6 488.4L537.5 491.5L540.4 494.7L543.3 497.4L546.2 500.2L549.1 502.7L552.0 505.5L554.9 508.4L557.8 510.8L560.7 512.6L563.6 513.8L566.5 514.9L569.4 516.4L572.3 518.1L575.2 519.6L578.1 521.0L581.0 522.7L583.9 524.0L586.8 524.7L589.7 525.3L592.6 525.6L595.5 526.0L598.4 526.3" stroke="#2ab07f" stroke-width="1.35" fill="none" stroke-linejoin="round"/>
<path d="M73.5 524.5L76.4 525.0L79.3 526.0L82.2 526.8L85.1 527.4L88.0 528.0L90.9 528.9L93.8 529.8L96.7 530.2L99.6 530.4L102.5 530.1L105.4 529.6L108.3 529.4L111.2 528.8L114.1 527.8L117.0 527.0L119.9 526.0L122.8 524.7L125.7 523.3L128.6 521.9L131.5 520.6L134.4 519.2L137.3 518.1L140.2 516.9L143.1 515.3L146.0 513.6L148.9 511.9L151.8 510.1L154.7 508.3L157.6 506.0L160.5 503.6L163.4 500.8L166.3 498.3L169.2 496.0L172.1 494.1L175.0 492.2L177.9 490.0L180.8 487.8L183.7 485.6L186.6 483.1L189.5 480.7L192.4 478.1L195.3 475.4L198.2 472.5L201.1 469.5L204.0 466.1L206.9 462.7L209.8 459.8L212.7 457.4L215.6 454.7L218.5 451.9L221.4 449.0L224.3 446.1L227.2 443.2L230.1 440.3L233.0 437.5L235.9 434.6L238.8 431.5L241.7 428.4L244.6 425.3L247.5 422.5L250.4 419.7L253.3 417.2L256.2 415.4L259.1 413.7L262.0 411.8L264.9 410.2L267.8 408.6L270.7 407.1L273.6 405.1L276.5 402.7L279.4 400.4L282.3 398.2L285.2 396.3L288.1 394.4L291.0 392.3L293.9 390.5L296.8 388.6L299.7 386.6L302.6 384.6L305.5 383.1L308.4 381.6L311.3 380.0L314.2 378.9L317.1 377.4L320.0 375.4L322.9 373.8L325.8 372.6L328.7 371.7L331.6 370.6L334.5 369.6L337.4 368.7L340.3 367.8L343.2 367.3L346.1 367.1L349.0 367.1L351.9 366.6L354.8 365.9L357.7 365.3L360.6 364.6L363.5 364.1L366.4 363.8L369.3 363.1L372.2 362.7L375.1 362.5L378.0 362.4L380.9 362.8L383.8 363.6L386.7 364.2L389.6 365.0L392.5 366.5L395.4 367.9L398.3 369.3L401.2 371.1L404.1 373.1L407.0 374.7L409.9 376.3L412.8 377.7L415.7 379.2L418.6 380.6L421.5 382.2L424.4 384.4L427.3 386.9L430.2 389.3L433.1 391.8L436.0 394.3L438.9 396.7L441.8 399.3L444.7 401.8L447.6 403.9L450.5 405.8L453.4 407.7L456.3 409.9L459.2 412.5L462.1 415.2L465.0 417.8L467.9 420.6L470.8 422.9L473.7 424.9L476.6 427.0L479.5 429.3L482.4 431.6L485.3 433.7L488.2 436.1L491.1 438.6L494.0 441.3L496.9 444.5L499.8 448.1L502.7 451.5L505.6 454.7L508.5 458.1L511.4 461.5L514.3 464.7L517.2 468.1L520.1 471.5L523.0 474.5L525.9 477.7L528.8 480.8L531.7 484.0L534.6 487.3L537.5 490.6L540.4 493.8L543.3 496.6L546.2 499.4L549.1 502.1L552.0 504.7L554.9 507.6L557.8 510.3L560.7 512.2L563.6 513.4L566.5 514.4L569.4 515.7L572.3 517.2L575.2 518.6L578.1 520.1L581.0 521.7L583.9 522.8L586.8 523.8L589.7 524.5L592.6 525.0L595.5 525.7L598.4 526.1" stroke="#32b67a" stroke-width="1.35" fill="none" stroke-linejoin="round"/>
<path d="M73.5 523.0L76.4 523.6L79.3 524.7L82.2 525.9L85.1 526.8L88.0 527.5L90.9 527.9L93.8 528.1L96.7 528.4L99.6 528.8L102.5 528.9L105.4 528.7L108.3 528.1L111.2 527.5L114.1 527.0L117.0 526.4L119.9 525.1L122.8 523.8L125.7 522.5L128.6 521.1L131.5 519.8L134.4 518.2L137.3 516.9L140.2 515.7L143.1 514.3L146.0 513.1L148.9 511.6L151.8 509.7L154.7 507.8L157.6 505.4L160.5 503.1L163.4 500.5L166.3 498.2L169.2 496.1L172.1 494.1L175.0 492.1L177.9 490.0L180.8 487.7L183.7 485.3L186.6 482.9L189.5 480.7L192.4 478.5L195.3 476.2L198.2 473.4L201.1 470.1L204.0 466.6L206.9 462.9L209.8 459.6L212.7 456.7L215.6 454.0L218.5 451.2L221.4 448.1L224.3 445.5L227.2 442.7L230.1 439.7L233.0 436.6L235.9 433.4L238.8 430.3L241.7 427.5L244.6 424.7L247.5 421.7L250.4 418.8L253.3 416.2L256.2 413.9L259.1 411.8L262.0 410.0L264.9 408.6L267.8 407.1L270.7 405.7L273.6 404.0L276.5 402.2L279.4 400.2L282.3 398.2L285.2 396.1L288.1 393.9L291.0 391.9L293.9 390.0L296.8 387.7L299.7 385.5L302.6 383.7L305.5 381.9L308.4 380.2L311.3 378.6L314.2 377.2L317.1 375.7L320.0 374.3L322.9 373.1L325.8 372.2L328.7 371.2L331.6 370.2L334.5 369.1L337.4 367.8L340.3 366.7L343.2 366.0L346.1 365.6L349.0 365.3L351.9 365.1L354.8 365.0L357.7 364.4L360.6 363.8L363.5 363.2L366.4 362.9L369.3 362.3L372.2 361.6L375.1 361.5L378.0 361.5L380.9 361.8L383.8 362.1L386.7 362.7L389.6 363.7L392.5 365.2L395.4 366.8L398.3 368.5L401.2 370.4L404.1 372.5L407.0 374.5L409.9 376.3L412.8 378.0L415.7 379.5L418.6 380.5L421.5 382.1L424.4 384.1L427.3 386.3L430.2 388.5L433.1 391.0L436.0 393.7L438.9 396.3L441.8 398.9L444.7 401.8L447.6 404.0L450.5 405.9L453.4 408.0L456.3 410.2L459.2 412.8L462.1 415.6L465.0 418.1L467.9 420.3L470.8 422.6L473.7 425.2L476.6 427.5L479.5 429.6L482.4 431.6L485.3 433.8L488.2 436.4L491.1 438.8L494.0 441.5L496.9 444.4L499.8 447.7L502.7 451.1L505.6 454.3L508.5 457.4L511.4 460.7L514.3 464.0L517.2 467.4L520.1 470.8L523.0 474.4L525.9 477.9L528.8 480.9L531.7 483.8L534.6 486.6L537.5 489.3L540.4 492.5L543.3 495.8L546.2 498.7L549.1 501.4L552.0 504.2L554.9 507.0L557.8 509.5L560.7 511.3L563.6 512.9L566.5 514.2L569.4 515.3L572.3 516.7L575.2 518.4L578.1 520.1L581.0 521.2L583.9 522.1L586.8 523.0L589.7 523.8L592.6 524.5L595.5 524.9L598.4 524.9" stroke="#3bbb75" stroke-width="1.35" fill="none" stroke-linejoin="round"/>
<path d="M73.5 521.9L76.4 522.7L79.3 523.9L82.2 525.0L85.1 525.9L88.0 527.0L90.9 528.1L93.8 528.9L96.7 529.2L99.6 528.9L102.5 528.7L105.4 528.2L108.3 527.6L111.2 526.9L114.1 526.0L117.0 525.0L119.9 523.8L122.8 522.3L125.7 521.0L128.6 519.7L131.5 518.5L134.4 517.3L137.3 516.1L140.2 515.2L143.1 514.3L146.0 512.8L148.9 510.9L151.8 508.9L154.7 506.9L157.6 504.8L160.5 502.5L163.4 499.9L166.3 497.5L169.2 495.6L172.1 493.8L175.0 491.6L177.9 489.4L180.8 487.4L183.7 485.6L186.6 483.3L189.5 480.8L192.4 478.5L195.3 476.0L198.2 473.1L201.1 469.6L204.0 465.7L206.9 462.2L209.8 459.1L212.7 456.4L215.6 453.6L218.5 450.8L221.4 448.0L224.3 445.1L227.2 442.2L230.1 439.4L233.0 436.5L235.9 433.1L238.8 430.0L241.7 427.3L244.6 424.5L247.5 421.7L250.4 418.8L253.3 416.0L256.2 413.8L259.1 412.0L262.0 410.6L264.9 409.1L267.8 407.3L270.7 405.8L273.6 404.2L276.5 402.3L279.4 400.3L282.3 398.2L285.2 396.2L288.1 394.2L291.0 392.1L293.9 390.0L296.8 387.8L299.7 385.7L302.6 383.7L305.5 381.6L308.4 379.8L311.3 378.2L314.2 376.8L317.1 374.9L320.0 373.3L322.9 372.2L325.8 371.0L328.7 370.0L331.6 369.2L334.5 368.4L337.4 367.5L340.3 366.7L343.2 366.1L346.1 365.7L349.0 365.0L351.9 364.3L354.8 363.7L357.7 363.1L360.6 362.6L363.5 362.0L366.4 361.4L369.3 361.1L372.2 360.8L375.1 360.4L378.0 360.6L380.9 361.0L383.8 361.6L386.7 362.5L389.6 363.9L392.5 365.3L395.4 366.6L398.3 368.3L401.2 370.3L404.1 372.6L407.0 374.8L409.9 376.6L412.8 378.2L415.7 379.8L418.6 381.4L421.5 382.9L424.4 384.6L427.3 386.7L430.2 388.8L433.1 391.2L436.0 393.4L438.9 395.6L441.8 398.0L444.7 400.7L447.6 403.1L450.5 405.4L453.4 407.8L456.3 410.1L459.2 412.6L462.1 415.1L465.0 417.6L467.9 420.1L470.8 422.8L473.7 425.4L476.6 427.6L479.5 429.4L482.4 431.5L485.3 433.7L488.2 436.2L491.1 438.6L494.0 441.7L496.9 445.5L499.8 448.9L502.7 452.2L505.6 455.0L508.5 457.7L511.4 460.6L514.3 463.5L517.2 466.7L520.1 470.2L523.0 473.5L525.9 476.9L528.8 480.2L531.7 483.4L534.6 486.8L537.5 490.0L540.4 493.1L543.3 496.0L546.2 498.6L549.1 501.1L552.0 503.7L554.9 506.3L557.8 509.0L560.7 511.1L563.6 512.8L566.5 514.3L569.4 515.5L572.3 516.9L575.2 518.1L578.1 519.1L581.0 520.1L583.9 520.9L586.8 521.9L589.7 522.9L592.6 523.3L595.5 523.6L598.4 523.9" stroke="#46c06f" stroke-width="1.35" fill="none" stroke-linejoin="round"/>
<path d="M73.5 521.0L76.4 522.1L79.3 523.5L82.2 525.0L85.1 526.6L88.0 527.9L90.9 528.4L93.8 528.7L96.7 529.3L99.6 529.5L102.5 529.0L105.4 528.3L108.3 527.5L111.2 526.8L114.1 525.9L117.0 524.7L119.9 523.5L122.8 522.2L125.7 520.8L128.6 519.6L131.5 518.6L134.4 517.4L137.3 516.2L140.2 515.0L143.1 513.4L146.0 511.8L148.9 510.1L151.8 508.1L154.7 505.7L157.6 503.7L160.5 501.7L163.4 499.3L166.3 497.1L169.2 495.0L172.1 492.9L175.0 491.1L177.9 489.2L180.8 487.3L183.7 485.1L186.6 482.7L189.5 480.2L192.4 478.1L195.3 475.6L198.2 472.5L201.1 469.3L204.0 465.7L206.9 462.2L209.8 459.0L212.7 456.2L215.6 453.6L218.5 450.7L221.4 447.8L224.3 445.2L227.2 442.6L230.1 439.9L233.0 436.9L235.9 433.5L238.8 430.1L241.7 427.1L244.6 424.4L247.5 421.7L250.4 419.2L253.3 417.2L256.2 415.1L259.1 413.3L262.0 411.8L264.9 410.3L267.8 408.7L270.7 406.7L273.6 404.9L276.5 403.0L279.4 401.0L282.3 398.7L285.2 396.6L288.1 394.6L291.0 392.5L293.9 390.2L296.8 388.1L299.7 386.2L302.6 384.0L305.5 381.8L308.4 380.1L311.3 378.4L314.2 376.8L317.1 375.3L320.0 373.8L322.9 372.8L325.8 371.9L328.7 370.7L331.6 369.6L334.5 368.5L337.4 367.6L340.3 366.6L343.2 365.5L346.1 364.7L349.0 364.2L351.9 363.5L354.8 362.9L357.7 362.5L360.6 362.0L363.5 361.4L366.4 361.2L369.3 361.0L372.2 360.8L375.1 360.9L378.0 360.9L380.9 361.1L383.8 361.6L386.7 362.5L389.6 363.7L392.5 365.2L395.4 366.7L398.3 368.5L401.2 370.6L404.1 372.6L407.0 374.4L409.9 376.1L412.8 377.7L415.7 379.2L418.6 380.8L421.5 382.4L424.4 384.4L427.3 386.8L430.2 389.0L433.1 391.4L436.0 394.1L438.9 396.4L441.8 398.4L444.7 400.5L447.6 402.8L450.5 405.2L453.4 407.7L456.3 409.9L459.2 412.0L462.1 414.4L465.0 417.0L467.9 419.6L470.8 422.1L473.7 424.4L476.6 426.9L479.5 429.3L482.4 431.7L485.3 434.1L488.2 436.6L491.1 439.0L494.0 441.8L496.9 444.9L499.8 447.8L502.7 450.9L505.6 454.0L508.5 457.4L511.4 460.8L514.3 464.1L517.2 467.3L520.1 470.2L523.0 473.3L525.9 476.6L528.8 479.7L531.7 482.7L534.6 485.8L537.5 489.1L540.4 492.5L543.3 495.8L546.2 498.5L549.1 501.3L552.0 504.3L554.9 507.1L557.8 509.6L560.7 511.4L563.6 512.7L566.5 514.1L569.4 515.4L572.3 516.8L575.2 518.1L578.1 519.5L581.0 520.5L583.9 521.1L586.8 521.8L589.7 522.3L592.6 522.8L595.5 523.1L598.4 522.8" stroke="#52c569" stroke-width="1.35" fill="none" stroke-linejoin="round"/>
<path d="M73.5 521.7L76.4 522.8L79.3 524.3L82.2 525.4L85.1 526.4L88.0 527.1L90.9 527.5L93.8 527.9L96.7 528.2L99.6 528.3L102.5 528.2L105.4 527.7L108.3 527.3L111.2 526.8L114.1 526.0L117.0 524.9L119.9 523.5L122.8 522.3L125.7 520.9L128.6 519.2L131.5 517.5L134.4 516.0L137.3 514.7L140.2 513.6L143.1 512.4L146.0 510.9L148.9 509.4L151.8 507.7L154.7 505.6L157.6 503.3L160.5 501.0L163.4 499.1L166.3 497.1L169.2 495.1L172.1 493.1L175.0 490.9L177.9 488.8L180.8 486.7L183.7 484.4L186.6 481.8L189.5 479.4L192.4 477.2L195.3 474.8L198.2 472.3L201.1 469.4L204.0 466.0L206.9 462.5L209.8 459.2L212.7 456.2L215.6 453.4L218.5 450.8L221.4 448.3L224.3 445.7L227.2 442.7L230.1 439.6L233.0 436.5L235.9 433.2L238.8 430.0L241.7 427.0L244.6 424.2L247.5 421.5L250.4 419.2L253.3 417.4L256.2 415.6L259.1 413.9L262.0 412.1L264.9 410.4L267.8 408.9L270.7 407.3L273.6 405.3L276.5 403.0L279.4 400.9L282.3 398.3L285.2 395.8L288.1 393.7L291.0 391.9L293.9 390.1L296.8 388.1L299.7 385.9L302.6 383.9L305.5 382.2L308.4 380.9L311.3 379.7L314.2 378.3L317.1 376.6L320.0 375.2L322.9 373.5L325.8 372.1L328.7 371.0L331.6 369.8L334.5 368.8L337.4 367.9L340.3 367.0L343.2 366.2L346.1 365.5L349.0 364.9L351.9 364.2L354.8 363.5L357.7 362.8L360.6 362.1L363.5 361.5L366.4 360.8L369.3 360.3L372.2 359.9L375.1 359.9L378.0 360.1L380.9 360.6L383.8 360.8L386.7 361.3L389.6 362.4L392.5 364.4L395.4 366.0L398.3 367.8L401.2 370.1L404.1 372.6L407.0 374.4L409.9 375.8L412.8 377.5L415.7 379.2L418.6 380.7L421.5 382.4L424.4 384.6L427.3 386.9L430.2 389.3L433.1 391.6L436.0 394.0L438.9 396.3L441.8 398.2L444.7 400.1L447.6 402.1L450.5 404.2L453.4 406.3L456.3 408.7L459.2 411.4L462.1 413.9L465.0 416.6L467.9 419.1L470.8 421.7L473.7 424.1L476.6 426.4L479.5 428.7L482.4 430.9L485.3 433.4L488.2 436.2L491.1 439.1L494.0 441.8L496.9 444.5L499.8 447.4L502.7 450.7L505.6 453.8L508.5 456.9L511.4 460.0L514.3 463.2L517.2 466.7L520.1 470.2L523.0 473.5L525.9 476.5L528.8 479.6L531.7 482.9L534.6 486.0L537.5 489.3L540.4 492.9L543.3 496.0L546.2 498.9L549.1 501.8L552.0 504.4L554.9 506.8L557.8 509.3L560.7 511.5L563.6 513.2L566.5 514.5L569.4 515.7L572.3 517.1L575.2 518.3L578.1 519.4L581.0 520.5L583.9 521.2L586.8 521.9L589.7 522.5L592.6 522.9L595.5 523.2L598.4 523.4" stroke="#5ec962" stroke-width="1.35" fill="none" stroke-linejoin="round"/>
<path d="M73.5 522.8L76.4 523.4L79.3 524.4L82.2 525.4L85.1 526.2L88.0 526.7L90.9 527.2L93.8 527.7L96.7 527.8L99.6 527.6L102.5 527.2L105.4 526.8L108.3 526.2L111.2 525.5L114.1 525.1L117.0 524.5L119.9 523.5L122.8 522.2L125.7 520.5L128.6 518.8L131.5 517.2L134.4 515.4L137.3 514.1L140.2 512.9L143.1 511.6L146.0 510.2L148.9 508.7L151.8 506.7L154.7 504.6L157.6 502.4L160.5 500.4L163.4 498.5L166.3 496.6L169.2 494.4L172.1 492.3L175.0 490.3L177.9 488.1L180.8 485.9L183.7 483.8L186.6 481.4L189.5 479.0L192.4 476.8L195.3 474.5L198.2 471.8L201.1 468.6L204.0 464.8L206.9 461.3L209.8 458.0L212.7 455.0L215.6 452.5L218.5 450.0L221.4 447.4L224.3 444.9L227.2 442.2L230.1 439.7L233.0 436.9L235.9 433.7L238.8 430.7L241.7 427.6L244.6 424.5L247.5 421.5L250.4 418.6L253.3 416.3L256.2 414.2L259.1 412.2L262.0 410.6L264.9 409.1L267.8 407.5L270.7 406.0L273.6 404.5L276.5 402.9L279.4 400.8L282.3 398.5L285.2 396.1L288.1 393.6L291.0 391.0L293.9 388.7L296.8 386.5L299.7 384.5L302.6 382.9L305.5 381.2L308.4 379.7L311.3 378.3L314.2 376.9L317.1 375.8L320.0 374.6L322.9 373.2L325.8 372.3L328.7 371.3L331.6 370.4L334.5 369.1L337.4 367.9L340.3 367.1L343.2 366.4L346.1 365.8L349.0 365.0L351.9 364.3L354.8 363.8L357.7 363.2L360.6 362.4L363.5 361.3L366.4 360.1L369.3 359.8L372.2 359.7L375.1 359.7L378.0 359.5L380.9 359.6L383.8 360.1L386.7 361.0L389.6 361.8L392.5 362.9L395.4 364.3L398.3 366.3L401.2 368.3L404.1 370.5L407.0 372.6L409.9 375.0L412.8 377.1L415.7 378.9L418.6 380.5L421.5 382.5L424.4 384.7L427.3 386.9L430.2 389.2L433.1 391.4L436.0 393.5L438.9 395.5L441.8 397.5L444.7 399.7L447.6 401.7L450.5 403.8L453.4 406.1L456.3 408.6L459.2 411.1L462.1 413.5L465.0 416.1L467.9 418.7L470.8 421.7L473.7 424.3L476.6 426.6L479.5 429.1L482.4 431.3L485.3 433.6L488.2 436.2L491.1 438.6L494.0 441.3L496.9 444.5L499.8 447.7L502.7 450.7L505.6 453.5L508.5 456.4L511.4 459.5L514.3 462.5L517.2 465.8L520.1 469.4L523.0 472.7L525.9 476.0L528.8 479.5L531.7 482.8L534.6 486.1L537.5 489.4L540.4 492.6L543.3 496.0L546.2 499.1L549.1 501.7L552.0 504.5L554.9 507.3L557.8 509.9L560.7 512.0L563.6 513.5L566.5 514.5L569.4 515.5L572.3 516.9L575.2 518.4L578.1 519.8L581.0 521.2L583.9 522.0L586.8 522.7L589.7 523.4L592.6 524.2L595.5 524.8L598.4 525.1" stroke="#69cd5b" stroke-width="1.35" fill="none" stroke-linejoin="round"/>
<path d="M73.5 523.6L76.4 524.2L79.3 525.0L82.2 525.8L85.1 526.7L88.0 527.4L90.9 527.5L93.8 527.4L96.7 527.4L99.6 527.3L102.5 526.9L105.4 526.2L108.3 525.6L111.2 524.9L114.1 524.2L117.0 523.4L119.9 522.3L122.8 520.9L125.7 519.3L128.6 517.8L131.5 516.6L134.4 515.2L137.3 513.7L140.2 512.3L143.1 511.1L146.0 509.9L148.9 508.7L151.8 506.9L154.7 504.9L157.6 502.5L160.5 500.2L163.4 498.0L166.3 495.9L169.2 493.8L172.1 492.1L175.0 490.1L177.9 488.0L180.8 485.5L183.7 482.9L186.6 480.3L189.5 477.6L192.4 475.5L195.3 473.1L198.2 470.3L201.1 467.5L204.0 463.9L206.9 460.4L209.8 457.2L212.7 454.2L215.6 451.6L218.5 449.3L221.4 446.6L224.3 443.9L227.2 441.1L230.1 438.5L233.0 435.9L235.9 433.4L238.8 430.7L241.7 428.0L244.6 425.1L247.5 422.3L250.4 419.3L253.3 416.7L256.2 414.3L259.1 412.3L262.0 410.2L264.9 408.5L267.8 406.7L270.7 405.0L273.6 402.9L276.5 400.5L279.4 398.2L282.3 396.3L285.2 394.5L288.1 392.5L291.0 390.5L293.9 388.6L296.8 386.5L299.7 384.3L302.6 382.3L305.5 380.4L308.4 378.8L311.3 377.3L314.2 375.8L317.1 374.3L320.0 372.5L322.9 371.1L325.8 370.3L328.7 369.9L331.6 369.4L334.5 368.5L337.4 367.6L340.3 367.0L343.2 365.9L346.1 365.0L349.0 364.7L351.9 364.3L354.8 363.7L357.7 363.0L360.6 362.3L363.5 361.5L366.4 360.6L369.3 360.3L372.2 359.7L375.1 359.5L378.0 359.5L380.9 359.5L383.8 359.6L386.7 360.2L389.6 361.0L392.5 361.9L395.4 363.1L398.3 365.1L401.2 367.3L404.1 369.7L407.0 372.0L409.9 374.5L412.8 376.8L415.7 378.8L418.6 380.4L421.5 381.9L424.4 383.9L427.3 386.3L430.2 388.6L433.1 391.0L436.0 393.4L438.9 395.7L441.8 397.4L444.7 399.0L447.6 400.9L450.5 402.7L453.4 405.1L456.3 407.7L459.2 410.2L462.1 412.7L465.0 415.6L467.9 418.4L470.8 421.2L473.7 424.1L476.6 426.8L479.5 429.3L482.4 431.6L485.3 433.7L488.2 436.1L491.1 439.0L494.0 442.1L496.9 445.1L499.8 447.9L502.7 450.8L505.6 453.6L508.5 456.5L511.4 459.3L514.3 462.2L517.2 465.3L520.1 468.5L523.0 471.9L525.9 475.5L528.8 479.2L531.7 483.1L534.6 486.8L537.5 490.2L540.4 493.9L543.3 496.9L546.2 499.4L549.1 501.9L552.0 504.3L554.9 506.9L557.8 509.5L560.7 511.7L563.6 513.3L566.5 514.6L569.4 515.9L572.3 517.1L575.2 518.2L578.1 519.4L581.0 520.9L583.9 522.4L586.8 523.3L589.7 523.9L592.6 524.4L595.5 525.1L598.4 525.6" stroke="#77d153" stroke-width="1.35" fill="none" stroke-linejoin="round"/>
<path d="M73.5 523.5L76.4 524.1L79.3 525.4L82.2 526.5L85.1 527.0L88.0 527.4L90.9 527.8L93.8 527.9L96.7 527.7L99.6 527.3L102.5 526.7L105.4 525.8L108.3 524.9L111.2 524.2L114.1 523.6L117.0 522.7L119.9 521.9L122.8 520.8L125.7 519.3L128.6 517.6L131.5 516.0L134.4 514.2L137.3 512.8L140.2 511.9L143.1 511.4L146.0 510.5L148.9 509.2L151.8 507.4L154.7 505.5L157.6 502.9L160.5 500.2L163.4 497.8L166.3 495.4L169.2 493.2L172.1 491.2L175.0 488.9L177.9 486.6L180.8 484.2L183.7 482.0L186.6 479.8L189.5 477.5L192.4 475.2L195.3 472.6L198.2 469.9L201.1 467.0L204.0 463.4L206.9 460.1L209.8 456.8L212.7 453.7L215.6 450.8L218.5 448.2L221.4 445.6L224.3 443.2L227.2 440.7L230.1 438.3L233.0 436.1L235.9 433.7L238.8 431.1L241.7 428.1L244.6 425.0L247.5 422.3L250.4 419.6L253.3 417.0L256.2 414.5L259.1 412.3L262.0 410.6L264.9 408.9L267.8 407.0L270.7 404.9L273.6 402.7L276.5 400.7L279.4 398.6L282.3 396.2L285.2 393.9L288.1 392.1L291.0 390.3L293.9 388.0L296.8 385.6L299.7 383.4L302.6 381.5L305.5 379.6L308.4 377.7L311.3 375.9L314.2 374.5L317.1 373.1L320.0 371.7L322.9 370.5L325.8 369.6L328.7 368.8L331.6 368.1L334.5 367.3L337.4 366.5L340.3 365.7L343.2 364.8L346.1 364.3L349.0 363.6L351.9 363.0L354.8 362.7L357.7 362.5L360.6 362.1L363.5 361.5L366.4 360.9L369.3 360.6L372.2 360.1L375.1 359.9L378.0 359.8L380.9 360.3L383.8 360.6L386.7 360.9L389.6 361.5L392.5 362.6L395.4 363.9L398.3 365.7L401.2 367.6L404.1 369.7L407.0 371.9L409.9 374.0L412.8 375.8L415.7 377.5L418.6 379.0L421.5 380.9L424.4 383.2L427.3 385.7L430.2 387.8L433.1 390.3L436.0 392.9L438.9 395.0L441.8 396.9L444.7 398.9L447.6 401.0L450.5 402.8L453.4 404.9L456.3 407.3L459.2 409.9L462.1 412.8L465.0 415.7L467.9 418.7L470.8 421.3L473.7 423.8L476.6 426.3L479.5 428.8L482.4 431.5L485.3 433.9L488.2 436.6L491.1 439.4L494.0 442.3L496.9 445.2L499.8 448.0L502.7 451.0L505.6 453.9L508.5 456.7L511.4 459.6L514.3 462.5L517.2 465.8L520.1 469.4L523.0 472.7L525.9 476.0L528.8 479.4L531.7 483.2L534.6 487.0L537.5 490.3L540.4 493.4L543.3 496.5L546.2 499.5L549.1 502.0L552.0 504.5L554.9 507.3L557.8 509.9L560.7 511.9L563.6 513.4L566.5 514.8L569.4 515.7L572.3 516.7L575.2 518.2L578.1 519.7L581.0 520.6L583.9 521.2L586.8 521.8L589.7 522.6L592.6 523.1L595.5 523.5L598.4 523.7" stroke="#86d549" stroke-width="1.35" fill="none" stroke-linejoin="round"/>
<path d="M73.5 522.0L76.4 523.0L79.3 524.5L82.2 525.8L85.1 526.8L88.0 527.4L90.9 527.5L93.8 527.6L96.7 527.6L99.6 527.5L102.5 527.0L105.4 526.2L108.3 525.4L111.2 524.2L114.1 523.1L117.0 522.2L119.9 521.4L122.8 520.3L125.7 518.9L128.6 517.5L131.5 516.1L134.4 514.6L137.3 513.2L140.2 512.1L143.1 511.0L146.0 509.8L148.9 508.7L151.8 507.3L154.7 505.5L157.6 502.9L160.5 500.4L163.4 498.1L166.3 495.4L169.2 492.8L172.1 490.5L175.0 488.1L177.9 486.2L180.8 484.0L183.7 481.8L186.6 479.7L189.5 477.5L192.4 475.1L195.3 472.6L198.2 469.8L201.1 466.6L204.0 463.3L206.9 459.9L209.8 456.4L212.7 453.4L215.6 450.7L218.5 448.0L221.4 445.3L224.3 442.7L227.2 440.1L230.1 437.8L233.0 435.4L235.9 433.2L238.8 430.9L241.7 428.5L244.6 425.8L247.5 422.7L250.4 419.7L253.3 417.2L256.2 414.8L259.1 412.6L262.0 410.6L264.9 409.3L267.8 407.7L270.7 405.8L273.6 403.7L276.5 401.5L279.4 398.9L282.3 396.3L285.2 394.1L288.1 392.1L291.0 390.1L293.9 388.1L296.8 386.0L299.7 383.7L302.6 381.7L305.5 379.4L308.4 377.4L311.3 375.8L314.2 374.3L317.1 372.8L320.0 371.3L322.9 370.0L325.8 369.0L328.7 368.0L331.6 367.0L334.5 365.8L337.4 364.9L340.3 364.4L343.2 363.7L346.1 363.0L349.0 362.3L351.9 361.9L354.8 361.7L357.7 361.5L360.6 361.3L363.5 361.0L366.4 360.7L369.3 360.6L372.2 360.5L375.1 360.4L378.0 360.1L380.9 360.1L383.8 360.5L386.7 361.2L389.6 362.2L392.5 363.5L395.4 364.8L398.3 366.5L401.2 368.4L404.1 370.5L407.0 372.4L409.9 374.0L412.8 375.6L415.7 377.0L418.6 378.4L421.5 380.3L424.4 382.3L427.3 384.6L430.2 387.2L433.1 389.9L436.0 392.4L438.9 394.8L441.8 396.9L444.7 399.1L447.6 401.1L450.5 402.7L453.4 404.5L456.3 406.9L459.2 409.6L462.1 412.5L465.0 415.7L467.9 418.7L470.8 421.6L473.7 424.3L476.6 426.8L479.5 429.3L482.4 431.6L485.3 433.8L488.2 436.2L491.1 438.9L494.0 442.0L496.9 445.4L499.8 448.5L502.7 451.3L505.6 454.1L508.5 457.0L511.4 460.1L514.3 463.6L517.2 467.0L520.1 470.1L523.0 473.3L525.9 476.7L528.8 480.0L531.7 483.3L534.6 486.8L537.5 490.1L540.4 493.3L543.3 496.4L546.2 499.3L549.1 502.2L552.0 504.8L554.9 507.4L557.8 509.8L560.7 511.8L563.6 513.5L566.5 515.0L569.4 516.3L572.3 517.5L575.2 518.4L578.1 519.3L581.0 519.8L583.9 520.0L586.8 520.2L589.7 520.4L592.6 520.3L595.5 520.3L598.4 520.2" stroke="#95d840" stroke-width="1.35" fill="none" stroke-linejoin="round"/>
<path d="M73.5 520.6L76.4 521.7L79.3 523.2L82.2 524.5L85.1 525.2L88.0 525.9L90.9 526.6L93.8 527.0L96.7 527.2L99.6 527.2L102.5 526.8L105.4 525.9L108.3 524.9L111.2 524.1L114.1 523.4L117.0 522.8L119.9 522.1L122.8 521.0L125.7 519.6L128.6 517.8L131.5 516.0L134.4 514.3L137.3 513.0L140.2 511.6L143.1 510.3L146.0 509.0L148.9 507.7L151.8 505.9L154.7 503.8L157.6 501.5L160.5 499.2L163.4 496.7L166.3 494.6L169.2 492.5L172.1 490.3L175.0 488.1L177.9 486.2L180.8 484.1L183.7 481.8L186.6 479.7L189.5 477.4L192.4 475.0L195.3 472.3L198.2 469.1L201.1 465.8L204.0 462.3L206.9 459.2L209.8 456.2L212.7 453.2L215.6 450.5L218.5 447.9L221.4 445.2L224.3 442.7L227.2 440.3L230.1 437.7L233.0 435.2L235.9 432.8L238.8 430.3L241.7 427.7L244.6 425.1L247.5 422.4L250.4 419.8L253.3 417.3L256.2 414.9L259.1 412.9L262.0 411.2L264.9 409.2L267.8 407.3L270.7 405.6L273.6 403.5L276.5 401.3L279.4 399.1L282.3 396.7L285.2 394.5L288.1 392.1L291.0 389.7L293.9 387.5L296.8 385.2L299.7 383.0L302.6 381.0L305.5 379.2L308.4 377.4L311.3 375.5L314.2 374.1L317.1 372.8L320.0 371.6L322.9 370.6L325.8 370.0L328.7 368.9L331.6 367.7L334.5 366.3L337.4 365.2L340.3 364.1L343.2 363.2L346.1 362.9L349.0 362.5L351.9 361.8L354.8 361.2L357.7 360.9L360.6 360.9L363.5 360.4L366.4 359.9L369.3 360.0L372.2 359.8L375.1 359.7L378.0 359.8L380.9 359.9L383.8 360.4L386.7 361.3L389.6 362.5L392.5 363.7L395.4 364.8L398.3 366.3L401.2 368.0L404.1 369.9L407.0 371.7L409.9 373.3L412.8 375.0L415.7 376.8L418.6 378.2L421.5 379.8L424.4 381.6L427.3 383.9L430.2 386.5L433.1 389.2L436.0 391.8L438.9 394.1L441.8 396.4L444.7 398.8L447.6 401.1L450.5 403.1L453.4 405.3L456.3 407.6L459.2 410.1L462.1 412.8L465.0 415.5L467.9 418.3L470.8 421.1L473.7 423.8L476.6 426.4L479.5 428.8L482.4 431.0L485.3 433.6L488.2 436.4L491.1 438.8L494.0 441.7L496.9 445.0L499.8 448.1L502.7 451.3L505.6 454.1L508.5 457.0L511.4 460.5L514.3 463.7L517.2 467.1L520.1 470.4L523.0 473.5L525.9 476.7L528.8 479.9L531.7 483.3L534.6 486.7L537.5 489.7L540.4 493.0L543.3 496.2L546.2 499.2L549.1 502.2L552.0 505.0L554.9 507.5L557.8 510.0L560.7 512.1L563.6 513.4L566.5 514.4L569.4 515.0L572.3 516.0L575.2 517.0L578.1 517.7L581.0 518.2L583.9 518.9L586.8 519.2L589.7 519.2L592.6 519.0L595.5 518.8L598.4 518.7" stroke="#a5db36" stroke-width="1.35" fill="none" stroke-linejoin="round"/>
<path d="M73.5 519.4L76.4 520.6L79.3 522.1L82.2 523.3L85.1 524.5L88.0 525.8L90.9 526.7L93.8 526.9L96.7 526.8L99.6 526.7L102.5 526.0L105.4 525.3L108.3 524.6L111.2 523.7L114.1 523.0L117.0 522.3L119.9 521.5L122.8 520.1L125.7 518.4L128.6 516.9L131.5 515.3L134.4 513.9L137.3 512.6L140.2 511.0L143.1 509.4L146.0 508.0L148.9 506.6L151.8 505.0L154.7 502.9L157.6 500.6L160.5 498.4L163.4 496.3L166.3 494.0L169.2 491.7L172.1 489.4L175.0 486.9L177.9 484.7L180.8 482.7L183.7 480.9L186.6 478.8L189.5 476.6L192.4 474.4L195.3 471.9L198.2 469.0L201.1 465.9L204.0 462.5L206.9 459.3L209.8 456.0L212.7 453.2L215.6 450.6L218.5 447.8L221.4 445.2L224.3 442.6L227.2 439.9L230.1 437.1L233.0 434.7L235.9 432.4L238.8 429.7L241.7 426.7L244.6 423.7L247.5 420.9L250.4 418.3L253.3 415.7L256.2 413.4L259.1 411.6L262.0 410.1L264.9 408.7L267.8 407.2L270.7 405.6L273.6 403.6L276.5 401.4L279.4 399.2L282.3 397.0L285.2 394.6L288.1 392.1L291.0 389.7L293.9 387.6L296.8 385.0L299.7 382.4L302.6 380.2L305.5 378.6L308.4 377.3L311.3 375.7L314.2 374.5L317.1 373.4L320.0 372.0L322.9 371.0L325.8 370.2L328.7 369.1L331.6 368.0L334.5 366.9L337.4 366.0L340.3 365.0L343.2 363.9L346.1 363.2L349.0 362.6L351.9 361.9L354.8 361.2L357.7 360.8L360.6 360.5L363.5 360.0L366.4 359.6L369.3 359.3L372.2 358.9L375.1 359.0L378.0 359.2L380.9 359.7L383.8 360.2L386.7 361.1L389.6 362.3L392.5 363.7L395.4 364.7L398.3 365.7L401.2 367.4L404.1 369.1L407.0 370.3L409.9 371.7L412.8 373.3L415.7 375.3L418.6 377.3L421.5 379.3L424.4 382.1L427.3 384.9L430.2 387.5L433.1 389.9L436.0 392.4L438.9 394.8L441.8 396.6L444.7 398.6L447.6 400.7L450.5 402.8L453.4 405.0L456.3 407.3L459.2 409.5L462.1 412.2L465.0 415.1L467.9 417.8L470.8 420.6L473.7 423.4L476.6 425.9L479.5 428.4L482.4 430.9L485.3 433.5L488.2 436.0L491.1 438.7L494.0 441.6L496.9 444.8L499.8 448.0L502.7 451.0L505.6 453.7L508.5 456.0L511.4 458.8L514.3 461.7L517.2 465.1L520.1 468.6L523.0 472.1L525.9 475.7L528.8 479.2L531.7 482.9L534.6 486.4L537.5 489.6L540.4 492.8L543.3 495.9L546.2 498.8L549.1 501.5L552.0 504.1L554.9 506.8L557.8 509.3L560.7 511.2L563.6 512.5L566.5 513.2L569.4 514.0L572.3 515.0L575.2 516.0L578.1 517.0L581.0 517.9L583.9 518.4L586.8 518.7L589.7 518.7L592.6 518.6L595.5 518.8L598.4 518.9" stroke="#b2dd2d" stroke-width="1.35" fill="none" stroke-linejoin="round"/>
<path d="M73.5 519.2L76.4 520.3L79.3 521.5L82.2 522.6L85.1 523.7L88.0 524.6L90.9 525.3L93.8 525.5L96.7 525.5L99.6 525.7L102.5 525.3L105.4 524.8L108.3 524.5L111.2 523.8L114.1 522.8L117.0 521.7L119.9 520.5L122.8 519.1L125.7 517.5L128.6 516.0L131.5 514.4L134.4 512.7L137.3 511.0L140.2 509.8L143.1 509.0L146.0 507.9L148.9 506.4L151.8 504.6L154.7 502.5L157.6 500.0L160.5 497.7L163.4 495.6L166.3 493.7L169.2 492.0L172.1 489.7L175.0 487.2L177.9 484.9L180.8 482.5L183.7 480.1L186.6 477.6L189.5 475.2L192.4 472.7L195.3 470.3L198.2 467.7L201.1 464.7L204.0 461.7L206.9 458.8L209.8 455.7L212.7 453.0L215.6 450.3L218.5 447.5L221.4 444.7L224.3 442.1L227.2 439.3L230.1 436.4L233.0 434.1L235.9 431.9L238.8 429.3L241.7 426.4L244.6 423.4L247.5 420.3L250.4 417.1L253.3 414.6L256.2 412.2L259.1 410.1L262.0 408.6L264.9 407.6L267.8 406.5L270.7 404.9L273.6 403.1L276.5 401.1L279.4 398.8L282.3 396.7L285.2 394.6L288.1 392.4L291.0 390.3L293.9 388.1L296.8 385.5L299.7 383.1L302.6 381.2L305.5 379.1L308.4 376.8L311.3 374.6L314.2 372.9L317.1 371.6L320.0 370.5L322.9 369.4L325.8 368.6L328.7 368.2L331.6 367.6L334.5 366.9L337.4 366.1L340.3 365.1L343.2 364.0L346.1 363.2L349.0 362.6L351.9 362.1L354.8 361.6L357.7 361.0L360.6 360.1L363.5 359.4L366.4 359.1L369.3 358.9L372.2 358.9L375.1 359.1L378.0 359.1L380.9 359.6L383.8 360.2L386.7 360.8L389.6 361.6L392.5 362.6L395.4 363.8L398.3 365.5L401.2 367.3L404.1 369.0L407.0 370.6L409.9 372.1L412.8 373.5L415.7 374.9L418.6 376.3L421.5 378.3L424.4 381.0L427.3 383.6L430.2 386.5L433.1 389.3L436.0 391.8L438.9 394.3L441.8 396.5L444.7 398.4L447.6 400.2L450.5 402.1L453.4 404.2L456.3 406.5L459.2 408.9L462.1 411.6L465.0 414.6L467.9 417.7L470.8 420.6L473.7 423.1L476.6 426.0L479.5 428.7L482.4 431.3L485.3 433.7L488.2 436.4L491.1 439.2L494.0 441.8L496.9 444.6L499.8 447.3L502.7 450.0L505.6 452.7L508.5 454.9L511.4 457.6L514.3 460.7L517.2 464.4L520.1 467.9L523.0 471.4L525.9 474.8L528.8 478.2L531.7 481.5L534.6 484.8L537.5 488.3L540.4 491.9L543.3 495.0L546.2 497.9L549.1 500.8L552.0 503.3L554.9 505.8L557.8 507.9L560.7 509.5L563.6 510.9L566.5 511.8L569.4 512.7L572.3 513.7L575.2 514.9L578.1 516.0L581.0 516.8L583.9 517.4L586.8 518.0L589.7 518.6L592.6 519.1L595.5 519.4L598.4 519.5" stroke="#c2df23" stroke-width="1.35" fill="none" stroke-linejoin="round"/>
<path d="M73.5 519.1L76.4 519.6L79.3 520.5L82.2 521.7L85.1 522.7L88.0 523.4L90.9 524.1L93.8 524.4L96.7 524.5L99.6 524.5L102.5 524.2L105.4 523.9L108.3 523.5L111.2 523.0L114.1 522.4L117.0 521.5L119.9 520.5L122.8 519.3L125.7 517.6L128.6 515.8L131.5 514.2L134.4 512.9L137.3 511.5L140.2 510.2L143.1 508.8L146.0 507.5L148.9 506.4L151.8 504.7L154.7 502.5L157.6 500.1L160.5 498.0L163.4 496.0L166.3 493.7L169.2 491.7L172.1 489.3L175.0 486.8L177.9 484.2L180.8 482.0L183.7 480.1L186.6 477.7L189.5 475.3L192.4 473.1L195.3 470.8L198.2 468.2L201.1 464.9L204.0 461.4L206.9 458.2L209.8 454.9L212.7 451.8L215.6 449.2L218.5 446.8L221.4 444.1L224.3 441.5L227.2 438.9L230.1 436.2L233.0 433.5L235.9 431.1L238.8 428.5L241.7 425.4L244.6 422.2L247.5 419.1L250.4 416.4L253.3 414.2L256.2 411.8L259.1 409.5L262.0 407.5L264.9 405.9L267.8 404.5L270.7 403.2L273.6 401.8L276.5 400.0L279.4 398.1L282.3 396.1L285.2 393.7L288.1 391.6L291.0 389.6L293.9 387.5L296.8 385.2L299.7 382.7L302.6 380.8L305.5 378.9L308.4 376.6L311.3 374.5L314.2 372.7L317.1 370.8L320.0 369.4L322.9 368.3L325.8 367.7L328.7 367.1L331.6 366.1L334.5 365.2L337.4 364.7L340.3 363.9L343.2 362.9L346.1 362.3L349.0 362.2L351.9 361.8L354.8 361.3L357.7 360.8L360.6 360.1L363.5 359.6L366.4 359.1L369.3 358.7L372.2 358.7L375.1 358.7L378.0 358.8L380.9 359.4L383.8 359.8L386.7 360.4L389.6 361.2L392.5 362.3L395.4 363.4L398.3 364.8L401.2 366.4L404.1 368.0L407.0 369.7L409.9 371.0L412.8 372.4L415.7 374.1L418.6 376.0L421.5 377.9L424.4 380.1L427.3 382.7L430.2 385.5L433.1 388.5L436.0 391.3L438.9 393.9L441.8 396.1L444.7 397.8L447.6 399.8L450.5 402.1L453.4 404.3L456.3 406.5L459.2 409.2L462.1 412.1L465.0 415.0L467.9 417.6L470.8 420.4L473.7 423.4L476.6 426.2L479.5 428.8L482.4 431.2L485.3 433.5L488.2 435.9L491.1 438.6L494.0 441.8L496.9 444.7L499.8 447.1L502.7 449.5L505.6 451.9L508.5 454.4L511.4 457.1L514.3 460.0L517.2 463.5L520.1 467.1L523.0 470.7L525.9 474.3L528.8 477.5L531.7 481.0L534.6 484.7L537.5 488.3L540.4 491.5L543.3 494.3L546.2 497.2L549.1 499.8L552.0 502.2L554.9 504.7L557.8 507.1L560.7 508.9L563.6 510.1L566.5 511.2L569.4 511.9L572.3 512.6L575.2 513.5L578.1 514.4L581.0 515.3L583.9 516.1L586.8 516.8L589.7 517.7L592.6 518.0L595.5 518.2L598.4 518.4" stroke="#d2e21b" stroke-width="1.35" fill="none" stroke-linejoin="round"/>
<path d="M73.5 518.7L76.4 519.5L79.3 520.5L82.2 521.5L85.1 522.4L88.0 523.2L90.9 523.9L93.8 524.1L96.7 524.2L99.6 524.2L102.5 523.9L105.4 523.9L108.3 523.6L111.2 523.0L114.1 522.3L117.0 521.3L119.9 520.2L122.8 518.7L125.7 517.1L128.6 515.7L131.5 514.2L134.4 512.7L137.3 511.4L140.2 510.2L143.1 508.9L146.0 507.8L148.9 506.7L151.8 505.1L154.7 503.1L157.6 500.7L160.5 498.7L163.4 496.7L166.3 494.5L169.2 492.4L172.1 490.0L175.0 487.2L177.9 484.6L180.8 482.5L183.7 480.2L186.6 478.1L189.5 475.9L192.4 473.5L195.3 471.1L198.2 468.5L201.1 465.3L204.0 461.4L206.9 457.7L209.8 454.6L212.7 451.7L215.6 449.0L218.5 446.5L221.4 443.9L224.3 441.4L227.2 438.6L230.1 435.9L233.0 433.2L235.9 430.7L238.8 428.0L241.7 424.9L244.6 421.8L247.5 419.1L250.4 416.2L253.3 413.3L256.2 410.5L259.1 408.2L262.0 406.4L264.9 405.0L267.8 403.6L270.7 402.1L273.6 400.6L276.5 399.0L279.4 397.0L282.3 394.8L285.2 392.6L288.1 390.3L291.0 388.2L293.9 386.4L296.8 384.1L299.7 381.9L302.6 380.0L305.5 377.8L308.4 375.6L311.3 373.3L314.2 371.3L317.1 369.7L320.0 368.5L322.9 367.3L325.8 366.6L328.7 366.0L331.6 365.4L334.5 364.7L337.4 364.0L340.3 363.3L343.2 362.6L346.1 361.8L349.0 361.4L351.9 361.1L354.8 360.7L357.7 360.1L360.6 359.6L363.5 359.2L366.4 359.0L369.3 358.8L372.2 358.6L375.1 358.4L378.0 358.7L380.9 359.4L383.8 359.8L386.7 360.3L389.6 360.8L392.5 361.6L395.4 362.8L398.3 363.9L401.2 365.6L404.1 367.5L407.0 369.0L409.9 370.4L412.8 372.0L415.7 373.7L418.6 375.2L421.5 377.0L424.4 379.4L427.3 381.8L430.2 384.2L433.1 387.3L436.0 390.3L438.9 393.1L441.8 395.4L444.7 397.5L447.6 399.8L450.5 402.1L453.4 404.7L456.3 407.1L459.2 409.7L462.1 412.7L465.0 415.6L467.9 418.1L470.8 420.9L473.7 423.8L476.6 426.4L479.5 428.7L482.4 431.1L485.3 433.5L488.2 436.1L491.1 438.9L494.0 441.9L496.9 444.7L499.8 446.9L502.7 449.0L505.6 451.5L508.5 454.0L511.4 456.7L514.3 459.8L517.2 463.3L520.1 466.7L523.0 470.3L525.9 473.8L528.8 477.1L531.7 480.6L534.6 484.2L537.5 487.8L540.4 490.9L543.3 493.8L546.2 496.6L549.1 499.4L552.0 501.8L554.9 504.0L557.8 506.1L560.7 507.8L563.6 509.0L566.5 510.1L569.4 511.2L572.3 512.1L575.2 512.9L578.1 513.8L581.0 514.4L583.9 514.8L586.8 515.1L589.7 515.5L592.6 515.8L595.5 515.8L598.4 515.5" stroke="#e2e418" stroke-width="1.35" fill="none" stroke-linejoin="round"/>
<path d="M73.5 518.2L76.4 519.1L79.3 520.2L82.2 521.4L85.1 522.4L88.0 523.3L90.9 524.0L93.8 524.5L96.7 524.9L99.6 524.8L102.5 524.3L105.4 523.8L108.3 523.5L111.2 523.0L114.1 522.0L117.0 521.3L119.9 520.5L122.8 519.2L125.7 517.8L128.6 516.3L131.5 515.0L134.4 513.6L137.3 512.0L140.2 510.6L143.1 509.3L146.0 508.3L148.9 507.2L151.8 505.5L154.7 503.2L157.6 500.6L160.5 498.3L163.4 496.1L166.3 494.3L169.2 492.7L172.1 490.9L175.0 488.7L177.9 486.4L180.8 484.0L183.7 481.5L186.6 479.0L189.5 476.2L192.4 473.6L195.3 471.1L198.2 468.3L201.1 464.5L204.0 460.7L206.9 457.3L209.8 454.2L212.7 451.4L215.6 448.5L218.5 445.7L221.4 442.9L224.3 440.1L227.2 437.3L230.1 434.9L233.0 432.5L235.9 429.9L238.8 427.2L241.7 424.2L244.6 421.3L247.5 418.5L250.4 415.6L253.3 413.0L256.2 411.1L259.1 409.2L262.0 407.1L264.9 405.5L267.8 403.8L270.7 402.1L273.6 400.0L276.5 397.6L279.4 395.3L282.3 393.4L285.2 391.6L288.1 389.5L291.0 387.3L293.9 385.0L296.8 382.9L299.7 381.0L302.6 378.9L305.5 376.5L308.4 374.3L311.3 372.3L314.2 370.4L317.1 368.7L320.0 367.7L322.9 366.8L325.8 366.0L328.7 365.4L331.6 364.8L334.5 364.0L337.4 363.4L340.3 362.6L343.2 361.9L346.1 361.5L349.0 361.4L351.9 361.0L354.8 360.7L357.7 360.5L360.6 360.2L363.5 359.5L366.4 358.9L369.3 358.4L372.2 358.1L375.1 357.8L378.0 357.6L380.9 358.1L383.8 358.6L386.7 359.2L389.6 359.8L392.5 360.7L395.4 361.7L398.3 363.0L401.2 364.6L404.1 366.6L407.0 368.2L409.9 369.7L412.8 371.4L415.7 373.3L418.6 375.2L421.5 377.5L424.4 379.7L427.3 381.9L430.2 384.6L433.1 387.3L436.0 389.7L438.9 392.1L441.8 394.7L444.7 397.3L447.6 399.7L450.5 402.3L453.4 405.1L456.3 407.8L459.2 410.5L462.1 413.4L465.0 416.4L467.9 419.2L470.8 421.7L473.7 423.9L476.6 426.2L479.5 428.6L482.4 430.8L485.3 433.0L488.2 435.8L491.1 438.6L494.0 441.4L496.9 444.1L499.8 446.6L502.7 449.1L505.6 451.6L508.5 453.9L511.4 456.3L514.3 459.1L517.2 462.5L520.1 466.2L523.0 469.8L525.9 473.6L528.8 477.5L531.7 481.1L534.6 484.4L537.5 487.2L540.4 489.8L543.3 492.5L546.2 495.3L549.1 498.3L552.0 500.7L554.9 503.1L557.8 505.6L560.7 507.5L563.6 508.8L566.5 510.1L569.4 510.9L572.3 511.3L575.2 511.8L578.1 512.5L581.0 513.0L583.9 513.5L586.8 513.9L589.7 514.4L592.6 514.6L595.5 514.6L598.4 514.6" stroke="#f1e51d" stroke-width="1.35" fill="none" stroke-linejoin="round"/>
<path d="M73.5 517.4L76.4 518.4L79.3 520.1L82.2 521.5L85.1 522.7L88.0 523.7L90.9 524.3L93.8 524.9L96.7 525.0L99.6 524.9L102.5 524.7L105.4 524.6L108.3 524.2L111.2 523.5L114.1 522.6L117.0 521.7L119.9 520.6L122.8 519.3L125.7 517.6L128.6 516.0L131.5 514.6L134.4 513.1L137.3 511.8L140.2 510.6L143.1 509.5L146.0 508.4L148.9 507.2L151.8 505.4L154.7 503.4L157.6 501.2L160.5 499.1L163.4 496.8L166.3 494.6L169.2 492.7L172.1 490.9L175.0 488.5L177.9 486.0L180.8 483.8L183.7 481.5L186.6 478.9L189.5 476.3L192.4 473.9L195.3 471.2L198.2 468.1L201.1 464.5L204.0 461.0L206.9 457.6L209.8 454.2L212.7 451.2L215.6 448.2L218.5 445.3L221.4 442.3L224.3 439.6L227.2 436.9L230.1 433.9L233.0 431.1L235.9 428.5L238.8 425.8L241.7 423.3L244.6 420.6L247.5 417.9L250.4 415.3L253.3 412.8L256.2 410.7L259.1 409.1L262.0 407.4L264.9 405.8L267.8 404.2L270.7 402.2L273.6 400.3L276.5 398.2L279.4 395.8L282.3 393.2L285.2 390.7L288.1 388.2L291.0 386.1L293.9 383.9L296.8 381.6L299.7 379.4L302.6 377.5L305.5 375.7L308.4 373.4L311.3 371.0L314.2 369.4L317.1 368.2L320.0 367.0L322.9 366.2L325.8 365.9L328.7 365.1L331.6 364.2L334.5 363.7L337.4 363.4L340.3 363.0L343.2 362.4L346.1 361.7L349.0 361.1L351.9 360.4L354.8 360.0L357.7 359.7L360.6 359.5L363.5 359.3L366.4 359.0L369.3 358.3L372.2 357.6L375.1 357.5L378.0 357.5L380.9 357.6L383.8 357.8L386.7 358.4L389.6 359.2L392.5 359.9L395.4 360.8L398.3 362.5L401.2 364.4L404.1 366.4L407.0 368.2L409.9 370.2L412.8 372.2L415.7 374.1L418.6 375.9L421.5 377.8L424.4 379.8L427.3 382.1L430.2 384.8L433.1 387.6L436.0 390.3L438.9 392.8L441.8 395.1L444.7 397.6L447.6 399.8L450.5 402.4L453.4 405.1L456.3 407.6L459.2 410.2L462.1 413.1L465.0 416.1L467.9 419.1L470.8 421.6L473.7 423.9L476.6 426.5L479.5 429.2L482.4 431.6L485.3 433.7L488.2 435.9L491.1 438.4L494.0 440.9L496.9 443.4L499.8 445.9L502.7 448.3L505.6 450.4L508.5 452.8L511.4 455.8L514.3 459.3L517.2 462.8L520.1 466.3L523.0 469.6L525.9 472.9L528.8 476.4L531.7 479.7L534.6 482.8L537.5 486.1L540.4 489.1L543.3 491.9L546.2 494.7L549.1 497.6L552.0 500.3L554.9 502.8L557.8 505.2L560.7 507.2L563.6 508.5L566.5 509.4L569.4 510.3L572.3 511.1L575.2 511.9L578.1 513.0L581.0 513.4L583.9 513.9L586.8 514.5L589.7 515.1L592.6 515.4L595.5 515.4L598.4 515.9" stroke="#fde725" stroke-width="1.35" fill="none" stroke-linejoin="round"/>
<path d="M73.5 528.5L76.4 529.3L79.3 530.2L82.2 531.0L85.1 531.5L88.0 531.8L90.9 532.0L93.8 531.9L96.7 531.7L99.6 531.3L102.5 530.7L105.4 530.1L108.3 529.3L111.2 528.4L114.1 527.5L117.0 526.5L119.9 525.6L122.8 524.6L125.7 523.5L128.6 522.3L131.5 521.0L134.4 519.6L137.3 518.4L140.2 517.1L143.1 515.7L146.0 514.2L148.9 512.6L151.8 510.8L154.7 508.8L157.6 506.6L160.5 504.3L163.4 501.9L166.3 499.7L169.2 497.4L172.1 495.2L175.0 493.1L177.9 490.9L180.8 488.6L183.7 486.2L186.6 483.8L189.5 481.4L192.4 479.0L195.3 476.7L198.2 474.2L201.1 471.2L204.0 467.7L206.9 464.4L209.8 461.5L212.7 459.0L215.6 456.4L218.5 453.8L221.4 451.1L224.3 448.5L227.2 445.8L230.1 443.1L233.0 440.3L235.9 437.5L238.8 434.6L241.7 431.7L244.6 428.9L247.5 426.2L250.4 423.8L253.3 421.5L256.2 419.4L259.1 417.5L262.0 415.7L264.9 413.9L267.8 412.0L270.7 410.1L273.6 408.0L276.5 405.7L279.4 403.4L282.3 401.1L285.2 398.9L288.1 396.9L291.0 394.9L293.9 393.0L296.8 391.1L299.7 389.3L302.6 387.6L305.5 386.0L308.4 384.6L311.3 383.3L314.2 382.0L317.1 380.8L320.0 379.6L322.9 378.5L325.8 377.4L328.7 376.4L331.6 375.3L334.5 374.2L337.4 373.2L340.3 372.4L343.2 371.8L346.1 371.1L349.0 370.6L351.9 369.9L354.8 369.1L357.7 368.3L360.6 367.6L363.5 367.0L366.4 366.6L369.3 366.2L372.2 365.9L375.1 365.7L378.0 365.6L380.9 365.7L383.8 365.9L386.7 366.5L389.6 367.4L392.5 368.6L395.4 369.9L398.3 371.4L401.2 373.1L404.1 375.0L407.0 377.0L409.9 378.9L412.8 380.7L415.7 382.3L418.6 383.8L421.5 385.6L424.4 387.7L427.3 389.9L430.2 392.1L433.1 394.2L436.0 396.3L438.9 398.4L441.8 400.5L444.7 402.4L447.6 404.2L450.5 406.0L453.4 407.9L456.3 409.9L459.2 412.2L462.1 414.7L465.0 417.4L467.9 420.0L470.8 422.6L473.7 425.2L476.6 427.7L479.5 430.1L482.4 432.5L485.3 434.9L488.2 437.4L491.1 440.1L494.0 443.1L496.9 446.7L499.8 450.5L502.7 454.2L505.6 457.5L508.5 460.6L511.4 463.6L514.3 466.7L517.2 469.9L520.1 473.3L523.0 476.7L525.9 480.0L528.8 483.4L531.7 486.8L534.6 490.2L537.5 493.4L540.4 496.6L543.3 499.6L546.2 502.5L549.1 505.2L552.0 507.9L554.9 510.4L557.8 512.7L560.7 514.6L563.6 516.3L566.5 517.7L569.4 519.2L572.3 520.6L575.2 522.0L578.1 523.3L581.0 524.4L583.9 525.4L586.8 526.2L589.7 526.8L592.6 527.5L595.5 528.1L598.4 528.5" stroke="#fffdf0" stroke-width="2.1" fill="none" stroke-linejoin="round"/>
<path d="M73.8 510.4L77.6 515.0L81.4 516.0L85.2 514.2L91.5 509.2L97.9 507.9L103.0 506.6L108.0 508.7L111.8 505.4L115.6 502.1L119.4 503.6L124.5 506.6L130.8 502.8L137.2 504.1L142.2 501.6L147.3 495.2L153.7 487.6L160.0 485.9L165.1 481.3L170.1 471.2L175.2 467.3L180.3 466.1L187.1 460.5L194.2 465.3L199.8 461.0L200.0 460.7L203.8 451.8L207.6 444.2L212.7 439.6L217.7 437.9L222.8 431.5L226.6 425.2L229.2 421.4L231.7 422.2L235.5 418.9L240.6 416.3L245.1 416.3L249.4 420.1L253.2 419.4L258.3 422.7L263.4 419.4L268.4 417.6L273.5 415.1L277.3 408.7L283.7 399.8L291.3 388.4L298.9 377.0L305.2 364.4L310.3 355.5L315.3 349.9L320.4 347.4L324.2 349.9L329.3 350.9L335.6 353.0L340.7 352.2L345.8 353.0L349.6 356.2L352.6 359.5" stroke="#ff0000" stroke-width="2.35" fill="none" stroke-linejoin="round"/>
<circle cx="352.7" cy="359.8" r="2.9" fill="#ff0000"/>
<path d="M352.5 319.5V597" stroke="#1fb2e8" stroke-width="1" stroke-dasharray="1 0.95" fill="none"/>
</g>
<path d="M73.5 -5V292.5H598.5V-5M73.5 597V319.5H598.5V597" stroke="#cfcfcf" stroke-width="1" fill="none"/>
<path d="M73.5 267.5h5M598.5 267.5h-5M73.5 242.5h5M598.5 242.5h-5M73.5 217.5h5M598.5 217.5h-5M73.5 191.5h5M598.5 191.5h-5M73.5 166.5h5M598.5 166.5h-5M73.5 141.5h5M598.5 141.5h-5M73.5 116.5h5M598.5 116.5h-5M73.5 91.5h5M598.5 91.5h-5M73.5 66.5h5M598.5 66.5h-5M73.5 41.5h5M598.5 41.5h-5M73.5 16.5h5M598.5 16.5h-5M73.5 582.5h5M598.5 582.5h-5M73.5 557.5h5M598.5 557.5h-5M73.5 531.5h5M598.5 531.5h-5M73.5 506.5h5M598.5 506.5h-5M73.5 481.5h5M598.5 481.5h-5M73.5 455.5h5M598.5 455.5h-5M73.5 430.5h5M598.5 430.5h-5M73.5 404.5h5M598.5 404.5h-5M73.5 379.5h5M598.5 379.5h-5M73.5 354.5h5M598.5 354.5h-5M73.5 328.5h5M598.5 328.5h-5M117.5 292.5v-5M117.5 319.5v5M158.5 292.5v-5M158.5 319.5v5M202.5 292.5v-5M202.5 319.5v5M245.5 292.5v-5M245.5 319.5v5M290.5 292.5v-5M290.5 319.5v5M333.5 292.5v-5M333.5 319.5v5M378.5 292.5v-5M378.5 319.5v5M422.5 292.5v-5M422.5 319.5v5M466.5 292.5v-5M466.5 319.5v5M510.5 292.5v-5M510.5 319.5v5M553.5 292.5v-5M553.5 319.5v5" stroke="#cfcfcf" stroke-width="1" fill="none"/>
<rect x="330.2" y="289" width="43.5" height="3" fill="#1fb2e8"/>
<text x="67.6" y="272.0" font-size="11.8" fill="#fff" text-anchor="end">25</text>
<text x="67.6" y="247.0" font-size="11.8" fill="#fff" text-anchor="end">50</text>
<text x="67.6" y="222.0" font-size="11.8" fill="#fff" text-anchor="end">75</text>
<text x="67.6" y="196.0" font-size="11.8" fill="#fff" text-anchor="end">100</text>
<text x="67.6" y="171.0" font-size="11.8" fill="#fff" text-anchor="end">125</text>
<text x="67.6" y="146.0" font-size="11.8" fill="#fff" text-anchor="end">150</text>
<text x="67.6" y="121.0" font-size="11.8" fill="#fff" text-anchor="end">175</text>
<text x="67.6" y="96.0" font-size="11.8" fill="#fff" text-anchor="end">200</text>
<text x="67.6" y="71.0" font-size="11.8" fill="#fff" text-anchor="end">225</text>
<text x="67.6" y="46.0" font-size="11.8" fill="#fff" text-anchor="end">250</text>
<text x="67.6" y="21.0" font-size="11.8" fill="#fff" text-anchor="end">275</text>
<text x="67.6" y="587.2" font-size="11.8" fill="#fff" text-anchor="end">−9</text>
<text x="67.6" y="562.2" font-size="11.8" fill="#fff" text-anchor="end">−6</text>
<text x="67.6" y="536.2" font-size="11.8" fill="#fff" text-anchor="end">−3</text>
<text x="67.6" y="511.2" font-size="11.8" fill="#fff" text-anchor="end">0</text>
<text x="67.6" y="486.2" font-size="11.8" fill="#fff" text-anchor="end">3</text>
<text x="67.6" y="460.2" font-size="11.8" fill="#fff" text-anchor="end">6</text>
<text x="67.6" y="435.2" font-size="11.8" fill="#fff" text-anchor="end">9</text>
<text x="67.6" y="409.2" font-size="11.8" fill="#fff" text-anchor="end">12</text>
<text x="67.6" y="384.2" font-size="11.8" fill="#fff" text-anchor="end">15</text>
<text x="67.6" y="359.2" font-size="11.8" fill="#fff" text-anchor="end">18</text>
<text x="67.6" y="333.2" font-size="11.8" fill="#fff" text-anchor="end">21</text>
<text x="94.9" y="306.8" font-size="11.8" fill="#fff" text-anchor="middle">Jän</text>
<text x="113.4" y="303.7" font-size="8.33" fill="#9a9a9a" textLength="8.3" lengthAdjust="spacingAndGlyphs">31</text>
<text x="138.2" y="306.8" font-size="11.8" fill="#fff" text-anchor="middle">Feb</text>
<text x="154.4" y="303.7" font-size="8.33" fill="#9a9a9a" textLength="8.3" lengthAdjust="spacingAndGlyphs">28</text>
<text x="179.3" y="306.8" font-size="11.8" fill="#fff" text-anchor="middle">Mär</text>
<text x="198.4" y="303.7" font-size="8.33" fill="#9a9a9a" textLength="8.3" lengthAdjust="spacingAndGlyphs">31</text>
<text x="223.4" y="306.8" font-size="11.8" fill="#fff" text-anchor="middle">Apr</text>
<text x="241.4" y="303.7" font-size="8.33" fill="#9a9a9a" textLength="8.3" lengthAdjust="spacingAndGlyphs">30</text>
<text x="266.5" y="306.8" font-size="11.8" fill="#fff" text-anchor="middle">Mai</text>
<text x="286.4" y="303.7" font-size="8.33" fill="#9a9a9a" textLength="8.3" lengthAdjust="spacingAndGlyphs">31</text>
<text x="311.6" y="306.8" font-size="11.8" fill="#fff" text-anchor="middle">Jun</text>
<text x="329.4" y="303.7" font-size="8.33" fill="#9a9a9a" textLength="8.3" lengthAdjust="spacingAndGlyphs">30</text>
<text x="354.8" y="306.8" font-size="11.8" fill="#fff" text-anchor="middle">Jul</text>
<text x="374.4" y="303.7" font-size="8.33" fill="#9a9a9a" textLength="8.3" lengthAdjust="spacingAndGlyphs">31</text>
<text x="399.9" y="306.8" font-size="11.8" fill="#fff" text-anchor="middle">Aug</text>
<text x="418.4" y="303.7" font-size="8.33" fill="#9a9a9a" textLength="8.3" lengthAdjust="spacingAndGlyphs">31</text>
<text x="444.0" y="306.8" font-size="11.8" fill="#fff" text-anchor="middle">Sep</text>
<text x="462.4" y="303.7" font-size="8.33" fill="#9a9a9a" textLength="8.3" lengthAdjust="spacingAndGlyphs">30</text>
<text x="488.1" y="306.8" font-size="11.8" fill="#fff" text-anchor="middle">Okt</text>
<text x="506.4" y="303.7" font-size="8.33" fill="#9a9a9a" textLength="8.3" lengthAdjust="spacingAndGlyphs">31</text>
<text x="532.2" y="306.8" font-size="11.8" fill="#fff" text-anchor="middle">Nov</text>
<text x="549.4" y="303.7" font-size="8.33" fill="#9a9a9a" textLength="8.3" lengthAdjust="spacingAndGlyphs">30</text>
<text x="575.3" y="306.8" font-size="11.8" fill="#fff" text-anchor="middle">Dez</text>
<text x="594.4" y="303.7" font-size="8.33" fill="#9a9a9a" textLength="8.3" lengthAdjust="spacingAndGlyphs">31</text>
<text transform="translate(19.3 144.6) rotate(-90)" font-size="12.5" fill="#fff" text-anchor="middle">Niederschlagssumme [mm]</text>
<text transform="translate(34.6 144.6) rotate(-90)" font-size="9.72" fill="#a6a6a6" text-anchor="middle">gleitende Summe über 31-Tage Zeitfenster</text>
<text transform="translate(19.3 463.6) rotate(-90)" font-size="12.5" fill="#fff" text-anchor="middle">Mitteltemperatur [°C]</text>
<text transform="translate(34.6 468.8) rotate(-90)" font-size="9.72" fill="#a6a6a6" text-anchor="middle">gleitender Mittelwert über 31-Tage Zeitfenster</text>
<text x="583.9" y="17.8" font-size="12.5" font-weight="bold" fill="#fff" text-anchor="end">1961 bis 2025</text>
<text x="583.9" y="344.1" font-size="12.5" font-weight="bold" fill="#fff" text-anchor="end">1961 bis 2025</text>
<rect x="357.0" y="81.0" width="32.1" height="12.9" rx="1.5" fill="#ff0000"/>
<text x="373.2" y="91.1" font-size="9.72" font-weight="bold" fill="#fff" text-anchor="middle">2025</text>
<rect x="357.0" y="341.0" width="32.1" height="13.0" rx="1.5" fill="#ff0000"/>
<text x="373.2" y="351.0" font-size="9.72" font-weight="bold" fill="#fff" text-anchor="middle">2025</text>
<g transform="translate(80 0)" fill="none" stroke="#e4e4e4" stroke-width="1.15" stroke-linecap="round"><circle cx="6.33" cy="12.9" r="1.4"/><path d="M6.08 8.33C6.46 8.41 7.70 8.37 8.35 8.84C9.00 9.30 9.64 10.14 9.97 11.11C10.31 12.08 10.48 13.56 10.38 14.66C10.28 15.76 9.92 16.89 9.37 17.70C8.82 18.50 7.89 19.30 7.09 19.47C6.29 19.64 5.19 19.27 4.56 18.71C3.92 18.14 3.50 16.51 3.29 16.08"/><path d="M9.36 5.53C9.83 5.88 11.48 6.67 12.16 7.60C12.84 8.53 13.26 9.86 13.43 11.12C13.61 12.39 13.54 13.85 13.19 15.20C12.85 16.55 12.22 17.99 11.37 19.21C10.52 20.43 9.26 21.60 8.09 22.49C6.91 23.38 4.94 24.21 4.32 24.56"/><path d="M13.43 3.53C13.90 3.95 15.56 4.98 16.23 6.08C16.90 7.17 17.33 8.74 17.45 10.09C17.57 11.44 17.42 12.90 16.96 14.16C16.50 15.43 15.39 16.50 14.71 17.69C14.03 18.88 13.27 20.01 12.89 21.28C12.50 22.54 12.35 23.94 12.40 25.29C12.45 26.64 12.86 28.25 13.19 29.36C13.53 30.48 14.02 31.28 14.41 31.98C14.79 32.67 15.32 33.29 15.50 33.56"/><path d="M24.01 3.04C24.27 3.65 25.33 5.37 25.53 6.69C25.73 8.00 25.53 9.63 25.23 10.94C24.92 12.26 24.11 13.58 23.71 14.59C23.30 15.60 22.78 16.31 22.80 17.02C22.82 17.73 23.17 18.39 23.83 18.84C24.49 19.30 25.65 19.48 26.75 19.76C27.84 20.03 29.26 20.16 30.40 20.49C31.53 20.81 33.03 21.50 33.56 21.70"/><path d="M30.21 7.29C29.90 7.70 28.70 8.79 28.33 9.73C27.95 10.66 27.72 11.87 27.96 12.89C28.21 13.90 28.98 15.02 29.79 15.81C30.60 16.60 32.00 17.22 32.83 17.63C33.66 18.03 34.45 18.14 34.77 18.24"/><path d="M32.83 10.33C32.62 10.64 31.71 11.50 31.61 12.16C31.51 12.82 31.79 13.72 32.22 14.29C32.64 14.85 33.84 15.35 34.16 15.56"/><path d="M20.43 33.56C20.36 32.93 19.82 30.92 20.06 29.79C20.30 28.65 20.97 27.56 21.88 26.75C22.80 25.94 24.21 25.28 25.53 24.92C26.85 24.57 28.65 24.52 29.79 24.62C30.92 24.72 31.91 25.38 32.34 25.53"/><path d="M25.90 31.73C25.94 31.31 25.80 29.85 26.14 29.18C26.48 28.51 27.23 27.97 27.96 27.72C28.69 27.47 30.09 27.67 30.52 27.66"/><path d="M19.15 3.04C19.50 3.55 20.86 4.86 21.28 6.08C21.69 7.29 21.84 9.02 21.64 10.33C21.44 11.65 20.68 12.87 20.06 13.98C19.44 15.10 18.54 15.91 17.93 17.02C17.33 18.14 16.50 19.57 16.41 20.67C16.32 21.76 16.78 22.98 17.39 23.59C17.99 24.19 19.01 24.44 20.06 24.32C21.11 24.19 22.49 23.21 23.71 22.86C24.92 22.50 26.14 22.25 27.36 22.19C28.57 22.13 30.02 22.28 31.00 22.49C31.99 22.71 32.88 23.30 33.25 23.47" stroke="#adb63a"/></g><text x="120.5" y="15.6" font-family="'Liberation Sans',sans-serif" font-weight="bold" font-size="12" fill="#efefef">GeoSphere</text><text x="120.5" y="29.6" font-family="'Liberation Sans',sans-serif" font-size="12.6" fill="#dcdcdc" letter-spacing="0.3">Austria</text>
<g transform="translate(80 325.9)" fill="none" stroke="#e4e4e4" stroke-width="1.15" stroke-linecap="round"><circle cx="6.33" cy="12.9" r="1.4"/><path d="M6.08 8.33C6.46 8.41 7.70 8.37 8.35 8.84C9.00 9.30 9.64 10.14 9.97 11.11C10.31 12.08 10.48 13.56 10.38 14.66C10.28 15.76 9.92 16.89 9.37 17.70C8.82 18.50 7.89 19.30 7.09 19.47C6.29 19.64 5.19 19.27 4.56 18.71C3.92 18.14 3.50 16.51 3.29 16.08"/><path d="M9.36 5.53C9.83 5.88 11.48 6.67 12.16 7.60C12.84 8.53 13.26 9.86 13.43 11.12C13.61 12.39 13.54 13.85 13.19 15.20C12.85 16.55 12.22 17.99 11.37 19.21C10.52 20.43 9.26 21.60 8.09 22.49C6.91 23.38 4.94 24.21 4.32 24.56"/><path d="M13.43 3.53C13.90 3.95 15.56 4.98 16.23 6.08C16.90 7.17 17.33 8.74 17.45 10.09C17.57 11.44 17.42 12.90 16.96 14.16C16.50 15.43 15.39 16.50 14.71 17.69C14.03 18.88 13.27 20.01 12.89 21.28C12.50 22.54 12.35 23.94 12.40 25.29C12.45 26.64 12.86 28.25 13.19 29.36C13.53 30.48 14.02 31.28 14.41 31.98C14.79 32.67 15.32 33.29 15.50 33.56"/><path d="M24.01 3.04C24.27 3.65 25.33 5.37 25.53 6.69C25.73 8.00 25.53 9.63 25.23 10.94C24.92 12.26 24.11 13.58 23.71 14.59C23.30 15.60 22.78 16.31 22.80 17.02C22.82 17.73 23.17 18.39 23.83 18.84C24.49 19.30 25.65 19.48 26.75 19.76C27.84 20.03 29.26 20.16 30.40 20.49C31.53 20.81 33.03 21.50 33.56 21.70"/><path d="M30.21 7.29C29.90 7.70 28.70 8.79 28.33 9.73C27.95 10.66 27.72 11.87 27.96 12.89C28.21 13.90 28.98 15.02 29.79 15.81C30.60 16.60 32.00 17.22 32.83 17.63C33.66 18.03 34.45 18.14 34.77 18.24"/><path d="M32.83 10.33C32.62 10.64 31.71 11.50 31.61 12.16C31.51 12.82 31.79 13.72 32.22 14.29C32.64 14.85 33.84 15.35 34.16 15.56"/><path d="M20.43 33.56C20.36 32.93 19.82 30.92 20.06 29.79C20.30 28.65 20.97 27.56 21.88 26.75C22.80 25.94 24.21 25.28 25.53 24.92C26.85 24.57 28.65 24.52 29.79 24.62C30.92 24.72 31.91 25.38 32.34 25.53"/><path d="M25.90 31.73C25.94 31.31 25.80 29.85 26.14 29.18C26.48 28.51 27.23 27.97 27.96 27.72C28.69 27.47 30.09 27.67 30.52 27.66"/><path d="M19.15 3.04C19.50 3.55 20.86 4.86 21.28 6.08C21.69 7.29 21.84 9.02 21.64 10.33C21.44 11.65 20.68 12.87 20.06 13.98C19.44 15.10 18.54 15.91 17.93 17.02C17.33 18.14 16.50 19.57 16.41 20.67C16.32 21.76 16.78 22.98 17.39 23.59C17.99 24.19 19.01 24.44 20.06 24.32C21.11 24.19 22.49 23.21 23.71 22.86C24.92 22.50 26.14 22.25 27.36 22.19C28.57 22.13 30.02 22.28 31.00 22.49C31.99 22.71 32.88 23.30 33.25 23.47" stroke="#adb63a"/></g><text x="120.5" y="341.5" font-family="'Liberation Sans',sans-serif" font-weight="bold" font-size="12" fill="#efefef">GeoSphere</text><text x="120.5" y="355.5" font-family="'Liberation Sans',sans-serif" font-size="12.6" fill="#dcdcdc" letter-spacing="0.3">Austria</text>
<text x="696.3" y="33.7" font-size="9.72" fill="#fff" text-anchor="middle">20-Jahre Mittelwert</text>
<path d="M613.2 44.5h20.3" stroke="#440154" stroke-width="1"/>
<text x="638.2" y="46.9" font-size="9.72" fill="#fff" letter-spacing="-0.13">1961-1980</text>
<path d="M613.2 57.5h20.3" stroke="#46085c" stroke-width="1"/>
<text x="638.2" y="60.8" font-size="9.72" fill="#fff" letter-spacing="-0.13">1962-1981</text>
<path d="M613.2 71.5h20.3" stroke="#471164" stroke-width="1"/>
<text x="638.2" y="74.7" font-size="9.72" fill="#fff" letter-spacing="-0.13">1963-1982</text>
<path d="M613.2 85.5h20.3" stroke="#481a6c" stroke-width="1"/>
<text x="638.2" y="88.6" font-size="9.72" fill="#fff" letter-spacing="-0.13">1964-1983</text>
<path d="M613.2 99.5h20.3" stroke="#482173" stroke-width="1"/>
<text x="638.2" y="102.6" font-size="9.72" fill="#fff" letter-spacing="-0.13">1965-1984</text>
<path d="M613.2 113.5h20.3" stroke="#482979" stroke-width="1"/>
<text x="638.2" y="116.5" font-size="9.72" fill="#fff" letter-spacing="-0.13">1966-1985</text>
<path d="M613.2 127.5h20.3" stroke="#472f7d" stroke-width="1"/>
<text x="638.2" y="130.4" font-size="9.72" fill="#fff" letter-spacing="-0.13">1967-1986</text>
<path d="M613.2 141.5h20.3" stroke="#453781" stroke-width="1"/>
<text x="638.2" y="144.3" font-size="9.72" fill="#fff" letter-spacing="-0.13">1968-1987</text>
<path d="M613.2 155.5h20.3" stroke="#433e85" stroke-width="1"/>
<text x="638.2" y="158.2" font-size="9.72" fill="#fff" letter-spacing="-0.13">1969-1988</text>
<path d="M613.2 168.5h20.3" stroke="#404588" stroke-width="1"/>
<text x="638.2" y="172.1" font-size="9.72" fill="#fff" letter-spacing="-0.13">1970-1989</text>
<path d="M613.2 182.5h20.3" stroke="#3e4c8a" stroke-width="1"/>
<text x="638.2" y="186.0" font-size="9.72" fill="#fff" letter-spacing="-0.13">1971-1990</text>
<path d="M613.2 196.5h20.3" stroke="#3b528b" stroke-width="1"/>
<text x="638.2" y="200.0" font-size="9.72" fill="#fff" letter-spacing="-0.13">1972-1991</text>
<path d="M613.2 210.5h20.3" stroke="#38588c" stroke-width="1"/>
<text x="638.2" y="213.9" font-size="9.72" fill="#fff" letter-spacing="-0.13">1973-1992</text>
<path d="M613.2 224.5h20.3" stroke="#355e8d" stroke-width="1"/>
<text x="638.2" y="227.8" font-size="9.72" fill="#fff" letter-spacing="-0.13">1974-1993</text>
<path d="M613.2 238.5h20.3" stroke="#32648e" stroke-width="1"/>
<text x="638.2" y="241.7" font-size="9.72" fill="#fff" letter-spacing="-0.13">1975-1994</text>
<path d="M613.2 252.5h20.3" stroke="#306a8e" stroke-width="1"/>
<text x="638.2" y="255.6" font-size="9.72" fill="#fff" letter-spacing="-0.13">1976-1995</text>
<path d="M613.2 266.5h20.3" stroke="#2d708e" stroke-width="1"/>
<text x="638.2" y="269.5" font-size="9.72" fill="#fff" letter-spacing="-0.13">1977-1996</text>
<path d="M613.2 279.5h20.3" stroke="#2b748e" stroke-width="1"/>
<text x="638.2" y="283.5" font-size="9.72" fill="#fff" letter-spacing="-0.13">1978-1997</text>
<path d="M613.2 293.5h20.3" stroke="#297a8e" stroke-width="1"/>
<text x="638.2" y="297.4" font-size="9.72" fill="#fff" letter-spacing="-0.13">1979-1998</text>
<path d="M613.2 307.5h20.3" stroke="#27808e" stroke-width="1"/>
<text x="638.2" y="311.3" font-size="9.72" fill="#fff" letter-spacing="-0.13">1980-1999</text>
<path d="M613.2 321.5h20.3" stroke="#25858e" stroke-width="1"/>
<text x="638.2" y="325.2" font-size="9.72" fill="#fff" letter-spacing="-0.13">1981-2000</text>
<path d="M613.2 335.5h20.3" stroke="#228b8d" stroke-width="1"/>
<text x="638.2" y="339.1" font-size="9.72" fill="#fff" letter-spacing="-0.13">1982-2001</text>
<path d="M613.2 349.5h20.3" stroke="#21918c" stroke-width="1"/>
<text x="638.2" y="353.0" font-size="9.72" fill="#fff" letter-spacing="-0.13">1983-2002</text>
<path d="M702.3 44.5h20.3" stroke="#1f958b" stroke-width="1"/>
<text x="727.3" y="46.9" font-size="9.72" fill="#fff" letter-spacing="-0.13">1984-2003</text>
<path d="M702.3 57.5h20.3" stroke="#1e9b8a" stroke-width="1"/>
<text x="727.3" y="60.8" font-size="9.72" fill="#fff" letter-spacing="-0.13">1985-2004</text>
<path d="M702.3 71.5h20.3" stroke="#1fa188" stroke-width="1"/>
<text x="727.3" y="74.7" font-size="9.72" fill="#fff" letter-spacing="-0.13">1986-2005</text>
<path d="M702.3 85.5h20.3" stroke="#21a685" stroke-width="1"/>
<text x="727.3" y="88.6" font-size="9.72" fill="#fff" letter-spacing="-0.13">1987-2006</text>
<path d="M702.3 99.5h20.3" stroke="#25ac82" stroke-width="1"/>
<text x="727.3" y="102.6" font-size="9.72" fill="#fff" letter-spacing="-0.13">1988-2007</text>
<path d="M702.3 113.5h20.3" stroke="#2ab07f" stroke-width="1"/>
<text x="727.3" y="116.5" font-size="9.72" fill="#fff" letter-spacing="-0.13">1989-2008</text>
<path d="M702.3 127.5h20.3" stroke="#32b67a" stroke-width="1"/>
<text x="727.3" y="130.4" font-size="9.72" fill="#fff" letter-spacing="-0.13">1990-2009</text>
<path d="M702.3 141.5h20.3" stroke="#3bbb75" stroke-width="1"/>
<text x="727.3" y="144.3" font-size="9.72" fill="#fff" letter-spacing="-0.13">1991-2010</text>
<path d="M702.3 155.5h20.3" stroke="#46c06f" stroke-width="1"/>
<text x="727.3" y="158.2" font-size="9.72" fill="#fff" letter-spacing="-0.13">1992-2011</text>
<path d="M702.3 168.5h20.3" stroke="#52c569" stroke-width="1"/>
<text x="727.3" y="172.1" font-size="9.72" fill="#fff" letter-spacing="-0.13">1993-2012</text>
<path d="M702.3 182.5h20.3" stroke="#5ec962" stroke-width="1"/>
<text x="727.3" y="186.0" font-size="9.72" fill="#fff" letter-spacing="-0.13">1994-2013</text>
<path d="M702.3 196.5h20.3" stroke="#69cd5b" stroke-width="1"/>
<text x="727.3" y="200.0" font-size="9.72" fill="#fff" letter-spacing="-0.13">1995-2014</text>
<path d="M702.3 210.5h20.3" stroke="#77d153" stroke-width="1"/>
<text x="727.3" y="213.9" font-size="9.72" fill="#fff" letter-spacing="-0.13">1996-2015</text>
<path d="M702.3 224.5h20.3" stroke="#86d549" stroke-width="1"/>
<text x="727.3" y="227.8" font-size="9.72" fill="#fff" letter-spacing="-0.13">1997-2016</text>
<path d="M702.3 238.5h20.3" stroke="#95d840" stroke-width="1"/>
<text x="727.3" y="241.7" font-size="9.72" fill="#fff" letter-spacing="-0.13">1998-2017</text>
<path d="M702.3 252.5h20.3" stroke="#a5db36" stroke-width="1"/>
<text x="727.3" y="255.6" font-size="9.72" fill="#fff" letter-spacing="-0.13">1999-2018</text>
<path d="M702.3 266.5h20.3" stroke="#b2dd2d" stroke-width="1"/>
<text x="727.3" y="269.5" font-size="9.72" fill="#fff" letter-spacing="-0.13">2000-2019</text>
<path d="M702.3 279.5h20.3" stroke="#c2df23" stroke-width="1"/>
<text x="727.3" y="283.5" font-size="9.72" fill="#fff" letter-spacing="-0.13">2001-2020</text>
<path d="M702.3 293.5h20.3" stroke="#d2e21b" stroke-width="1"/>
<text x="727.3" y="297.4" font-size="9.72" fill="#fff" letter-spacing="-0.13">2002-2021</text>
<path d="M702.3 307.5h20.3" stroke="#e2e418" stroke-width="1"/>
<text x="727.3" y="311.3" font-size="9.72" fill="#fff" letter-spacing="-0.13">2003-2022</text>
<path d="M702.3 321.5h20.3" stroke="#f1e51d" stroke-width="1"/>
<text x="727.3" y="325.2" font-size="9.72" fill="#fff" letter-spacing="-0.13">2004-2023</text>
<path d="M702.3 335.5h20.3" stroke="#fde725" stroke-width="1"/>
<text x="727.3" y="339.1" font-size="9.72" fill="#fff" letter-spacing="-0.13">2005-2024</text>
<path d="M611.2 385h21.6" stroke="#fffdf0" stroke-width="2.1"/>
<text x="638.3" y="388.6" font-size="9.72" fill="#fff">Mittelwert 1961-2024</text>
<rect x="612.3" y="395.4" width="20.4" height="7.2" fill="#4e4e4e" stroke="#666" stroke-width="0.7"/>
<text x="638.3" y="402.7" font-size="9.72" fill="#fff">Min-Max 1961-2024</text>
<path d="M611.2 413h21.6" stroke="#ff0000" stroke-width="2.1"/>
<text x="638.3" y="416.5" font-size="9.72" fill="#fff" letter-spacing="-0.2">2025</text>
<path d="M612 435.3h20.8" stroke="#1fb2e8" stroke-width="3"/>
<text x="638.3" y="430.2" font-size="9.72" fill="#fff">aktuelles 31-Tage Zeitfenster</text>
<text x="638.3" y="442.0" font-size="9.72" fill="#fff">28. Jun bis 28. Jul</text>
<text x="612.6" y="473" font-size="8.33" fill="#fff">Niederschlagssumme 28. Jun bis 28. Jul</text>
<text x="613" y="483.0" font-size="8.33" fill="#e0e0e0">aktuell:</text><text x="696.6" y="483.0" font-size="8.33" fill="#a0a0a0" text-anchor="end" letter-spacing="-0.1">192,1mm</text>
<text x="613" y="492.8" font-size="8.33" fill="#e0e0e0">Maximum:</text><text x="696.6" y="492.8" font-size="8.33" fill="#a0a0a0" text-anchor="end" letter-spacing="-0.1">245,4mm</text><text x="702.6" y="492.8" font-size="8.33" fill="#a0a0a0" letter-spacing="-0.2">(1976)</text>
<text x="613" y="503.8" font-size="8.33" fill="#e0e0e0">Minimum:</text><text x="696.6" y="503.8" font-size="8.33" fill="#a0a0a0" text-anchor="end" letter-spacing="-0.1">47,2mm</text><text x="702.6" y="503.8" font-size="8.33" fill="#a0a0a0" letter-spacing="-0.2">(2014)</text>
<text x="612.6" y="520.9" font-size="8.33" fill="#fff">Mitteltemperatur 28. Jun bis 28. Jul</text>
<text x="613" y="532.4" font-size="8.33" fill="#e0e0e0">aktuell:</text><text x="697" y="532.4" font-size="8.33" fill="#a0a0a0" text-anchor="end" letter-spacing="-0.1">17,3°C</text>
<text x="613" y="541.9" font-size="8.33" fill="#e0e0e0">Maximum:</text><text x="697" y="541.9" font-size="8.33" fill="#a0a0a0" text-anchor="end" letter-spacing="-0.1">19,6°C</text><text x="702.6" y="541.9" font-size="8.33" fill="#a0a0a0" letter-spacing="-0.2">(2016)</text>
<text x="613" y="551.8" font-size="8.33" fill="#e0e0e0">Minimum:</text><text x="697" y="551.8" font-size="8.33" fill="#a0a0a0" text-anchor="end" letter-spacing="-0.1">12,9°C</text><text x="702.6" y="551.8" font-size="8.33" fill="#a0a0a0" letter-spacing="-0.2">(1961)</text>
</svg></body></html>
